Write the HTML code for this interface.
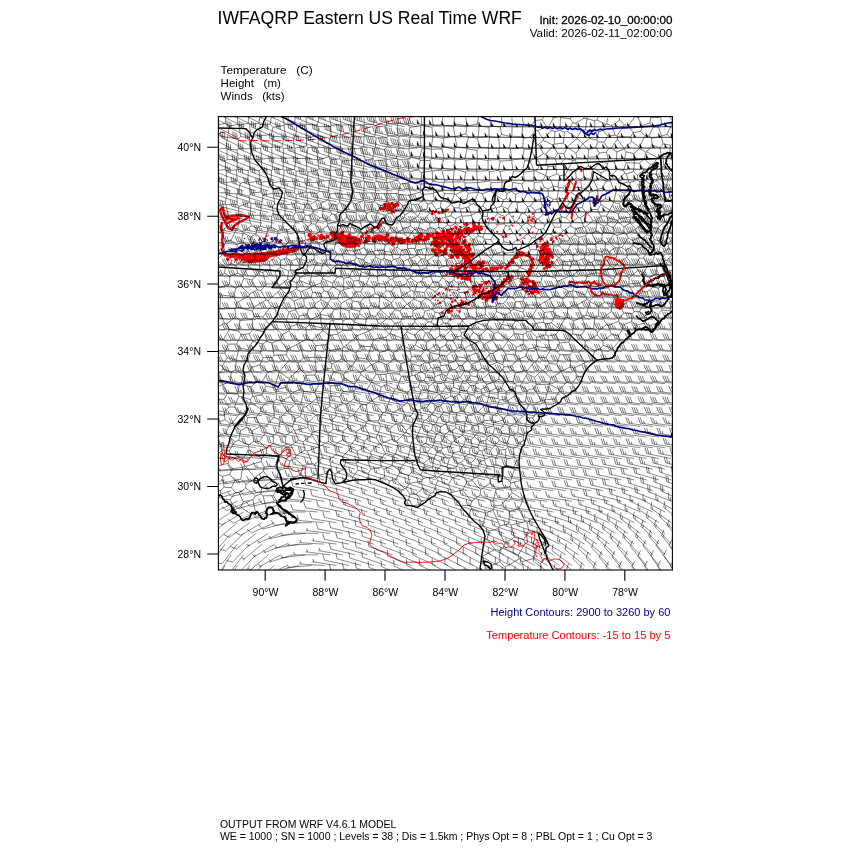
<!DOCTYPE html>
<html><head><meta charset="utf-8"><title>IWFAQRP Eastern US Real Time WRF</title>
<style>html,body{margin:0;padding:0;background:#fff}body{width:850px;height:850px;overflow:hidden;font-family:"Liberation Sans",sans-serif}svg{display:block;will-change:transform}</style></head>
<body>
<svg width="850" height="850" viewBox="0 0 850 850" font-family="'Liberation Sans', sans-serif">
<defs><clipPath id="fr"><rect x="218.4" y="116.6" width="454" height="453.4"/></clipPath><mask id="tm"><rect width="850" height="850" fill="#fff"/></mask></defs>
<rect width="850" height="850" fill="#fff"/>
<g clip-path="url(#fr)" fill="none" stroke-linecap="butt" stroke-linejoin="round">
<path d="M224,253 240,254 260,253 276,251 290,248 298,247 299,250 290,253 280,255 270,257 266,261 258,262 250,263 244,260 238,258 230,257 224,256ZM338,238 344,235 352,236 358,238 360,242 356,247 349,248 342,246 338,242ZM615,299 619,298 623,300 623,306 620,309 616,307.5 615,303Z" fill="#f00" stroke="#f00" stroke-width="0.8"/>
<path d="M220,209 223,208 224,214 226,217 234,216 242,215 249,217 244,220 238,223 234,226 232,230 228,228 224,220 221,214 220,209M222,222 221,228 223,234 222,240 223,246 222,250 225,253M226,219 232,219 238,218.5 230,222 226,224" stroke="#f00" stroke-width="2.4" fill="none"/>
<path d="M379,208.7a1.8,1.8 0 1,0 3.6,0a1.8,1.8 0 1,0 -3.6,0ZM380.1,208.1a1.1,1.1 0 1,0 2.3,0a1.1,1.1 0 1,0 -2.3,0ZM392.4,211.9a1.2,1.2 0 1,0 2.4,0a1.2,1.2 0 1,0 -2.4,0ZM390.1,205.1a0.8,0.8 0 1,0 1.6,0a0.8,0.8 0 1,0 -1.6,0ZM387.3,205.8a2,2 0 1,0 3.9,0a2,2 0 1,0 -3.9,0ZM386,205.3a0.7,0.7 0 1,0 1.4,0a0.7,0.7 0 1,0 -1.4,0ZM386.7,206.7a0.7,0.7 0 1,0 1.5,0a0.7,0.7 0 1,0 -1.5,0ZM389.1,208.1a1,1 0 1,0 2,0a1,1 0 1,0 -2,0ZM382.2,208a2,2 0 1,0 4,0a2,2 0 1,0 -4,0ZM387.5,203.2a0.8,0.8 0 1,0 1.5,0a0.8,0.8 0 1,0 -1.5,0ZM387.8,208.7a1.5,1.5 0 1,0 2.9,0a1.5,1.5 0 1,0 -2.9,0ZM389.4,206.9a0.8,0.8 0 1,0 1.5,0a0.8,0.8 0 1,0 -1.5,0ZM395.2,204.3a1.9,1.9 0 1,0 3.9,0a1.9,1.9 0 1,0 -3.9,0ZM386.4,208.1a1.2,1.2 0 1,0 2.4,0a1.2,1.2 0 1,0 -2.4,0ZM390.3,203.5a0.7,0.7 0 1,0 1.4,0a0.7,0.7 0 1,0 -1.4,0ZM389.4,204.7a0.8,0.8 0 1,0 1.6,0a0.8,0.8 0 1,0 -1.6,0ZM390.6,207.9a1.5,1.5 0 1,0 3.1,0a1.5,1.5 0 1,0 -3.1,0ZM393.3,212.2a1,1 0 1,0 1.9,0a1,1 0 1,0 -1.9,0ZM395.1,210.1a0.8,0.8 0 1,0 1.5,0a0.8,0.8 0 1,0 -1.5,0ZM390.4,203.4a1.7,1.7 0 1,0 3.4,0a1.7,1.7 0 1,0 -3.4,0ZM390.2,211.4a1.6,1.6 0 1,0 3.3,0a1.6,1.6 0 1,0 -3.3,0ZM385.9,205.4a2,2 0 1,0 3.9,0a2,2 0 1,0 -3.9,0ZM389.9,210.4a1.5,1.5 0 1,0 3,0a1.5,1.5 0 1,0 -3,0ZM386.3,210.3a0.7,0.7 0 1,0 1.4,0a0.7,0.7 0 1,0 -1.4,0ZM397.6,210.2a0.8,0.8 0 1,0 1.6,0a0.8,0.8 0 1,0 -1.6,0ZM383.2,204.4a1,1 0 1,0 1.9,0a1,1 0 1,0 -1.9,0ZM397.2,205.7a1.1,1.1 0 1,0 2.3,0a1.1,1.1 0 1,0 -2.3,0ZM392.5,204.9a0.7,0.7 0 1,0 1.5,0a0.7,0.7 0 1,0 -1.5,0ZM388.6,209.9a1.4,1.4 0 1,0 2.8,0a1.4,1.4 0 1,0 -2.8,0ZM392.7,205.9a1.9,1.9 0 1,0 3.7,0a1.9,1.9 0 1,0 -3.7,0ZM386.2,208a0.7,0.7 0 1,0 1.4,0a0.7,0.7 0 1,0 -1.4,0ZM394,206.2a1.3,1.3 0 1,0 2.7,0a1.3,1.3 0 1,0 -2.7,0ZM384.1,204.9a0.7,0.7 0 1,0 1.5,0a0.7,0.7 0 1,0 -1.5,0ZM388.7,205.3a0.8,0.8 0 1,0 1.5,0a0.8,0.8 0 1,0 -1.5,0ZM383.6,204.6a1.8,1.8 0 1,0 3.6,0a1.8,1.8 0 1,0 -3.6,0ZM389.6,207.8a0.8,0.8 0 1,0 1.6,0a0.8,0.8 0 1,0 -1.6,0ZM386.8,207.5a0.7,0.7 0 1,0 1.5,0a0.7,0.7 0 1,0 -1.5,0ZM382.6,211.3a0.7,0.7 0 1,0 1.4,0a0.7,0.7 0 1,0 -1.4,0ZM385.7,201.4a0.7,0.7 0 1,0 1.5,0a0.7,0.7 0 1,0 -1.5,0ZM451.9,246.4a2,2 0 1,0 4.1,0a2,2 0 1,0 -4.1,0ZM467,251.2a1.6,1.6 0 1,0 3.2,0a1.6,1.6 0 1,0 -3.2,0ZM462.1,241.7a1.5,1.5 0 1,0 3,0a1.5,1.5 0 1,0 -3,0ZM463.1,237.1a1.4,1.4 0 1,0 2.8,0a1.4,1.4 0 1,0 -2.8,0ZM434.3,254a1.4,1.4 0 1,0 2.7,0a1.4,1.4 0 1,0 -2.7,0ZM447.3,237.2a1.6,1.6 0 1,0 3.2,0a1.6,1.6 0 1,0 -3.2,0ZM434.3,241.3a1.9,1.9 0 1,0 3.7,0a1.9,1.9 0 1,0 -3.7,0ZM438.2,246.8a1.5,1.5 0 1,0 3.1,0a1.5,1.5 0 1,0 -3.1,0ZM460.8,242.7a0.8,0.8 0 1,0 1.6,0a0.8,0.8 0 1,0 -1.6,0ZM451.8,251.2a2,2 0 1,0 4.1,0a2,2 0 1,0 -4.1,0ZM439.9,237.8a2,2 0 1,0 4,0a2,2 0 1,0 -4,0ZM454.5,255.1a1.8,1.8 0 1,0 3.5,0a1.8,1.8 0 1,0 -3.5,0ZM434.5,253.9a1,1 0 1,0 1.9,0a1,1 0 1,0 -1.9,0ZM461.2,254a1.9,1.9 0 1,0 3.7,0a1.9,1.9 0 1,0 -3.7,0ZM462.2,243.8a0.8,0.8 0 1,0 1.7,0a0.8,0.8 0 1,0 -1.7,0ZM438.1,248.2a0.9,0.9 0 1,0 1.7,0a0.9,0.9 0 1,0 -1.7,0ZM435.4,246.3a1.9,1.9 0 1,0 3.7,0a1.9,1.9 0 1,0 -3.7,0ZM467.4,244.9a0.8,0.8 0 1,0 1.6,0a0.8,0.8 0 1,0 -1.6,0ZM437,242.7a1.7,1.7 0 1,0 3.5,0a1.7,1.7 0 1,0 -3.5,0ZM458.3,246.6a1.1,1.1 0 1,0 2.2,0a1.1,1.1 0 1,0 -2.2,0ZM450.9,250.9a0.8,0.8 0 1,0 1.6,0a0.8,0.8 0 1,0 -1.6,0ZM437.8,238.9a1.4,1.4 0 1,0 2.8,0a1.4,1.4 0 1,0 -2.8,0ZM455.7,255.7a0.8,0.8 0 1,0 1.7,0a0.8,0.8 0 1,0 -1.7,0ZM467.2,246.7a1.6,1.6 0 1,0 3.1,0a1.6,1.6 0 1,0 -3.1,0ZM455.4,252.5a1,1 0 1,0 2,0a1,1 0 1,0 -2,0ZM443.4,235.7a1.4,1.4 0 1,0 2.7,0a1.4,1.4 0 1,0 -2.7,0ZM449.9,237a1.7,1.7 0 1,0 3.5,0a1.7,1.7 0 1,0 -3.5,0ZM454.5,243.9a2.1,2.1 0 1,0 4.2,0a2.1,2.1 0 1,0 -4.2,0ZM448.5,241.3a1.1,1.1 0 1,0 2.2,0a1.1,1.1 0 1,0 -2.2,0ZM434.4,254.2a2,2 0 1,0 3.9,0a2,2 0 1,0 -3.9,0ZM446.8,239.9a2,2 0 1,0 4,0a2,2 0 1,0 -4,0ZM459.2,239.4a0.8,0.8 0 1,0 1.6,0a0.8,0.8 0 1,0 -1.6,0ZM430.8,250.1a1.7,1.7 0 1,0 3.4,0a1.7,1.7 0 1,0 -3.4,0ZM445.4,246.2a1.8,1.8 0 1,0 3.6,0a1.8,1.8 0 1,0 -3.6,0ZM455.9,253.2a1.7,1.7 0 1,0 3.5,0a1.7,1.7 0 1,0 -3.5,0ZM455.5,249.9a1.2,1.2 0 1,0 2.4,0a1.2,1.2 0 1,0 -2.4,0ZM459.3,249.3a1.2,1.2 0 1,0 2.4,0a1.2,1.2 0 1,0 -2.4,0ZM436.8,237.6a1.9,1.9 0 1,0 3.7,0a1.9,1.9 0 1,0 -3.7,0ZM437.3,243.1a1,1 0 1,0 2,0a1,1 0 1,0 -2,0ZM468.5,243.8a1.3,1.3 0 1,0 2.6,0a1.3,1.3 0 1,0 -2.6,0ZM455.7,256.6a1.2,1.2 0 1,0 2.4,0a1.2,1.2 0 1,0 -2.4,0ZM445.8,244.7a2.2,2.2 0 1,0 4.4,0a2.2,2.2 0 1,0 -4.4,0ZM433.4,245.1a1.8,1.8 0 1,0 3.5,0a1.8,1.8 0 1,0 -3.5,0ZM432.6,242a1.5,1.5 0 1,0 3,0a1.5,1.5 0 1,0 -3,0ZM467.9,250.5a1.1,1.1 0 1,0 2.1,0a1.1,1.1 0 1,0 -2.1,0ZM448,256.1a0.8,0.8 0 1,0 1.6,0a0.8,0.8 0 1,0 -1.6,0ZM464.6,240a1,1 0 1,0 1.9,0a1,1 0 1,0 -1.9,0ZM456.7,243.9a1.7,1.7 0 1,0 3.4,0a1.7,1.7 0 1,0 -3.4,0ZM460.4,246.8a0.9,0.9 0 1,0 1.8,0a0.9,0.9 0 1,0 -1.8,0ZM444.7,238.7a1,1 0 1,0 2,0a1,1 0 1,0 -2,0ZM444,243.1a1.6,1.6 0 1,0 3.2,0a1.6,1.6 0 1,0 -3.2,0ZM463.6,253.5a0.9,0.9 0 1,0 1.8,0a0.9,0.9 0 1,0 -1.8,0ZM456.2,256.5a1.1,1.1 0 1,0 2.2,0a1.1,1.1 0 1,0 -2.2,0ZM438.2,252.5a1.2,1.2 0 1,0 2.4,0a1.2,1.2 0 1,0 -2.4,0ZM455.3,251.1a1.4,1.4 0 1,0 2.8,0a1.4,1.4 0 1,0 -2.8,0ZM436.6,237.6a1.9,1.9 0 1,0 3.8,0a1.9,1.9 0 1,0 -3.8,0ZM443.4,253.2a2.1,2.1 0 1,0 4.2,0a2.1,2.1 0 1,0 -4.2,0ZM456.5,242.9a0.9,0.9 0 1,0 1.8,0a0.9,0.9 0 1,0 -1.8,0ZM448.4,239.1a0.8,0.8 0 1,0 1.6,0a0.8,0.8 0 1,0 -1.6,0ZM457.4,237.8a1.7,1.7 0 1,0 3.5,0a1.7,1.7 0 1,0 -3.5,0ZM460.7,252.5a1.5,1.5 0 1,0 3,0a1.5,1.5 0 1,0 -3,0ZM460,246.7a1.5,1.5 0 1,0 3,0a1.5,1.5 0 1,0 -3,0ZM463.3,253.1a1.7,1.7 0 1,0 3.3,0a1.7,1.7 0 1,0 -3.3,0ZM452.4,249.2a0.8,0.8 0 1,0 1.6,0a0.8,0.8 0 1,0 -1.6,0ZM469.2,248.7a1.2,1.2 0 1,0 2.4,0a1.2,1.2 0 1,0 -2.4,0ZM442.1,243.9a0.9,0.9 0 1,0 1.7,0a0.9,0.9 0 1,0 -1.7,0ZM453.5,247.8a2.2,2.2 0 1,0 4.3,0a2.2,2.2 0 1,0 -4.3,0ZM441.6,254.9a1.2,1.2 0 1,0 2.4,0a1.2,1.2 0 1,0 -2.4,0ZM455.5,241.3a1.1,1.1 0 1,0 2.2,0a1.1,1.1 0 1,0 -2.2,0ZM449.1,236.8a0.9,0.9 0 1,0 1.7,0a0.9,0.9 0 1,0 -1.7,0ZM459.8,255.3a0.8,0.8 0 1,0 1.6,0a0.8,0.8 0 1,0 -1.6,0ZM438.6,239.3a1.3,1.3 0 1,0 2.7,0a1.3,1.3 0 1,0 -2.7,0ZM453.1,239.5a2,2 0 1,0 4.1,0a2,2 0 1,0 -4.1,0ZM455.3,237.6a2,2 0 1,0 4,0a2,2 0 1,0 -4,0ZM462.9,249.5a1.1,1.1 0 1,0 2.3,0a1.1,1.1 0 1,0 -2.3,0ZM464.3,246.6a1.4,1.4 0 1,0 2.8,0a1.4,1.4 0 1,0 -2.8,0ZM440.7,241.4a2.1,2.1 0 1,0 4.3,0a2.1,2.1 0 1,0 -4.3,0ZM442.4,238.9a1.5,1.5 0 1,0 2.9,0a1.5,1.5 0 1,0 -2.9,0ZM432.4,241.3a1,1 0 1,0 2.1,0a1,1 0 1,0 -2.1,0ZM453,245.8a1.4,1.4 0 1,0 2.7,0a1.4,1.4 0 1,0 -2.7,0ZM449.1,239.1a1,1 0 1,0 2.1,0a1,1 0 1,0 -2.1,0ZM459.9,247.9a1,1 0 1,0 2,0a1,1 0 1,0 -2,0ZM458.7,250a2,2 0 1,0 4.1,0a2,2 0 1,0 -4.1,0ZM431,242.7a2.2,2.2 0 1,0 4.4,0a2.2,2.2 0 1,0 -4.4,0ZM449.2,243.3a2.1,2.1 0 1,0 4.2,0a2.1,2.1 0 1,0 -4.2,0ZM459.7,254.6a0.8,0.8 0 1,0 1.7,0a0.8,0.8 0 1,0 -1.7,0ZM432.7,251.3a1.3,1.3 0 1,0 2.7,0a1.3,1.3 0 1,0 -2.7,0ZM441,251.5a1.4,1.4 0 1,0 2.9,0a1.4,1.4 0 1,0 -2.9,0ZM437.5,243.3a1.6,1.6 0 1,0 3.1,0a1.6,1.6 0 1,0 -3.1,0ZM449.4,247.4a0.9,0.9 0 1,0 1.8,0a0.9,0.9 0 1,0 -1.8,0ZM458.2,247.4a1.7,1.7 0 1,0 3.3,0a1.7,1.7 0 1,0 -3.3,0ZM448.7,243.1a2.3,2.3 0 1,0 4.5,0a2.3,2.3 0 1,0 -4.5,0ZM454.8,244.8a2,2 0 1,0 4.1,0a2,2 0 1,0 -4.1,0ZM432.6,250.4a2.2,2.2 0 1,0 4.4,0a2.2,2.2 0 1,0 -4.4,0ZM449.6,256.9a2.1,2.1 0 1,0 4.2,0a2.1,2.1 0 1,0 -4.2,0ZM445.7,236a2.2,2.2 0 1,0 4.5,0a2.2,2.2 0 1,0 -4.5,0ZM440,247.7a0.8,0.8 0 1,0 1.6,0a0.8,0.8 0 1,0 -1.6,0ZM441.9,245.2a1.1,1.1 0 1,0 2.2,0a1.1,1.1 0 1,0 -2.2,0ZM441.5,237.4a0.9,0.9 0 1,0 1.8,0a0.9,0.9 0 1,0 -1.8,0ZM435,241.4a1.7,1.7 0 1,0 3.4,0a1.7,1.7 0 1,0 -3.4,0ZM449.6,250.4a2,2 0 1,0 4,0a2,2 0 1,0 -4,0ZM441.6,251.5a1.5,1.5 0 1,0 3,0a1.5,1.5 0 1,0 -3,0ZM453.2,252.3a2.2,2.2 0 1,0 4.5,0a2.2,2.2 0 1,0 -4.5,0ZM455.5,246.8a0.9,0.9 0 1,0 1.8,0a0.9,0.9 0 1,0 -1.8,0ZM465.9,252.7a0.8,0.8 0 1,0 1.6,0a0.8,0.8 0 1,0 -1.6,0ZM437.6,253.3a0.9,0.9 0 1,0 1.7,0a0.9,0.9 0 1,0 -1.7,0ZM453.4,243a0.8,0.8 0 1,0 1.6,0a0.8,0.8 0 1,0 -1.6,0ZM451.2,239.8a1.1,1.1 0 1,0 2.1,0a1.1,1.1 0 1,0 -2.1,0ZM463.7,245.5a1.3,1.3 0 1,0 2.5,0a1.3,1.3 0 1,0 -2.5,0ZM436.6,249.8a0.8,0.8 0 1,0 1.6,0a0.8,0.8 0 1,0 -1.6,0ZM454.7,243.4a0.8,0.8 0 1,0 1.6,0a0.8,0.8 0 1,0 -1.6,0ZM432.8,241.9a1.5,1.5 0 1,0 3,0a1.5,1.5 0 1,0 -3,0ZM459.2,248.9a1.5,1.5 0 1,0 2.9,0a1.5,1.5 0 1,0 -2.9,0ZM461.1,249.8a1.6,1.6 0 1,0 3.2,0a1.6,1.6 0 1,0 -3.2,0ZM445.7,239.1a0.8,0.8 0 1,0 1.7,0a0.8,0.8 0 1,0 -1.7,0ZM444.2,249.3a1.6,1.6 0 1,0 3.1,0a1.6,1.6 0 1,0 -3.1,0ZM445.3,253.4a1,1 0 1,0 2.1,0a1,1 0 1,0 -2.1,0ZM450.2,254.5a1,1 0 1,0 2,0a1,1 0 1,0 -2,0ZM439.6,252.8a1,1 0 1,0 2.1,0a1,1 0 1,0 -2.1,0ZM456.1,256.9a1.8,1.8 0 1,0 3.5,0a1.8,1.8 0 1,0 -3.5,0ZM440.3,243.8a1.7,1.7 0 1,0 3.3,0a1.7,1.7 0 1,0 -3.3,0ZM459.6,241a0.8,0.8 0 1,0 1.6,0a0.8,0.8 0 1,0 -1.6,0ZM430.1,244.9a1.3,1.3 0 1,0 2.6,0a1.3,1.3 0 1,0 -2.6,0ZM451.7,242.9a1.2,1.2 0 1,0 2.5,0a1.2,1.2 0 1,0 -2.5,0ZM451.8,242.3a0.8,0.8 0 1,0 1.6,0a0.8,0.8 0 1,0 -1.6,0ZM443.1,240.6a0.9,0.9 0 1,0 1.7,0a0.9,0.9 0 1,0 -1.7,0ZM451.2,235.1a1.7,1.7 0 1,0 3.4,0a1.7,1.7 0 1,0 -3.4,0ZM437.5,251a2.2,2.2 0 1,0 4.4,0a2.2,2.2 0 1,0 -4.4,0ZM441.2,236.7a1.2,1.2 0 1,0 2.5,0a1.2,1.2 0 1,0 -2.5,0ZM463.1,241.3a1.8,1.8 0 1,0 3.6,0a1.8,1.8 0 1,0 -3.6,0ZM437.2,237.5a1.6,1.6 0 1,0 3.1,0a1.6,1.6 0 1,0 -3.1,0ZM455.2,237.1a1.1,1.1 0 1,0 2.1,0a1.1,1.1 0 1,0 -2.1,0ZM465.4,245.5a0.8,0.8 0 1,0 1.7,0a0.8,0.8 0 1,0 -1.7,0ZM454.8,255.1a0.9,0.9 0 1,0 1.9,0a0.9,0.9 0 1,0 -1.9,0ZM455.5,245.4a0.9,0.9 0 1,0 1.9,0a0.9,0.9 0 1,0 -1.9,0ZM451.8,240.4a0.8,0.8 0 1,0 1.6,0a0.8,0.8 0 1,0 -1.6,0ZM449.9,270a1.8,1.8 0 1,0 3.5,0a1.8,1.8 0 1,0 -3.5,0ZM471.9,268.7a0.7,0.7 0 1,0 1.5,0a0.7,0.7 0 1,0 -1.5,0ZM467.4,272.3a1.4,1.4 0 1,0 2.7,0a1.4,1.4 0 1,0 -2.7,0ZM459.2,265.6a0.7,0.7 0 1,0 1.5,0a0.7,0.7 0 1,0 -1.5,0ZM464.1,271.6a1.4,1.4 0 1,0 2.9,0a1.4,1.4 0 1,0 -2.9,0ZM459.7,275a1.6,1.6 0 1,0 3.1,0a1.6,1.6 0 1,0 -3.1,0ZM456,268.6a1.7,1.7 0 1,0 3.4,0a1.7,1.7 0 1,0 -3.4,0ZM475.3,265.2a1.1,1.1 0 1,0 2.2,0a1.1,1.1 0 1,0 -2.2,0ZM479.5,266.2a0.8,0.8 0 1,0 1.5,0a0.8,0.8 0 1,0 -1.5,0ZM469.7,262.4a1.1,1.1 0 1,0 2.1,0a1.1,1.1 0 1,0 -2.1,0ZM455.5,267.5a2,2 0 1,0 3.9,0a2,2 0 1,0 -3.9,0ZM461.4,264.3a0.7,0.7 0 1,0 1.4,0a0.7,0.7 0 1,0 -1.4,0ZM454.1,269a1.5,1.5 0 1,0 3.1,0a1.5,1.5 0 1,0 -3.1,0ZM470,270.9a0.8,0.8 0 1,0 1.7,0a0.8,0.8 0 1,0 -1.7,0ZM475.4,267.8a1.1,1.1 0 1,0 2.1,0a1.1,1.1 0 1,0 -2.1,0ZM473.9,270.4a1.4,1.4 0 1,0 2.7,0a1.4,1.4 0 1,0 -2.7,0ZM477.3,271.9a1,1 0 1,0 2,0a1,1 0 1,0 -2,0ZM480.7,265.8a1.7,1.7 0 1,0 3.3,0a1.7,1.7 0 1,0 -3.3,0ZM469.8,275.3a1.1,1.1 0 1,0 2.1,0a1.1,1.1 0 1,0 -2.1,0ZM462.4,272.8a0.7,0.7 0 1,0 1.4,0a0.7,0.7 0 1,0 -1.4,0ZM461,274.3a1.4,1.4 0 1,0 2.7,0a1.4,1.4 0 1,0 -2.7,0ZM475.5,271.7a1,1 0 1,0 2,0a1,1 0 1,0 -2,0ZM465,267.2a0.9,0.9 0 1,0 1.8,0a0.9,0.9 0 1,0 -1.8,0ZM463.7,263.7a1.1,1.1 0 1,0 2.2,0a1.1,1.1 0 1,0 -2.2,0ZM463.3,268.2a2,2 0 1,0 4,0a2,2 0 1,0 -4,0ZM468.3,264.1a1.2,1.2 0 1,0 2.4,0a1.2,1.2 0 1,0 -2.4,0ZM463,273.6a1.1,1.1 0 1,0 2.2,0a1.1,1.1 0 1,0 -2.2,0ZM462.9,273.2a0.9,0.9 0 1,0 1.8,0a0.9,0.9 0 1,0 -1.8,0ZM461.6,264a0.8,0.8 0 1,0 1.5,0a0.8,0.8 0 1,0 -1.5,0ZM463.9,262.7a1.9,1.9 0 1,0 3.7,0a1.9,1.9 0 1,0 -3.7,0ZM471.8,269.8a0.7,0.7 0 1,0 1.4,0a0.7,0.7 0 1,0 -1.4,0ZM470.6,273.5a1.6,1.6 0 1,0 3.2,0a1.6,1.6 0 1,0 -3.2,0ZM461.9,266.6a0.8,0.8 0 1,0 1.5,0a0.8,0.8 0 1,0 -1.5,0ZM469.5,270.6a0.9,0.9 0 1,0 1.8,0a0.9,0.9 0 1,0 -1.8,0ZM452.9,271.2a1.2,1.2 0 1,0 2.5,0a1.2,1.2 0 1,0 -2.5,0ZM458,271.5a0.9,0.9 0 1,0 1.8,0a0.9,0.9 0 1,0 -1.8,0ZM477.7,268.6a1.3,1.3 0 1,0 2.7,0a1.3,1.3 0 1,0 -2.7,0ZM476.8,268.6a0.9,0.9 0 1,0 1.7,0a0.9,0.9 0 1,0 -1.7,0ZM462.8,265.7a0.9,0.9 0 1,0 1.8,0a0.9,0.9 0 1,0 -1.8,0ZM478.5,263.7a0.9,0.9 0 1,0 1.7,0a0.9,0.9 0 1,0 -1.7,0ZM459,268a1.4,1.4 0 1,0 2.7,0a1.4,1.4 0 1,0 -2.7,0ZM480,267.4a1.4,1.4 0 1,0 2.7,0a1.4,1.4 0 1,0 -2.7,0ZM469.2,264.6a1.9,1.9 0 1,0 3.7,0a1.9,1.9 0 1,0 -3.7,0ZM460.7,265.1a0.7,0.7 0 1,0 1.4,0a0.7,0.7 0 1,0 -1.4,0ZM466.2,275.9a1.3,1.3 0 1,0 2.7,0a1.3,1.3 0 1,0 -2.7,0ZM457.7,273.1a0.7,0.7 0 1,0 1.4,0a0.7,0.7 0 1,0 -1.4,0ZM471.6,267.5a1.8,1.8 0 1,0 3.5,0a1.8,1.8 0 1,0 -3.5,0ZM451.1,265.9a1.1,1.1 0 1,0 2.2,0a1.1,1.1 0 1,0 -2.2,0ZM460.5,266.2a1.6,1.6 0 1,0 3.2,0a1.6,1.6 0 1,0 -3.2,0ZM466.3,275.8a1.6,1.6 0 1,0 3.2,0a1.6,1.6 0 1,0 -3.2,0ZM472.2,274.9a0.7,0.7 0 1,0 1.4,0a0.7,0.7 0 1,0 -1.4,0ZM472.4,268.8a2,2 0 1,0 3.9,0a2,2 0 1,0 -3.9,0ZM464.9,262.1a1.2,1.2 0 1,0 2.3,0a1.2,1.2 0 1,0 -2.3,0ZM467,267a0.8,0.8 0 1,0 1.5,0a0.8,0.8 0 1,0 -1.5,0ZM459.6,268.7a0.9,0.9 0 1,0 1.8,0a0.9,0.9 0 1,0 -1.8,0ZM459.2,266.4a1.1,1.1 0 1,0 2.1,0a1.1,1.1 0 1,0 -2.1,0ZM464.8,275.7a0.8,0.8 0 1,0 1.7,0a0.8,0.8 0 1,0 -1.7,0ZM463.6,266.7a1.3,1.3 0 1,0 2.6,0a1.3,1.3 0 1,0 -2.6,0ZM455.1,264a0.9,0.9 0 1,0 1.8,0a0.9,0.9 0 1,0 -1.8,0ZM455.1,271.5a1.1,1.1 0 1,0 2.2,0a1.1,1.1 0 1,0 -2.2,0ZM478.1,263.9a1.1,1.1 0 1,0 2.1,0a1.1,1.1 0 1,0 -2.1,0ZM482.9,293.5a1.4,1.4 0 1,0 2.9,0a1.4,1.4 0 1,0 -2.9,0ZM490.3,292.8a1,1 0 1,0 2,0a1,1 0 1,0 -2,0ZM474,290.9a0.7,0.7 0 1,0 1.4,0a0.7,0.7 0 1,0 -1.4,0ZM480.6,281.5a0.8,0.8 0 1,0 1.6,0a0.8,0.8 0 1,0 -1.6,0ZM481.3,298.8a0.8,0.8 0 1,0 1.6,0a0.8,0.8 0 1,0 -1.6,0ZM492.3,284.6a1.6,1.6 0 1,0 3.2,0a1.6,1.6 0 1,0 -3.2,0ZM494,298.2a2,2 0 1,0 3.9,0a2,2 0 1,0 -3.9,0ZM493.6,291a0.8,0.8 0 1,0 1.7,0a0.8,0.8 0 1,0 -1.7,0ZM482.3,293.6a1.8,1.8 0 1,0 3.6,0a1.8,1.8 0 1,0 -3.6,0ZM489.6,283.4a0.9,0.9 0 1,0 1.8,0a0.9,0.9 0 1,0 -1.8,0ZM482.3,289.7a0.7,0.7 0 1,0 1.4,0a0.7,0.7 0 1,0 -1.4,0ZM492.7,286.8a1,1 0 1,0 2.1,0a1,1 0 1,0 -2.1,0ZM477.6,292a0.8,0.8 0 1,0 1.6,0a0.8,0.8 0 1,0 -1.6,0ZM477.5,298.4a0.7,0.7 0 1,0 1.5,0a0.7,0.7 0 1,0 -1.5,0ZM489.6,292.2a1.4,1.4 0 1,0 2.9,0a1.4,1.4 0 1,0 -2.9,0ZM496.6,287.6a0.7,0.7 0 1,0 1.4,0a0.7,0.7 0 1,0 -1.4,0ZM486.2,298a1.4,1.4 0 1,0 2.8,0a1.4,1.4 0 1,0 -2.8,0ZM487.6,295.9a0.8,0.8 0 1,0 1.6,0a0.8,0.8 0 1,0 -1.6,0ZM485.4,297.9a1.9,1.9 0 1,0 3.8,0a1.9,1.9 0 1,0 -3.8,0ZM480.2,285.2a1.3,1.3 0 1,0 2.5,0a1.3,1.3 0 1,0 -2.5,0ZM472.1,294.7a1.1,1.1 0 1,0 2.2,0a1.1,1.1 0 1,0 -2.2,0ZM482.6,297.1a1.6,1.6 0 1,0 3.2,0a1.6,1.6 0 1,0 -3.2,0ZM492.4,294.5a1.5,1.5 0 1,0 3,0a1.5,1.5 0 1,0 -3,0ZM485.1,297.7a1.1,1.1 0 1,0 2.2,0a1.1,1.1 0 1,0 -2.2,0ZM487.9,290.8a1,1 0 1,0 2,0a1,1 0 1,0 -2,0ZM484.1,282.9a1.9,1.9 0 1,0 3.8,0a1.9,1.9 0 1,0 -3.8,0ZM477.8,291a1.1,1.1 0 1,0 2.3,0a1.1,1.1 0 1,0 -2.3,0ZM478.2,284.8a1.3,1.3 0 1,0 2.6,0a1.3,1.3 0 1,0 -2.6,0ZM487.7,281.3a1.1,1.1 0 1,0 2.1,0a1.1,1.1 0 1,0 -2.1,0ZM485.6,299.9a1.5,1.5 0 1,0 3.1,0a1.5,1.5 0 1,0 -3.1,0ZM486.4,300.5a0.8,0.8 0 1,0 1.5,0a0.8,0.8 0 1,0 -1.5,0ZM473.7,286.3a0.7,0.7 0 1,0 1.4,0a0.7,0.7 0 1,0 -1.4,0ZM488,295.3a0.7,0.7 0 1,0 1.4,0a0.7,0.7 0 1,0 -1.4,0ZM473,291.2a1,1 0 1,0 1.9,0a1,1 0 1,0 -1.9,0ZM471.6,286.7a1.6,1.6 0 1,0 3.2,0a1.6,1.6 0 1,0 -3.2,0ZM485.6,295.6a0.8,0.8 0 1,0 1.7,0a0.8,0.8 0 1,0 -1.7,0ZM494.2,292.9a1.2,1.2 0 1,0 2.5,0a1.2,1.2 0 1,0 -2.5,0ZM476.1,290a1.2,1.2 0 1,0 2.4,0a1.2,1.2 0 1,0 -2.4,0ZM489.3,296.6a0.7,0.7 0 1,0 1.5,0a0.7,0.7 0 1,0 -1.5,0ZM486,288.1a0.9,0.9 0 1,0 1.9,0a0.9,0.9 0 1,0 -1.9,0ZM478.8,295.3a2,2 0 1,0 4,0a2,2 0 1,0 -4,0ZM497.1,293.5a1.5,1.5 0 1,0 3,0a1.5,1.5 0 1,0 -3,0ZM491.3,290.6a1,1 0 1,0 2,0a1,1 0 1,0 -2,0ZM485.1,288.7a0.8,0.8 0 1,0 1.6,0a0.8,0.8 0 1,0 -1.6,0ZM489.9,288.1a0.9,0.9 0 1,0 1.8,0a0.9,0.9 0 1,0 -1.8,0ZM481.8,299.3a0.7,0.7 0 1,0 1.4,0a0.7,0.7 0 1,0 -1.4,0ZM486,297.3a1.1,1.1 0 1,0 2.3,0a1.1,1.1 0 1,0 -2.3,0ZM484.7,300.2a1.9,1.9 0 1,0 3.8,0a1.9,1.9 0 1,0 -3.8,0ZM477.3,296.6a2,2 0 1,0 4.1,0a2,2 0 1,0 -4.1,0ZM482.6,289.5a0.9,0.9 0 1,0 1.9,0a0.9,0.9 0 1,0 -1.9,0ZM482.8,288.7a0.9,0.9 0 1,0 1.7,0a0.9,0.9 0 1,0 -1.7,0ZM473.4,292.9a1.7,1.7 0 1,0 3.4,0a1.7,1.7 0 1,0 -3.4,0ZM487.5,298.4a0.7,0.7 0 1,0 1.5,0a0.7,0.7 0 1,0 -1.5,0ZM478.8,289.5a0.8,0.8 0 1,0 1.5,0a0.8,0.8 0 1,0 -1.5,0ZM529.9,292.4a0.8,0.8 0 1,0 1.6,0a0.8,0.8 0 1,0 -1.6,0ZM530.2,291.4a0.7,0.7 0 1,0 1.4,0a0.7,0.7 0 1,0 -1.4,0ZM525.9,279a0.8,0.8 0 1,0 1.6,0a0.8,0.8 0 1,0 -1.6,0ZM532.5,285.5a0.8,0.8 0 1,0 1.6,0a0.8,0.8 0 1,0 -1.6,0ZM527,279.8a0.9,0.9 0 1,0 1.7,0a0.9,0.9 0 1,0 -1.7,0ZM534,285.8a0.9,0.9 0 1,0 1.8,0a0.9,0.9 0 1,0 -1.8,0ZM525.9,284.7a0.9,0.9 0 1,0 1.8,0a0.9,0.9 0 1,0 -1.8,0ZM528.4,286.9a0.7,0.7 0 1,0 1.5,0a0.7,0.7 0 1,0 -1.5,0ZM526.8,284a0.8,0.8 0 1,0 1.6,0a0.8,0.8 0 1,0 -1.6,0ZM520.8,288.9a0.7,0.7 0 1,0 1.4,0a0.7,0.7 0 1,0 -1.4,0ZM526.3,280a1.3,1.3 0 1,0 2.7,0a1.3,1.3 0 1,0 -2.7,0ZM526.3,281.7a0.8,0.8 0 1,0 1.5,0a0.8,0.8 0 1,0 -1.5,0ZM521.9,288.7a1.6,1.6 0 1,0 3.2,0a1.6,1.6 0 1,0 -3.2,0ZM529,290.5a0.8,0.8 0 1,0 1.7,0a0.8,0.8 0 1,0 -1.7,0ZM528.7,286.9a0.7,0.7 0 1,0 1.4,0a0.7,0.7 0 1,0 -1.4,0ZM521.6,278.6a1.5,1.5 0 1,0 3,0a1.5,1.5 0 1,0 -3,0ZM533.4,284.1a1.2,1.2 0 1,0 2.5,0a1.2,1.2 0 1,0 -2.5,0ZM531.8,282.7a1.3,1.3 0 1,0 2.5,0a1.3,1.3 0 1,0 -2.5,0ZM531.2,281.4a1.2,1.2 0 1,0 2.4,0a1.2,1.2 0 1,0 -2.4,0ZM534.1,288.8a0.9,0.9 0 1,0 1.8,0a0.9,0.9 0 1,0 -1.8,0ZM534.3,287.4a0.8,0.8 0 1,0 1.7,0a0.8,0.8 0 1,0 -1.7,0ZM522.8,285.1a0.7,0.7 0 1,0 1.5,0a0.7,0.7 0 1,0 -1.5,0ZM522,289.4a0.7,0.7 0 1,0 1.5,0a0.7,0.7 0 1,0 -1.5,0ZM525.8,280.7a0.7,0.7 0 1,0 1.4,0a0.7,0.7 0 1,0 -1.4,0ZM524.4,290.9a0.7,0.7 0 1,0 1.5,0a0.7,0.7 0 1,0 -1.5,0ZM534.8,286a0.9,0.9 0 1,0 1.7,0a0.9,0.9 0 1,0 -1.7,0ZM534.6,287.6a0.7,0.7 0 1,0 1.4,0a0.7,0.7 0 1,0 -1.4,0ZM519.1,285.3a1,1 0 1,0 1.9,0a1,1 0 1,0 -1.9,0ZM525.9,289.6a0.7,0.7 0 1,0 1.4,0a0.7,0.7 0 1,0 -1.4,0ZM522.9,282.9a1.2,1.2 0 1,0 2.5,0a1.2,1.2 0 1,0 -2.5,0ZM530.8,292a1.2,1.2 0 1,0 2.3,0a1.2,1.2 0 1,0 -2.3,0ZM534,283.2a1.1,1.1 0 1,0 2.2,0a1.1,1.1 0 1,0 -2.2,0ZM522.3,288.7a0.8,0.8 0 1,0 1.6,0a0.8,0.8 0 1,0 -1.6,0ZM531.5,285.9a1,1 0 1,0 2,0a1,1 0 1,0 -2,0ZM524.9,291a1.8,1.8 0 1,0 3.7,0a1.8,1.8 0 1,0 -3.7,0ZM530.8,288.6a0.8,0.8 0 1,0 1.5,0a0.8,0.8 0 1,0 -1.5,0ZM526.2,280.5a0.7,0.7 0 1,0 1.4,0a0.7,0.7 0 1,0 -1.4,0ZM521.7,283.2a0.8,0.8 0 1,0 1.5,0a0.8,0.8 0 1,0 -1.5,0ZM534.1,283.8a0.8,0.8 0 1,0 1.7,0a0.8,0.8 0 1,0 -1.7,0ZM532.1,281.2a1.3,1.3 0 1,0 2.6,0a1.3,1.3 0 1,0 -2.6,0ZM519.5,285.5a0.9,0.9 0 1,0 1.7,0a0.9,0.9 0 1,0 -1.7,0ZM523.4,283.9a0.8,0.8 0 1,0 1.5,0a0.8,0.8 0 1,0 -1.5,0ZM526.1,288.8a1,1 0 1,0 2,0a1,1 0 1,0 -2,0ZM450.7,305.5a0.7,0.7 0 1,0 1.4,0a0.7,0.7 0 1,0 -1.4,0ZM458,311.6a1.2,1.2 0 1,0 2.5,0a1.2,1.2 0 1,0 -2.5,0ZM438.6,303a1.4,1.4 0 1,0 2.8,0a1.4,1.4 0 1,0 -2.8,0ZM450.3,298.7a0.8,0.8 0 1,0 1.5,0a0.8,0.8 0 1,0 -1.5,0ZM441.1,312.8a1.2,1.2 0 1,0 2.4,0a1.2,1.2 0 1,0 -2.4,0ZM434,296.2a1.1,1.1 0 1,0 2.3,0a1.1,1.1 0 1,0 -2.3,0ZM449.4,295.4a0.8,0.8 0 1,0 1.7,0a0.8,0.8 0 1,0 -1.7,0ZM442.5,293.4a0.7,0.7 0 1,0 1.5,0a0.7,0.7 0 1,0 -1.5,0ZM464.4,303.5a1.5,1.5 0 1,0 3,0a1.5,1.5 0 1,0 -3,0ZM454,300.7a1.1,1.1 0 1,0 2.3,0a1.1,1.1 0 1,0 -2.3,0ZM451.1,301.7a1.2,1.2 0 1,0 2.3,0a1.2,1.2 0 1,0 -2.3,0ZM450.2,304.7a0.8,0.8 0 1,0 1.5,0a0.8,0.8 0 1,0 -1.5,0ZM456.1,310.3a0.7,0.7 0 1,0 1.4,0a0.7,0.7 0 1,0 -1.4,0ZM432.2,297.9a0.8,0.8 0 1,0 1.7,0a0.8,0.8 0 1,0 -1.7,0ZM453,292.6a0.8,0.8 0 1,0 1.7,0a0.8,0.8 0 1,0 -1.7,0ZM460.2,300.4a1.1,1.1 0 1,0 2.3,0a1.1,1.1 0 1,0 -2.3,0ZM452.3,308.7a0.7,0.7 0 1,0 1.4,0a0.7,0.7 0 1,0 -1.4,0ZM456.5,297.8a0.9,0.9 0 1,0 1.8,0a0.9,0.9 0 1,0 -1.8,0ZM548.7,262.8a0.7,0.7 0 1,0 1.4,0a0.7,0.7 0 1,0 -1.4,0ZM542,253.5a1.3,1.3 0 1,0 2.6,0a1.3,1.3 0 1,0 -2.6,0ZM544.4,264a1,1 0 1,0 2.1,0a1,1 0 1,0 -2.1,0ZM542.6,262.5a0.7,0.7 0 1,0 1.4,0a0.7,0.7 0 1,0 -1.4,0ZM544.5,260.2a0.7,0.7 0 1,0 1.5,0a0.7,0.7 0 1,0 -1.5,0ZM538.9,257.1a1.7,1.7 0 1,0 3.4,0a1.7,1.7 0 1,0 -3.4,0ZM543.4,258.4a1.2,1.2 0 1,0 2.3,0a1.2,1.2 0 1,0 -2.3,0ZM544.8,249.1a0.7,0.7 0 1,0 1.4,0a0.7,0.7 0 1,0 -1.4,0ZM546.6,260.9a0.7,0.7 0 1,0 1.4,0a0.7,0.7 0 1,0 -1.4,0ZM543,268.6a0.7,0.7 0 1,0 1.4,0a0.7,0.7 0 1,0 -1.4,0ZM550.7,257a1.7,1.7 0 1,0 3.4,0a1.7,1.7 0 1,0 -3.4,0ZM546.4,255.5a2.1,2.1 0 1,0 4.1,0a2.1,2.1 0 1,0 -4.1,0ZM552,258.2a0.8,0.8 0 1,0 1.6,0a0.8,0.8 0 1,0 -1.6,0ZM540.8,263a1.3,1.3 0 1,0 2.7,0a1.3,1.3 0 1,0 -2.7,0ZM546.6,246.1a1.3,1.3 0 1,0 2.6,0a1.3,1.3 0 1,0 -2.6,0ZM541.5,263.2a1.9,1.9 0 1,0 3.9,0a1.9,1.9 0 1,0 -3.9,0ZM544.1,260.5a0.9,0.9 0 1,0 1.7,0a0.9,0.9 0 1,0 -1.7,0ZM544.3,248.3a1.5,1.5 0 1,0 3.1,0a1.5,1.5 0 1,0 -3.1,0ZM546.4,260.8a0.7,0.7 0 1,0 1.5,0a0.7,0.7 0 1,0 -1.5,0ZM542,265.6a0.7,0.7 0 1,0 1.4,0a0.7,0.7 0 1,0 -1.4,0ZM539.8,255.8a0.9,0.9 0 1,0 1.7,0a0.9,0.9 0 1,0 -1.7,0ZM545.6,267.3a1.4,1.4 0 1,0 2.9,0a1.4,1.4 0 1,0 -2.9,0ZM546.5,264.1a1.4,1.4 0 1,0 2.8,0a1.4,1.4 0 1,0 -2.8,0ZM549.6,252.8a0.8,0.8 0 1,0 1.5,0a0.8,0.8 0 1,0 -1.5,0ZM540.5,246.4a1.2,1.2 0 1,0 2.4,0a1.2,1.2 0 1,0 -2.4,0ZM542.5,244.5a1.4,1.4 0 1,0 2.7,0a1.4,1.4 0 1,0 -2.7,0ZM540.7,261.4a0.8,0.8 0 1,0 1.6,0a0.8,0.8 0 1,0 -1.6,0ZM539.4,247.3a1.1,1.1 0 1,0 2.2,0a1.1,1.1 0 1,0 -2.2,0ZM547.2,266.3a2.2,2.2 0 1,0 4.4,0a2.2,2.2 0 1,0 -4.4,0ZM544.1,246.3a1.5,1.5 0 1,0 3,0a1.5,1.5 0 1,0 -3,0ZM549.5,255.2a1.8,1.8 0 1,0 3.7,0a1.8,1.8 0 1,0 -3.7,0ZM540.4,256.5a1.8,1.8 0 1,0 3.5,0a1.8,1.8 0 1,0 -3.5,0ZM543.4,247.7a1.7,1.7 0 1,0 3.4,0a1.7,1.7 0 1,0 -3.4,0ZM537.9,260a1.8,1.8 0 1,0 3.6,0a1.8,1.8 0 1,0 -3.6,0ZM546.1,264.6a1.3,1.3 0 1,0 2.6,0a1.3,1.3 0 1,0 -2.6,0ZM550.4,262.4a1.6,1.6 0 1,0 3.3,0a1.6,1.6 0 1,0 -3.3,0ZM540.4,256.5a1.7,1.7 0 1,0 3.3,0a1.7,1.7 0 1,0 -3.3,0ZM546,249.8a0.9,0.9 0 1,0 1.8,0a0.9,0.9 0 1,0 -1.8,0ZM546.3,257.8a0.9,0.9 0 1,0 1.8,0a0.9,0.9 0 1,0 -1.8,0ZM547.5,260.8a0.9,0.9 0 1,0 1.9,0a0.9,0.9 0 1,0 -1.9,0ZM545.5,253.5a2.2,2.2 0 1,0 4.3,0a2.2,2.2 0 1,0 -4.3,0ZM544.3,256.8a0.9,0.9 0 1,0 1.7,0a0.9,0.9 0 1,0 -1.7,0ZM544.1,249.3a0.7,0.7 0 1,0 1.4,0a0.7,0.7 0 1,0 -1.4,0ZM543.2,244.2a0.7,0.7 0 1,0 1.5,0a0.7,0.7 0 1,0 -1.5,0ZM541.4,249.3a0.8,0.8 0 1,0 1.5,0a0.8,0.8 0 1,0 -1.5,0ZM544.7,245.4a0.8,0.8 0 1,0 1.7,0a0.8,0.8 0 1,0 -1.7,0ZM542.2,259.4a1.3,1.3 0 1,0 2.6,0a1.3,1.3 0 1,0 -2.6,0ZM540,262.7a1.1,1.1 0 1,0 2.2,0a1.1,1.1 0 1,0 -2.2,0ZM549.1,252.3a1.4,1.4 0 1,0 2.9,0a1.4,1.4 0 1,0 -2.9,0ZM545.8,270.7a0.8,0.8 0 1,0 1.6,0a0.8,0.8 0 1,0 -1.6,0ZM547.2,249.4a1.8,1.8 0 1,0 3.6,0a1.8,1.8 0 1,0 -3.6,0ZM541.4,244.9a2,2 0 1,0 4,0a2,2 0 1,0 -4,0ZM540.7,248.7a0.7,0.7 0 1,0 1.4,0a0.7,0.7 0 1,0 -1.4,0ZM541.3,260.5a1,1 0 1,0 2,0a1,1 0 1,0 -2,0ZM548.8,253.4a1.4,1.4 0 1,0 2.8,0a1.4,1.4 0 1,0 -2.8,0ZM543.2,248.6a1,1 0 1,0 1.9,0a1,1 0 1,0 -1.9,0ZM545.1,267.8a0.9,0.9 0 1,0 1.8,0a0.9,0.9 0 1,0 -1.8,0ZM539.7,248.4a0.7,0.7 0 1,0 1.4,0a0.7,0.7 0 1,0 -1.4,0ZM546.9,253.1a0.9,0.9 0 1,0 1.8,0a0.9,0.9 0 1,0 -1.8,0ZM541.7,247a1.9,1.9 0 1,0 3.8,0a1.9,1.9 0 1,0 -3.8,0ZM545.8,255.2a1.3,1.3 0 1,0 2.6,0a1.3,1.3 0 1,0 -2.6,0ZM540.1,258.1a1,1 0 1,0 2,0a1,1 0 1,0 -2,0ZM546.9,255.9a1,1 0 1,0 2,0a1,1 0 1,0 -2,0ZM546.5,266.5a0.7,0.7 0 1,0 1.5,0a0.7,0.7 0 1,0 -1.5,0ZM547.4,259.4a1.3,1.3 0 1,0 2.7,0a1.3,1.3 0 1,0 -2.7,0ZM549.6,264.6a0.7,0.7 0 1,0 1.4,0a0.7,0.7 0 1,0 -1.4,0ZM546,254.5a0.9,0.9 0 1,0 1.8,0a0.9,0.9 0 1,0 -1.8,0ZM539,252.9a0.7,0.7 0 1,0 1.4,0a0.7,0.7 0 1,0 -1.4,0ZM546,246.8a1.1,1.1 0 1,0 2.2,0a1.1,1.1 0 1,0 -2.2,0ZM550.1,266.3a0.7,0.7 0 1,0 1.5,0a0.7,0.7 0 1,0 -1.5,0ZM550.5,263.1a0.8,0.8 0 1,0 1.7,0a0.8,0.8 0 1,0 -1.7,0ZM545.7,247.7a1,1 0 1,0 1.9,0a1,1 0 1,0 -1.9,0ZM548.5,258.6a1,1 0 1,0 2,0a1,1 0 1,0 -2,0ZM538.8,251.5a1.8,1.8 0 1,0 3.6,0a1.8,1.8 0 1,0 -3.6,0ZM539.4,254.2a1.3,1.3 0 1,0 2.5,0a1.3,1.3 0 1,0 -2.5,0ZM544.6,256.9a0.7,0.7 0 1,0 1.5,0a0.7,0.7 0 1,0 -1.5,0ZM544.2,249.6a1.1,1.1 0 1,0 2.2,0a1.1,1.1 0 1,0 -2.2,0ZM547.7,257a0.8,0.8 0 1,0 1.7,0a0.8,0.8 0 1,0 -1.7,0ZM546,253.2a1,1 0 1,0 1.9,0a1,1 0 1,0 -1.9,0ZM526.6,228.3a0.6,0.6 0 1,0 1.2,0a0.6,0.6 0 1,0 -1.2,0ZM527.4,221.1a0.8,0.8 0 1,0 1.5,0a0.8,0.8 0 1,0 -1.5,0ZM532.1,221.2a0.8,0.8 0 1,0 1.6,0a0.8,0.8 0 1,0 -1.6,0ZM528,219.9a0.7,0.7 0 1,0 1.3,0a0.7,0.7 0 1,0 -1.3,0ZM518.8,218.1a0.7,0.7 0 1,0 1.4,0a0.7,0.7 0 1,0 -1.4,0ZM508.5,229.4a0.7,0.7 0 1,0 1.4,0a0.7,0.7 0 1,0 -1.4,0ZM509,229.2a0.6,0.6 0 1,0 1.2,0a0.6,0.6 0 1,0 -1.2,0ZM521.1,222.2a0.8,0.8 0 1,0 1.6,0a0.8,0.8 0 1,0 -1.6,0ZM509.2,222.3a0.6,0.6 0 1,0 1.3,0a0.6,0.6 0 1,0 -1.3,0ZM527.6,230.1a0.7,0.7 0 1,0 1.3,0a0.7,0.7 0 1,0 -1.3,0ZM511.4,225.7a1,1 0 1,0 2,0a1,1 0 1,0 -2,0ZM558.3,235.1a0.8,0.8 0 1,0 1.7,0a0.8,0.8 0 1,0 -1.7,0ZM559.7,234.8a1,1 0 1,0 2,0a1,1 0 1,0 -2,0ZM564.5,233.6a1,1 0 1,0 2,0a1,1 0 1,0 -2,0ZM555.5,238.7a1,1 0 1,0 2.1,0a1,1 0 1,0 -2.1,0ZM554.7,232.2a0.9,0.9 0 1,0 1.8,0a0.9,0.9 0 1,0 -1.8,0ZM561.7,235.9a0.8,0.8 0 1,0 1.5,0a0.8,0.8 0 1,0 -1.5,0ZM554.9,237.8a1.1,1.1 0 1,0 2.2,0a1.1,1.1 0 1,0 -2.2,0ZM275.5,237.1a0.7,0.7 0 1,0 1.4,0a0.7,0.7 0 1,0 -1.4,0ZM262.9,239a1.1,1.1 0 1,0 2.2,0a1.1,1.1 0 1,0 -2.2,0ZM264,239.4a1.4,1.4 0 1,0 2.8,0a1.4,1.4 0 1,0 -2.8,0ZM267.8,235.1a0.6,0.6 0 1,0 1.2,0a0.6,0.6 0 1,0 -1.2,0ZM265.4,236.1a1,1 0 1,0 2,0a1,1 0 1,0 -2,0ZM252.5,242.8a0.8,0.8 0 1,0 1.5,0a0.8,0.8 0 1,0 -1.5,0ZM279.1,242.2a1.1,1.1 0 1,0 2.2,0a1.1,1.1 0 1,0 -2.2,0ZM275.2,240.8a1.2,1.2 0 1,0 2.5,0a1.2,1.2 0 1,0 -2.5,0ZM255.5,235.9a0.6,0.6 0 1,0 1.2,0a0.6,0.6 0 1,0 -1.2,0ZM278.5,242.2a1.4,1.4 0 1,0 2.8,0a1.4,1.4 0 1,0 -2.8,0ZM249.9,261.6a0.8,0.8 0 1,0 1.7,0a0.8,0.8 0 1,0 -1.7,0ZM249.9,257.9a1.2,1.2 0 1,0 2.4,0a1.2,1.2 0 1,0 -2.4,0ZM242.5,259.1a0.7,0.7 0 1,0 1.5,0a0.7,0.7 0 1,0 -1.5,0ZM261.8,257.7a1,1 0 1,0 2,0a1,1 0 1,0 -2,0ZM256.3,262a0.6,0.6 0 1,0 1.3,0a0.6,0.6 0 1,0 -1.3,0ZM241.2,260.3a0.7,0.7 0 1,0 1.4,0a0.7,0.7 0 1,0 -1.4,0ZM231,257.3a0.7,0.7 0 1,0 1.4,0a0.7,0.7 0 1,0 -1.4,0ZM233.7,261.7a0.8,0.8 0 1,0 1.6,0a0.8,0.8 0 1,0 -1.6,0ZM259.3,258.7a1,1 0 1,0 2,0a1,1 0 1,0 -2,0ZM247.2,261a1,1 0 1,0 2.1,0a1,1 0 1,0 -2.1,0ZM236.1,258.1a0.6,0.6 0 1,0 1.2,0a0.6,0.6 0 1,0 -1.2,0ZM252.6,256.7a1,1 0 1,0 2,0a1,1 0 1,0 -2,0ZM260.2,257.4a0.8,0.8 0 1,0 1.6,0a0.8,0.8 0 1,0 -1.6,0ZM256.1,260.3a1.2,1.2 0 1,0 2.3,0a1.2,1.2 0 1,0 -2.3,0ZM229,257.6a0.7,0.7 0 1,0 1.4,0a0.7,0.7 0 1,0 -1.4,0ZM248.1,260.7a0.8,0.8 0 1,0 1.7,0a0.8,0.8 0 1,0 -1.7,0ZM240.1,258.2a1.1,1.1 0 1,0 2.1,0a1.1,1.1 0 1,0 -2.1,0ZM243.4,256.9a1.2,1.2 0 1,0 2.4,0a1.2,1.2 0 1,0 -2.4,0ZM244.6,257a0.6,0.6 0 1,0 1.3,0a0.6,0.6 0 1,0 -1.3,0ZM264.8,259.4a0.7,0.7 0 1,0 1.3,0a0.7,0.7 0 1,0 -1.3,0ZM243.3,260.9a0.6,0.6 0 1,0 1.2,0a0.6,0.6 0 1,0 -1.2,0ZM234.4,259.2a0.7,0.7 0 1,0 1.3,0a0.7,0.7 0 1,0 -1.3,0ZM242.7,262.1a1.2,1.2 0 1,0 2.4,0a1.2,1.2 0 1,0 -2.4,0ZM245.4,259.9a1.3,1.3 0 1,0 2.6,0a1.3,1.3 0 1,0 -2.6,0ZM248,261.9a0.7,0.7 0 1,0 1.4,0a0.7,0.7 0 1,0 -1.4,0ZM226.9,258.9a0.7,0.7 0 1,0 1.4,0a0.7,0.7 0 1,0 -1.4,0ZM242.6,258.2a1.3,1.3 0 1,0 2.5,0a1.3,1.3 0 1,0 -2.5,0ZM261.9,261a0.6,0.6 0 1,0 1.2,0a0.6,0.6 0 1,0 -1.2,0ZM258.7,258.8a1.2,1.2 0 1,0 2.4,0a1.2,1.2 0 1,0 -2.4,0ZM249.5,259.3a0.9,0.9 0 1,0 1.7,0a0.9,0.9 0 1,0 -1.7,0ZM240.2,258.9a0.8,0.8 0 1,0 1.6,0a0.8,0.8 0 1,0 -1.6,0ZM253.6,261.9a0.7,0.7 0 1,0 1.4,0a0.7,0.7 0 1,0 -1.4,0ZM236.1,259a1,1 0 1,0 2,0a1,1 0 1,0 -2,0ZM231.4,260.5a0.6,0.6 0 1,0 1.2,0a0.6,0.6 0 1,0 -1.2,0ZM226.6,259.3a1.4,1.4 0 1,0 2.7,0a1.4,1.4 0 1,0 -2.7,0ZM238.8,258.5a0.7,0.7 0 1,0 1.3,0a0.7,0.7 0 1,0 -1.3,0ZM263.4,259.4a0.9,0.9 0 1,0 1.8,0a0.9,0.9 0 1,0 -1.8,0ZM261.2,260.6a1.3,1.3 0 1,0 2.7,0a1.3,1.3 0 1,0 -2.7,0ZM253,259.3a1.2,1.2 0 1,0 2.4,0a1.2,1.2 0 1,0 -2.4,0ZM249.6,258.8a0.6,0.6 0 1,0 1.2,0a0.6,0.6 0 1,0 -1.2,0ZM226.3,258.6a1.1,1.1 0 1,0 2.1,0a1.1,1.1 0 1,0 -2.1,0ZM246.6,258.9a0.6,0.6 0 1,0 1.2,0a0.6,0.6 0 1,0 -1.2,0ZM254,256.7a0.7,0.7 0 1,0 1.4,0a0.7,0.7 0 1,0 -1.4,0ZM244.4,259.4a1.1,1.1 0 1,0 2.1,0a1.1,1.1 0 1,0 -2.1,0ZM244.6,262.5a0.8,0.8 0 1,0 1.6,0a0.8,0.8 0 1,0 -1.6,0ZM235.3,259.5a1.2,1.2 0 1,0 2.4,0a1.2,1.2 0 1,0 -2.4,0ZM250.2,260.3a0.7,0.7 0 1,0 1.3,0a0.7,0.7 0 1,0 -1.3,0ZM240.6,260.7a0.9,0.9 0 1,0 1.9,0a0.9,0.9 0 1,0 -1.9,0ZM245.2,262.2a0.7,0.7 0 1,0 1.3,0a0.7,0.7 0 1,0 -1.3,0ZM253.2,257.8a0.6,0.6 0 1,0 1.3,0a0.6,0.6 0 1,0 -1.3,0ZM280.3,252.4a1,1 0 1,0 1.9,0a1,1 0 1,0 -1.9,0ZM279.2,250.8a1,1 0 1,0 2,0a1,1 0 1,0 -2,0ZM283.5,252.2a0.7,0.7 0 1,0 1.4,0a0.7,0.7 0 1,0 -1.4,0ZM292.7,250.9a0.7,0.7 0 1,0 1.4,0a0.7,0.7 0 1,0 -1.4,0ZM279,251.6a1,1 0 1,0 2.1,0a1,1 0 1,0 -2.1,0ZM284.7,249.5a1,1 0 1,0 2.1,0a1,1 0 1,0 -2.1,0ZM277.3,251.9a0.8,0.8 0 1,0 1.7,0a0.8,0.8 0 1,0 -1.7,0ZM282.3,249.1a1.1,1.1 0 1,0 2.1,0a1.1,1.1 0 1,0 -2.1,0ZM294.7,251.2a0.7,0.7 0 1,0 1.4,0a0.7,0.7 0 1,0 -1.4,0ZM287,251.9a1.1,1.1 0 1,0 2.3,0a1.1,1.1 0 1,0 -2.3,0ZM289.4,250.6a0.6,0.6 0 1,0 1.2,0a0.6,0.6 0 1,0 -1.2,0ZM274.4,251.5a0.6,0.6 0 1,0 1.2,0a0.6,0.6 0 1,0 -1.2,0ZM288.9,251.5a0.7,0.7 0 1,0 1.4,0a0.7,0.7 0 1,0 -1.4,0ZM291.3,251.4a0.6,0.6 0 1,0 1.2,0a0.6,0.6 0 1,0 -1.2,0ZM291.7,252.4a0.8,0.8 0 1,0 1.6,0a0.8,0.8 0 1,0 -1.6,0ZM289.4,251.6a0.6,0.6 0 1,0 1.2,0a0.6,0.6 0 1,0 -1.2,0ZM293.6,250.1a0.6,0.6 0 1,0 1.2,0a0.6,0.6 0 1,0 -1.2,0ZM277.2,252.9a0.7,0.7 0 1,0 1.3,0a0.7,0.7 0 1,0 -1.3,0ZM289.6,249.5a0.6,0.6 0 1,0 1.3,0a0.6,0.6 0 1,0 -1.3,0ZM280.8,251.3a0.6,0.6 0 1,0 1.2,0a0.6,0.6 0 1,0 -1.2,0ZM283.8,251.3a0.6,0.6 0 1,0 1.3,0a0.6,0.6 0 1,0 -1.3,0ZM307.2,239.6a1,1 0 1,0 2,0a1,1 0 1,0 -2,0ZM301.7,243.4a0.6,0.6 0 1,0 1.2,0a0.6,0.6 0 1,0 -1.2,0ZM304.8,243.8a0.7,0.7 0 1,0 1.3,0a0.7,0.7 0 1,0 -1.3,0ZM301,241a0.8,0.8 0 1,0 1.6,0a0.8,0.8 0 1,0 -1.6,0ZM301.6,241.2a0.7,0.7 0 1,0 1.4,0a0.7,0.7 0 1,0 -1.4,0ZM311.1,240.4a0.8,0.8 0 1,0 1.5,0a0.8,0.8 0 1,0 -1.5,0ZM298.8,242.2a0.7,0.7 0 1,0 1.4,0a0.7,0.7 0 1,0 -1.4,0ZM531.6,213.6a1.2,1.2 0 1,0 2.4,0a1.2,1.2 0 1,0 -2.4,0ZM531.5,218.8a1.3,1.3 0 1,0 2.6,0a1.3,1.3 0 1,0 -2.6,0ZM528.4,217.2a1,1 0 1,0 1.9,0a1,1 0 1,0 -1.9,0ZM529.9,219.9a0.6,0.6 0 1,0 1.2,0a0.6,0.6 0 1,0 -1.2,0ZM317.4,235.4a0.9,0.9 0 1,0 1.7,0a0.9,0.9 0 1,0 -1.7,0ZM309.6,239a1.9,1.9 0 1,0 3.7,0a1.9,1.9 0 1,0 -3.7,0ZM319.6,235.9a1.6,1.6 0 1,0 3.1,0a1.6,1.6 0 1,0 -3.1,0ZM311.5,238.2a2.1,2.1 0 1,0 4.2,0a2.1,2.1 0 1,0 -4.2,0ZM311.8,237.5a1.6,1.6 0 1,0 3.2,0a1.6,1.6 0 1,0 -3.2,0ZM314.1,239.3a0.8,0.8 0 1,0 1.6,0a0.8,0.8 0 1,0 -1.6,0ZM313.9,237.1a0.8,0.8 0 1,0 1.7,0a0.8,0.8 0 1,0 -1.7,0ZM326.9,236.3a1.2,1.2 0 1,0 2.4,0a1.2,1.2 0 1,0 -2.4,0ZM312.6,239.9a0.9,0.9 0 1,0 1.8,0a0.9,0.9 0 1,0 -1.8,0ZM321.9,237.3a1.9,1.9 0 1,0 3.8,0a1.9,1.9 0 1,0 -3.8,0ZM315.3,238.5a1.3,1.3 0 1,0 2.5,0a1.3,1.3 0 1,0 -2.5,0ZM318.4,238a2.2,2.2 0 1,0 4.4,0a2.2,2.2 0 1,0 -4.4,0ZM325.3,235.4a1.1,1.1 0 1,0 2.2,0a1.1,1.1 0 1,0 -2.2,0ZM321.5,236.4a0.9,0.9 0 1,0 1.9,0a0.9,0.9 0 1,0 -1.9,0ZM313.7,237.3a1.3,1.3 0 1,0 2.6,0a1.3,1.3 0 1,0 -2.6,0ZM312.1,236.6a1.3,1.3 0 1,0 2.7,0a1.3,1.3 0 1,0 -2.7,0ZM312.5,238.4a1.8,1.8 0 1,0 3.6,0a1.8,1.8 0 1,0 -3.6,0ZM311.2,237.6a1.6,1.6 0 1,0 3.3,0a1.6,1.6 0 1,0 -3.3,0ZM311,239.5a1.5,1.5 0 1,0 3.1,0a1.5,1.5 0 1,0 -3.1,0ZM311,238.3a1,1 0 1,0 2,0a1,1 0 1,0 -2,0ZM319,236.9a2.2,2.2 0 1,0 4.4,0a2.2,2.2 0 1,0 -4.4,0ZM315.2,237.2a0.9,0.9 0 1,0 1.8,0a0.9,0.9 0 1,0 -1.8,0ZM322.8,236.9a1,1 0 1,0 2,0a1,1 0 1,0 -2,0ZM322.6,237.9a0.8,0.8 0 1,0 1.6,0a0.8,0.8 0 1,0 -1.6,0ZM307.3,235a2.3,2.3 0 1,0 4.6,0a2.3,2.3 0 1,0 -4.6,0ZM334.8,236.3a1.8,1.8 0 1,0 3.6,0a1.8,1.8 0 1,0 -3.6,0ZM338.2,234.9a1.3,1.3 0 1,0 2.7,0a1.3,1.3 0 1,0 -2.7,0ZM331.8,235.3a2.2,2.2 0 1,0 4.3,0a2.2,2.2 0 1,0 -4.3,0ZM339.9,236.9a2,2 0 1,0 4,0a2,2 0 1,0 -4,0ZM331.9,235.7a1.6,1.6 0 1,0 3.3,0a1.6,1.6 0 1,0 -3.3,0ZM337.6,237.2a1,1 0 1,0 1.9,0a1,1 0 1,0 -1.9,0ZM335.6,235.2a2,2 0 1,0 4.1,0a2,2 0 1,0 -4.1,0ZM331.8,237.9a2.3,2.3 0 1,0 4.5,0a2.3,2.3 0 1,0 -4.5,0ZM331.4,233.6a2.2,2.2 0 1,0 4.4,0a2.2,2.2 0 1,0 -4.4,0ZM335.3,236.9a2.1,2.1 0 1,0 4.1,0a2.1,2.1 0 1,0 -4.1,0ZM337.2,235.2a1.1,1.1 0 1,0 2.2,0a1.1,1.1 0 1,0 -2.2,0ZM336.8,235.8a1.7,1.7 0 1,0 3.3,0a1.7,1.7 0 1,0 -3.3,0ZM340.2,232.6a2.1,2.1 0 1,0 4.2,0a2.1,2.1 0 1,0 -4.2,0ZM335.2,234.6a0.8,0.8 0 1,0 1.7,0a0.8,0.8 0 1,0 -1.7,0ZM329.9,239.6a1.6,1.6 0 1,0 3.3,0a1.6,1.6 0 1,0 -3.3,0ZM333.9,235.5a1.4,1.4 0 1,0 2.7,0a1.4,1.4 0 1,0 -2.7,0ZM336.2,236.7a1.2,1.2 0 1,0 2.3,0a1.2,1.2 0 1,0 -2.3,0ZM331.3,235.5a0.8,0.8 0 1,0 1.7,0a0.8,0.8 0 1,0 -1.7,0ZM329.9,233.8a1.6,1.6 0 1,0 3.1,0a1.6,1.6 0 1,0 -3.1,0ZM340.3,236a1.3,1.3 0 1,0 2.6,0a1.3,1.3 0 1,0 -2.6,0ZM334.2,238.3a1.1,1.1 0 1,0 2.1,0a1.1,1.1 0 1,0 -2.1,0ZM328.6,239.7a0.8,0.8 0 1,0 1.6,0a0.8,0.8 0 1,0 -1.6,0ZM331.6,237.3a1.2,1.2 0 1,0 2.4,0a1.2,1.2 0 1,0 -2.4,0ZM330.9,235.5a1.6,1.6 0 1,0 3.3,0a1.6,1.6 0 1,0 -3.3,0ZM326,236.9a1.9,1.9 0 1,0 3.9,0a1.9,1.9 0 1,0 -3.9,0ZM341,237.4a1.9,1.9 0 1,0 3.8,0a1.9,1.9 0 1,0 -3.8,0ZM341.9,235.9a1.1,1.1 0 1,0 2.3,0a1.1,1.1 0 1,0 -2.3,0ZM347.5,234.8a1.4,1.4 0 1,0 2.8,0a1.4,1.4 0 1,0 -2.8,0ZM348.6,240.4a1,1 0 1,0 2.1,0a1,1 0 1,0 -2.1,0ZM347.2,238.7a0.9,0.9 0 1,0 1.7,0a0.9,0.9 0 1,0 -1.7,0ZM343.6,236.2a0.8,0.8 0 1,0 1.6,0a0.8,0.8 0 1,0 -1.6,0ZM350.4,242.4a1.5,1.5 0 1,0 2.9,0a1.5,1.5 0 1,0 -2.9,0ZM348.9,234.8a1,1 0 1,0 2.1,0a1,1 0 1,0 -2.1,0ZM341,233.8a1.5,1.5 0 1,0 3,0a1.5,1.5 0 1,0 -3,0ZM349.6,239.9a1,1 0 1,0 2,0a1,1 0 1,0 -2,0ZM345.5,238.3a1.1,1.1 0 1,0 2.3,0a1.1,1.1 0 1,0 -2.3,0ZM352.2,239.8a1,1 0 1,0 1.9,0a1,1 0 1,0 -1.9,0ZM352.3,239.4a1.9,1.9 0 1,0 3.8,0a1.9,1.9 0 1,0 -3.8,0ZM352.4,237.8a1.7,1.7 0 1,0 3.4,0a1.7,1.7 0 1,0 -3.4,0ZM346.7,239.2a1.9,1.9 0 1,0 3.8,0a1.9,1.9 0 1,0 -3.8,0ZM344.6,236.3a1,1 0 1,0 2.1,0a1,1 0 1,0 -2.1,0ZM341.7,236.5a1.7,1.7 0 1,0 3.4,0a1.7,1.7 0 1,0 -3.4,0ZM345.8,237.8a1,1 0 1,0 2.1,0a1,1 0 1,0 -2.1,0ZM351.2,238.6a1.6,1.6 0 1,0 3.2,0a1.6,1.6 0 1,0 -3.2,0ZM346,238.4a1.6,1.6 0 1,0 3.1,0a1.6,1.6 0 1,0 -3.1,0ZM349.1,238.8a1.2,1.2 0 1,0 2.5,0a1.2,1.2 0 1,0 -2.5,0ZM356.4,243.2a1.3,1.3 0 1,0 2.6,0a1.3,1.3 0 1,0 -2.6,0ZM357.5,246a1.3,1.3 0 1,0 2.6,0a1.3,1.3 0 1,0 -2.6,0ZM357.2,239.4a1.6,1.6 0 1,0 3.2,0a1.6,1.6 0 1,0 -3.2,0ZM354.1,242.5a1.8,1.8 0 1,0 3.5,0a1.8,1.8 0 1,0 -3.5,0ZM359.7,243.4a0.8,0.8 0 1,0 1.7,0a0.8,0.8 0 1,0 -1.7,0ZM354.8,240a1,1 0 1,0 1.9,0a1,1 0 1,0 -1.9,0ZM352.7,238.1a2.2,2.2 0 1,0 4.4,0a2.2,2.2 0 1,0 -4.4,0ZM360,239.6a0.8,0.8 0 1,0 1.6,0a0.8,0.8 0 1,0 -1.6,0ZM357.1,239.7a0.9,0.9 0 1,0 1.8,0a0.9,0.9 0 1,0 -1.8,0ZM356.9,243.5a1,1 0 1,0 2.1,0a1,1 0 1,0 -2.1,0ZM356.2,241.7a2.2,2.2 0 1,0 4.4,0a2.2,2.2 0 1,0 -4.4,0ZM360.3,239.9a1.1,1.1 0 1,0 2.2,0a1.1,1.1 0 1,0 -2.2,0ZM364.7,233.1a1.3,1.3 0 1,0 2.6,0a1.3,1.3 0 1,0 -2.6,0ZM360.1,236.7a1.4,1.4 0 1,0 2.7,0a1.4,1.4 0 1,0 -2.7,0ZM370.4,229.2a0.9,0.9 0 1,0 1.9,0a0.9,0.9 0 1,0 -1.9,0ZM372,229.8a0.8,0.8 0 1,0 1.6,0a0.8,0.8 0 1,0 -1.6,0ZM367.1,231.3a0.8,0.8 0 1,0 1.6,0a0.8,0.8 0 1,0 -1.6,0ZM364.4,232.7a1.1,1.1 0 1,0 2.2,0a1.1,1.1 0 1,0 -2.2,0ZM371.8,228.5a1,1 0 1,0 1.9,0a1,1 0 1,0 -1.9,0ZM361.5,233.6a0.8,0.8 0 1,0 1.5,0a0.8,0.8 0 1,0 -1.5,0ZM365.9,231.3a0.9,0.9 0 1,0 1.9,0a0.9,0.9 0 1,0 -1.9,0ZM362,236.2a0.9,0.9 0 1,0 1.8,0a0.9,0.9 0 1,0 -1.8,0ZM365.8,232.4a1,1 0 1,0 1.9,0a1,1 0 1,0 -1.9,0ZM362.4,235.1a0.9,0.9 0 1,0 1.8,0a0.9,0.9 0 1,0 -1.8,0ZM371.1,230.2a1.3,1.3 0 1,0 2.5,0a1.3,1.3 0 1,0 -2.5,0ZM375.2,226.4a0.7,0.7 0 1,0 1.4,0a0.7,0.7 0 1,0 -1.4,0ZM379.1,225.3a1.5,1.5 0 1,0 3,0a1.5,1.5 0 1,0 -3,0ZM381.8,222.4a1,1 0 1,0 2,0a1,1 0 1,0 -2,0ZM375.8,226.6a0.8,0.8 0 1,0 1.6,0a0.8,0.8 0 1,0 -1.6,0ZM377.8,224.1a1,1 0 1,0 2.1,0a1,1 0 1,0 -2.1,0ZM379.7,223.6a0.9,0.9 0 1,0 1.9,0a0.9,0.9 0 1,0 -1.9,0ZM375.6,227.3a1.4,1.4 0 1,0 2.8,0a1.4,1.4 0 1,0 -2.8,0ZM373.1,227.2a1.1,1.1 0 1,0 2.1,0a1.1,1.1 0 1,0 -2.1,0ZM377.8,223.9a0.9,0.9 0 1,0 1.8,0a0.9,0.9 0 1,0 -1.8,0ZM376.9,227.4a1.5,1.5 0 1,0 2.9,0a1.5,1.5 0 1,0 -2.9,0ZM371.7,237.8a0.9,0.9 0 1,0 1.7,0a0.9,0.9 0 1,0 -1.7,0ZM374.6,238.9a1,1 0 1,0 1.9,0a1,1 0 1,0 -1.9,0ZM369.3,238.6a0.8,0.8 0 1,0 1.7,0a0.8,0.8 0 1,0 -1.7,0ZM366.4,239.2a1.9,1.9 0 1,0 3.8,0a1.9,1.9 0 1,0 -3.8,0ZM364.8,238.6a2.1,2.1 0 1,0 4.3,0a2.1,2.1 0 1,0 -4.3,0ZM363.5,241.7a2.1,2.1 0 1,0 4.2,0a2.1,2.1 0 1,0 -4.2,0ZM376,237.9a0.9,0.9 0 1,0 1.8,0a0.9,0.9 0 1,0 -1.8,0ZM376.4,236.2a1.8,1.8 0 1,0 3.7,0a1.8,1.8 0 1,0 -3.7,0ZM362.9,237.8a0.8,0.8 0 1,0 1.7,0a0.8,0.8 0 1,0 -1.7,0ZM372.3,241.1a1.9,1.9 0 1,0 3.9,0a1.9,1.9 0 1,0 -3.9,0ZM371.9,238.4a1.3,1.3 0 1,0 2.6,0a1.3,1.3 0 1,0 -2.6,0ZM366.1,238.9a2.1,2.1 0 1,0 4.2,0a2.1,2.1 0 1,0 -4.2,0ZM366.6,237.3a2.1,2.1 0 1,0 4.1,0a2.1,2.1 0 1,0 -4.1,0ZM367.9,237.6a1.1,1.1 0 1,0 2.2,0a1.1,1.1 0 1,0 -2.2,0ZM379.2,238.6a1.3,1.3 0 1,0 2.7,0a1.3,1.3 0 1,0 -2.7,0ZM373.1,238.3a1.2,1.2 0 1,0 2.3,0a1.2,1.2 0 1,0 -2.3,0ZM374.3,236.3a1.8,1.8 0 1,0 3.6,0a1.8,1.8 0 1,0 -3.6,0ZM374.5,236.6a1.1,1.1 0 1,0 2.2,0a1.1,1.1 0 1,0 -2.2,0ZM367.4,238.9a0.8,0.8 0 1,0 1.6,0a0.8,0.8 0 1,0 -1.6,0ZM379.6,239.8a0.9,0.9 0 1,0 1.7,0a0.9,0.9 0 1,0 -1.7,0ZM376.1,237.9a1.9,1.9 0 1,0 3.8,0a1.9,1.9 0 1,0 -3.8,0ZM377.1,238a1.1,1.1 0 1,0 2.3,0a1.1,1.1 0 1,0 -2.3,0ZM371.7,240.3a1.6,1.6 0 1,0 3.3,0a1.6,1.6 0 1,0 -3.3,0ZM375.5,235.9a1,1 0 1,0 2,0a1,1 0 1,0 -2,0ZM373.7,238.6a0.8,0.8 0 1,0 1.6,0a0.8,0.8 0 1,0 -1.6,0ZM371.4,238.9a1.3,1.3 0 1,0 2.6,0a1.3,1.3 0 1,0 -2.6,0ZM367.4,240.3a1.4,1.4 0 1,0 2.7,0a1.4,1.4 0 1,0 -2.7,0ZM374,238.1a1,1 0 1,0 2,0a1,1 0 1,0 -2,0ZM375.1,241.5a0.8,0.8 0 1,0 1.6,0a0.8,0.8 0 1,0 -1.6,0ZM383.8,237.7a1.7,1.7 0 1,0 3.3,0a1.7,1.7 0 1,0 -3.3,0ZM384,241.2a0.8,0.8 0 1,0 1.6,0a0.8,0.8 0 1,0 -1.6,0ZM377.4,239.6a1.6,1.6 0 1,0 3.2,0a1.6,1.6 0 1,0 -3.2,0ZM389.9,238.3a2.1,2.1 0 1,0 4.2,0a2.1,2.1 0 1,0 -4.2,0ZM385.1,239.9a2,2 0 1,0 4.1,0a2,2 0 1,0 -4.1,0ZM385.6,239.4a0.9,0.9 0 1,0 1.9,0a0.9,0.9 0 1,0 -1.9,0ZM379.8,239.2a2.1,2.1 0 1,0 4.1,0a2.1,2.1 0 1,0 -4.1,0ZM387.3,239.6a1.2,1.2 0 1,0 2.5,0a1.2,1.2 0 1,0 -2.5,0ZM385.8,235.2a1.9,1.9 0 1,0 3.9,0a1.9,1.9 0 1,0 -3.9,0ZM385.8,238.8a1.3,1.3 0 1,0 2.5,0a1.3,1.3 0 1,0 -2.5,0ZM384.4,239.8a1.2,1.2 0 1,0 2.3,0a1.2,1.2 0 1,0 -2.3,0ZM378.4,237.4a2.3,2.3 0 1,0 4.5,0a2.3,2.3 0 1,0 -4.5,0ZM385.1,239.2a1.1,1.1 0 1,0 2.3,0a1.1,1.1 0 1,0 -2.3,0ZM383.8,237.7a1.6,1.6 0 1,0 3.1,0a1.6,1.6 0 1,0 -3.1,0ZM387.8,240.8a0.9,0.9 0 1,0 1.8,0a0.9,0.9 0 1,0 -1.8,0ZM381.7,238.2a0.9,0.9 0 1,0 1.9,0a0.9,0.9 0 1,0 -1.9,0ZM384.3,239.8a0.9,0.9 0 1,0 1.8,0a0.9,0.9 0 1,0 -1.8,0ZM380.9,237.5a1.6,1.6 0 1,0 3.3,0a1.6,1.6 0 1,0 -3.3,0ZM387.6,242.6a1.3,1.3 0 1,0 2.6,0a1.3,1.3 0 1,0 -2.6,0ZM390,240.8a1.4,1.4 0 1,0 2.7,0a1.4,1.4 0 1,0 -2.7,0ZM382.5,237.6a0.8,0.8 0 1,0 1.7,0a0.8,0.8 0 1,0 -1.7,0ZM391.2,243.9a2,2 0 1,0 4,0a2,2 0 1,0 -4,0ZM397.6,241a1.9,1.9 0 1,0 3.8,0a1.9,1.9 0 1,0 -3.8,0ZM391.8,241.7a2,2 0 1,0 4,0a2,2 0 1,0 -4,0ZM396.3,241.5a0.8,0.8 0 1,0 1.6,0a0.8,0.8 0 1,0 -1.6,0ZM400.6,241.9a0.9,0.9 0 1,0 1.8,0a0.9,0.9 0 1,0 -1.8,0ZM398.4,239.1a1.4,1.4 0 1,0 2.7,0a1.4,1.4 0 1,0 -2.7,0ZM391.6,241.2a1.8,1.8 0 1,0 3.7,0a1.8,1.8 0 1,0 -3.7,0ZM402.1,241.3a2.2,2.2 0 1,0 4.4,0a2.2,2.2 0 1,0 -4.4,0ZM392.6,240.7a2,2 0 1,0 4.1,0a2,2 0 1,0 -4.1,0ZM393.3,239.5a1.6,1.6 0 1,0 3.1,0a1.6,1.6 0 1,0 -3.1,0ZM389.7,238.7a2,2 0 1,0 4,0a2,2 0 1,0 -4,0ZM396.5,240.3a2.2,2.2 0 1,0 4.4,0a2.2,2.2 0 1,0 -4.4,0ZM402.7,241.1a1,1 0 1,0 2,0a1,1 0 1,0 -2,0ZM399.4,240a1.8,1.8 0 1,0 3.6,0a1.8,1.8 0 1,0 -3.6,0ZM397.4,240.5a0.8,0.8 0 1,0 1.6,0a0.8,0.8 0 1,0 -1.6,0ZM394.7,239.3a2,2 0 1,0 4,0a2,2 0 1,0 -4,0ZM399.5,242.6a1.6,1.6 0 1,0 3.1,0a1.6,1.6 0 1,0 -3.1,0ZM402.1,242.6a0.9,0.9 0 1,0 1.8,0a0.9,0.9 0 1,0 -1.8,0ZM394.3,238.1a1.9,1.9 0 1,0 3.8,0a1.9,1.9 0 1,0 -3.8,0ZM394,242.7a0.8,0.8 0 1,0 1.6,0a0.8,0.8 0 1,0 -1.6,0ZM400.8,242.4a1,1 0 1,0 2.1,0a1,1 0 1,0 -2.1,0ZM412.3,241a0.8,0.8 0 1,0 1.6,0a0.8,0.8 0 1,0 -1.6,0ZM401.4,237.7a0.8,0.8 0 1,0 1.6,0a0.8,0.8 0 1,0 -1.6,0ZM407.7,241.7a1.1,1.1 0 1,0 2.1,0a1.1,1.1 0 1,0 -2.1,0ZM403.4,241.6a0.8,0.8 0 1,0 1.6,0a0.8,0.8 0 1,0 -1.6,0ZM405.6,239.9a2.3,2.3 0 1,0 4.5,0a2.3,2.3 0 1,0 -4.5,0ZM413,239.1a0.8,0.8 0 1,0 1.7,0a0.8,0.8 0 1,0 -1.7,0ZM414.1,237.7a0.9,0.9 0 1,0 1.7,0a0.9,0.9 0 1,0 -1.7,0ZM412.1,240a0.9,0.9 0 1,0 1.8,0a0.9,0.9 0 1,0 -1.8,0ZM414.5,239.5a0.8,0.8 0 1,0 1.7,0a0.8,0.8 0 1,0 -1.7,0ZM411.2,241.7a0.9,0.9 0 1,0 1.7,0a0.9,0.9 0 1,0 -1.7,0ZM403.6,241a0.9,0.9 0 1,0 1.8,0a0.9,0.9 0 1,0 -1.8,0ZM404.3,241.2a0.8,0.8 0 1,0 1.6,0a0.8,0.8 0 1,0 -1.6,0ZM410.4,241.4a1.8,1.8 0 1,0 3.6,0a1.8,1.8 0 1,0 -3.6,0ZM412.3,240a1.2,1.2 0 1,0 2.4,0a1.2,1.2 0 1,0 -2.4,0ZM411,242a0.8,0.8 0 1,0 1.6,0a0.8,0.8 0 1,0 -1.6,0ZM413.2,235.9a0.8,0.8 0 1,0 1.6,0a0.8,0.8 0 1,0 -1.6,0ZM416.1,239.5a1.4,1.4 0 1,0 2.9,0a1.4,1.4 0 1,0 -2.9,0ZM407.4,240.7a1.4,1.4 0 1,0 2.8,0a1.4,1.4 0 1,0 -2.8,0ZM407.4,241.7a1.4,1.4 0 1,0 2.9,0a1.4,1.4 0 1,0 -2.9,0ZM414,238.6a1.7,1.7 0 1,0 3.4,0a1.7,1.7 0 1,0 -3.4,0ZM403.2,241.1a1.7,1.7 0 1,0 3.4,0a1.7,1.7 0 1,0 -3.4,0ZM416.2,240.5a1.5,1.5 0 1,0 3,0a1.5,1.5 0 1,0 -3,0ZM414.1,238.2a1.2,1.2 0 1,0 2.4,0a1.2,1.2 0 1,0 -2.4,0ZM416.4,238.3a1.2,1.2 0 1,0 2.4,0a1.2,1.2 0 1,0 -2.4,0ZM415.5,238.1a2.3,2.3 0 1,0 4.5,0a2.3,2.3 0 1,0 -4.5,0ZM418.6,235.2a2.3,2.3 0 1,0 4.5,0a2.3,2.3 0 1,0 -4.5,0ZM414.9,239.6a2.2,2.2 0 1,0 4.4,0a2.2,2.2 0 1,0 -4.4,0ZM424.4,240a1.4,1.4 0 1,0 2.8,0a1.4,1.4 0 1,0 -2.8,0ZM419,237.3a1.6,1.6 0 1,0 3.1,0a1.6,1.6 0 1,0 -3.1,0ZM425.3,237.9a1.7,1.7 0 1,0 3.3,0a1.7,1.7 0 1,0 -3.3,0ZM424,236.9a0.9,0.9 0 1,0 1.7,0a0.9,0.9 0 1,0 -1.7,0ZM417,239a2.1,2.1 0 1,0 4.1,0a2.1,2.1 0 1,0 -4.1,0ZM415.3,241a0.8,0.8 0 1,0 1.6,0a0.8,0.8 0 1,0 -1.6,0ZM421.2,237.1a0.9,0.9 0 1,0 1.8,0a0.9,0.9 0 1,0 -1.8,0ZM416,239.5a1.6,1.6 0 1,0 3.2,0a1.6,1.6 0 1,0 -3.2,0ZM422,239.9a1.6,1.6 0 1,0 3.2,0a1.6,1.6 0 1,0 -3.2,0ZM417.9,242.8a0.9,0.9 0 1,0 1.8,0a0.9,0.9 0 1,0 -1.8,0ZM417.6,239.2a2,2 0 1,0 3.9,0a2,2 0 1,0 -3.9,0ZM423.4,236.2a0.8,0.8 0 1,0 1.7,0a0.8,0.8 0 1,0 -1.7,0ZM419.7,239.3a1.1,1.1 0 1,0 2.2,0a1.1,1.1 0 1,0 -2.2,0ZM414.2,241.5a1.3,1.3 0 1,0 2.6,0a1.3,1.3 0 1,0 -2.6,0ZM424.4,238.3a1,1 0 1,0 2,0a1,1 0 1,0 -2,0ZM433.1,238.7a1.1,1.1 0 1,0 2.1,0a1.1,1.1 0 1,0 -2.1,0ZM427.1,238.7a1.5,1.5 0 1,0 3,0a1.5,1.5 0 1,0 -3,0ZM435,237.8a2,2 0 1,0 3.9,0a2,2 0 1,0 -3.9,0ZM429.9,235a0.9,0.9 0 1,0 1.7,0a0.9,0.9 0 1,0 -1.7,0ZM430.5,236.1a1.2,1.2 0 1,0 2.4,0a1.2,1.2 0 1,0 -2.4,0ZM428.9,236.3a0.8,0.8 0 1,0 1.7,0a0.8,0.8 0 1,0 -1.7,0ZM432.5,237.6a1.5,1.5 0 1,0 3,0a1.5,1.5 0 1,0 -3,0ZM431,234.9a1.9,1.9 0 1,0 3.8,0a1.9,1.9 0 1,0 -3.8,0ZM425.9,235.2a2.2,2.2 0 1,0 4.5,0a2.2,2.2 0 1,0 -4.5,0ZM425.8,237.1a1.9,1.9 0 1,0 3.9,0a1.9,1.9 0 1,0 -3.9,0ZM432,234.8a1.2,1.2 0 1,0 2.3,0a1.2,1.2 0 1,0 -2.3,0ZM440.2,235.6a1,1 0 1,0 2,0a1,1 0 1,0 -2,0ZM435.6,234.2a1,1 0 1,0 2,0a1,1 0 1,0 -2,0ZM440.4,236.2a1.6,1.6 0 1,0 3.3,0a1.6,1.6 0 1,0 -3.3,0ZM435.5,233.1a1.8,1.8 0 1,0 3.6,0a1.8,1.8 0 1,0 -3.6,0ZM441.2,238.2a0.8,0.8 0 1,0 1.7,0a0.8,0.8 0 1,0 -1.7,0ZM439.8,235.7a1.3,1.3 0 1,0 2.5,0a1.3,1.3 0 1,0 -2.5,0ZM438.8,235.1a1.2,1.2 0 1,0 2.3,0a1.2,1.2 0 1,0 -2.3,0ZM441,235.5a1.6,1.6 0 1,0 3.2,0a1.6,1.6 0 1,0 -3.2,0ZM438.7,234.4a1,1 0 1,0 2,0a1,1 0 1,0 -2,0ZM437.2,234.8a0.9,0.9 0 1,0 1.7,0a0.9,0.9 0 1,0 -1.7,0ZM437.1,233.6a0.9,0.9 0 1,0 1.8,0a0.9,0.9 0 1,0 -1.8,0ZM441.3,238.3a0.8,0.8 0 1,0 1.6,0a0.8,0.8 0 1,0 -1.6,0ZM438.3,234.2a1.5,1.5 0 1,0 3,0a1.5,1.5 0 1,0 -3,0ZM431.9,236.2a1.1,1.1 0 1,0 2.2,0a1.1,1.1 0 1,0 -2.2,0ZM437.4,234.6a1.7,1.7 0 1,0 3.4,0a1.7,1.7 0 1,0 -3.4,0ZM437.4,233.1a1.2,1.2 0 1,0 2.4,0a1.2,1.2 0 1,0 -2.4,0ZM447.5,236.5a1,1 0 1,0 2.1,0a1,1 0 1,0 -2.1,0ZM445.3,239a1.5,1.5 0 1,0 3,0a1.5,1.5 0 1,0 -3,0ZM446.7,235.4a0.9,0.9 0 1,0 1.8,0a0.9,0.9 0 1,0 -1.8,0ZM447,236.1a1.3,1.3 0 1,0 2.6,0a1.3,1.3 0 1,0 -2.6,0ZM442.2,234.2a1.1,1.1 0 1,0 2.2,0a1.1,1.1 0 1,0 -2.2,0ZM446.3,235.9a1,1 0 1,0 2.1,0a1,1 0 1,0 -2.1,0ZM441.5,235.9a2.1,2.1 0 1,0 4.1,0a2.1,2.1 0 1,0 -4.1,0ZM449.2,237.1a0.8,0.8 0 1,0 1.7,0a0.8,0.8 0 1,0 -1.7,0ZM441.6,235.1a1.2,1.2 0 1,0 2.4,0a1.2,1.2 0 1,0 -2.4,0ZM450.6,235.8a1.9,1.9 0 1,0 3.9,0a1.9,1.9 0 1,0 -3.9,0ZM445.4,237.7a1.5,1.5 0 1,0 3,0a1.5,1.5 0 1,0 -3,0ZM445.8,237.5a1.6,1.6 0 1,0 3.1,0a1.6,1.6 0 1,0 -3.1,0ZM449.3,238.3a1.2,1.2 0 1,0 2.4,0a1.2,1.2 0 1,0 -2.4,0ZM448,235.2a1.3,1.3 0 1,0 2.6,0a1.3,1.3 0 1,0 -2.6,0ZM445.9,235.1a1,1 0 1,0 1.9,0a1,1 0 1,0 -1.9,0ZM442.5,235.8a2.1,2.1 0 1,0 4.3,0a2.1,2.1 0 1,0 -4.3,0ZM458.8,230.8a1.9,1.9 0 1,0 3.8,0a1.9,1.9 0 1,0 -3.8,0ZM458.1,229.5a0.9,0.9 0 1,0 1.7,0a0.9,0.9 0 1,0 -1.7,0ZM460.1,231.8a1.1,1.1 0 1,0 2.1,0a1.1,1.1 0 1,0 -2.1,0ZM453.2,234.3a0.8,0.8 0 1,0 1.6,0a0.8,0.8 0 1,0 -1.6,0ZM449.3,234.5a2.1,2.1 0 1,0 4.2,0a2.1,2.1 0 1,0 -4.2,0ZM459.9,235.2a2,2 0 1,0 4,0a2,2 0 1,0 -4,0ZM461.1,230.8a1.6,1.6 0 1,0 3.2,0a1.6,1.6 0 1,0 -3.2,0ZM463.8,233.4a0.8,0.8 0 1,0 1.6,0a0.8,0.8 0 1,0 -1.6,0ZM454.1,233a1.1,1.1 0 1,0 2.1,0a1.1,1.1 0 1,0 -2.1,0ZM455.8,235.6a0.8,0.8 0 1,0 1.6,0a0.8,0.8 0 1,0 -1.6,0ZM454.3,232.6a0.8,0.8 0 1,0 1.6,0a0.8,0.8 0 1,0 -1.6,0ZM457.1,232.8a1.7,1.7 0 1,0 3.4,0a1.7,1.7 0 1,0 -3.4,0ZM456.4,233.6a1.9,1.9 0 1,0 3.7,0a1.9,1.9 0 1,0 -3.7,0ZM457.1,231.7a2.1,2.1 0 1,0 4.3,0a2.1,2.1 0 1,0 -4.3,0ZM463.6,230a1.1,1.1 0 1,0 2.2,0a1.1,1.1 0 1,0 -2.2,0ZM456.8,232.2a1.4,1.4 0 1,0 2.9,0a1.4,1.4 0 1,0 -2.9,0ZM468.4,231.3a0.8,0.8 0 1,0 1.6,0a0.8,0.8 0 1,0 -1.6,0ZM466.4,233.3a0.9,0.9 0 1,0 1.8,0a0.9,0.9 0 1,0 -1.8,0ZM464.5,229.5a0.9,0.9 0 1,0 1.7,0a0.9,0.9 0 1,0 -1.7,0ZM471,230.7a1.7,1.7 0 1,0 3.3,0a1.7,1.7 0 1,0 -3.3,0ZM464.6,228.3a0.8,0.8 0 1,0 1.7,0a0.8,0.8 0 1,0 -1.7,0ZM465.5,233.3a1.2,1.2 0 1,0 2.5,0a1.2,1.2 0 1,0 -2.5,0ZM467.2,229.3a1.2,1.2 0 1,0 2.4,0a1.2,1.2 0 1,0 -2.4,0ZM467.7,234.1a1.1,1.1 0 1,0 2.3,0a1.1,1.1 0 1,0 -2.3,0ZM465.9,228.7a2.3,2.3 0 1,0 4.6,0a2.3,2.3 0 1,0 -4.6,0ZM465.2,230.6a1.8,1.8 0 1,0 3.6,0a1.8,1.8 0 1,0 -3.6,0ZM468.2,231.2a1.6,1.6 0 1,0 3.2,0a1.6,1.6 0 1,0 -3.2,0ZM464.6,229.2a2,2 0 1,0 4.1,0a2,2 0 1,0 -4.1,0ZM462.6,229.8a1.1,1.1 0 1,0 2.1,0a1.1,1.1 0 1,0 -2.1,0ZM466.3,233.1a1,1 0 1,0 2,0a1,1 0 1,0 -2,0ZM463.9,233.4a1.3,1.3 0 1,0 2.6,0a1.3,1.3 0 1,0 -2.6,0ZM469.4,231.3a1.9,1.9 0 1,0 3.8,0a1.9,1.9 0 1,0 -3.8,0ZM478.3,228.7a2.3,2.3 0 1,0 4.6,0a2.3,2.3 0 1,0 -4.6,0ZM478.7,229.8a1.1,1.1 0 1,0 2.1,0a1.1,1.1 0 1,0 -2.1,0ZM470.2,229.8a2.3,2.3 0 1,0 4.6,0a2.3,2.3 0 1,0 -4.6,0ZM474.7,227.7a2.1,2.1 0 1,0 4.1,0a2.1,2.1 0 1,0 -4.1,0ZM477.8,228.5a0.9,0.9 0 1,0 1.8,0a0.9,0.9 0 1,0 -1.8,0ZM476.5,229a1.1,1.1 0 1,0 2.2,0a1.1,1.1 0 1,0 -2.2,0ZM470.1,232.4a0.9,0.9 0 1,0 1.9,0a0.9,0.9 0 1,0 -1.9,0ZM477.7,229.5a1.2,1.2 0 1,0 2.3,0a1.2,1.2 0 1,0 -2.3,0ZM481.5,228.7a0.8,0.8 0 1,0 1.7,0a0.8,0.8 0 1,0 -1.7,0ZM477,226.6a1.3,1.3 0 1,0 2.6,0a1.3,1.3 0 1,0 -2.6,0ZM476.6,227.6a0.9,0.9 0 1,0 1.8,0a0.9,0.9 0 1,0 -1.8,0ZM479.6,228.8a0.8,0.8 0 1,0 1.6,0a0.8,0.8 0 1,0 -1.6,0ZM476.4,227.9a2,2 0 1,0 4,0a2,2 0 1,0 -4,0ZM469.5,230.2a1,1 0 1,0 1.9,0a1,1 0 1,0 -1.9,0ZM470.7,229.6a1,1 0 1,0 1.9,0a1,1 0 1,0 -1.9,0ZM473.9,229.6a0.8,0.8 0 1,0 1.7,0a0.8,0.8 0 1,0 -1.7,0ZM480,227.1a1.3,1.3 0 1,0 2.7,0a1.3,1.3 0 1,0 -2.7,0ZM450.2,232.4a0.8,0.8 0 1,0 1.6,0a0.8,0.8 0 1,0 -1.6,0ZM441.3,231.7a1.9,1.9 0 1,0 3.8,0a1.9,1.9 0 1,0 -3.8,0ZM446.7,234.1a0.9,0.9 0 1,0 1.7,0a0.9,0.9 0 1,0 -1.7,0ZM446.3,230.9a1.4,1.4 0 1,0 2.8,0a1.4,1.4 0 1,0 -2.8,0ZM450.8,228.9a1.5,1.5 0 1,0 3,0a1.5,1.5 0 1,0 -3,0ZM445.8,235.4a1.6,1.6 0 1,0 3.2,0a1.6,1.6 0 1,0 -3.2,0ZM446,230.9a1.9,1.9 0 1,0 3.7,0a1.9,1.9 0 1,0 -3.7,0ZM448.8,229.2a1,1 0 1,0 2.1,0a1,1 0 1,0 -2.1,0ZM447.8,233.2a1.9,1.9 0 1,0 3.7,0a1.9,1.9 0 1,0 -3.7,0ZM450.7,229.7a0.9,0.9 0 1,0 1.8,0a0.9,0.9 0 1,0 -1.8,0ZM458.8,230.2a1.4,1.4 0 1,0 2.8,0a1.4,1.4 0 1,0 -2.8,0ZM455.4,228.6a1.3,1.3 0 1,0 2.6,0a1.3,1.3 0 1,0 -2.6,0ZM461.5,230.7a1.1,1.1 0 1,0 2.2,0a1.1,1.1 0 1,0 -2.2,0ZM453.8,231.6a1.3,1.3 0 1,0 2.7,0a1.3,1.3 0 1,0 -2.7,0ZM451.9,228.9a1,1 0 1,0 2,0a1,1 0 1,0 -2,0ZM459.6,227.1a1,1 0 1,0 1.9,0a1,1 0 1,0 -1.9,0ZM454.1,227.1a1.5,1.5 0 1,0 3,0a1.5,1.5 0 1,0 -3,0ZM455.1,235.8a1.3,1.3 0 1,0 2.7,0a1.3,1.3 0 1,0 -2.7,0ZM458.3,231.9a1.8,1.8 0 1,0 3.7,0a1.8,1.8 0 1,0 -3.7,0ZM463.8,229.2a1,1 0 1,0 2,0a1,1 0 1,0 -2,0ZM465.7,228.2a0.8,0.8 0 1,0 1.7,0a0.8,0.8 0 1,0 -1.7,0ZM464.8,224.2a1.9,1.9 0 1,0 3.8,0a1.9,1.9 0 1,0 -3.8,0ZM462.3,231.3a1.7,1.7 0 1,0 3.4,0a1.7,1.7 0 1,0 -3.4,0ZM465.3,223.6a1.3,1.3 0 1,0 2.6,0a1.3,1.3 0 1,0 -2.6,0ZM463,224.1a0.9,0.9 0 1,0 1.9,0a0.9,0.9 0 1,0 -1.9,0ZM465.1,224.9a0.8,0.8 0 1,0 1.6,0a0.8,0.8 0 1,0 -1.6,0ZM468.7,228.7a0.8,0.8 0 1,0 1.6,0a0.8,0.8 0 1,0 -1.6,0ZM463.5,228.6a1.6,1.6 0 1,0 3.2,0a1.6,1.6 0 1,0 -3.2,0ZM477.9,224.1a1,1 0 1,0 2.1,0a1,1 0 1,0 -2.1,0ZM472.5,228.4a1.1,1.1 0 1,0 2.1,0a1.1,1.1 0 1,0 -2.1,0ZM475.1,227a0.9,0.9 0 1,0 1.8,0a0.9,0.9 0 1,0 -1.8,0ZM478.2,223a0.9,0.9 0 1,0 1.9,0a0.9,0.9 0 1,0 -1.9,0ZM473.8,224a1,1 0 1,0 2,0a1,1 0 1,0 -2,0ZM472.7,226.3a1.5,1.5 0 1,0 3,0a1.5,1.5 0 1,0 -3,0ZM472.2,226.1a2,2 0 1,0 4.1,0a2,2 0 1,0 -4.1,0ZM472.1,223.8a1.7,1.7 0 1,0 3.3,0a1.7,1.7 0 1,0 -3.3,0ZM431,212.1a0.7,0.7 0 1,0 1.5,0a0.7,0.7 0 1,0 -1.5,0ZM438.9,213a0.9,0.9 0 1,0 1.7,0a0.9,0.9 0 1,0 -1.7,0ZM431,214.2a1.2,1.2 0 1,0 2.5,0a1.2,1.2 0 1,0 -2.5,0ZM437.3,212.7a1.5,1.5 0 1,0 3,0a1.5,1.5 0 1,0 -3,0ZM435.3,211.3a1,1 0 1,0 1.9,0a1,1 0 1,0 -1.9,0ZM431.6,211.2a1.3,1.3 0 1,0 2.7,0a1.3,1.3 0 1,0 -2.7,0ZM431.6,211.7a0.8,0.8 0 1,0 1.7,0a0.8,0.8 0 1,0 -1.7,0ZM434.3,212.1a1.2,1.2 0 1,0 2.4,0a1.2,1.2 0 1,0 -2.4,0ZM431.3,213a0.9,0.9 0 1,0 1.7,0a0.9,0.9 0 1,0 -1.7,0ZM446.1,210.1a0.8,0.8 0 1,0 1.5,0a0.8,0.8 0 1,0 -1.5,0ZM444.3,211.4a0.9,0.9 0 1,0 1.8,0a0.9,0.9 0 1,0 -1.8,0ZM441.7,210.3a1.2,1.2 0 1,0 2.5,0a1.2,1.2 0 1,0 -2.5,0ZM441.6,211.8a0.8,0.8 0 1,0 1.7,0a0.8,0.8 0 1,0 -1.7,0ZM446.6,209.8a1.2,1.2 0 1,0 2.4,0a1.2,1.2 0 1,0 -2.4,0ZM447.3,209.6a0.8,0.8 0 1,0 1.5,0a0.8,0.8 0 1,0 -1.5,0ZM441.2,212.5a1.4,1.4 0 1,0 2.9,0a1.4,1.4 0 1,0 -2.9,0ZM444.8,210.4a1.2,1.2 0 1,0 2.3,0a1.2,1.2 0 1,0 -2.3,0ZM437.4,220a0.7,0.7 0 1,0 1.4,0a0.7,0.7 0 1,0 -1.4,0ZM439.3,222.2a0.8,0.8 0 1,0 1.7,0a0.8,0.8 0 1,0 -1.7,0ZM437.4,220a1.5,1.5 0 1,0 2.9,0a1.5,1.5 0 1,0 -2.9,0ZM446.3,222.5a0.8,0.8 0 1,0 1.5,0a0.8,0.8 0 1,0 -1.5,0ZM437.6,219.6a1.2,1.2 0 1,0 2.3,0a1.2,1.2 0 1,0 -2.3,0ZM446.9,237.3a1,1 0 1,0 2,0a1,1 0 1,0 -2,0ZM452.9,245.9a0.8,0.8 0 1,0 1.6,0a0.8,0.8 0 1,0 -1.6,0ZM450.1,239.2a1.3,1.3 0 1,0 2.6,0a1.3,1.3 0 1,0 -2.6,0ZM452.6,241.1a0.9,0.9 0 1,0 1.9,0a0.9,0.9 0 1,0 -1.9,0ZM449.2,246.1a1.6,1.6 0 1,0 3.3,0a1.6,1.6 0 1,0 -3.3,0ZM449.3,240.6a1.1,1.1 0 1,0 2.1,0a1.1,1.1 0 1,0 -2.1,0ZM452.7,241.7a0.8,0.8 0 1,0 1.6,0a0.8,0.8 0 1,0 -1.6,0ZM451.9,239.8a0.9,0.9 0 1,0 1.8,0a0.9,0.9 0 1,0 -1.8,0ZM450.3,246.2a0.9,0.9 0 1,0 1.8,0a0.9,0.9 0 1,0 -1.8,0ZM448,239.8a1,1 0 1,0 1.9,0a1,1 0 1,0 -1.9,0ZM449.1,242.1a1.5,1.5 0 1,0 3,0a1.5,1.5 0 1,0 -3,0ZM450.7,239.7a1.2,1.2 0 1,0 2.3,0a1.2,1.2 0 1,0 -2.3,0ZM453.7,243.5a0.8,0.8 0 1,0 1.6,0a0.8,0.8 0 1,0 -1.6,0ZM452.9,245.5a1,1 0 1,0 2.1,0a1,1 0 1,0 -2.1,0ZM450.9,243.3a1.8,1.8 0 1,0 3.7,0a1.8,1.8 0 1,0 -3.7,0ZM458.1,253a1,1 0 1,0 2.1,0a1,1 0 1,0 -2.1,0ZM452.1,245.4a1.5,1.5 0 1,0 3,0a1.5,1.5 0 1,0 -3,0ZM454.2,248.8a0.8,0.8 0 1,0 1.6,0a0.8,0.8 0 1,0 -1.6,0ZM458.2,251.3a0.9,0.9 0 1,0 1.8,0a0.9,0.9 0 1,0 -1.8,0ZM456.4,253.8a2,2 0 1,0 3.9,0a2,2 0 1,0 -3.9,0ZM451.3,246.7a1.2,1.2 0 1,0 2.4,0a1.2,1.2 0 1,0 -2.4,0ZM459.1,252.3a1.9,1.9 0 1,0 3.7,0a1.9,1.9 0 1,0 -3.7,0ZM453.1,246.3a2,2 0 1,0 4,0a2,2 0 1,0 -4,0ZM454.3,247.8a1.4,1.4 0 1,0 2.8,0a1.4,1.4 0 1,0 -2.8,0ZM457.7,250.6a0.9,0.9 0 1,0 1.8,0a0.9,0.9 0 1,0 -1.8,0ZM451.8,247.6a0.9,0.9 0 1,0 1.9,0a0.9,0.9 0 1,0 -1.9,0ZM455.2,247.7a1,1 0 1,0 1.9,0a1,1 0 1,0 -1.9,0ZM451.6,247.2a1.4,1.4 0 1,0 2.7,0a1.4,1.4 0 1,0 -2.7,0ZM457.3,250.8a2,2 0 1,0 4,0a2,2 0 1,0 -4,0ZM452.8,250.8a0.8,0.8 0 1,0 1.6,0a0.8,0.8 0 1,0 -1.6,0ZM457.3,256a0.8,0.8 0 1,0 1.6,0a0.8,0.8 0 1,0 -1.6,0ZM461.2,253a1.2,1.2 0 1,0 2.4,0a1.2,1.2 0 1,0 -2.4,0ZM461.6,253.8a1,1 0 1,0 1.9,0a1,1 0 1,0 -1.9,0ZM461.6,254.7a1.5,1.5 0 1,0 3,0a1.5,1.5 0 1,0 -3,0ZM461.4,255.8a0.8,0.8 0 1,0 1.6,0a0.8,0.8 0 1,0 -1.6,0ZM460.7,255.3a1.9,1.9 0 1,0 3.8,0a1.9,1.9 0 1,0 -3.8,0ZM462.4,256.2a1.4,1.4 0 1,0 2.8,0a1.4,1.4 0 1,0 -2.8,0ZM458.2,253.7a1.8,1.8 0 1,0 3.6,0a1.8,1.8 0 1,0 -3.6,0ZM464.5,258.4a0.8,0.8 0 1,0 1.7,0a0.8,0.8 0 1,0 -1.7,0ZM457.8,253.4a1.1,1.1 0 1,0 2.2,0a1.1,1.1 0 1,0 -2.2,0ZM464.7,256.2a2,2 0 1,0 3.9,0a2,2 0 1,0 -3.9,0ZM464.7,260.6a1.1,1.1 0 1,0 2.3,0a1.1,1.1 0 1,0 -2.3,0ZM463,257.1a1.5,1.5 0 1,0 2.9,0a1.5,1.5 0 1,0 -2.9,0ZM465.9,261a2,2 0 1,0 3.9,0a2,2 0 1,0 -3.9,0ZM465.2,259a0.9,0.9 0 1,0 1.8,0a0.9,0.9 0 1,0 -1.8,0ZM467.2,262.6a0.9,0.9 0 1,0 1.8,0a0.9,0.9 0 1,0 -1.8,0ZM464,259.8a1.9,1.9 0 1,0 3.9,0a1.9,1.9 0 1,0 -3.9,0ZM461.9,257.8a1.3,1.3 0 1,0 2.5,0a1.3,1.3 0 1,0 -2.5,0ZM466.9,257.2a1.1,1.1 0 1,0 2.3,0a1.1,1.1 0 1,0 -2.3,0ZM467.2,262.1a0.9,0.9 0 1,0 1.9,0a0.9,0.9 0 1,0 -1.9,0ZM466.2,257.6a0.8,0.8 0 1,0 1.6,0a0.8,0.8 0 1,0 -1.6,0ZM465.7,248.1a1.9,1.9 0 1,0 3.8,0a1.9,1.9 0 1,0 -3.8,0ZM467.1,251.4a1.6,1.6 0 1,0 3.1,0a1.6,1.6 0 1,0 -3.1,0ZM469.4,249.5a1.2,1.2 0 1,0 2.4,0a1.2,1.2 0 1,0 -2.4,0ZM467.2,247.4a1.3,1.3 0 1,0 2.6,0a1.3,1.3 0 1,0 -2.6,0ZM468.5,251a0.8,0.8 0 1,0 1.6,0a0.8,0.8 0 1,0 -1.6,0ZM468.2,254.9a1.8,1.8 0 1,0 3.6,0a1.8,1.8 0 1,0 -3.6,0ZM467,255.1a2,2 0 1,0 4,0a2,2 0 1,0 -4,0ZM465.4,251.8a0.8,0.8 0 1,0 1.7,0a0.8,0.8 0 1,0 -1.7,0ZM467.8,261.3a1.6,1.6 0 1,0 3.2,0a1.6,1.6 0 1,0 -3.2,0ZM470.8,254.6a1.9,1.9 0 1,0 3.7,0a1.9,1.9 0 1,0 -3.7,0ZM466.8,260.7a0.8,0.8 0 1,0 1.7,0a0.8,0.8 0 1,0 -1.7,0ZM467.7,260.9a1,1 0 1,0 1.9,0a1,1 0 1,0 -1.9,0ZM467,263a0.9,0.9 0 1,0 1.8,0a0.9,0.9 0 1,0 -1.8,0ZM468,259.5a1.4,1.4 0 1,0 2.9,0a1.4,1.4 0 1,0 -2.9,0ZM467.5,258.9a1.6,1.6 0 1,0 3.2,0a1.6,1.6 0 1,0 -3.2,0ZM470.4,256.7a1.8,1.8 0 1,0 3.6,0a1.8,1.8 0 1,0 -3.6,0ZM451.1,270.9a1.4,1.4 0 1,0 2.8,0a1.4,1.4 0 1,0 -2.8,0ZM453.9,272.7a0.8,0.8 0 1,0 1.5,0a0.8,0.8 0 1,0 -1.5,0ZM446,272.7a1.1,1.1 0 1,0 2.2,0a1.1,1.1 0 1,0 -2.2,0ZM448.6,271a2,2 0 1,0 4,0a2,2 0 1,0 -4,0ZM445.5,275.2a0.7,0.7 0 1,0 1.5,0a0.7,0.7 0 1,0 -1.5,0ZM448.9,273.9a1.1,1.1 0 1,0 2.1,0a1.1,1.1 0 1,0 -2.1,0ZM453.6,272.5a0.9,0.9 0 1,0 1.8,0a0.9,0.9 0 1,0 -1.8,0ZM457,275.2a1,1 0 1,0 2.1,0a1,1 0 1,0 -2.1,0ZM457.6,276.2a1.2,1.2 0 1,0 2.4,0a1.2,1.2 0 1,0 -2.4,0ZM454.6,274.2a1.5,1.5 0 1,0 3.1,0a1.5,1.5 0 1,0 -3.1,0ZM455.4,274.2a0.7,0.7 0 1,0 1.4,0a0.7,0.7 0 1,0 -1.4,0ZM451,273.5a1.4,1.4 0 1,0 2.7,0a1.4,1.4 0 1,0 -2.7,0ZM455.8,276.6a0.7,0.7 0 1,0 1.5,0a0.7,0.7 0 1,0 -1.5,0ZM456.7,277.8a1.2,1.2 0 1,0 2.4,0a1.2,1.2 0 1,0 -2.4,0ZM453,274.9a1.5,1.5 0 1,0 3,0a1.5,1.5 0 1,0 -3,0ZM462.4,277.8a1,1 0 1,0 2,0a1,1 0 1,0 -2,0ZM460.5,278a1.5,1.5 0 1,0 2.9,0a1.5,1.5 0 1,0 -2.9,0ZM457.6,275.6a1.1,1.1 0 1,0 2.3,0a1.1,1.1 0 1,0 -2.3,0ZM463.9,279.8a0.7,0.7 0 1,0 1.5,0a0.7,0.7 0 1,0 -1.5,0ZM460.6,276.8a1.4,1.4 0 1,0 2.8,0a1.4,1.4 0 1,0 -2.8,0ZM464.9,276.9a1.3,1.3 0 1,0 2.6,0a1.3,1.3 0 1,0 -2.6,0ZM462.1,277.7a1.7,1.7 0 1,0 3.5,0a1.7,1.7 0 1,0 -3.5,0ZM464.2,278.2a1.6,1.6 0 1,0 3.2,0a1.6,1.6 0 1,0 -3.2,0ZM463.2,277.8a0.8,0.8 0 1,0 1.6,0a0.8,0.8 0 1,0 -1.6,0ZM465.5,277a1.3,1.3 0 1,0 2.7,0a1.3,1.3 0 1,0 -2.7,0ZM467.7,277.7a0.8,0.8 0 1,0 1.6,0a0.8,0.8 0 1,0 -1.6,0ZM470.1,281.5a0.9,0.9 0 1,0 1.7,0a0.9,0.9 0 1,0 -1.7,0ZM467.2,278.7a2,2 0 1,0 4,0a2,2 0 1,0 -4,0ZM469.1,278.3a1,1 0 1,0 1.9,0a1,1 0 1,0 -1.9,0ZM469.6,279.9a0.7,0.7 0 1,0 1.5,0a0.7,0.7 0 1,0 -1.5,0ZM465.7,279.1a1.8,1.8 0 1,0 3.7,0a1.8,1.8 0 1,0 -3.7,0ZM470.5,267.3a1.2,1.2 0 1,0 2.3,0a1.2,1.2 0 1,0 -2.3,0ZM477.1,262.8a1.4,1.4 0 1,0 2.9,0a1.4,1.4 0 1,0 -2.9,0ZM475.6,263.1a0.8,0.8 0 1,0 1.7,0a0.8,0.8 0 1,0 -1.7,0ZM470.3,267.4a1.4,1.4 0 1,0 2.8,0a1.4,1.4 0 1,0 -2.8,0ZM478.9,263.7a1.1,1.1 0 1,0 2.2,0a1.1,1.1 0 1,0 -2.2,0ZM474.1,267.8a1.5,1.5 0 1,0 2.9,0a1.5,1.5 0 1,0 -2.9,0ZM477.6,261.9a1.6,1.6 0 1,0 3.2,0a1.6,1.6 0 1,0 -3.2,0ZM477.5,263.4a0.9,0.9 0 1,0 1.8,0a0.9,0.9 0 1,0 -1.8,0ZM473,265.4a1.4,1.4 0 1,0 2.7,0a1.4,1.4 0 1,0 -2.7,0ZM482.3,262.4a0.8,0.8 0 1,0 1.7,0a0.8,0.8 0 1,0 -1.7,0ZM482.2,262.2a1.5,1.5 0 1,0 3,0a1.5,1.5 0 1,0 -3,0ZM481.5,261.5a0.9,0.9 0 1,0 1.9,0a0.9,0.9 0 1,0 -1.9,0ZM479.7,263.3a1.6,1.6 0 1,0 3.2,0a1.6,1.6 0 1,0 -3.2,0ZM482.7,261.3a0.7,0.7 0 1,0 1.4,0a0.7,0.7 0 1,0 -1.4,0ZM492.2,269.3a1.4,1.4 0 1,0 2.8,0a1.4,1.4 0 1,0 -2.8,0ZM493.9,268.5a0.9,0.9 0 1,0 1.8,0a0.9,0.9 0 1,0 -1.8,0ZM482.7,269.1a1.2,1.2 0 1,0 2.4,0a1.2,1.2 0 1,0 -2.4,0ZM484.3,269.3a0.8,0.8 0 1,0 1.6,0a0.8,0.8 0 1,0 -1.6,0ZM491,269.6a1.5,1.5 0 1,0 2.9,0a1.5,1.5 0 1,0 -2.9,0ZM490.5,268.6a1.3,1.3 0 1,0 2.6,0a1.3,1.3 0 1,0 -2.6,0ZM485.8,270.2a1.7,1.7 0 1,0 3.4,0a1.7,1.7 0 1,0 -3.4,0ZM493.1,268.1a1.6,1.6 0 1,0 3.3,0a1.6,1.6 0 1,0 -3.3,0ZM490.7,268.4a0.9,0.9 0 1,0 1.7,0a0.9,0.9 0 1,0 -1.7,0ZM481.6,270.1a1.2,1.2 0 1,0 2.5,0a1.2,1.2 0 1,0 -2.5,0ZM485.2,268.2a1.3,1.3 0 1,0 2.6,0a1.3,1.3 0 1,0 -2.6,0ZM491.1,267.7a1.1,1.1 0 1,0 2.1,0a1.1,1.1 0 1,0 -2.1,0ZM485,268.9a1,1 0 1,0 2,0a1,1 0 1,0 -2,0ZM492.7,268.3a1.5,1.5 0 1,0 2.9,0a1.5,1.5 0 1,0 -2.9,0ZM485.6,269.9a1.3,1.3 0 1,0 2.5,0a1.3,1.3 0 1,0 -2.5,0ZM489.9,268.4a1,1 0 1,0 1.9,0a1,1 0 1,0 -1.9,0ZM495.6,269.7a0.8,0.8 0 1,0 1.6,0a0.8,0.8 0 1,0 -1.6,0ZM500,268.8a0.8,0.8 0 1,0 1.6,0a0.8,0.8 0 1,0 -1.6,0ZM499.3,268.1a0.9,0.9 0 1,0 1.8,0a0.9,0.9 0 1,0 -1.8,0ZM494.7,268.2a1.8,1.8 0 1,0 3.6,0a1.8,1.8 0 1,0 -3.6,0ZM500.9,267.1a1.4,1.4 0 1,0 2.8,0a1.4,1.4 0 1,0 -2.8,0ZM496.1,268.3a1.4,1.4 0 1,0 2.7,0a1.4,1.4 0 1,0 -2.7,0ZM499.3,267.6a1.5,1.5 0 1,0 2.9,0a1.5,1.5 0 1,0 -2.9,0ZM497.1,268.4a0.9,0.9 0 1,0 1.8,0a0.9,0.9 0 1,0 -1.8,0ZM500.8,267.2a1,1 0 1,0 1.9,0a1,1 0 1,0 -1.9,0ZM496,269.1a0.9,0.9 0 1,0 1.9,0a0.9,0.9 0 1,0 -1.9,0ZM496.9,268.1a1,1 0 1,0 2.1,0a1,1 0 1,0 -2.1,0ZM495.6,268.7a0.9,0.9 0 1,0 1.8,0a0.9,0.9 0 1,0 -1.8,0ZM508,262.7a1.2,1.2 0 1,0 2.4,0a1.2,1.2 0 1,0 -2.4,0ZM507.5,264.7a1.2,1.2 0 1,0 2.5,0a1.2,1.2 0 1,0 -2.5,0ZM506.5,266.5a1.3,1.3 0 1,0 2.6,0a1.3,1.3 0 1,0 -2.6,0ZM507.9,264.2a1.5,1.5 0 1,0 3,0a1.5,1.5 0 1,0 -3,0ZM504.2,268.4a1.4,1.4 0 1,0 2.7,0a1.4,1.4 0 1,0 -2.7,0ZM509,263.3a0.8,0.8 0 1,0 1.7,0a0.8,0.8 0 1,0 -1.7,0ZM507,265.3a0.8,0.8 0 1,0 1.7,0a0.8,0.8 0 1,0 -1.7,0ZM507.4,265.2a1.6,1.6 0 1,0 3.2,0a1.6,1.6 0 1,0 -3.2,0ZM506.1,265.8a1.5,1.5 0 1,0 3.1,0a1.5,1.5 0 1,0 -3.1,0ZM507.8,265a0.8,0.8 0 1,0 1.6,0a0.8,0.8 0 1,0 -1.6,0ZM512,261.1a0.9,0.9 0 1,0 1.7,0a0.9,0.9 0 1,0 -1.7,0ZM512.6,257.8a1.4,1.4 0 1,0 2.9,0a1.4,1.4 0 1,0 -2.9,0ZM510.1,261.1a1.5,1.5 0 1,0 3,0a1.5,1.5 0 1,0 -3,0ZM510.9,259.8a1.4,1.4 0 1,0 2.7,0a1.4,1.4 0 1,0 -2.7,0ZM510.8,262.2a1.8,1.8 0 1,0 3.6,0a1.8,1.8 0 1,0 -3.6,0ZM512.1,260.3a0.9,0.9 0 1,0 1.8,0a0.9,0.9 0 1,0 -1.8,0ZM510.6,261a1.3,1.3 0 1,0 2.6,0a1.3,1.3 0 1,0 -2.6,0ZM515.6,256.2a1.3,1.3 0 1,0 2.7,0a1.3,1.3 0 1,0 -2.7,0ZM513.7,257a1,1 0 1,0 2.1,0a1,1 0 1,0 -2.1,0ZM514.6,256.2a1.7,1.7 0 1,0 3.4,0a1.7,1.7 0 1,0 -3.4,0ZM514.5,257.4a1.7,1.7 0 1,0 3.4,0a1.7,1.7 0 1,0 -3.4,0ZM517.5,257a0.9,0.9 0 1,0 1.8,0a0.9,0.9 0 1,0 -1.8,0ZM517.2,252.4a1.8,1.8 0 1,0 3.6,0a1.8,1.8 0 1,0 -3.6,0ZM515.6,253.7a1.7,1.7 0 1,0 3.4,0a1.7,1.7 0 1,0 -3.4,0ZM515.1,255.6a1.3,1.3 0 1,0 2.6,0a1.3,1.3 0 1,0 -2.6,0ZM514.8,255.8a0.9,0.9 0 1,0 1.8,0a0.9,0.9 0 1,0 -1.8,0ZM516.2,256a1.6,1.6 0 1,0 3.3,0a1.6,1.6 0 1,0 -3.3,0ZM526.4,255.6a0.8,0.8 0 1,0 1.6,0a0.8,0.8 0 1,0 -1.6,0ZM522.4,254.1a1,1 0 1,0 1.9,0a1,1 0 1,0 -1.9,0ZM519.2,254.5a1,1 0 1,0 2,0a1,1 0 1,0 -2,0ZM518.1,254.3a1.5,1.5 0 1,0 3,0a1.5,1.5 0 1,0 -3,0ZM527.2,254.4a0.9,0.9 0 1,0 1.8,0a0.9,0.9 0 1,0 -1.8,0ZM522.3,253.2a1.2,1.2 0 1,0 2.5,0a1.2,1.2 0 1,0 -2.5,0ZM524.4,255.1a1.3,1.3 0 1,0 2.5,0a1.3,1.3 0 1,0 -2.5,0ZM520.9,252.4a1,1 0 1,0 1.9,0a1,1 0 1,0 -1.9,0ZM524.2,254.8a0.8,0.8 0 1,0 1.6,0a0.8,0.8 0 1,0 -1.6,0ZM520.6,255.1a1.3,1.3 0 1,0 2.5,0a1.3,1.3 0 1,0 -2.5,0ZM531,260a1.1,1.1 0 1,0 2.2,0a1.1,1.1 0 1,0 -2.2,0ZM531,260.7a0.9,0.9 0 1,0 1.8,0a0.9,0.9 0 1,0 -1.8,0ZM530.9,258.9a1.7,1.7 0 1,0 3.4,0a1.7,1.7 0 1,0 -3.4,0ZM528.7,256.3a1,1 0 1,0 2,0a1,1 0 1,0 -2,0ZM528.3,256.6a1.6,1.6 0 1,0 3.2,0a1.6,1.6 0 1,0 -3.2,0ZM527.8,254.6a1.1,1.1 0 1,0 2.3,0a1.1,1.1 0 1,0 -2.3,0ZM529.9,258.6a1.3,1.3 0 1,0 2.7,0a1.3,1.3 0 1,0 -2.7,0ZM528.3,256.9a1.2,1.2 0 1,0 2.4,0a1.2,1.2 0 1,0 -2.4,0ZM526.3,256.1a1,1 0 1,0 2.1,0a1,1 0 1,0 -2.1,0ZM530.3,260.9a1.4,1.4 0 1,0 2.8,0a1.4,1.4 0 1,0 -2.8,0ZM531,262.6a1.3,1.3 0 1,0 2.7,0a1.3,1.3 0 1,0 -2.7,0ZM531.4,262.5a1.3,1.3 0 1,0 2.6,0a1.3,1.3 0 1,0 -2.6,0ZM530.1,265a1.1,1.1 0 1,0 2.2,0a1.1,1.1 0 1,0 -2.2,0ZM531.9,265.1a1.5,1.5 0 1,0 3,0a1.5,1.5 0 1,0 -3,0ZM532.3,268.1a0.8,0.8 0 1,0 1.7,0a0.8,0.8 0 1,0 -1.7,0ZM531.9,262.9a1.2,1.2 0 1,0 2.4,0a1.2,1.2 0 1,0 -2.4,0ZM531.9,265.4a0.9,0.9 0 1,0 1.9,0a0.9,0.9 0 1,0 -1.9,0ZM530.9,261.5a1,1 0 1,0 2,0a1,1 0 1,0 -2,0ZM530.5,264.7a1.5,1.5 0 1,0 3,0a1.5,1.5 0 1,0 -3,0ZM529.3,267.2a1.7,1.7 0 1,0 3.4,0a1.7,1.7 0 1,0 -3.4,0ZM530.8,266.6a0.9,0.9 0 1,0 1.9,0a0.9,0.9 0 1,0 -1.9,0ZM526,272.3a1.2,1.2 0 1,0 2.3,0a1.2,1.2 0 1,0 -2.3,0ZM527,274.1a1.2,1.2 0 1,0 2.4,0a1.2,1.2 0 1,0 -2.4,0ZM530.4,271.3a0.9,0.9 0 1,0 1.8,0a0.9,0.9 0 1,0 -1.8,0ZM527.3,273.6a1.7,1.7 0 1,0 3.5,0a1.7,1.7 0 1,0 -3.5,0ZM528.1,270.2a1.9,1.9 0 1,0 3.7,0a1.9,1.9 0 1,0 -3.7,0ZM527.5,273.9a1.6,1.6 0 1,0 3.1,0a1.6,1.6 0 1,0 -3.1,0ZM527.6,275.4a1.2,1.2 0 1,0 2.4,0a1.2,1.2 0 1,0 -2.4,0ZM529.2,273.2a0.9,0.9 0 1,0 1.7,0a0.9,0.9 0 1,0 -1.7,0ZM530,271.8a0.8,0.8 0 1,0 1.7,0a0.8,0.8 0 1,0 -1.7,0ZM542.8,244.3a1.9,1.9 0 1,0 3.8,0a1.9,1.9 0 1,0 -3.8,0ZM544.2,243.5a1.1,1.1 0 1,0 2.2,0a1.1,1.1 0 1,0 -2.2,0ZM545.1,244.5a0.8,0.8 0 1,0 1.5,0a0.8,0.8 0 1,0 -1.5,0ZM542.8,248.6a1.3,1.3 0 1,0 2.6,0a1.3,1.3 0 1,0 -2.6,0ZM535.6,246.3a1.6,1.6 0 1,0 3.3,0a1.6,1.6 0 1,0 -3.3,0ZM539.7,239.6a0.9,0.9 0 1,0 1.8,0a0.9,0.9 0 1,0 -1.8,0ZM539.2,241.4a1,1 0 1,0 2.1,0a1,1 0 1,0 -2.1,0ZM543.9,246.4a1.7,1.7 0 1,0 3.4,0a1.7,1.7 0 1,0 -3.4,0ZM542.9,245a0.9,0.9 0 1,0 1.8,0a0.9,0.9 0 1,0 -1.8,0ZM544.9,242.8a1.2,1.2 0 1,0 2.4,0a1.2,1.2 0 1,0 -2.4,0ZM539.1,238.6a1.9,1.9 0 1,0 3.9,0a1.9,1.9 0 1,0 -3.9,0ZM546.1,257.9a1.4,1.4 0 1,0 2.9,0a1.4,1.4 0 1,0 -2.9,0ZM547.8,255.5a1.8,1.8 0 1,0 3.6,0a1.8,1.8 0 1,0 -3.6,0ZM544.8,249.3a0.9,0.9 0 1,0 1.9,0a0.9,0.9 0 1,0 -1.9,0ZM545.4,249.5a1.3,1.3 0 1,0 2.5,0a1.3,1.3 0 1,0 -2.5,0ZM542.8,253.3a1.4,1.4 0 1,0 2.9,0a1.4,1.4 0 1,0 -2.9,0ZM542.8,255.1a0.8,0.8 0 1,0 1.6,0a0.8,0.8 0 1,0 -1.6,0ZM540.5,250.3a1.4,1.4 0 1,0 2.8,0a1.4,1.4 0 1,0 -2.8,0ZM545.7,251.1a1,1 0 1,0 1.9,0a1,1 0 1,0 -1.9,0ZM542.4,251a1.4,1.4 0 1,0 2.8,0a1.4,1.4 0 1,0 -2.8,0ZM546.2,249.8a1.1,1.1 0 1,0 2.1,0a1.1,1.1 0 1,0 -2.1,0ZM547.4,255.5a1.5,1.5 0 1,0 3,0a1.5,1.5 0 1,0 -3,0ZM545.5,256.8a1.3,1.3 0 1,0 2.5,0a1.3,1.3 0 1,0 -2.5,0ZM544,260.5a1.5,1.5 0 1,0 3,0a1.5,1.5 0 1,0 -3,0ZM546.2,254.9a0.7,0.7 0 1,0 1.5,0a0.7,0.7 0 1,0 -1.5,0ZM543.6,260a1.4,1.4 0 1,0 2.7,0a1.4,1.4 0 1,0 -2.7,0ZM547,257.3a0.7,0.7 0 1,0 1.5,0a0.7,0.7 0 1,0 -1.5,0ZM545.1,257.2a0.9,0.9 0 1,0 1.7,0a0.9,0.9 0 1,0 -1.7,0ZM544.1,262.6a0.7,0.7 0 1,0 1.5,0a0.7,0.7 0 1,0 -1.5,0ZM543.4,258.3a0.8,0.8 0 1,0 1.5,0a0.8,0.8 0 1,0 -1.5,0ZM544.2,259.4a0.9,0.9 0 1,0 1.8,0a0.9,0.9 0 1,0 -1.8,0ZM544.8,257.6a1.6,1.6 0 1,0 3.2,0a1.6,1.6 0 1,0 -3.2,0ZM545.5,254.4a0.9,0.9 0 1,0 1.8,0a0.9,0.9 0 1,0 -1.8,0ZM546.2,265.9a1.3,1.3 0 1,0 2.6,0a1.3,1.3 0 1,0 -2.6,0ZM548.6,265.4a1,1 0 1,0 1.9,0a1,1 0 1,0 -1.9,0ZM540.6,260.9a1.6,1.6 0 1,0 3.3,0a1.6,1.6 0 1,0 -3.3,0ZM545.2,266a1.5,1.5 0 1,0 2.9,0a1.5,1.5 0 1,0 -2.9,0ZM543.2,260.6a1.1,1.1 0 1,0 2.2,0a1.1,1.1 0 1,0 -2.2,0ZM544.2,259.6a1.2,1.2 0 1,0 2.4,0a1.2,1.2 0 1,0 -2.4,0ZM540.7,259.2a0.9,0.9 0 1,0 1.9,0a0.9,0.9 0 1,0 -1.9,0ZM545.8,261a1.9,1.9 0 1,0 3.8,0a1.9,1.9 0 1,0 -3.8,0ZM545.9,263.6a1.1,1.1 0 1,0 2.2,0a1.1,1.1 0 1,0 -2.2,0ZM542.3,262.4a2,2 0 1,0 3.9,0a2,2 0 1,0 -3.9,0ZM543.3,262.2a1.9,1.9 0 1,0 3.9,0a1.9,1.9 0 1,0 -3.9,0ZM542.6,268.5a1.6,1.6 0 1,0 3.2,0a1.6,1.6 0 1,0 -3.2,0ZM552.5,241.9a1,1 0 1,0 2.1,0a1,1 0 1,0 -2.1,0ZM549.9,240.2a1.1,1.1 0 1,0 2.2,0a1.1,1.1 0 1,0 -2.2,0ZM551.5,239.1a0.7,0.7 0 1,0 1.5,0a0.7,0.7 0 1,0 -1.5,0ZM552.9,241.1a0.9,0.9 0 1,0 1.7,0a0.9,0.9 0 1,0 -1.7,0ZM550,238.7a1.4,1.4 0 1,0 2.8,0a1.4,1.4 0 1,0 -2.8,0ZM551.9,242a0.9,0.9 0 1,0 1.8,0a0.9,0.9 0 1,0 -1.8,0ZM521.2,277.9a0.8,0.8 0 1,0 1.7,0a0.8,0.8 0 1,0 -1.7,0ZM525.5,282.6a1.4,1.4 0 1,0 2.8,0a1.4,1.4 0 1,0 -2.8,0ZM524.3,283.2a0.8,0.8 0 1,0 1.6,0a0.8,0.8 0 1,0 -1.6,0ZM521.3,279a0.7,0.7 0 1,0 1.4,0a0.7,0.7 0 1,0 -1.4,0ZM519.8,278.7a1.4,1.4 0 1,0 2.8,0a1.4,1.4 0 1,0 -2.8,0ZM521.2,284.1a0.7,0.7 0 1,0 1.4,0a0.7,0.7 0 1,0 -1.4,0ZM523.4,280.7a1,1 0 1,0 1.9,0a1,1 0 1,0 -1.9,0ZM521.8,282.1a0.7,0.7 0 1,0 1.4,0a0.7,0.7 0 1,0 -1.4,0ZM526.3,283.1a1.3,1.3 0 1,0 2.6,0a1.3,1.3 0 1,0 -2.6,0ZM522.3,280.4a1,1 0 1,0 2,0a1,1 0 1,0 -2,0ZM522.9,279.6a0.9,0.9 0 1,0 1.7,0a0.9,0.9 0 1,0 -1.7,0ZM521.2,279.6a1.7,1.7 0 1,0 3.5,0a1.7,1.7 0 1,0 -3.5,0ZM531.1,287.4a1.6,1.6 0 1,0 3.2,0a1.6,1.6 0 1,0 -3.2,0ZM527.6,284.7a0.7,0.7 0 1,0 1.4,0a0.7,0.7 0 1,0 -1.4,0ZM530.6,281.6a0.9,0.9 0 1,0 1.9,0a0.9,0.9 0 1,0 -1.9,0ZM527.6,286.6a1.6,1.6 0 1,0 3.3,0a1.6,1.6 0 1,0 -3.3,0ZM526,282.1a1.7,1.7 0 1,0 3.5,0a1.7,1.7 0 1,0 -3.5,0ZM528.1,286.7a1.7,1.7 0 1,0 3.4,0a1.7,1.7 0 1,0 -3.4,0ZM528.2,281.3a1.5,1.5 0 1,0 3,0a1.5,1.5 0 1,0 -3,0ZM524.7,279.5a1.9,1.9 0 1,0 3.8,0a1.9,1.9 0 1,0 -3.8,0ZM532,282.8a0.7,0.7 0 1,0 1.4,0a0.7,0.7 0 1,0 -1.4,0ZM530.7,281.5a0.9,0.9 0 1,0 1.9,0a0.9,0.9 0 1,0 -1.9,0ZM524.9,280.9a2,2 0 1,0 3.9,0a2,2 0 1,0 -3.9,0ZM531.8,286.3a1.1,1.1 0 1,0 2.3,0a1.1,1.1 0 1,0 -2.3,0ZM532.8,284.7a1,1 0 1,0 2,0a1,1 0 1,0 -2,0ZM533.4,283.4a0.8,0.8 0 1,0 1.6,0a0.8,0.8 0 1,0 -1.6,0ZM533,288.6a0.7,0.7 0 1,0 1.4,0a0.7,0.7 0 1,0 -1.4,0ZM534.3,284.6a1.1,1.1 0 1,0 2.3,0a1.1,1.1 0 1,0 -2.3,0ZM534,291.6a1.6,1.6 0 1,0 3.1,0a1.6,1.6 0 1,0 -3.1,0ZM533.4,289.8a1.5,1.5 0 1,0 2.9,0a1.5,1.5 0 1,0 -2.9,0ZM533.6,287a1.6,1.6 0 1,0 3.2,0a1.6,1.6 0 1,0 -3.2,0ZM533.8,288.5a1,1 0 1,0 2.1,0a1,1 0 1,0 -2.1,0ZM533.9,291.2a1,1 0 1,0 1.9,0a1,1 0 1,0 -1.9,0ZM532.6,289.3a1.2,1.2 0 1,0 2.4,0a1.2,1.2 0 1,0 -2.4,0ZM536.7,289.6a1,1 0 1,0 1.9,0a1,1 0 1,0 -1.9,0ZM533.1,289.1a1.6,1.6 0 1,0 3.3,0a1.6,1.6 0 1,0 -3.3,0ZM534.6,288a1.7,1.7 0 1,0 3.5,0a1.7,1.7 0 1,0 -3.5,0ZM536.6,292a1.6,1.6 0 1,0 3.2,0a1.6,1.6 0 1,0 -3.2,0ZM531.2,288.9a1.1,1.1 0 1,0 2.1,0a1.1,1.1 0 1,0 -2.1,0ZM530.3,292.5a1.9,1.9 0 1,0 3.9,0a1.9,1.9 0 1,0 -3.9,0ZM532.6,292.1a0.7,0.7 0 1,0 1.5,0a0.7,0.7 0 1,0 -1.5,0ZM531.7,293a1,1 0 1,0 1.9,0a1,1 0 1,0 -1.9,0ZM528,294.2a1.1,1.1 0 1,0 2.2,0a1.1,1.1 0 1,0 -2.2,0ZM532.2,292.1a0.7,0.7 0 1,0 1.4,0a0.7,0.7 0 1,0 -1.4,0ZM531,293.4a0.9,0.9 0 1,0 1.8,0a0.9,0.9 0 1,0 -1.8,0ZM528.4,293.6a0.7,0.7 0 1,0 1.4,0a0.7,0.7 0 1,0 -1.4,0ZM534,290.9a0.7,0.7 0 1,0 1.4,0a0.7,0.7 0 1,0 -1.4,0ZM475.4,289.6a0.8,0.8 0 1,0 1.5,0a0.8,0.8 0 1,0 -1.5,0ZM476.4,291.1a0.8,0.8 0 1,0 1.6,0a0.8,0.8 0 1,0 -1.6,0ZM478.8,288.2a1.1,1.1 0 1,0 2.1,0a1.1,1.1 0 1,0 -2.1,0ZM471.9,288.9a2,2 0 1,0 4,0a2,2 0 1,0 -4,0ZM473.4,286.1a0.8,0.8 0 1,0 1.5,0a0.8,0.8 0 1,0 -1.5,0ZM477.8,290.2a0.9,0.9 0 1,0 1.7,0a0.9,0.9 0 1,0 -1.7,0ZM473.5,286.6a1.9,1.9 0 1,0 3.8,0a1.9,1.9 0 1,0 -3.8,0ZM472.5,290.5a1.1,1.1 0 1,0 2.2,0a1.1,1.1 0 1,0 -2.2,0ZM476.8,287.8a0.7,0.7 0 1,0 1.5,0a0.7,0.7 0 1,0 -1.5,0ZM474.4,288.6a0.7,0.7 0 1,0 1.4,0a0.7,0.7 0 1,0 -1.4,0ZM477.8,291.5a0.9,0.9 0 1,0 1.9,0a0.9,0.9 0 1,0 -1.9,0ZM476.2,290.5a0.8,0.8 0 1,0 1.5,0a0.8,0.8 0 1,0 -1.5,0ZM474.8,290.8a1.1,1.1 0 1,0 2.1,0a1.1,1.1 0 1,0 -2.1,0ZM478.1,291.9a1.1,1.1 0 1,0 2.3,0a1.1,1.1 0 1,0 -2.3,0ZM482.4,293.8a1.7,1.7 0 1,0 3.4,0a1.7,1.7 0 1,0 -3.4,0ZM479.2,290.8a0.8,0.8 0 1,0 1.6,0a0.8,0.8 0 1,0 -1.6,0ZM480.6,291.9a2,2 0 1,0 4,0a2,2 0 1,0 -4,0ZM483.9,298a0.8,0.8 0 1,0 1.6,0a0.8,0.8 0 1,0 -1.6,0ZM484.2,293.3a1.6,1.6 0 1,0 3.2,0a1.6,1.6 0 1,0 -3.2,0ZM487,295.6a0.7,0.7 0 1,0 1.5,0a0.7,0.7 0 1,0 -1.5,0ZM481,291.6a1.5,1.5 0 1,0 3,0a1.5,1.5 0 1,0 -3,0ZM484.6,296.5a1.6,1.6 0 1,0 3.2,0a1.6,1.6 0 1,0 -3.2,0ZM484,293.3a0.9,0.9 0 1,0 1.7,0a0.9,0.9 0 1,0 -1.7,0ZM482.4,297.6a0.9,0.9 0 1,0 1.7,0a0.9,0.9 0 1,0 -1.7,0ZM483.7,296.9a0.9,0.9 0 1,0 1.8,0a0.9,0.9 0 1,0 -1.8,0ZM489,297.1a1.9,1.9 0 1,0 3.7,0a1.9,1.9 0 1,0 -3.7,0ZM488.5,296.2a1.2,1.2 0 1,0 2.5,0a1.2,1.2 0 1,0 -2.5,0ZM485.9,296.5a1.3,1.3 0 1,0 2.6,0a1.3,1.3 0 1,0 -2.6,0ZM485.5,299a1.2,1.2 0 1,0 2.5,0a1.2,1.2 0 1,0 -2.5,0ZM486.3,293.2a1.7,1.7 0 1,0 3.3,0a1.7,1.7 0 1,0 -3.3,0ZM490.8,296.7a1,1 0 1,0 2.1,0a1,1 0 1,0 -2.1,0ZM492.1,297.8a1.9,1.9 0 1,0 3.8,0a1.9,1.9 0 1,0 -3.8,0ZM485.2,295.9a1.2,1.2 0 1,0 2.4,0a1.2,1.2 0 1,0 -2.4,0ZM490.3,297.8a1.4,1.4 0 1,0 2.8,0a1.4,1.4 0 1,0 -2.8,0ZM497.7,286.6a0.8,0.8 0 1,0 1.6,0a0.8,0.8 0 1,0 -1.6,0ZM492.2,294.4a1.3,1.3 0 1,0 2.5,0a1.3,1.3 0 1,0 -2.5,0ZM489.9,293.8a1.7,1.7 0 1,0 3.4,0a1.7,1.7 0 1,0 -3.4,0ZM494.9,290.8a1.6,1.6 0 1,0 3.3,0a1.6,1.6 0 1,0 -3.3,0ZM497.4,287.7a1.7,1.7 0 1,0 3.4,0a1.7,1.7 0 1,0 -3.4,0ZM495.5,290.9a1.6,1.6 0 1,0 3.2,0a1.6,1.6 0 1,0 -3.2,0ZM492.4,292.5a1.1,1.1 0 1,0 2.3,0a1.1,1.1 0 1,0 -2.3,0ZM496.7,290.3a1.7,1.7 0 1,0 3.4,0a1.7,1.7 0 1,0 -3.4,0ZM496.4,290a0.8,0.8 0 1,0 1.6,0a0.8,0.8 0 1,0 -1.6,0ZM496.4,287.5a1.6,1.6 0 1,0 3.2,0a1.6,1.6 0 1,0 -3.2,0ZM494.8,289.6a0.9,0.9 0 1,0 1.8,0a0.9,0.9 0 1,0 -1.8,0ZM500.5,287.7a0.7,0.7 0 1,0 1.4,0a0.7,0.7 0 1,0 -1.4,0ZM495.5,292.2a1.5,1.5 0 1,0 3.1,0a1.5,1.5 0 1,0 -3.1,0ZM493.5,290.9a1.8,1.8 0 1,0 3.6,0a1.8,1.8 0 1,0 -3.6,0ZM497.1,285.7a1.4,1.4 0 1,0 2.7,0a1.4,1.4 0 1,0 -2.7,0ZM502.7,282.6a0.8,0.8 0 1,0 1.7,0a0.8,0.8 0 1,0 -1.7,0ZM495.4,286.9a2.1,2.1 0 1,0 4.1,0a2.1,2.1 0 1,0 -4.1,0ZM503.5,279.9a0.8,0.8 0 1,0 1.6,0a0.8,0.8 0 1,0 -1.6,0ZM500.4,285.2a1.9,1.9 0 1,0 3.7,0a1.9,1.9 0 1,0 -3.7,0ZM498.3,288.7a0.7,0.7 0 1,0 1.5,0a0.7,0.7 0 1,0 -1.5,0ZM500.4,284.6a1.8,1.8 0 1,0 3.6,0a1.8,1.8 0 1,0 -3.6,0ZM500.6,282.6a0.7,0.7 0 1,0 1.5,0a0.7,0.7 0 1,0 -1.5,0ZM500.5,285.9a1.4,1.4 0 1,0 2.8,0a1.4,1.4 0 1,0 -2.8,0ZM503.6,285.4a0.7,0.7 0 1,0 1.4,0a0.7,0.7 0 1,0 -1.4,0ZM501.4,282.5a1.8,1.8 0 1,0 3.6,0a1.8,1.8 0 1,0 -3.6,0ZM504.7,280.6a1.4,1.4 0 1,0 2.7,0a1.4,1.4 0 1,0 -2.7,0ZM508.6,281.5a0.9,0.9 0 1,0 1.8,0a0.9,0.9 0 1,0 -1.8,0ZM505.6,277.3a2,2 0 1,0 4,0a2,2 0 1,0 -4,0ZM511.5,278.1a0.8,0.8 0 1,0 1.5,0a0.8,0.8 0 1,0 -1.5,0ZM503,279.5a1.2,1.2 0 1,0 2.3,0a1.2,1.2 0 1,0 -2.3,0ZM509.1,278.6a1.2,1.2 0 1,0 2.3,0a1.2,1.2 0 1,0 -2.3,0ZM508.5,279.8a1.7,1.7 0 1,0 3.4,0a1.7,1.7 0 1,0 -3.4,0ZM508.1,279.2a1.2,1.2 0 1,0 2.4,0a1.2,1.2 0 1,0 -2.4,0ZM505.4,282.9a0.7,0.7 0 1,0 1.5,0a0.7,0.7 0 1,0 -1.5,0ZM507.6,282a0.8,0.8 0 1,0 1.6,0a0.8,0.8 0 1,0 -1.6,0ZM510.3,277.4a1.7,1.7 0 1,0 3.3,0a1.7,1.7 0 1,0 -3.3,0ZM437,300.5a0.9,0.9 0 1,0 1.8,0a0.9,0.9 0 1,0 -1.8,0ZM433.5,291.9a0.7,0.7 0 1,0 1.4,0a0.7,0.7 0 1,0 -1.4,0ZM436.8,294.3a0.8,0.8 0 1,0 1.7,0a0.8,0.8 0 1,0 -1.7,0ZM437.5,293.5a1.2,1.2 0 1,0 2.4,0a1.2,1.2 0 1,0 -2.4,0ZM445,289.7a0.8,0.8 0 1,0 1.5,0a0.8,0.8 0 1,0 -1.5,0ZM448.5,290.6a1.1,1.1 0 1,0 2.2,0a1.1,1.1 0 1,0 -2.2,0ZM445.7,288.8a0.8,0.8 0 1,0 1.5,0a0.8,0.8 0 1,0 -1.5,0ZM458.2,289.5a0.9,0.9 0 1,0 1.8,0a0.9,0.9 0 1,0 -1.8,0ZM451.6,286.9a0.7,0.7 0 1,0 1.4,0a0.7,0.7 0 1,0 -1.4,0ZM450.7,286.1a0.9,0.9 0 1,0 1.7,0a0.9,0.9 0 1,0 -1.7,0ZM463.6,292.8a1.2,1.2 0 1,0 2.4,0a1.2,1.2 0 1,0 -2.4,0ZM466,292.1a1.4,1.4 0 1,0 2.9,0a1.4,1.4 0 1,0 -2.9,0ZM447.7,310.5a1.2,1.2 0 1,0 2.5,0a1.2,1.2 0 1,0 -2.5,0ZM450.8,307a1.1,1.1 0 1,0 2.1,0a1.1,1.1 0 1,0 -2.1,0ZM446.7,311.4a0.9,0.9 0 1,0 1.8,0a0.9,0.9 0 1,0 -1.8,0ZM447,311.9a1.6,1.6 0 1,0 3.1,0a1.6,1.6 0 1,0 -3.1,0ZM450,311a1.5,1.5 0 1,0 3,0a1.5,1.5 0 1,0 -3,0ZM453.6,306.5a1.4,1.4 0 1,0 2.8,0a1.4,1.4 0 1,0 -2.8,0ZM451,308.4a1.1,1.1 0 1,0 2.2,0a1.1,1.1 0 1,0 -2.2,0ZM453.6,306.7a1.5,1.5 0 1,0 3.1,0a1.5,1.5 0 1,0 -3.1,0ZM461.4,303.5a1.1,1.1 0 1,0 2.3,0a1.1,1.1 0 1,0 -2.3,0ZM460.4,302.8a0.9,0.9 0 1,0 1.9,0a0.9,0.9 0 1,0 -1.9,0ZM460.9,302.5a1.7,1.7 0 1,0 3.4,0a1.7,1.7 0 1,0 -3.4,0ZM459.3,306.1a0.7,0.7 0 1,0 1.4,0a0.7,0.7 0 1,0 -1.4,0ZM460.2,303.2a0.7,0.7 0 1,0 1.5,0a0.7,0.7 0 1,0 -1.5,0ZM458.1,305.6a1.7,1.7 0 1,0 3.3,0a1.7,1.7 0 1,0 -3.3,0ZM464.9,302.8a0.7,0.7 0 1,0 1.5,0a0.7,0.7 0 1,0 -1.5,0ZM466,302.5a0.7,0.7 0 1,0 1.4,0a0.7,0.7 0 1,0 -1.4,0ZM467.1,304.3a1.4,1.4 0 1,0 2.7,0a1.4,1.4 0 1,0 -2.7,0ZM464.9,301.9a0.9,0.9 0 1,0 1.7,0a0.9,0.9 0 1,0 -1.7,0ZM491.2,218.8a1.5,1.5 0 1,0 2.9,0a1.5,1.5 0 1,0 -2.9,0ZM486.6,218.8a1.1,1.1 0 1,0 2.2,0a1.1,1.1 0 1,0 -2.2,0ZM496.1,224.5a0.6,0.6 0 1,0 1.3,0a0.6,0.6 0 1,0 -1.3,0ZM499.4,217.1a0.7,0.7 0 1,0 1.3,0a0.7,0.7 0 1,0 -1.3,0ZM504.2,219.9a0.7,0.7 0 1,0 1.4,0a0.7,0.7 0 1,0 -1.4,0ZM502.1,218.2a1.4,1.4 0 1,0 2.8,0a1.4,1.4 0 1,0 -2.8,0ZM513.7,222a0.7,0.7 0 1,0 1.4,0a0.7,0.7 0 1,0 -1.4,0ZM512.3,216.4a0.8,0.8 0 1,0 1.7,0a0.8,0.8 0 1,0 -1.7,0ZM527.1,217.7a0.6,0.6 0 1,0 1.2,0a0.6,0.6 0 1,0 -1.2,0ZM530.3,220.7a1.1,1.1 0 1,0 2.2,0a1.1,1.1 0 1,0 -2.2,0ZM528.4,215.6a0.7,0.7 0 1,0 1.4,0a0.7,0.7 0 1,0 -1.4,0ZM504.6,235.4a1.2,1.2 0 1,0 2.3,0a1.2,1.2 0 1,0 -2.3,0ZM502,236.6a1.1,1.1 0 1,0 2.2,0a1.1,1.1 0 1,0 -2.2,0ZM505.1,237.4a0.8,0.8 0 1,0 1.6,0a0.8,0.8 0 1,0 -1.6,0ZM496.1,231.8a1.1,1.1 0 1,0 2.2,0a1.1,1.1 0 1,0 -2.2,0ZM519,235.2a1.1,1.1 0 1,0 2.3,0a1.1,1.1 0 1,0 -2.3,0ZM516.6,240.1a1,1 0 1,0 1.9,0a1,1 0 1,0 -1.9,0ZM523.4,238.2a0.8,0.8 0 1,0 1.6,0a0.8,0.8 0 1,0 -1.6,0ZM531.8,232.5a0.8,0.8 0 1,0 1.5,0a0.8,0.8 0 1,0 -1.5,0ZM434.5,300a0.7,0.7 0 1,0 1.5,0a0.7,0.7 0 1,0 -1.5,0ZM449.5,319.6a1,1 0 1,0 2.1,0a1,1 0 1,0 -2.1,0Z" fill="#f00" stroke="none"/>
<path d="M570,180L566,192" stroke="#f00" stroke-width="2.6" stroke-linecap="round"/>
<path d="M576,182L573.5,190" stroke="#f00" stroke-width="2.2" stroke-linecap="round"/>
<path d="M568,193L564,201" stroke="#f00" stroke-width="2.4" stroke-linecap="round"/>
<path d="M562.5,206L561,209" stroke="#f00" stroke-width="2.8" stroke-linecap="round"/>
<path d="M577.5,195L570,212" stroke="#f00" stroke-width="2.4" stroke-linecap="round"/>
<path d="M573,209L571.5,218" stroke="#f00" stroke-width="2.0" stroke-linecap="round"/>
<path d="M586,213L585,219" stroke="#f00" stroke-width="1.6" stroke-linecap="round"/>
<path d="M597,196L595,206" stroke="#f00" stroke-width="2.0" stroke-linecap="round"/>
<path d="M581,169L581.5,171" stroke="#f00" stroke-width="2.2" stroke-linecap="round"/>
<path d="M218.5,353.3L224.9,353.1M223.5,339.3L220.2,338.7M223.5,339.3L228.4,344.2M228.4,344.2L224.9,353.1M218.8,340.2L220.2,338.7M227.2,357.6L224.9,353.1M227.2,357.6L222.1,366.2M222.1,366.2L219.2,364.8M229,407L224.2,412M229,407L224,399.3M224.2,412L218.8,410.8M224,399.3L218.9,399.4M218.6,437.2L220.6,434.5M220.6,434.5L218.5,430.9M224.2,412L225,419.7M219.2,421.9L225,419.7M240.1,412.9L234.4,407.1M240.1,412.9L243.4,413.2M234.4,407.1L238.8,396.2M250.9,402.2L243.4,413.2M250.9,402.2L250.5,399.5M250.5,399.5L238.8,396.2M546.6,557L540.2,563.8M540.2,563.8L541.2,569.4M551.8,569.9L552.6,569.3M546.5,548.3L543.4,544.3M543.4,544.3L545.2,537.9M540.2,563.8L533.6,558.6M533.6,558.6L535.1,547.4M543.4,544.3L535.1,547.4M344.5,377.8L354.4,384.3M344.5,377.8L343.7,374.5M360.6,372.9L352.2,365.9M360.6,372.9L360.9,374.6M352.2,365.9L350.9,366.1M360.9,374.6L354.4,384.3M343.7,374.5L350.9,366.1M257.2,380.9L251.2,386.8M257.2,380.9L262.1,381.5M262.1,381.5L265.8,386.2M265.8,386.2L261.9,395M251.2,386.8L252.7,396.3M261.9,395L252.7,396.3M250.9,402.2L260.4,408.9M266.9,401.8L260.4,408.9M266.9,401.8L261.9,395M250.5,399.5L252.7,396.3M268.3,228.4L260.5,226.2M268.3,228.4L264.4,241.2M256.2,233.7L262.4,241.6M256.2,233.7L257,228.1M260.5,226.2L257,228.1M264.4,241.2L262.4,241.6M283.7,246L277.1,237.7M283.7,246L275.6,251.7M277.1,237.7L269.2,243.3M269.2,243.3L271.8,249.6M275.6,251.7L271.8,249.6M289.1,241L297,240.9M289.1,241L285.2,246.1M285.2,246.1L288.2,249.9M288.2,249.9L293.8,250.8M293.8,250.8L298.5,246.4M298.5,246.4L298.1,242.1M298.1,242.1L297,240.9M283.7,246L285.2,246.1M280.8,260L286.3,257.9M280.8,260L276.5,256.3M286.3,257.9L288.2,249.9M276.5,256.3L275.6,251.7M297.4,258.2L293.8,250.8M297.4,258.2L291.2,261M291.2,261L286.3,257.9M222.9,450.1L218.8,452.9M222.9,450.1L229.2,451M229.2,451L230.5,453.4M230.5,453.4L228.1,463.4M228.1,463.4L218.6,465.7M218.7,441.8L222.9,450.1M222.5,476.5L218.9,474.5M222.5,476.5L229.6,474.4M218.4,467.8L218.6,465.7M229.6,474.4L232.1,468.8M232.1,468.8L228.1,463.4M260.7,494L263.1,495.8M260.7,494L261.7,488.2M273.4,495.7L263.1,495.8M273.4,495.7L276.9,488.9M261.7,488.2L271.2,481.1M271.2,481.1L272.9,481.3M276.9,488.9L272.9,481.3M250.5,370.6L243.1,374M250.5,370.6L257.2,380.9M251.2,386.8L241.2,384.6M241.2,384.6L243.1,374M250.5,370.6L251.5,367.5M236.4,360.2L248,361.3M236.4,360.2L235,370.1M235,370.1L243.1,374M251.5,367.5L248,361.3M228.4,344.2L236.6,344M227.2,357.6L236.1,359.8M236.1,359.8L239.3,347.7M236.6,344L239.3,347.7M243.4,413.2L247.5,417.5M260.4,408.9L260.7,411.3M260.7,411.3L256.1,417.5M247.5,417.5L256.1,417.5M260.5,426.1L252.3,430.7M260.5,426.1L256.1,417.5M247.5,417.5L246.1,427.5M246.1,427.5L252.3,430.7M259.4,441.4L253.6,441.4M259.4,441.4L266.5,448.6M249,449.7L248.6,445.1M249,449.7L261.7,458.5M266.5,448.6L266.2,453.4M253.6,441.4L248.6,445.1M266.2,453.4L261.7,458.5M218.5,288.1L218.6,276.2M370.6,305.5L378.6,307.2M370.6,305.5L368.9,297.5M368.9,297.5L375.1,293.6M375.1,293.6L380.1,295.9M378.6,307.2L380.1,295.9M462.2,321L457.7,326.4M462.2,321L469.9,328.3M457.7,326.4L461.7,333.1M461.7,333.1L469.9,328.3M503.7,253.4L504,262.8M503.7,253.4L513.4,252.3M512.9,261.4L506.3,264.1M512.9,261.4L515.3,253.7M506.3,264.1L504,262.8M515.3,253.7L513.4,252.3M448.4,484.5L452.4,478.2M448.4,484.5L437.7,480.5M452.4,478.2L447.5,470.8M447.5,470.8L436.5,478.4M437.7,480.5L436.5,478.4M435.8,494.3L433.2,492.4M433.2,492.4L437.7,480.5M450.4,495.2L451.8,492.3M451.8,492.3L448.4,484.5M447.8,468.4L447.5,470.8M447.8,468.4L455.9,467.8M455.9,467.8L458.5,475.6M458.5,475.6L452.4,478.2M471.5,501.4L462.6,490.2M471.5,501.4L470.5,505.7M462.6,490.2L451.8,492.3M460.3,505.2L470.5,505.7M645.5,275.8L639.8,283.3M645.5,275.8L649.6,277.4M649.6,277.4L653.6,286.9M639.8,283.3L642.9,291.3M642.9,291.3L647,291.9M647,291.9L653.6,286.9M585.9,315.3L594.8,317.5M585.9,315.3L590.1,301.9M590.1,301.9L598.8,306M598.8,306L598.6,316M594.8,317.5L598.6,316M587.1,299.4L576.3,305.3M587.1,299.4L589.6,300.8M583,316.3L576.3,305.3M583,316.3L585.9,315.3M589.6,300.8L590.1,301.9M623.8,226.9L630.1,222.8M623.8,226.9L618.1,221.6M618.9,218.6L618,220.4M618.9,218.6L630,217.3M630.1,222.8L630.5,218M618.1,221.6L618,220.4M630,217.3L630.5,218M641.5,218.5L641.9,218.8M641.5,218.5L630.5,218M641.9,218.8L639,227M639,227L635.7,229M630.1,222.8L635.6,229M514.4,537.2L523.7,539.6M514.4,537.2L504.8,543.5M518.2,555.1L525,543.2M518.2,555.1L503.4,547.5M523.7,539.6L525,543.2M504.8,543.5L503.4,547.5M527.1,522.5L525.1,521.6M527.1,522.5L528.6,530.4M528.6,530.4L523.7,539.6M525.1,521.6L511.1,525M511.1,525L514.4,537.2M535.1,547.4L525,543.2M543.8,534.8L528.6,530.4M238.7,206.6L237.2,204.8M238.7,206.6L238.6,214.6M238.6,214.6L228.1,215.2M228.1,215.2L225.8,204.6M237.2,204.8L225.8,204.6M219.2,217L225.5,218M218.8,205.3L225.2,204.1M228.1,215.2L225.5,218M225.2,204.1L225.8,204.6M368.3,308.5L370.8,315.5M368.3,308.5L361.4,308.7M361.4,308.7L359.6,311M370.8,315.5L366.3,318.6M359.6,311L359.9,314M359.9,314L366.3,318.6M289.1,311.8L282.2,305.4M289.1,311.8L295.3,309.8M295.6,309.3L295.3,309.8M295.6,309.3L294.1,301.1M294.1,301.1L286.8,296.1M286.8,296.1L282.2,305.4M290.6,326.4L297.1,324.4M290.6,326.4L286.4,319.8M297.1,324.4L299.3,316M286.4,319.8L289.1,311.8M299.3,316L295.3,309.8M301.7,297.7L303.7,299.2M301.7,297.7L294.1,301.1M303.7,299.2L304.3,305.9M304.3,305.9L295.6,309.3M301.7,297.7L300.5,291.9M286.6,294.6L286.8,296.1M286.6,294.6L296.6,288.9M296.6,288.9L300.5,291.9M262.9,316.9L271.2,306M262.9,316.9L269.8,324.9M277.5,318.8L274.8,307.6M277.5,318.8L271.8,324.7M274.8,307.6L271.2,306M271.8,324.7L269.8,324.9M286.4,319.8L277.5,318.8M282.2,305.4L274.8,307.6M288.8,330.9L290.6,326.4M288.8,330.9L282.3,334.6M282.3,334.6L271.8,324.7M286.6,294.6L280.8,289.1M271.2,306L267.9,300.7M280.8,289.1L267.9,300.7M342.2,358.7L331.8,364.2M342.2,358.7L342.4,348.3M331.8,364.2L327.3,357.6M327.3,357.6L330.3,350.2M330.3,350.2L342.4,348.3M339.8,385.6L343.2,391.6M339.8,385.6L344.5,377.8M343.2,391.6L353.7,391.7M354.4,384.3L355.4,389M353.7,391.7L355.4,389M497.2,270.9L490.9,272.1M497.2,270.9L499.4,264.6M490.9,272.1L488.4,262.6M499.4,264.6L491.1,259.8M491.1,259.8L488.4,262.6M492,282L491.6,281.7M492,282L499.8,278.7M491.6,281.7L490.5,272.5M490.5,272.5L490.9,272.1M499.8,278.7L500.3,274.6M500.3,274.6L497.2,270.9M361.4,308.7L360.3,302.1M359.6,311L351.4,309.2M351.4,309.2L352.3,300.9M352.3,300.9L360.3,302.1M368.3,308.5L370.6,305.5M368.9,297.5L364.5,297M360.3,302.1L364.5,297M352.3,300.9L350.9,298.9M350.9,298.9L355.8,291.7M364.5,297L360.9,291.9M355.8,291.7L360.9,291.9M361.4,271.9L358.9,280.4M361.4,271.9L369.3,274.3M370.2,275.5L369.3,274.3M370.2,275.5L366.4,283.7M358.9,280.4L364.2,284.2M366.4,283.7L364.2,284.2M378.1,283.4L374.2,288.5M378.1,283.4L377.1,276.1M377.1,276.1L370.2,275.5M374.2,288.5L366.4,283.7M353.7,281.1L358.9,280.4M353.7,281.1L352.5,287.6M352.5,287.6L355.8,291.7M360.9,291.9L364.2,284.2M374.2,288.5L375.1,293.6M303.7,299.2L311.1,297M300.5,291.9L310.7,287.5M311.1,297L312.6,292.2M310.7,287.5L312.6,292.2M311.1,297L315.2,303.5M320.9,300L321,293.6M320.9,300L315.2,303.5M312.6,292.2L321,293.6M328,303.2L330.8,299.1M328,303.2L320.9,300M330.8,299.1L327.9,291.5M327.9,291.5L324.3,291.1M321,293.6L324.3,291.1M288.7,270.8L287.5,279.4M288.7,270.8L280.4,267.6M280.4,267.6L275.2,270.9M275.2,270.9L277.8,283.6M287.5,279.4L279.7,285.1M279.7,285.1L277.8,283.6M291.2,261L290.4,269.8M280.8,260L280.4,267.6M290.4,269.8L288.7,270.8M296.6,288.9L296.9,282.8M296.9,282.8L287.5,279.4M280.8,289.1L279.7,285.1M371.7,211.6L372.2,202.9M371.7,211.6L376.4,213.3M376.4,213.3L377.2,213M374.4,201.4L372.2,202.9M374.4,201.4L380.3,205.7M380.3,205.7L377.2,213M277.1,237.7L278.2,230.3M269.2,243.3L264.4,241.2M268.3,228.4L271.6,227.4M271.6,227.4L278.2,230.3M286.8,229.9L289.1,241M286.8,229.9L282.7,228.8M282.7,228.8L278.2,230.3M238.7,206.6L250,202.4M248.5,216.5L250,215.3M248.5,216.5L240.3,216.5M250,215.3L250.9,203.4M240.3,216.5L238.6,214.6M250.9,203.4L250,202.4M286.8,229.9L293.2,228.2M297,240.9L297.6,231.8M293.2,228.2L297.6,231.8M259.4,244.7L262.4,241.6M259.4,244.7L250.8,243.1M256.2,233.7L250.8,237M250.8,243.1L250.8,237M248.5,216.5L251.5,225.9M251.5,225.9L242.6,231.4M240.3,216.5L237.7,228.5M237.7,228.5L242.6,231.4M251.5,225.9L257,228.1M250.8,237L243.1,232.7M242.6,231.4L243.1,232.7M298.1,242.1L306,239.9M297.6,231.8L304,231.6M304,231.6L306,239.9M332.3,231.8L325.9,238.7M332.3,231.8L327.3,226.1M319.9,231.4L325.9,238.7M319.9,231.4L320.3,230.1M327.3,226.1L320.3,230.1M671.8,119.8L669.9,117.1M576.3,261.5L584.6,258.1M576.3,261.5L580,269.4M584.6,258.1L588.1,262.3M588.1,262.3L584.2,269.9M580,269.4L584.2,269.9M587.5,232.7L591.9,233.4M587.5,232.7L585.7,235.5M596.1,242.8L591.9,233.4M596.1,242.8L595.1,244.3M585.7,235.5L587.1,244.5M595.1,244.3L587.1,244.5M218.5,489.8L220.4,490.5M222.5,476.5L224.1,487.2M224.1,487.2L220.4,490.5M229.6,474.4L234.8,480.4M224.1,487.2L231.4,487.7M234.8,480.4L231.4,487.7M242.8,458.8L230.5,453.4M242.8,458.8L244.4,466M232.1,468.8L242.8,467.4M244.4,466L242.8,467.4M234.8,480.4L240.7,479.2M242.8,467.4L240.7,479.2M273.4,495.7L277.8,502.5M263.1,495.8L266.5,509.7M278.9,504.3L270.3,508.1M267.4,509.3L266.5,509.7M276.9,488.9L285.2,490.2M272.9,481.3L277.4,477.6M285.2,490.2L288.4,487.6M277.4,477.6L290.5,480.8M218.7,386.3L222.5,384.7M222.5,384.7L219,374.6M222.1,366.2L223.1,369M236.4,360.2L236.1,359.8M235,370.1L231.3,371.9M231.3,371.9L223.1,369M223.1,369L219,374.6M237.4,393.4L239.3,385.9M237.4,393.4L227.2,393.5M239.3,385.9L230.3,381.2M227.2,393.5L222.9,384.8M222.9,384.8L230.3,381.2M238.8,396.2L237.4,393.4M241.2,384.6L239.3,385.9M234.4,407.1L229,407M224,399.3L227.2,393.5M231.3,371.9L230.3,381.2M222.5,384.7L222.9,384.8M220.2,338.7L218.8,337.2M218.9,310.8L224.4,323.1M224.4,323.1L218.7,326.4M218.9,310.8L219,309.8M219,309.8L219.8,309.1M218.5,292L220.5,294.9M220.5,294.9L219.8,309.1M220.5,294.9L233.7,296.6M219.8,309.1L234.8,308.4M233.7,296.6L236.7,302.7M236.7,302.7L236.2,306.7M236.2,306.7L234.8,308.4M248,361.3L250,353.1M239.3,347.7L248,349.9M250,353.1L248,349.9M253,329.4L249.2,333.8M253,329.4L264.6,332M249.2,333.8L252.7,341.4M252.7,341.4L262.9,344M264.6,332L266.8,341.3M266.8,341.3L262.9,344M262.9,316.9L254.1,316.3M269.8,324.9L264.6,332M254.1,316.3L252.2,319.5M252.2,319.5L253,329.4M236.6,344L241.2,334.5M241.2,334.5L249.2,333.8M248,349.9L252.7,341.4M260.3,353L250,353.1M260.3,353L262.9,344M266.9,401.8L273.5,401.8M265.8,386.2L274.3,387.6M274.3,387.6L275.9,389.5M275.9,389.5L276.6,399.4M273.5,401.8L276.6,399.4M235.2,441.5L238.7,440.3M235.2,441.5L225.5,433.5M238.7,440.3L240.8,430.4M240.8,430.4L232.1,423.4M225.5,433.5L230.2,423.6M232.1,423.4L230.2,423.6M249,449.7L242.8,458.8M229.2,451L235.2,441.5M248.6,445.1L238.7,440.3M220.6,434.5L225.5,433.5M253.6,441.4L252.3,430.7M246.1,427.5L240.8,430.4M240.1,412.9L232.1,423.4M225,419.7L230.2,423.6M223.8,246.1L225.1,253.1M223.8,246.1L219.3,245.8M219.1,257.6L225.1,253.1M218.5,288.1L229.6,284.2M233.7,296.6L235.7,288.2M229.6,284.2L235.7,288.2M532,316.8L524.6,316M532,316.8L535.6,323.1M535.6,323.1L530.9,331.7M524.6,316L521.6,320.6M521.6,320.6L526.9,332M526.9,332L530.9,331.7M513.3,309.3L515.7,301.9M513.3,309.3L522.9,312.2M515.7,301.9L523.2,301M522.9,312.2L526.2,305M523.2,301L526.2,305M510.2,367L515.3,373M510.2,367L518.6,358.9M515.3,373L524.4,370.8M524.4,370.8L519.4,359M518.6,358.9L519.4,359M515.3,354.8L505.6,354.1M515.3,354.8L518.6,358.9M503.9,366.7L510.2,367M503.9,366.7L502.7,364.6M505.6,354.1L502.7,364.6M515.3,354.8L516.2,347.2M523.3,344.2L516.2,347.2M523.3,344.2L528.7,349M519.4,359L525.3,356.4M528.7,349L525.3,356.4M524.4,370.8L526.3,371.8M525.3,356.4L533.7,362.8M526.3,371.8L533.7,362.8M370.8,315.5L375.6,316.3M378.6,307.2L380.5,309.9M380.5,309.9L375.6,316.3M368.6,331.3L365.4,325.3M368.8,331.3L378.3,323.4M365.4,325.3L366.3,318.6M375.6,316.3L378.3,323.4M385.1,284.5L378.1,283.4M385.1,284.5L386,290.9M380.1,295.9L380.8,295.8M386,290.9L380.8,295.8M457.3,348.3L460.8,347.4M457.3,348.3L452.9,340.6M460.9,336L462.3,337.7M460.9,336L455.7,337M452.9,340.6L455.7,337M460.8,347.4L462.3,337.7M460.9,336L461.7,333.1M469.9,328.3L471.6,328.6M471.6,328.6L473.3,332.4M473.3,332.4L468.5,339.2M462.3,337.7L468.5,339.2M528.2,277.5L521.2,280M528.2,277.5L533,283.8M521.2,280L522.7,289.9M533,283.8L529,291.4M522.7,289.9L526,291.9M526,291.9L529,291.4M511,281L507.6,272.4M511,281L518.1,278.2M518.1,278.2L517.9,270.2M517.9,270.2L508.5,270.3M508.5,270.3L507.6,272.4M519.7,267.6L517.9,270.2M519.7,267.6L512.9,261.4M506.3,264.1L508.5,270.3M500.3,274.6L507.6,272.4M504,262.8L499.4,264.6M531.8,270.5L529.2,260.4M531.8,270.5L530.2,271.5M530.2,271.5L519.8,267.6M529.2,260.4L522.7,261.9M519.8,267.6L522.7,261.9M528.2,277.5L530.2,271.5M521.2,280L518.1,278.2M515.3,253.7L518.6,253.5M518.6,253.5L522.7,261.9M520.3,386L527.3,373.8M520.3,386L527.3,390.3M527.3,390.3L533.9,388.5M527.3,373.8L534.5,377.4M534.5,377.4L536.4,384.6M536.4,384.6L533.9,388.5M513.3,448.2L517,446.7M513.3,448.2L508.1,446.9M518.7,443.3L517,446.7M518.7,443.3L513,435.3M513,435.3L510,434.9M510,434.9L506.8,443.5M508.1,446.9L506.8,443.5M423,478.3L421,474.8M423,478.3L421.7,481.2M421,474.8L413.6,470.9M408.2,475.5L413.6,470.9M408.2,475.5L409.3,483.4M409.3,483.4L421.7,481.2M430.5,493.1L427.3,499.7M430.5,493.1L422.6,488.7M422.6,488.7L416.2,493.9M416.2,493.9L421.6,501.1M427.3,499.7L421.6,501.1M433.2,492.4L430.5,493.1M423,478.3L435,477M435,477L436.5,478.4M421.7,481.2L422.6,488.7M445.3,456.8L449.4,458.1M445.3,456.8L441.1,450.6M450.4,446.2L442.6,448.2M450.4,446.2L453.6,452.8M453.6,452.8L451.6,457.3M441.1,450.6L442.6,448.2M449.4,458.1L451.6,457.3M451.7,442.6L450.4,446.2M451.7,442.6L444.6,437.4M440.7,442.2L444.6,437.4M440.7,442.2L442.6,448.2M454.6,440.9L451.7,442.6M454.6,440.9L461.8,446.9M461.8,446.9L460.2,451.2M460.2,451.2L453.6,452.8M447.8,468.4L447,466.9M447,466.9L449.4,458.1M455.9,467.8L458.3,463M458.3,463L451.6,457.3M447,466.9L441.1,465.7M435,477L434.9,472.2M434.9,472.2L441.1,465.7M445.3,456.8L439.6,461.2M439.6,461.2L441.1,465.7M496.1,489.1L493.2,501.8M496.1,489.1L490.1,483M490.1,483L480.6,489.8M493.2,501.8L480.1,494.9M480.1,494.9L480.6,489.8M462.6,490.2L467,481.5M458.5,475.6L462.8,476.8M462.8,476.8L467,481.5M471.5,501.4L480.1,494.9M480.6,489.8L472.2,480.7M467,481.5L472.2,480.7M477.9,466.9L471.9,467.4M477.9,466.9L482.9,473.7M482.9,473.7L474,478.3M471.9,467.4L474,478.3M482.9,473.7L483.6,473.7M490.1,483L490.3,479.5M483.6,473.7L490.3,479.5M474,478.3L472.2,480.7M499.1,550.4L499.9,561.7M499.1,550.4L503.4,547.5M499.9,561.7L505.3,567.2M518.2,555.1L519.1,558.8M505.3,567.2L519.1,558.8M533.6,558.6L522.3,561.5M523.6,570L522.3,561.5M519.1,558.8L522.3,561.5M483.9,540.3L487,539.2M495,549.4L482.6,556.1M495,549.4L487,539.2M482.6,556.1L481.7,555.7M499.1,550.4L495,549.4M499.9,561.7L485.7,568.5M485.7,568.5L482.6,556.1M485.7,568.5L485.3,569.5M669.3,232.1L670.8,223.9M669.3,232.1L672.1,233.8M671.6,223.3L670.8,223.9M664.4,233.1L669.3,232.1M664.4,233.1L658.5,228.6M658.5,228.6L658.9,226.7M658.9,226.7L664.8,221.9M664.8,221.9L670.8,223.9M672.3,240.2L667.7,243.3M664.4,233.1L662.6,240.7M662.6,240.7L667.7,243.3M664.8,221.9L663.7,215.2M672.3,212.6L671.4,212.1M671.4,212.1L665.7,212.2M663.7,215.2L665.7,212.2M671.4,212.1L672.2,206.7M649.1,248L654.3,239.6M649.1,248L644.3,245.6M644.3,245.6L642.3,238.7M654.3,239.6L653.4,237.3M653.4,237.3L646.5,234.6M642.3,238.7L646.5,234.6M658.4,228.6L653.4,237.3M662.6,240.7L661.3,241.4M661.3,241.4L654.3,239.6M658.4,228.6L649.6,227.4M646.5,230.9L649.6,227.4M646.5,230.9L646.5,234.6M646.5,230.9L639,227M638.8,237.5L635.7,229M638.8,237.5L642.3,238.7M654.1,207.8L655.5,216.7M654.1,207.8L647.8,209.3M647.8,209.3L645.6,218.4M654.7,217.9L647.2,219.2M654.7,217.9L655.5,216.7M647.2,219.2L645.6,218.4M663.7,215.2L655.5,216.7M665.7,212.2L662.1,206.8M655.2,206.4L662.1,206.8M655.2,206.4L654.1,207.8M658.9,226.7L654.7,217.9M649.6,227.4L647.2,219.2M641.9,218.8L645.6,218.4M641.5,218.5L637.8,208.4M647.8,209.3L641.6,204.1M641.6,204.1L637.8,208.4M629.9,214.6L634.4,208.8M629.9,214.6L630,217.3M637.8,208.4L634.4,208.8M560.5,227.3L561.4,216.9M560.5,227.3L554.5,227M551.2,221.8L554.5,227M551.2,221.8L561.3,216.8M625,269.1L632.8,265.1M625,269.1L620.5,261.5M632.8,265.1L626.8,257.2M620.5,261.5L626.8,257.2M635.2,265.7L638,270.4M635.2,265.7L639.5,258.1M648.9,263.3L643.3,258.1M648.9,263.3L643.8,272.9M643.8,272.9L638,270.4M639.5,258.1L643.3,258.1M629,278L624,272.2M629,278L638,270.4M624,272.2L625,269.1M632.8,265.1L635.2,265.7M629,278L629,283.8M629,283.8L639.8,283.3M645.5,275.8L643.8,272.9M589.6,300.8L600.2,290.6M598.8,306L604.5,302.6M600.2,290.6L604.5,302.6M629.9,214.6L623.4,208.7M634.4,208.8L629.4,204.1M623.4,208.7L629.4,204.1M623.4,208.7L622.1,208.6M624.7,197.7L619,203.8M624.7,197.7L629.5,201.8M629.5,201.8L629.4,204.1M619,203.8L622.1,208.6M618.9,218.6L618.5,213.9M618.5,213.9L622.1,208.6M613,227.8L607.1,224.6M613,227.8L618.1,221.6M618,220.4L607.7,217.8M607.7,217.8L607.1,224.6M661.3,241.4L658.8,251.7M649.4,248.6L655.1,252.2M649.4,248.6L649.1,248M658.8,251.7L655.1,252.2M649.4,248.6L643.3,258.1M648.9,263.3L652.7,262.3M655.1,252.2L652.7,262.3M649.6,277.4L655.9,274.2M655.9,274.2L657,265M657,265L652.7,262.3M625.5,250.3L627.4,255.2M625.5,250.3L633.3,245.7M627.4,255.2L636.9,254.2M633.3,245.7L637.9,248.9M637.9,248.9L636.9,254.2M626.8,257.2L627.4,255.2M639.5,258.1L636.9,254.2M632.7,240.5L638.8,237.5M632.7,240.5L633.3,245.7M644.3,245.6L637.9,248.9M621.8,247.6L619.3,247.3M621.8,247.6L628.1,238M619.3,247.3L617,235.4M617,235.4L624.2,233.1M628.1,238L626.6,234.4M624.2,233.1L626.6,234.4M618.5,247.7L619.3,247.3M618.5,247.7L616.2,257.7M616.2,257.7L619.6,261.5M619.6,261.5L620.5,261.5M625.5,250.3L621.8,247.6M632.7,240.5L628.1,238M613.4,233.6L613,227.8M613.4,233.6L613.8,234.1M613.8,234.1L617,235.4M623.8,226.9L624.2,233.1M635.6,229L626.6,234.4M622.4,325.4L622.7,329.5M622.4,325.4L618.7,321.3M611.5,334.4L618.2,335.9M611.5,334.4L608.1,325.4M618.7,321.3L608.1,325.4M622.7,329.5L618.2,335.9M219.3,192.8L226.6,192.6M225.2,204.1L226.9,192.9M226.6,192.6L226.9,192.9M237.2,204.8L236.9,194M226.9,192.9L236.9,194M218.5,260.6L218.6,261.8M308.4,308.8L306.8,315M308.4,308.8L314.5,306.8M314.5,306.8L320.3,312.8M306.8,315L310,319.8M310,319.8L320.3,314.9M320.3,312.8L320.6,314.3M320.6,314.3L320.3,314.9M304.3,305.9L308.4,308.8M299.3,316L306.8,315M315.2,303.5L314.5,306.8M328,303.2L328,304.1M328,304.1L320.3,312.8M297.1,324.4L305.9,328M305.9,328L309.1,325M309.1,325L310,319.8M321.7,327.9L309.1,325M321.7,327.9L320.3,314.9M274,355.3L286.4,354.7M274,355.3L271.9,342.9M280.1,339.9L271.9,342.9M280.1,339.9L287.5,349.1M287.5,349.1L286.4,354.7M282.3,334.6L280.1,339.9M266.8,341.3L271.9,342.9M268,371.9L275.8,370.2M268,371.9L260.1,364.6M275.8,370.2L272.3,357.4M272.3,357.4L263.1,357.7M260.1,364.6L263.1,357.7M262.1,381.5L268,371.9M279.1,371.7L275.8,370.2M279.1,371.7L279.3,372M279.3,372L274.3,387.6M251.5,367.5L260.1,364.6M279.1,371.7L289.3,360.2M289.3,360.2L286.4,354.7M274,355.3L272.3,357.4M260.3,353L263.1,357.7M267.9,300.7L266.1,299.8M252.6,311.2L254.1,316.3M252.6,311.2L254.1,307M254.1,307L266.1,299.8M236.7,302.7L248.8,296.1M236.2,306.7L252.6,311.2M254.1,307L248.8,296.1M345.7,462.3L342.7,456.5M345.7,462.3L356.6,463.3M342.7,456.5L350.8,448.1M356.6,463.3L359,460.4M359,460.4L357,451.2M350.8,448.1L357,451.2M301.7,500.8L302.6,500.3M343.2,391.6L339.7,396.9M339.7,396.9L342.5,403.4M353.7,391.7L354.5,398.3M354.5,398.3L346,404.7M346,404.7L342.5,403.4M319.3,446.6L307.3,451.1M319.3,446.5L311.6,435M311.6,435L303.1,441.8M303.1,441.8L305,450.1M305,450.1L307.3,451.1M322.6,458L319.3,446.6M322.6,458L314.6,464.3M312,463.4L314.6,464.3M312,463.4L307.3,451.1M336.4,454.6L329.3,459.4M336.4,454.6L334.4,445M329.3,459.4L322.6,458M334.4,445L328.4,441.5M328.4,441.5L319.3,446.5M343.7,374.5L333.7,371.5M350.9,366.1L342.2,358.7M331.8,364.2L331.5,367.9M333.7,371.5L331.5,367.9M327.3,357.6L314.9,357.5M314.9,357.5L316.4,371.7M331.5,367.9L316.4,371.7M314.7,357.3L315.7,345.7M314.7,357.3L303.4,357.9M303.4,357.9L299.7,343M315.7,345.7L311.9,340.6M311.9,340.6L306.8,338.9M306.8,338.9L299.8,342.8M314.9,357.5L314.7,357.3M326.4,344.6L330.3,350.2M326.4,344.6L315.7,345.7M298.2,363.1L303.4,357.9M298.2,363.1L289.3,360.2M287.5,349.1L299.7,343M288.8,330.9L299.8,342.8M305.9,328L306.8,338.9M298.2,363.1L299.5,368.6M279.3,372L289.1,378.5M289.1,378.5L299.5,368.6M316.4,371.7L314.6,375.1M314.6,375.1L306.8,375.3M299.5,368.6L306.8,375.3M476.3,230.2L469.5,231.2M476.3,230.2L478.3,235.9M468.8,235.3L469.5,231.2M468.8,235.3L473.2,239.6M473.2,239.6L478.3,235.9M483.5,252.4L485.1,248.4M483.5,252.4L491.2,258.7M485.1,248.4L490.8,247.7M490.8,247.7L493.9,254.5M491.2,258.7L493.9,254.5M503.7,253.4L502.1,251.9M491.1,259.8L491.2,258.7M502.1,251.9L493.9,254.5M488.4,262.6L481.5,263.8M483.5,252.4L479.1,254.3M481.5,263.8L479.1,254.3M343.7,278.2L340.7,276.7M343.7,278.2L343.7,289.6M340.7,276.7L337.2,277.4M337.2,277.4L332.7,283.2M332.7,283.2L332.9,287M332.9,287L340.2,291.2M340.2,291.2L343.3,290.2M343.7,289.6L343.3,290.2M344.7,263.6L341.8,265.7M344.7,263.6L351.7,271.6M351.7,271.6L349.4,277.4M349.4,277.4L343.7,278.2M341.8,265.7L340.7,276.7M349.4,277.4L353.7,281.1M352.5,287.6L343.7,289.6M330.8,299.1L337.5,298.7M337.5,298.7L340.2,291.2M327.9,291.5L332.9,287M341.1,303.4L337.5,298.7M341.1,303.4L349.6,298.7M349.6,298.7L343.3,290.2M350.9,298.9L349.6,298.7M299.9,259L300.7,258.6M299.9,259L299.7,267.1M300.7,258.6L308.2,262.5M299.7,267.1L307.1,269.9M307.1,269.9L308.2,262.5M297.4,258.2L299.9,259M303,249.3L303.9,254.2M303,249.3L298.5,246.4M303.9,254.2L300.7,258.6M290.4,269.8L295.5,270.4M295.5,270.4L299.7,267.1M303.9,254.2L314,254.3M308.2,262.5L314.2,259.4M314.2,259.4L314,254.3M341.8,265.7L336.7,265M330.7,271.2L330.7,269.7M330.7,271.2L337.2,277.4M336.7,265L330.7,269.7M295.5,270.4L299.8,277.9M307.1,269.9L308.4,272M308.4,272L299.8,277.9M296.9,282.8L299.3,280.6M299.3,280.6L299.8,277.9M310.7,287.5L310.9,286.7M324.3,291.1L320.6,283.3M320.6,283.3L310.9,286.7M332.7,283.2L322.6,278.8M320.6,283.3L322.6,278.8M330.7,271.2L322.3,277.3M322.6,278.8L322.3,277.3M299.3,280.6L309.7,284.4M310.9,286.7L309.7,284.4M271.7,216.2L273.4,214M271.7,216.2L260.4,215.8M273.4,214L272.5,206.8M272.5,206.8L261.5,204.6M261.5,204.6L260.1,215.4M260.1,215.4L260.4,215.8M271.6,227.4L271.7,216.2M282.7,228.8L283.4,216.1M283.4,216.1L273.4,214M260.5,226.2L260.4,215.8M250,215.3L260.1,215.4M261.5,204.5L250.9,203.4M250,202.4L249,196.2M236.9,194L237.9,193.4M249,196.2L237.9,193.4M364.7,201.9L363.3,200.5M364.7,201.9L364.3,211.1M363.3,200.5L355.7,203.9M355.7,203.9L357.2,211M357.2,211L364.3,211.1M371.7,211.6L366.8,213.3M372.2,202.9L364.7,201.9M366.8,213.3L364.3,211.1M250.8,243.1L248.3,245M243.1,232.7L241.3,242.4M248.3,245L241.3,242.4M227.2,226.2L236.6,228.9M227.2,226.2L220,232.6M236.6,228.9L230.9,240.4M220,232.6L226.3,241M226.3,241L230.9,240.4M225.5,218L227.2,226.2M237.7,228.5L236.6,228.9M219,232.5L220,232.6M237.2,244.7L241.3,242.4M237.2,244.7L230.9,240.4M223.8,246.1L226.3,241M229.9,254.8L225.1,253.1M229.9,254.8L236.8,251.7M236.8,251.7L237.2,244.7M276.5,256.3L269.4,261.6M275.2,270.9L270,269.2M270,269.2L269.4,261.6M548.1,215.5L551.5,211.1M548.1,215.5L549.9,221.4M551.2,221.8L549.9,221.4M561.3,216.8L558.9,210.8M551.5,211.1L558.9,210.8M476.3,230.2L479.1,225.2M478.3,235.9L483,237.2M483,237.2L486.8,227.4M486.8,227.4L479.1,225.2M469.5,231.2L466.1,226.3M479.1,225.2L477.9,223M477.9,223L473.2,221M473.2,221L466.1,226.3M540.8,282.1L544,286.9M540.8,282.1L533,283.8M544,286.9L543.5,290.3M529,291.4L535.2,295.7M543.5,290.3L535.2,295.7M523.2,301L526,291.9M526.2,305L537.1,305.1M535.2,295.7L537.1,305.1M538.1,306.4L538,305.9M538.1,306.4L532,316.8M524.6,316L522.9,312.2M537.1,305.1L538,305.9M538.1,306.4L544.4,312.4M535.6,323.1L543.4,322.4M544.4,312.4L543.4,322.4M609.4,251.6L605,249.8M609.4,251.6L615.2,247.6M605,249.8L605.6,242.4M615.2,247.6L608.5,241.8M608.5,241.8L605.6,242.4M601.4,251.8L605,249.8M601.4,251.8L603.4,260M610.3,257.5L607.3,260.4M610.3,257.5L609.4,251.6M603.4,260L607.3,260.4M618.5,247.7L615.2,247.6M616.2,257.7L610.3,257.5M601.4,251.8L596.8,250.5M601.9,240.4L596.1,242.8M601.9,240.4L605.6,242.4M595.1,244.3L596.8,250.5M613.8,234.1L608.5,241.8M587.1,299.4L585,295.1M585,295.1L589.3,285.9M600.6,289L600.2,290.6M600.6,289L598.4,286.5M598.4,286.5L589.3,285.9M602.7,273.3L610.3,266.2M602.7,273.3L613.6,279.4M616.6,273.9L613.6,279.4M616.6,273.9L613.9,267.3M613.9,267.3L610.3,266.2M624,272.2L616.6,273.9M619.6,261.5L613.9,267.3M607.3,260.4L610.3,266.2M586.4,245.3L586.2,252.8M586.4,245.3L578.4,244.7M578.2,251.7L577.9,245.1M578.2,251.7L584.9,254.3M584.9,254.3L586.2,252.8M577.9,245.1L578.4,244.7M587.1,244.5L586.4,245.3M596.8,250.5L594.4,253.2M594.4,253.2L586.2,252.8M585.7,235.5L578.9,237.5M578.9,237.5L578.4,244.7M513.4,252.3L512.3,243.8M519.4,240.1L517.4,239.4M519.4,240.1L521.9,243.5M512.3,243.8L517.4,239.4M518.6,253.5L519.4,253M521.9,243.5L519.4,253M529.2,260.4L529.6,259.8M519.4,253L528.1,252.8M529.6,259.8L528.1,252.8M519.4,240.1L527.8,234M521.3,227.7L527.8,234M521.3,227.7L515.2,234.2M517.4,239.4L515.2,234.2M526.8,222.7L521.3,226.1M526.8,222.7L532.1,227M521.3,226.1L521.3,227.7M527.8,234L532.1,227M576.3,261.5L573.6,260.4M584.6,258.1L584.9,254.3M578.2,251.7L572.8,255.6M573.6,260.4L572.8,255.6M245.7,487.8L239.3,492.9M245.7,487.8L255.5,495.9M239.3,492.9L243.3,501.8M243.3,501.8L252.9,499.7M255.5,495.9L252.9,499.7M231.4,487.7L235.3,492.4M235.3,492.4L239.3,492.9M246.1,484L240.7,479.2M246.1,484L245.7,487.8M260.7,494L255.5,495.9M261.7,488.2L254.1,479M254.1,479L246.1,484M240.7,507L251.1,514.2M240.7,507L243.3,501.8M255.6,512.7L254.5,513.1M255.6,512.7L252.9,499.7M220.4,490.5L220.6,495.6M245.7,466.3L254.5,477.6M245.7,466.3L261.3,461.5M254.5,477.6L263.5,471.2M263.5,471.2L264.1,466.9M261.3,461.5L264.1,466.9M244.4,466L245.7,466.3M254.1,479L254.5,477.6M261.7,458.5L261.3,461.5M271.2,481.1L263.5,471.2M275.1,466.3L264.1,466.9M275.1,466.3L278.5,470.5M278.5,470.5L277.4,477.6M266.2,453.4L278.4,457.3M275.1,466.3L278.4,457.3M247.5,519.7L251.1,514.2M255.6,512.7L256.7,513.1M258.8,514.7L258.7,513.7M266.5,509.7L265.7,511.2M258.7,513.7L265.7,511.2M285.2,490.2L285.5,499.6M300.2,475.2L303.2,465.6M300.2,475.2L293.4,477.6M293.4,477.6L288.3,467.6M303.2,465.6L294.9,458.6M288.3,467.6L290,461M290,461L294.9,458.6M306.5,478.7L300.2,475.2M306.5,478.7L317.2,473.7M317.2,473.7L314.6,464.3M312,463.4L303.2,465.6M292.1,479.9L293.4,477.6M278.5,470.5L288.3,467.6M296.1,455.6L294.9,458.6M296.1,455.6L305,450.1M281,456.1L278.4,457.3M281,456.1L290,461M235.8,316.7L239.9,320.6M235.8,316.7L226.7,323.9M239.9,320.6L238.8,331.4M238.8,331.4L229.4,329.4M229.4,329.4L226.7,323.9M234.8,308.4L235.8,316.7M252.2,319.5L239.9,320.6M224.4,323.1L226.7,323.9M241.2,334.5L238.8,331.4M223.5,339.3L229.4,329.4M260.7,411.3L273.6,417.8M273.5,401.8L274.3,417.6M273.6,417.8L274.3,417.6M260.5,426.1L264.3,427.5M273.6,417.8L264.3,427.5M259.4,441.4L266.1,432.1M266.1,432.1L264.3,427.5M266.5,448.6L273.4,443.5M281,456.1L282,447.1M273.4,443.5L282,447.1M266.1,432.1L273.1,435.4M273.4,443.5L273.1,435.4M278.4,419L274.3,417.6M278.4,419L279.7,421.5M279.7,421.5L278.6,432.6M273.1,435.4L278.6,432.6M296.1,455.6L291,445.5M303.1,441.8L298.4,440.1M298.4,440.1L291,445.5M278.6,432.6L285.2,436.1M282,447.1L286,444.2M285.2,436.1L286,444.2M291,445.5L286,444.2M235.7,288.2L240.7,285.8M248.8,296.1L249.5,294.2M240.7,285.8L249.5,294.2M237.8,273.1L229.8,276.3M237.8,273.1L235.8,265.6M235.8,265.6L231.7,263.6M231.7,263.6L225.1,267.1M229.8,276.3L224.8,273.3M224.8,273.3L225.1,267.1M242.5,275.6L237.8,273.1M242.5,275.6L243.9,278.5M229.6,284.2L229.8,276.3M243.9,278.5L240.7,285.8M218.6,261.8L225.1,267.1M229.9,254.8L231.7,263.6M218.6,276.2L224.8,273.3M580.9,335.6L585.1,341.4M580.9,335.6L585.7,328.5M585.1,341.4L597.4,335.1M585.7,328.5L593.6,328.5M593.6,328.5L597.2,332.1M597.2,332.1L597.4,335.1M583,316.3L582,317.8M594.8,317.5L593.6,328.5M582,317.8L585.7,328.5M598.6,316L603.1,317.8M603.1,317.8L606.5,324.7M606.5,324.7L597.2,332.1M611.5,334.4L603,341.1M603,341.1L597.4,335.1M608.1,325.4L606.5,324.7M537,337.3L545.9,334.8M537,337.3L530.9,331.7M543.4,322.4L545.6,323.9M545.9,334.8L545.6,323.9M544.4,312.4L553.4,311.4M555.3,315L553.4,311.4M555.3,315L551.4,322.9M551.4,322.9L545.6,323.9M594.6,362.1L592.2,360.2M592.2,360.2L584.6,362.3M586.5,370L584.2,363.2M584.2,363.2L584.6,362.3M592.2,360.2L594.7,350.5M594.7,350.5L585.3,345.8M585.3,345.8L579,352M584.6,362.3L579,352M496.2,299L500.8,290.7M496.2,299L490,296.2M490,296.2L488.8,291.5M488.8,291.5L493.1,286.7M493.1,286.7L500.8,290.7M482.6,289.9L488.8,291.5M482.6,289.9L479.7,297.3M479.7,297.3L485.1,300M485.1,300L490,296.2M480.6,286.6L483.9,281.9M480.6,286.6L482.6,289.9M483.9,281.9L491.6,281.7M492,282L493.1,286.7M512.4,297L508.7,297M512.4,297L515.8,291.1M508.7,297L502.2,290.2M515.8,291.1L509.4,283.4M502.2,290.2L505.9,284.6M505.9,284.6L509.4,283.4M513.3,309.3L510.8,310.8M515.7,301.9L512.4,297M503.4,303.7L510.8,310.8M503.4,303.7L508.7,297M522.7,289.9L515.8,291.1M497.6,303.7L503.4,303.7M497.6,303.7L496.2,299M500.8,290.7L502.2,290.2M511,281L509.4,283.4M499.8,278.7L505.9,284.6M487.4,328.8L486.5,326.4M487.4,328.8L479.3,336.1M479.3,336.1L473.3,332.4M471.6,328.6L476.2,322.7M486.5,326.4L476.2,322.7M462.2,320.2L462.2,321M462.2,320.2L468.8,316.1M468.8,316.1L475.6,318.2M476.2,322.7L475.6,318.2M468.8,316.1L467.3,309.4M467.3,309.4L474.3,305.1M476.2,307.1L476.5,316.8M476.2,307.1L474.3,305.1M475.6,318.2L476.5,316.8M469,371.4L470.6,375.8M469,371.4L464.6,371M470.6,375.8L466.1,381.1M464.6,371L460,377.6M460,377.6L463,380.6M466.1,381.1L463,380.6M516.2,347.2L508.1,340.6M505.6,354.1L502.3,348.8M502.3,348.8L508.1,340.6M523.3,344.2L523.1,334.6M523.1,334.6L514.5,333.6M514.5,333.6L508.2,340M508.2,340L508.1,340.6M489.9,391.2L486.1,386.7M489.9,391.2L496.1,388.4M496.1,388.4L493.8,382.1M486.5,384.7L486.1,386.7M486.5,384.7L493,381.8M493.8,382.1L493,381.8M482.3,395L488.4,397.3M482.3,395L481,389.6M488.4,397.3L489.9,391.2M481,389.6L486.1,386.7M488.5,397.4L498.1,398.5M498.3,389.6L498.1,398.5M498.3,389.6L496.1,388.4M482.1,379L486.5,384.7M482.1,379L488.8,373.5M488.8,373.5L493,381.8M489.1,372.4L499.4,372.2M489.1,372.4L488.8,373.5M499.4,372.2L498.8,379.1M498.8,379.1L493.8,382.1M501.4,388.5L506.3,391.5M501.4,388.5L504.1,382.6M506.3,391.5L515.5,387.4M504.1,382.6L508.7,381M508.7,381L513.2,381.9M513.2,381.9L516.3,386M516.3,386L515.5,387.4M498.3,389.6L501.4,388.5M498.1,398.5L499.4,399.9M505.7,399.7L499.4,399.9M505.7,399.7L506.3,391.5M498.8,379.1L504.1,382.6M505.7,399.7L507.8,400.9M514.8,395.6L507.8,400.9M514.8,395.6L515.5,387.4M502.9,369L508.7,381M502.9,369L499.4,372.2M502.9,369L503.9,366.7M515.3,373L513.2,381.9M520.3,386L516.3,386M527.3,373.8L526.3,371.8M371.1,346.5L360.8,346.4M371.1,346.5L366.8,358.8M360.8,346.4L356,353M366.8,358.8L357.3,357.8M357.3,357.8L356,353M356,336.2L355.8,337.2M356,336.2L368.6,331.3M371.8,346L373.7,339.2M371.8,346L371.1,346.5M373.7,339.2L368.8,331.3M355.8,337.2L360.8,346.4M344.1,347L355.8,337.2M344.1,347L356,353M360.6,372.9L371.4,364.6M352.2,365.9L357.3,357.8M371.4,364.6L366.8,358.8M343.4,347L342.4,348.3M343.4,347L344.1,347M401.9,407.7L402.2,406.7M401.9,407.7L405.2,415.8M415.1,409.9L407.2,402.7M415.1,409.9L410.5,416.5M410.5,416.5L405.2,415.8M407.2,402.7L402.2,406.7M492.5,415.8L488.6,412M492.5,415.8L497.3,413.2M497.3,413.2L498.4,408.7M488.3,406.9L497.3,406.3M488.3,406.9L488.6,412M498.4,408.7L497.3,406.3M488.5,397.4L486.5,404.9M486.5,404.9L488.3,406.9M499.4,399.9L497.3,406.3M507.2,410.1L509.6,404.9M507.2,410.1L498.4,408.7M507.8,400.9L509.6,404.9M421.6,501.1L420,504.7M420,504.7L420.5,505.6M416.2,493.9L410,494.2M412.5,505.7L420,504.7M412.5,505.7L408.7,499.3M408.7,499.3L410,494.2M409.3,483.4L406.1,488.7M410,494.2L406.1,488.7M464.3,459.2L461,462.5M464.3,459.2L471,462.8M461,462.5L465.6,469.1M465.6,469.1L471.6,467.2M471,462.8L471.6,467.2M460.2,451.2L464.7,456.4M458.3,463L461,462.5M464.7,456.4L464.3,459.2M462.8,476.8L465.6,469.1M471.9,467.4L471.6,467.2M421,474.8L424.6,466M434.9,472.2L432.5,468.2M424.6,466L432.5,468.2M527.1,522.5L533.5,518.1M522.5,501.2L522,498.8M522.5,501.2L518.8,508.8M522,498.8L512.1,492.7M512.1,492.7L501,505.4M518.8,508.8L509.6,511.5M509.6,511.5L501,505.4M527.1,503.5L522.5,501.2M524.8,495.9L522,498.8M525.1,521.6L518.8,508.8M495.2,505.8L501,505.4M495.2,505.8L493.2,501.8M509.9,486.5L512.1,492.7M509.9,486.5L496.1,489.1M508.8,523.8L509.6,511.5M508.8,523.8L511.1,525M513.3,448.2L514,457.5M517,446.7L521.6,450.9M519.6,459.8L517.4,459.9M514,457.5L517.4,459.9M523.6,440.8L524.6,441.2M523.6,440.8L518.7,443.3M505.3,567.2L505.5,569.4M489.2,531.2L483,526M489.2,531.2L497.9,528.8M483,526L485.7,513.2M500,525.8L492.8,509.9M500,525.8L497.9,528.8M492.8,509.9L485.7,513.2M479.7,526.4L483,526M487,539.2L489.2,531.2M504.8,543.5L497.9,528.8M470.5,517.4L469.3,513.5M471.4,508.5L469.3,513.5M471.4,508.5L485.7,513.2M508.8,523.8L500,525.8M495.2,505.8L492.8,509.9M470.5,505.7L471.4,508.5M670,195.9L668.3,199.3M670,195.9L668.2,188.7M660.6,196.6L665.5,200.1M660.6,196.6L660.2,191M668.3,199.3L665.5,200.1M660.2,191L663.2,187.8M663.2,187.8L666.2,187.3M666.2,187.3L668.2,188.7M672,195.6L670,195.9M672,202.8L668.3,199.3M672.2,187.8L668.2,188.7M653.3,200L660.6,196.6M653.3,200L655.2,206.4M662.1,206.8L665.5,200.1M653.3,200L652,199M652,199L650.8,190.3M650.8,190.3L660.2,191M671.5,178.9L668.5,177.5M668.5,177.5L666.2,187.3M655.9,274.2L664.2,276.5M664.2,276.5L666.5,282.8M653.6,286.9L658.3,288.5M658.3,288.5L666.5,282.8M642.9,291.3L636.2,296.6M647,291.9L650.3,301.9M636.2,296.6L643.2,303.9M643.2,303.9L650.3,301.9M659.9,299.7L651.3,302.3M659.9,299.7L660.7,298.8M660.7,298.8L658.3,288.5M650.3,301.9L651.3,302.3M618.5,213.9L609.8,209.8M607.7,217.8L606.5,216.1M606.5,216.1L609.8,209.8M613.8,202.2L619,203.8M613.8,202.2L609.8,209.8M604.2,226.2L596.9,222.5M604.2,226.2L603.3,232.7M596.9,222.5L595.8,231.3M595.8,231.3L602.2,233.5M603.3,232.7L602.2,233.5M613.4,233.6L603.3,232.7M607.1,224.6L604.2,226.2M601.9,240.4L602.2,233.5M591.9,233.4L595.8,231.3M664.2,276.5L666.5,272M657,265L662.8,263.9M662.8,263.9L666.5,272M672.4,269.3L672.1,270.3M671.8,281.8L667.9,283.3M666.5,282.8L667.9,283.3M672.1,270.3L666.5,272M661.4,252.8L665.4,260.3M661.4,252.8L668.9,248.7M668.9,248.7L672.1,250.1M667,260.2L665.4,260.3M667,260.2L672,255.3M658.8,251.7L661.4,252.8M662.8,263.9L665.4,260.3M667.7,243.3L668.9,248.7M672.2,263.5L667,260.2M608.9,359.2L612.8,358.2M604.6,359.3L600.5,348.7M612.7,348.5L615.4,354.2M612.7,348.5L603.2,345.4M614.6,356.1L615.4,354.2M600.5,348.7L603.2,345.4M594.7,350.5L600.5,348.7M619.7,340.6L623.3,342.5M619.7,340.6L612.7,348.5M603,341.1L603.2,345.4M618.2,335.9L619.7,340.6M585.3,345.8L585.1,341.4M359.9,314L354,321.4M365.4,325.3L354.3,322.3M354.3,322.3L354,321.4M356,336.2L351.4,330.5M354.3,322.3L351.4,330.5M328,304.1L333.7,309.8M320.6,314.3L330.4,316.4M333.7,309.8L330.4,316.4M322.9,330.5L322.4,328.8M322.9,330.5L329.4,335.4M322.4,328.8L332.4,320.2M329.4,335.4L337.7,334.2M332.6,320.3L338.2,333.4M337.7,334.2L338.2,333.4M321.7,327.9L322.4,328.8M311.9,340.6L322.9,330.5M326.4,344.6L329.4,335.4M330.4,316.4L332.4,320.2M343.4,347L337.7,334.2M351.4,330.5L342.6,330.5M342.6,330.5L338.2,333.4M408.7,499.3L404.2,501.8M398.8,491.8L404.5,488.6M404.5,488.6L406.1,488.7M345.7,462.3L342.9,469.7M342.9,469.7L352.6,477.1M356.6,463.3L358,470.1M358,470.1L352.6,477.1M388.8,485.3L389.2,481M404.5,488.6L395.8,479.5M395.8,479.5L389.2,481M408.2,475.5L399.9,472.7M395.8,479.5L399.9,472.7M336.4,454.6L342.7,456.5M334.4,445L342.7,439.7M350.8,448.1L350.3,445.5M342.7,439.7L350.3,445.5M371,455.9L380.2,459.6M371,455.9L370.8,451.6M385.4,453.5L380.2,459.6M385.4,453.5L380.6,443.6M380.6,443.6L379.7,443.3M370.8,451.6L379.7,443.3M367.5,460.1L359,460.4M367.5,460.1L371,455.9M357,451.2L364,447.4M370.8,451.6L364,447.4M378,420.9L382.8,412.8M378,420.9L380.9,426.1M380.9,426.1L389.8,428.7M390.9,413.7L385.5,411.9M390.9,413.7L396.2,423.6M396.2,423.6L389.8,428.7M385.5,411.9L382.8,412.8M380.6,443.6L392.1,439.1M376.2,438L379.7,443.3M376.2,438L380.9,426.1M392.1,439.1L389.8,428.7M401.9,407.7L390.9,413.7M405.2,415.8L400.5,423.9M400.5,423.9L396.2,423.6M392.1,439.1L396.7,441.2M406,430.4L400.5,423.9M406,430.4L406.1,432M406.1,432L396.7,441.2M410.5,416.5L412.9,419M406,430.4L412,426M412.9,419L412,426M415.1,409.9L419.9,409.9M419.9,409.9L421.8,418.4M412.9,419L421.8,418.4M318.9,475.1L328.2,473.3M331.3,472.6L332.4,472.4M318.9,475.1L319.8,482.2M334.2,481.9L335.9,480.6M335.9,480.6L334.8,474M332.4,472.4L334.8,474M329.3,459.4L332.4,472.4M317.2,473.7L318.9,475.1M342.9,469.7L334.8,474M352.6,477.1L352.8,480.7M338.3,482.9L335.9,480.6M316.7,397.4L314.7,392.4M316.7,397.4L329.2,398M314.7,392.4L319.4,383.4M319.4,383.4L328.1,383.9M330.9,395.9L329.2,398M330.9,395.9L330,385.8M330,385.8L328.1,383.9M333.7,371.5L328.1,383.9M314.6,375.1L319.4,383.4M339.8,385.6L330,385.8M339.7,396.9L330.9,395.9M312,432.8L311.6,435M312,432.8L307.8,427.5M298.4,440.1L294.5,430.4M307.8,427.5L294.5,430.4M279.7,421.5L292.4,426.6M285.2,436.1L293.7,429.9M292.4,426.6L293.7,429.9M294.5,430.4L293.7,429.9M328.4,441.5L328.2,433.2M312,432.8L320.4,429.7M320.4,429.7L328.2,433.2M285.9,387.4L289.4,379.4M285.9,387.4L290.8,393.8M289.4,379.4L300.8,386.1M290.8,393.8L301.2,388.7M301.2,388.7L300.8,386.1M275.9,389.5L285.9,387.4M289.1,378.5L289.4,379.4M276.6,399.4L280.8,400.8M290.1,396.6L280.8,400.8M290.1,396.6L290.8,393.8M306.8,375.3L300.8,386.1M303.7,391.2L314.7,392.4M303.7,391.2L301.2,388.7M492,420.2L484,420.7M492,420.2L492.5,415.8M488.6,412L483.6,415.3M484,420.7L483.6,415.3M493.6,422.6L492,420.2M493.6,422.6L493.3,426M493.3,426L486.5,428.1M486.5,428.1L482,423.1M484,420.7L482,423.1M465.7,439L463.5,446M465.7,439L462.6,435.3M454.6,440.9L455.4,439.2M463.5,446L461.8,446.9M462.6,435.3L455.4,439.2M486.5,404.9L484.2,405.2M483.6,415.3L478.1,412.2M484.2,405.2L478.1,412.2M482,423.1L478.4,423.8M478.4,423.8L473.8,413.8M478.1,412.2L474.7,412.7M473.8,413.8L474.7,412.7M576.9,137.9L581,131M576.9,137.9L567.6,131.5M581,131L575.4,123.1M575.4,123.1L572.8,122.7M572.8,122.7L567.6,131.5M563.4,143.1L554.2,144.2M563.4,143.1L564.4,132.2M554.2,144.2L554.9,131.6M554.9,131.6L560.1,130.2M560.1,130.2L564.4,132.2M572.8,122.7L570.3,118.8M560.1,130.2L560.4,117.5M564.4,132.2L567.6,131.5M570.3,118.8L560.4,117.5M553.6,117.8L548.4,126.8M553.6,117.8L559.6,116.6M551.1,130.3L548.4,126.8M551.1,130.3L554.9,131.6M559.6,116.6L560.4,117.5M534.6,120.5L533.9,117.3M534.6,120.5L542.2,119.8M542.2,119.8L543.6,116.9M553.6,117.8L551.8,116.8M546.2,126.1L548.4,126.8M546.2,126.1L542.2,119.8M465.2,190.2L465,182.8M465.2,190.2L468.2,193.3M477.4,182.7L478.4,192.3M468.2,193.3L478.4,192.3M477.4,182.7L465,182.8M465.2,190.2L455.6,194.4M453.1,182.1L454.4,193.9M453.1,182.1L464.1,181.9M455.6,194.4L454.6,194.1M454.4,193.9L454.6,194.1M464.1,181.9L465,182.8M455,169.3L454.3,170.1M455,169.3L465.6,172.1M465.6,172.1L464.1,181.9M454.3,170.1L453,182.1M503.7,241.7L503.6,238.1M503.7,241.7L501.4,244.7M501.4,244.7L493.4,243.6M503.6,238.1L501.5,235.2M501.5,235.2L494.6,232.9M494.6,232.9L491.1,239.6M491.1,239.6L493.4,243.6M512.3,243.8L503.7,241.7M512.6,232.9L503.6,238.1M512.6,232.9L515.2,234.2M502.1,251.9L501.4,244.7M490.8,247.7L493.4,243.6M509.2,226.3L512.6,232.9M509.2,226.3L505.6,225.5M505.6,225.5L501.5,235.2M493.4,230.2L487.4,227.2M493.4,230.2L494.6,232.9M483,237.2L484.3,239.2M484.3,239.2L491.1,239.6M486.8,227.4L487.4,227.2M482.6,243.9L484.3,239.2M482.6,243.9L485.1,248.4M480.6,286.6L475.2,286.1M479.7,297.3L476.6,298.3M476.6,298.3L470.4,289.3M475.2,286.1L470.4,289.3M476.6,298.3L474,302.8M474,302.8L466.4,299.5M466.4,299.5L465.3,292.7M465.3,292.7L469.4,289.3M470.4,289.3L469.4,289.3M482.6,243.9L473.4,246M479.1,254.3L475.3,253M475.3,253L473.4,246M473.2,239.6L472.8,245.4M472.8,245.4L473.4,246M461.1,227.6L457.8,234.5M461.1,227.6L455.4,223.6M457.8,234.5L452.8,234.3M455.4,223.6L450,226.1M452.8,234.3L450,226.1M445.8,217.2L450.7,215.9M445.6,217.4L447.7,225M450.7,215.9L455.8,218.6M455.4,223.6L455.8,218.6M450,226.1L447.7,225M385.1,284.5L390.5,279M377.1,276.1L377.4,275.8M390.5,279L385.1,274.6M377.4,275.8L385.1,274.6M303,249.3L310,244.6M314.1,254.3L310,244.6M314.6,235.3L313.5,240.5M314.6,235.3L307.1,229.2M307.1,229.2L304,231.6M306,239.9L310.5,242.3M313.5,240.5L310.5,242.3M310,244.6L310.5,242.3M336.7,265L333.6,259.9M330.7,269.7L324.8,263.3M324.8,263.3L326.7,260M333.6,259.9L326.7,260M344.7,263.6L345,262.8M345,262.8L342.3,254.3M342.3,254.3L337.6,253.8M333.6,259.9L337.6,253.8M320,275.2L311.8,273.4M320,275.2L322.6,264M316.8,262.5L322.6,264M316.8,262.5L311.8,273.4M322.3,277.3L320,275.2M309.7,284.4L311.8,273.4M324.8,263.3L322.6,264M314.2,259.4L316.8,262.5M308.4,272L311.8,273.4M380.3,205.7L384.7,204.7M377.2,213L385.8,215.3M385.8,215.3L388.3,213.6M388.3,213.6L384.7,204.7M383.8,223.1L390.5,226.9M383.8,223.1L385.8,215.3M390.5,226.9L396.2,220.2M396.2,220.2L391.8,213.8M388.3,213.6L391.8,213.8M261.5,204.5L263.2,194.8M249,196.2L251.1,193.2M263.2,194.8L260.7,192M251.1,193.2L260.7,192M226.6,192.6L226.5,182.7M237.9,193.4L240.4,183.1M240.4,183.1L237.2,180.7M237.2,180.7L226.5,182.7M219.2,181.5L226.3,182.5M225.6,116.9L225.4,123.1M218.5,124.9L225.4,123.1M346.5,212L346.5,206.7M346.5,212L356,212.4M355.7,203.9L352,202M356,212.4L357.2,211M352,202L346.5,206.7M319.9,231.4L314.6,235.3M307.1,229.2L307.8,226.6M320.3,230.1L315.5,224.1M307.8,226.6L311.4,223.8M315.5,224.1L311.4,223.8M293.2,228.2L295.6,222.2M307.8,226.6L301.7,221.4M295.6,222.2L301.7,221.4M248.5,267L247.8,262.7M248.5,267L242.5,275.6M235.8,265.6L243.5,259.3M247.8,262.7L243.5,259.3M236.8,251.7L242.8,255.8M243.5,259.3L242.8,255.8M248.3,245L248.4,251M242.8,255.8L248.4,251M345,262.8L354.7,260M354.6,251.4L356.4,257.9M354.6,251.4L346.2,250M346.2,250L342.3,254.3M354.7,260L356.4,257.9M351.7,271.6L356.2,269.5M354.7,260L356.2,269.5M361.4,271.9L360.7,270.8M356.2,269.5L360.7,270.8M356.4,257.9L363.9,259.7M360.7,270.8L365.4,262.1M365.4,262.1L363.9,259.7M348.7,237.9L337.9,232.5M348.7,237.9L344.9,244.5M344.9,244.5L336.1,242.4M336.1,242.4L337.4,232.8M337.4,232.8L337.9,232.5M349.3,237.6L350.6,227.9M349.3,237.6L348.7,237.9M350.6,227.9L341,226.1M341,226.1L337.9,232.5M346.2,250L344.9,244.5M355.2,239.3L349.3,237.6M355.3,239.4L354.7,251.2M336,242.4L333.8,250.2M333.8,250.2L337.6,253.8M530.5,206.2L527.7,206.8M530.5,206.2L535.2,210.3M528.1,217.4L524.4,213.5M528.1,217.4L534,216.8M535.2,210.3L534,216.8M524.4,213.5L527.7,206.8M548.1,215.5L543.3,214.3M541,208.5L543.3,214.3M541,208.5L542.3,205.4M551.5,211.1L548.7,206.4M548.7,206.4L542.3,205.4M522.3,117.2L523.4,124.2M534.6,120.5L532.1,124.5M532.1,124.5L523.4,124.2M530.5,206.2L534.5,200.2M527,193.4L528.3,193.4M527,193.4L523,201.9M527.7,206.8L523,201.9M528.3,193.4L534.5,200.2M541,208.5L535.2,210.3M542.3,205.4L540.3,199.9M534.5,200.2L540.3,199.9M489.5,171.6L488.1,170.5M489.5,171.6L489.4,180.9M477.4,182.7L489.4,180.9M477.4,182.7L476.7,171.4M488.1,170.5L476.7,171.4M482.1,216.3L477.9,223M482.1,216.3L487.2,216.3M487.4,227.2L489.8,218.9M487.2,216.3L489.8,218.9M641.7,202.3L634.7,198.6M641.7,202.3L642.3,201.6M642.3,201.6L642.9,191.8M634.7,198.6L633.7,192M633.7,192L639.7,189.7M642.9,191.8L639.7,189.7M641.6,204.1L641.7,202.3M629.5,201.8L634.7,198.6M652,199L642.3,201.6M650.8,190.3L650.5,189.9M650.5,189.9L642.9,191.8M624.2,193.4L624.7,197.7M624.2,193.4L630.1,190.3M630.1,190.3L633.7,192M661.6,136L667,134.3M661.6,136L658.6,127.1M667,134.3L670.4,127.4M658.6,127.1L661.5,123.5M661.5,123.5L670.4,127.3M672.1,121.8L670.4,127.3M660.8,117.4L661.5,123.5M671.5,127.8L670.4,127.4M667,134.3L672.1,138.8M581,131L585.5,129.7M575.4,123.1L584.3,118.1M585.5,129.7L587,118.6M584.3,118.1L586.9,118.5M531.8,270.5L535.4,270.4M536.7,259L529.6,259.8M536.7,259L540,262.8M540,262.8L535.4,270.4M540.8,282.1L542.3,276.4M535.4,270.4L542.3,276.4M580,269.4L571.6,276.4M584.2,269.9L587.8,274.5M587.8,274.5L585.3,281.4M585.3,281.4L575.1,283M571.6,276.4L575.1,283M585,295.1L572.9,290.5M589.3,285.9L585.3,281.4M575.1,283L572.9,290.5M576.3,305.3L574.6,304.8M574.6,304.8L572.4,290.9M572.9,290.5L572.4,290.9M596.9,272.9L599.3,273.6M596.9,272.9L591.8,262.3M601.5,261.2L599.9,273.3M601.5,261.2L594.6,260M599.9,273.3L599.3,273.6M594.6,260L591.8,262.3M587.8,274.5L596.9,272.9M598.4,286.5L599.3,273.6M588.1,262.3L591.8,262.3M603.4,260L601.5,261.2M602.7,273.3L599.9,273.3M594.4,253.2L594.6,260M600.6,289L608.4,287.9M613.6,279.4L613.9,282M613.9,282L608.4,287.9M536.6,249.7L530.5,249.8M536.6,249.7L537.1,239.6M530.5,249.8L527.8,244.7M527.8,244.7L532.1,237.7M537.1,239.6L535,237.9M532.1,237.7L535,237.9M536.7,259L537.9,250.6M528.1,252.8L530.5,249.8M537.9,250.6L536.6,249.7M537.9,250.6L542.7,250.5M542.9,239.3L545.9,244.9M542.9,239.3L537.1,239.6M542.7,250.5L545.9,244.9M521.9,243.5L527.8,244.7M527.8,234L532.1,237.7M534.3,226.6L538.4,229.6M534.3,226.6L536.9,218.9M536.9,218.9L538.2,218.9M538.2,218.9L544.7,225M538.4,229.6L543.6,228.8M544.7,225L543.6,228.8M532.1,227L534.3,226.6M535,237.9L538.4,229.6M528.1,217.4L526.8,222.7M534,216.8L536.9,218.9M543.3,214.3L538.2,218.9M549.9,221.4L544.7,225M547.1,233.9L542.9,239.3M547.1,233.9L543.6,228.8M554.5,227L551.1,234.4M551.1,234.4L547.1,233.9M551.1,234.4L553.2,236.4M545.9,244.9L552.4,244.5M552.4,244.5L553.2,236.4M560.5,227.3L563.5,230.4M563.5,230.4L558.2,236.2M553.2,236.4L558.2,236.2M222.1,499L230.2,499.9M231.1,510.7L234.1,511M230.2,499.9L235.1,509.4M235.1,509.4L234.1,511M235.3,492.4L230.2,499.9M234.2,513.2L234.1,511M240.7,507L235.1,509.4M287.2,520.6L286.7,521.5M287.2,520.6L284.6,513.7M284.6,513.7L284,513.3M284,513.3L280.3,515.5M294.6,522.6L287.2,520.6M288.9,512.6L284.6,513.7M281.9,507.6L284,513.3M265.7,511.2L266.3,512M295.6,418.3L300.1,416.6M295.6,418.3L287,411.4M300.1,416.6L303.2,406.8M287,411.4L295.7,404M295.7,404L300.9,404.5M300.9,404.5L303.2,406.8M307.8,427.5L307.9,423.1M307.9,423.1L300.1,416.6M292.4,426.6L295.6,418.3M278.4,419L287,411.4M315.3,415.4L306,406.9M315.3,415.4L307.9,423.1M306,406.9L303.2,406.8M280.8,400.8L287,411.4M290.1,396.6L295.7,404M303.7,391.2L300.9,404.5M316.3,398.7L306,406.9M316.3,398.7L316.7,397.4M260.8,290.5L257.2,289.9M260.8,290.5L266.3,284.1M257.2,289.9L251.9,279.9M266.3,284.1L262.6,272.5M251.9,279.9L259.9,271.7M262.6,272.5L260,271.6M266.1,299.8L260.8,290.5M249.5,294.2L257.2,289.9M277.8,283.6L266.3,284.1M243.9,278.5L251.9,279.9M270,269.2L262.6,272.5M248.5,267L259.9,271.7M584.2,363.2L573.6,368.1M579,352L572.5,352M572.5,352L569.9,354.5M569.9,354.5L570.6,366.8M573.6,368.1L570.6,366.8M583.5,376.5L577.3,376.3M573.6,368.1L577.3,376.3M502.4,324.5L505.3,315.2M502.4,324.5L512,326.3M515,321.6L512,326.3M515,321.6L510.2,312.3M510.2,312.3L505.3,315.2M514.5,333.6L512,326.3M501.9,324.7L502.4,324.5M501.9,324.7L497.8,332.3M497.8,332.3L508.2,340M523.1,334.6L526.9,332M521.6,320.6L515,321.6M510.8,310.8L510.2,312.3M485.4,314.5L489.8,318.5M485.4,314.5L485.3,307.3M493,317.5L496.5,311.6M493,317.5L489.8,318.5M486.1,306.4L485.3,307.3M486.1,306.4L495.9,306.3M495.9,306.3L496.5,311.6M486.5,326.4L489.8,318.5M476.5,316.8L485.4,314.5M476.2,307.1L485.3,307.3M501.9,324.7L493,317.5M505.3,315.2L496.5,311.6M487.4,328.8L494.3,333.3M494.3,333.3L497.8,332.3M485.1,300L486.1,306.4M474.3,305.1L474,302.8M497.6,303.7L495.9,306.3M431.3,322.1L434.1,324.9M431.3,322.1L435.2,312.2M435.2,312.2L439.7,313.2M439.7,313.2L443.6,323.1M434.1,324.9L439,326.2M439,326.2L443.6,323.1M457.7,326.4L451.3,327M455.7,337L450.9,330.1M451.3,327L450.9,330.1M464.6,371L462.1,365.5M462.1,365.5L459.3,365.6M459.4,377.5L460,377.6M459.4,377.5L455.4,369.6M455.4,369.6L459.3,365.6M477.5,377L470.6,375.8M477.5,377L478.7,378.9M478.7,378.9L475,385.7M466.1,381.1L470.3,385.4M470.3,385.4L475,385.7M478.7,378.9L482.1,379M481,389.6L476.1,387.4M476.1,387.4L475,385.7M502.3,348.8L498.9,348.8M494.3,333.3L492.1,340M492.1,340L498.9,348.8M479.3,336.1L480.2,341M480.2,341L484,344.4M492.1,340L484,344.4M460.8,347.4L464.4,348.7M468.5,339.2L470.8,344.5M464.4,348.7L470.8,344.5M480.2,341L471.3,344.7M470.8,344.5L471.3,344.7M537,337.3L536.2,346.5M528.7,349L535.4,347.4M536.2,346.5L535.4,347.4M569.9,354.5L559.8,354.8M559.8,354.8L556.7,364.2M570.6,366.8L561,371.3M556.7,364.2L561,371.3M577.3,376.3L571.9,383.6M571.9,383.6L566.9,382.4M566.9,382.4L561,371.6M561,371.3L561,371.6M393.9,267.3L393.7,277.9M393.9,267.3L402.8,267.8M402.8,267.8L401.5,275.4M401.5,275.4L393.7,277.9M386,290.9L391.6,291.4M390.5,279L392.6,279M391.6,291.4L395.7,285M395.7,285L392.6,279M402.2,406.7L391.3,398.2M385.5,411.9L390,399M390,399L391.3,398.2M372.1,400.6L378.9,396.4M372,400.8L382.8,412.8M390,399L378.9,396.4M371.4,364.6L372.1,364.8M371.8,346L379.8,352.4M372.1,364.8L378.5,361.2M379.8,352.4L378.5,361.2M455.4,369.6L450.2,369M450.2,369L448.2,364.9M455.6,360.7L448.8,363.2M455.6,360.7L459.3,365.6M448.2,364.9L448.8,363.2M574.7,390.8L575,388.7M575,388.7L577.1,388.4M575,388.7L571.9,383.6M554.8,399.1L545.3,399.8M554.8,399.1L559.4,390.9M545.3,399.8L549.4,384.3M559.4,390.9L559.1,389.4M559.1,389.4L549.5,384.2M566.3,396.3L559.4,390.9M558.2,403L554.8,399.1M536.4,384.6L549.4,384.3M533.9,388.5L541.4,400.1M541.4,400.1L544.6,400.4M544.6,400.4L545.3,399.8M566.9,382.4L559.1,389.4M550.8,378.3L561,371.6M550.8,378.3L549.5,384.2M544.6,400.4L547.6,409.4M509.4,434.2L509.7,426.4M509.4,434.2L502.2,433.3M500.2,429.5L502.2,433.3M500.2,429.5L504.5,423.6M504.5,423.6L509.7,426.4M493.6,422.6L503.1,420.1M493.3,426L494.7,428.3M494.7,428.3L500.2,429.5M504.5,423.6L503.1,420.1M497.3,413.2L503.4,418.9M503.4,418.9L503.1,420.1M507.2,410.1L508.1,414.5M503.4,418.9L508.1,414.5M523.6,440.8L523.3,435M513,435.3L517.8,432.5M523.3,435L517.8,432.5M510,434.9L509.4,434.2M509.7,426.4L516,422.8M516,422.8L518.5,425.2M517.8,432.5L518.5,425.2M483.6,473.7L487.1,466.8M495,476.1L494,466.3M495,476.1L490.3,479.5M494,466.3L487.1,466.8M506.8,443.5L499.1,440.7M502.2,433.3L498.7,438.1M499.1,440.7L498.7,438.1M494.7,428.3L492.7,434.7M498.7,438.1L492.7,434.7M486.5,428.1L485.2,433.9M485.2,433.9L487.1,437.2M492.7,434.7L487.1,437.2M463.5,446L470,448.3M464.7,456.4L469.5,453.5M470,448.3L469.5,453.5M412.5,505.7L412.3,506.7M412,426L420.7,427.4M420.7,427.4L421.6,426.8M421.8,418.4L423.8,420.2M421.6,426.8L423.8,420.2M413.6,470.9L412.2,462.6M412.2,462.6L417.8,460.3M424.6,466L423.6,463.2M417.8,460.3L423.6,463.2M519.7,470.2L514.3,470M520.4,480.5L510.7,483.1M514.3,470L510.2,481.9M510.7,483.1L510.2,481.9M517.4,459.9L513.2,467.6M513.2,467.6L514.3,470M509.9,486.5L510.7,483.1M495,476.1L503.1,475.7M503.1,475.7L510.2,481.9M469.3,513.5L467.5,514.4M528.3,193.4L534,188.8M540.7,199.3L540.3,199.9M540.7,199.3L539.2,191.3M539.2,191.3L534,188.8M527,193.4L523.6,190.7M524.2,181.3L533.3,181.3M524.2,181.3L521.8,184M533.3,181.3L534.3,182.5M521.8,184L523.6,190.7M534.3,182.5L534,188.8M547.9,166.8L545.8,164.3M547.9,166.8L545.5,175.6M535.9,170.9L545.5,175.6M535.9,170.9L540.4,164.6M540.4,164.6L545.8,164.3M543.6,153.7L536.4,158.1M543.6,153.7L545.6,154.3M536.4,158.1L540.4,164.6M545.8,164.3L547.1,156.6M545.6,154.3L547.1,156.6M563.4,143.1L567.5,146.7M576.9,137.9L577,138.5M567.5,146.7L577,138.5M561.4,216.9L566,217.5M558.9,210.8L559.9,208.2M559.9,208.2L567.4,205.9M566,217.5L570.9,211.5M567.4,205.9L570.9,211.5M539.2,191.3L544.5,187.6M534.3,182.5L541.7,181.7M544.5,187.6L541.7,181.7M533.3,181.3L534.1,171.2M534.1,171.2L535.9,170.9M545.6,175.7L541.7,181.7M555.7,166L547.9,166.8M555.7,166L556.8,173.9M545.6,175.7L549.2,177.1M556.8,173.9L549.2,177.1M575,234.9L569.3,238.4M575,234.9L575.3,229.3M563.9,230.4L569.3,238.4M563.9,230.4L570.8,225.9M575.3,229.3L570.8,225.9M563.5,230.4L563.9,230.4M566,217.5L570.8,222.3M570.8,225.9L570.8,222.3M660.7,298.8L668.7,298.8M667.9,283.3L672.1,291.4M668.7,298.8L672.1,291.4M652.8,332L649.4,327.7M649.4,327.7L647.6,330.2M622.4,325.4L631.7,321.3M631.7,321.3L636.5,325.4M622.7,329.5L633.1,334.1M636.5,325.4L634.3,333.5M644.6,316.1L652.2,311.1M644.6,316.1L645.5,322.6M645.5,322.6L649.4,326M649.4,326L659.4,321.8M652.2,311.1L658.2,314.2M658.2,314.2L659.4,321.8M639.7,311.6L643.2,303.9M639.7,311.6L644.6,316.1M651.3,302.3L652.2,311.1M649.4,327.7L649.4,326M636.5,325.4L645.5,322.6M660.6,322.4L659.4,321.8M659.9,299.7L662.1,310M662.1,310L658.2,314.2M604.5,302.6L612,304.1M608.4,287.9L614.4,298M614.4,298L612.4,303.8M612,304.1L612.4,303.8M603.1,317.8L611.1,311.7M612,304.1L611.1,311.7M618.7,321.3L618.7,319.2M611.1,311.7L618.7,319.2M629,283.8L628.6,284.5M636.2,296.6L635.4,296.6M635.4,296.6L628.6,284.5M613.9,282L623.4,286.5M614.4,298L621.5,294.1M621.5,294.1L623.4,286.5M628.6,284.5L623.4,286.5M340.9,308.4L348.9,310.8M340.7,308.6L340.3,318.6M348.9,310.8L349.7,318.3M349.7,318.3L343,320.5M343,320.5L340.3,318.6M341.1,303.4L340.9,308.4M333.7,309.8L340.7,308.6M351.4,309.2L348.9,310.8M332.6,320.3L340.3,318.6M354,321.4L349.7,318.3M342.6,330.5L343,320.5M399.1,469.7L392,465.7M399.1,469.7L407.3,460.1M392,465.7L393.4,455.2M407.3,459.9L395.6,454M395.6,454L393.4,455.2M412.2,462.6L407.3,460.1M399.9,472.7L399.1,469.7M385.4,453.5L393.4,455.2M398,444.7L396.7,441.2M398,444.7L395.6,454M384.6,477.2L384.1,469.2M384.6,477.2L377.1,480.7M370.8,479.1L369,477.7M381.4,467.1L384.1,469.2M381.4,467.1L370.8,469.2M369,477.7L368.2,473.5M370.8,469.2L368.2,473.5M389.2,481L384.6,477.2M392,465.7L384.1,469.2M366.4,479.5L369,477.7M380.2,459.6L381.4,467.1M367.5,460.1L370.8,469.2M358,470.1L368.2,473.5M420.7,452L417.8,460.3M420.7,452L419.9,450.8M407.3,459.9L410.3,448.3M419.9,450.8L410.3,448.3M398,444.7L409.8,447.3M410.3,448.3L409.8,447.3M406.1,432L413.3,438.1M409.8,447.3L413.3,438.1M342.5,403.4L334.7,408.8M329.2,398L330.1,406.4M330.1,406.4L334.7,408.8M316.3,398.7L321.5,411.1M330.1,406.4L321.5,411.1M315.3,415.4L319.9,415M321.5,411.1L319.9,415M320.4,429.7L322,417.6M319.9,415L322,417.6M462.6,435.3L463,431.9M463,431.9L455.9,428M455.4,439.2L451.6,431.2M455.9,428L451.6,431.2M463,431.9L464,431M465.1,421.6L464,431M465.1,421.6L457.2,421.4M457.2,421.4L455.7,422.9M455.9,428L455.7,422.9M443.6,411.9L440,417.1M443.6,411.9L449.5,412.9M449.5,412.9L448.9,421.3M440,417.1L445.9,423.3M445.9,423.3L448.9,421.3M482.3,395L476.7,398.6M484.2,405.2L476.5,401.1M476.7,398.6L476.5,401.1M476.1,387.4L473.8,395.1M476.7,398.6L473.8,395.1M474.7,412.7L473.1,404.2M476.5,401.1L473.1,404.2M467.7,415.5L473.8,413.8M467.7,415.5L463.2,411.2M463.2,411.2L468.3,403.1M473.1,404.2L468.3,403.1M570.3,118.8L571.1,116.9M584.3,118.1L582.9,116.6M455.6,194.4L460.9,200M468.2,193.3L466.7,199.1M460.9,200L466.7,199.1M444.2,182.6L444.9,182M444.2,182.6L432.8,181.6M444.9,182L442.1,170.8M432.8,181.6L432.2,171.1M432.2,171.1L441.1,170M442.1,170.8L441.1,170M442.3,190.8L444.5,193.5M442.3,190.8L444.2,182.6M444.5,193.5L454.4,193.9M453,182.1L444.9,182M454.3,170.1L442.1,170.8M431.9,170.9L432.2,171.1M431.9,170.9L430.1,160.6M443.5,159.8L441.1,170M443.5,159.8L431.8,158.4M431.8,158.4L430.1,160.6M421.5,172.5L431.9,170.9M421.5,172.5L418.1,170M418.1,170L420,160.4M430.1,160.6L420,160.4M420.4,138L409.9,136.6M420.4,138L420.9,147.2M420.9,147.2L409.2,148.5M409.2,148.5L409.9,136.6M420.4,138L420.7,137.7M420.7,137.7L420.8,125.9M420.8,125.9L409.9,127.3M409.9,127.3L408.6,135.1M409.9,136.6L408.6,135.1M443.3,199.9L441,201.2M443.3,199.9L450.5,203.4M441,201.2L440.5,207.8M450.5,203.4L450.8,204.6M450.8,204.6L444.2,209.7M444.2,209.7L440.5,207.8M444.5,193.5L443.3,199.9M454.6,194.1L450.5,203.4M434.3,198.9L441,201.2M434.3,198.9L431.7,202.9M431.7,202.9L436.1,209.4M436.1,209.4L440.5,207.8M454.5,207.7L450.8,204.6M454.5,207.7L459,208M459,208L460.9,200M454.5,207.7L450.7,215.9M445.8,217.2L444.2,209.7M436.8,218L438.3,218.7M436.8,218L434.2,213.5M438.3,218.7L445.6,217.4M434.2,213.5L436.1,209.4M421.3,184.1L431.4,183.4M421.3,184.1L420.9,184.4M420.9,184.4L420,192.1M431.4,183.4L433.8,192.8M422.1,194.5L433.3,193.6M422.1,194.5L420,192.1M433.8,192.8L433.3,193.6M421.5,172.5L421.3,184.1M432.8,181.6L431.4,183.4M409.9,181.2L420.9,184.4M409.9,181.2L409.8,171.6M418.1,170L409.8,171.6M442.3,190.8L433.8,192.8M422.5,200.3L428.2,203.9M422.5,200.3L422.1,194.5M434.3,198.9L433.3,193.6M428.2,203.9L431.7,202.9M451.7,316L448.9,310.2M451.7,316L458.4,316M448.9,310.2L457.8,304M458.4,316L461.3,307.4M461.3,307.4L460.2,305.3M460.2,305.3L457.8,304M439.7,313.2L446.6,309.1M446.6,309.1L448.9,310.2M443.6,323.1L447.7,323M447.7,323L451.7,316M462.2,320.2L458.4,316M447.7,323L451.3,327M446.6,309.1L444,300.7M444,300.7L444.5,298.9M455.5,299.6L457.8,304M455.5,299.6L446.1,297.6M446.1,297.6L444.5,298.9M467.3,309.4L461.3,307.4M466.4,299.5L460.2,305.3M459.2,292.5L465.3,292.7M459.2,292.5L455.5,299.6M468.8,235.3L461.6,238.4M472.8,245.4L467.2,245.9M467.2,245.9L461.6,238.4M461.1,227.6L464.5,226M457.8,234.5L460.7,238.2M464.5,226L466.1,226.3M461.6,238.4L460.7,238.2M438.3,218.7L438.8,227.4M447.7,225L442.9,228.5M438.8,227.4L442.9,228.5M459.2,292.5L457.6,290.5M446.1,297.6L447.7,289.4M457.6,290.5L448.1,289M447.7,289.4L448.1,289M369.3,274.3L371,264.6M377.4,275.8L377.4,266.8M377.4,266.8L371,264.6M365.4,262.1L370.6,264M371,264.6L370.6,264M412.7,273.2L410,268.7M412.7,273.2L419.4,272.1M410,268.7L413.2,263.6M419.4,272.1L420.6,270M420.6,270L417.6,264M417.6,264L413.2,263.6M426.4,267.7L420.6,270M426.4,267.7L431.4,274.4M431.4,274.4L430.6,276.1M430.6,276.1L422.8,278.4M422.8,278.4L419.4,272.1M321,251.1L318.6,242.9M321,251.1L325.3,252M326.5,251.1L325.3,252M326.5,251.1L327,240.7M318.6,242.9L325.9,239.5M327,240.7L325.9,239.5M314.1,254.3L321,251.1M313.5,240.5L318.6,242.9M326.7,260L325.3,252M333.8,250.2L326.5,251.1M336,242.4L327,240.7M325.9,238.7L325.9,239.5M332.3,231.8L337.4,232.8M376.4,213.3L375.7,222.3M383.8,223.1L378.9,225M375.7,222.3L378.9,225M366.1,217.6L366.8,213.3M366.1,217.6L370,222.5M375.7,222.3L370,222.5M385.8,268.3L380.1,265.3M385.8,268.3L391.3,264.4M391.3,264.4L391.4,261.8M391.4,261.8L384.1,258.3M380.1,265.3L381,259.9M384.1,258.3L381,259.9M385.1,274.6L385.8,268.3M377.4,266.8L380.1,265.3M393.9,267.3L391.3,264.4M392.6,279L393.7,277.9M375.6,257.1L370.6,264M375.6,257.1L381,259.9M383.3,234.8L386,234.6M383.3,234.8L378.2,229.4M390.5,226.9L390.5,227.2M378.9,225L378.2,229.4M386,234.6L390.5,227.2M386,234.6L390.4,238.6M390.4,238.6L395.5,237.3M390.5,227.2L396.9,232.5M395.5,237.3L396.9,232.5M396.2,220.2L399.7,220.7M391.8,213.8L393.7,211.4M404.8,215.1L401.5,209.5M404.8,215.1L404.4,217.3M404.4,217.3L399.7,220.7M393.7,211.4L401.5,209.5M274.7,204.2L284.2,204M274.7,204.2L273.2,193.6M284.2,204L284.6,193.1M273.2,193.6L284.6,193.1M272.5,206.8L274.7,204.2M273,193.4L263.2,194.8M283.6,181.5L285.5,192.2M283.6,181.5L295.3,181.3M295.3,181.3L294.5,192.9M285.5,192.2L294.5,192.9M283.2,181.2L283.6,181.5M283.2,181.2L272.8,182.6M273,193.4L272.8,182.6M284.6,193.1L285.5,192.2M240.4,183.1L247.8,181.7M251.1,193.2L248.9,182.5M247.8,181.7L248.9,182.5M218.7,149.1L226.1,148M219.3,135.8L227.5,137.4M226.1,148L227.5,137.4M237.3,160L227.1,159.3M237.3,160L237,169.3M237,169.3L236.4,169.9M236.4,169.9L226.3,170.4M225.4,160.9L225.3,169.6M225.4,160.9L227.1,159.3M225.3,169.6L226.3,170.4M238.2,158.8L237,150M238.2,158.8L237.3,160M227,148.9L237,150M227,148.9L227.1,159.3M248.3,170.5L249.9,169M248.3,170.5L237,169.3M249.9,169L249.8,159.1M238.2,158.8L249.8,159.1M237.2,180.7L236.4,169.9M247.8,181.7L248.3,170.5M226.3,182.5L226.3,170.4M219.1,170.2L225.3,169.6M218.5,158.6L225.4,160.9M226.1,148L227,148.9M229.5,126L227.5,137.4M229.5,126L237.7,124.5M237.7,124.5L238.7,125.1M238.7,125.1L240.9,136.5M227.5,137.4L238.3,138.7M240.9,136.5L238.3,138.7M225.4,123.1L229.5,126M237.5,117.2L237.7,124.5M238.3,148.6L237,150M238.3,148.6L238.3,138.7M352,202L350.5,195.1M346.5,206.7L339.7,202.2M339.7,202.2L340,193.9M340,193.9L350.5,195.1M319.1,191.4L318.3,182.4M319.1,191.4L328.3,192.2M328.3,192.2L329.4,180.5M329.4,180.5L319.2,181.2M319.2,181.2L318.3,182.4M329.8,193.7L339.7,193.6M329.8,193.7L328.3,192.2M330.4,179.6L329.4,180.5M330.4,179.6L341,182.7M339.7,193.6L341,182.7M330,170.6L330.4,179.6M330,170.6L318.8,168.7M318.8,168.7L317.1,170.6M317.1,170.6L319.2,181.2M346.5,212L346.1,212.5M346.1,212.5L337.7,212.5M339.7,202.2L336.8,204.8M336.8,204.8L337.7,212.5M352.8,221.9L351.4,227.3M352.8,221.9L356.4,219.7M351.4,227.3L360.1,230.5M356.4,219.7L360,220.8M360,220.8L362,227.6M362,227.6L360.1,230.5M346.4,217.3L340.3,223.4M346.4,217.3L352.8,221.9M350.6,227.9L351.4,227.3M341,226.1L340.3,223.4M346.1,212.5L346.4,217.3M356,212.4L356.4,219.7M355.2,239.3L360.4,232M360.4,232L360.1,230.5M366.1,217.6L360,220.8M370,222.5L367.8,226.7M367.8,226.7L362,227.6M311.4,223.8L309.6,215.6M301.7,221.4L305.2,215.1M305.2,215.1L309.6,215.6M320,217.9L315.5,224.1M320,217.9L312.9,212.9M309.6,215.6L312.9,212.9M306.9,192.3L316.8,193.5M306.9,192.3L307.7,203.9M317.7,200.3L309.5,204.6M317.7,200.3L316.8,193.5M307.7,203.9L309.5,204.6M283.4,216.1L285,214.9M284.2,204L285.1,204.8M285,214.9L285.1,204.8M295.6,222.2L293.2,216M285,214.9L293.2,216M259.2,261.6L264.3,258M259.2,261.6L254.8,259.4M254.8,259.4L254.5,253.1M264.3,254.5L264.3,258M264.3,254.5L259.1,250M259.1,250L254.5,253.1M269.4,261.6L264.3,258M260,271.6L259.2,261.6M247.8,262.7L254.8,259.4M248.4,251L254.5,253.1M271.8,249.6L264.3,254.5M259.4,244.7L259.1,250M363.9,259.7L368.1,252M375.6,257.1L374,251.6M368.1,252L374,251.6M354.7,251.2L364.2,247.6M368.1,252L364.2,247.6M355.3,239.4L364.5,242.9M364.2,247.6L364.5,242.9M521.3,226.1L516.6,221.8M524.4,213.5L521.4,213.7M521.4,213.7L516.6,221.8M509.2,226.3L515.1,221.8M515.1,221.8L516.6,221.8M422.1,148.4L419.2,159.3M422.1,148.4L431.2,149.2M431.8,158.4L431.3,149.3M420,160.4L419.2,159.3M551.1,130.3L543.4,139.2M546.2,126.1L537.8,130.7M537.8,130.7L543.4,139.2M532.1,124.5L535.1,130M537.8,130.7L535.1,130M553.2,145.1L553.1,145.7M553.2,145.1L543.3,140.3M543.6,153.7L538.3,144.5M553.1,145.7L545.6,154.3M538.3,144.5L543.3,140.3M553.2,145.1L554.2,144.2M543.3,140.3L543.4,139.2M494.2,217.9L497.4,213.4M494.2,217.9L498.9,224.2M497.4,213.4L504.8,216.5M504.8,216.5L504.1,223.9M504.1,223.9L498.9,224.2M493.4,230.2L498.9,224.2M489.8,218.9L494.2,217.9M505.6,225.5L504.1,223.9M515.1,221.8L509.2,213.3M509.2,213.3L504.8,216.5M650.5,189.9L650.7,184.6M663.2,187.8L656.5,180.7M650.7,184.6L656.5,180.7M668.5,177.5L667.9,175.9M667.9,175.9L657.6,176.8M656.5,180.7L657.6,176.8M671.9,169.8L669.5,171.3M669.5,171.3L663.9,166.7M671.9,160.6L669,155.9M663.9,166.7L662.9,157M662.9,157L669,155.9M667.9,175.9L669.5,171.3M663,143.9L661.3,136.3M663,143.9L660,147.8M660,147.8L652.1,145M661.3,136.3L651.5,138.2M651.5,138.2L652.1,145M670.4,145.3L671.5,144.4M670.4,145.3L663,143.9M661.6,136L661.3,136.3M670.4,145.3L669.5,155.4M661.3,156.3L660,147.8M661.3,156.3L662.9,157M669.5,155.4L669,155.9M661.3,156.3L657.4,157.5M657.4,157.5L646.7,151.8M646.7,151.8L652.1,145M658.6,127.1L653.1,127.3M653.1,127.3L649,136.1M649,136.1L651.5,138.2M639.5,148.6L639,147M639.5,148.6L645.9,152M639,147L645.3,135.7M649,136.1L645.3,135.7M645.9,152L646.7,151.8M669.5,155.4L671.5,154.9M586.9,118.5L587.2,117.5M631.5,141.4L624.2,148.4M631.5,141.4L630.7,136.9M630.7,136.9L617.3,136.6M624.2,148.4L617.4,139.4M617.4,139.4L617.3,136.6M639,147L631.5,141.4M645.3,135.7L640.6,131.5M640.6,131.5L633,132.5M633,132.5L630.7,136.9M624.3,124.7L616.9,136M624.3,124.7L619.7,120.1M619.7,120.1L612,125.6M612,125.6L615.1,135.1M615.1,135.1L616.9,136M628.6,125.5L633,132.5M628.6,125.5L624.3,124.7M617.3,136.6L616.9,136M538,305.9L549.7,299.2M553.4,311.4L554.6,307.9M554.6,307.9L549.7,299.2M543.5,290.3L549.9,298.6M549.9,298.6L549.7,299.2M552.2,265L548.5,265.1M552.2,265L558.9,257.7M548.5,265.1L545.4,262.2M545.4,262.2L547.1,254.8M547.1,254.8L553,253.2M558.9,257.7L553,253.2M540,262.8L545.4,262.2M542.3,276.4L545.7,274.8M545.7,274.8L548.5,265.1M542.7,250.5L547.1,254.8M553.9,246.2L552.4,244.5M553.9,246.2L553,253.2M545.7,274.8L555.2,277.8M552.2,265L557.3,270.6M555.2,277.8L557.3,270.6M559.2,245.7L561.7,241.1M559.2,245.7L564.6,251.6M561.7,241.1L568.7,240.8M567.6,250.9L564.6,251.6M567.6,250.9L570.3,244.6M570.3,244.6L568.7,240.8M553.9,246.2L559.2,245.7M558.2,236.2L561.7,241.1M559.4,257.7L564.6,251.6M559.4,257.7L558.9,257.7M569.3,238.4L568.7,240.8M577.9,245.1L570.3,244.6M572.8,255.6L567.6,250.9M575,234.9L578.9,237.5M559.1,328.9L559.3,330M559.1,328.9L565,318.1M559.3,330L571.8,334.4M573.4,320.8L572.6,333.9M573.4,320.8L567.1,317.3M572.6,333.9L571.8,334.4M565,318.1L567.1,317.3M555.3,315L565,318.1M551.4,322.9L559.1,328.9M582,317.8L573.4,320.8M580.9,335.6L572.6,333.9M574.6,304.8L567.8,308M567.8,308L567.1,317.3M572.5,352L568.8,341.9M568.8,341.9L571.8,334.4M567.8,308L563.3,304.7M554.6,307.9L563.3,304.7M548.1,336L555.9,334.6M548.1,336L549.4,348.1M555.9,334.6L559.6,343M559.6,343L555.4,349.8M555.4,349.8L550.7,349.4M549.4,348.1L550.7,349.4M545.9,334.8L548.1,336M559.3,330L555.9,334.6M536.2,346.5L549.4,348.1M568.8,341.9L559.6,343M559.8,354.8L555.4,349.8M444,382.7L447.1,377.7M444,382.7L445.9,387.7M445.9,387.7L450.7,389.3M453.3,380L453.6,387.5M453.3,380L447.1,377.7M453.6,387.5L450.7,389.3M450.7,396.3L444.5,399.5M450.7,396.3L450.7,389.3M440.2,394.6L444.5,399.5M440.2,394.6L445.9,387.7M459.4,377.5L453.3,380M463,380.6L459.4,389.5M459.4,389.5L453.6,387.5M450.2,369L446.6,376.2M446.6,376.2L447.1,377.7M546.1,357.5L538.8,357.5M546.1,357.5L549.2,363.4M549.2,363.4L543.3,370.4M535.4,362.6L541.9,370.4M535.4,362.6L538.8,357.5M541.9,370.4L543.3,370.4M535.4,347.4L538.8,357.5M550.7,349.4L546.1,357.5M556.7,364.2L549.2,363.4M550.8,378.3L543.3,370.4M534.5,377.4L541.9,370.4M533.7,362.8L535.4,362.6M378.3,323.4L380.7,323.9M380.7,323.9L388.7,317.1M388.7,317.1L380.6,309.9M436.4,294.3L444.5,298.9M436.4,294.3L430.2,300.3M444,300.7L433.4,305.9M430.2,300.3L433.4,305.9M435.2,312.2L432.9,309.2M432.9,309.2L433.4,305.9M401.1,363.7L394.2,358.7M401.1,363.7L399.6,374.3M386.9,364.7L394.2,358.7M386.9,364.7L387.3,373.3M387.3,373.3L399.6,374.3M409.2,377.2L411.5,387.8M409.2,377.2L401.2,376.6M407.2,393L411.5,387.8M407.2,393L397,388.5M401.2,376.6L397,388.5M407.2,402.7L409,398.5M391.3,398.2L394.7,389.3M409,398.5L407.2,393M397,388.5L394.7,389.3M379.8,352.4L388.5,349.9M378.5,361.2L386.9,364.7M394.2,358.7L393.5,352.8M388.5,349.9L393.5,352.8M373.7,339.2L386,337.3M388.5,349.9L386,337.3M380.7,323.9L389,333.8M386,337.3L389,333.8M394.5,323.3L389.2,317.1M394.5,323.3L390,333.5M388.7,317.1L389.2,317.1M389,333.8L390,333.5M393.5,352.8L402.7,345.5M390,333.5L401.4,337.9M402.7,345.5L401.4,337.9M401.1,363.7L409.8,361.2M409.7,349.1L402.7,345.5M409.7,349.1L411.6,356.4M409.8,361.2L411.6,356.4M456.8,356.6L454.4,351.8M456.8,356.6L455.6,360.7M454.4,351.8L451.2,352.1M448.8,363.2L446.6,356.1M451.2,352.1L446.6,356.1M431.3,322.1L428.1,321.7M434.1,324.9L429.1,333M428.1,321.7L421.7,328.7M421.7,328.7L425.5,332.9M425.5,332.9L429.1,333M424.8,350.4L415.3,345.1M424.8,350.4L426.8,349.7M426.8,349.7L426.2,342.4M426.2,342.4L422.7,339.6M422.7,339.6L417.2,340.5M417.2,340.5L415.3,345.1M409.7,349.1L415.3,345.1M420.7,356L411.6,356.4M420.7,356L424.8,350.4M434.4,338.6L426.2,342.4M434.4,338.6L429.1,333M425.5,332.9L422.7,339.6M421.6,328.7L414.4,335.3M414.4,335.3L417.2,340.5M414.4,335.3L407,332.1M407,332.1L401.4,337.9M439,326.2L440.2,335.4M434.4,338.6L435.2,338.8M435.2,338.8L440.2,335.4M450.9,330.1L444.3,336.8M444.3,336.8L440.2,335.4M452.9,340.6L447.2,340.9M444.3,336.8L447.2,340.9M457.3,348.3L454.4,351.8M451.2,352.1L445.8,345.1M447.2,340.9L445.8,345.1M516,422.8L516.1,421.8M518.5,425.2L525.4,426.1M527.4,417.6L525.4,426.1M527.4,417.6L524.7,415M524.7,415L516.1,421.8M508.1,414.5L512.6,416.1M512.6,416.1L516.1,421.8M525.4,401.7L528.6,404.6M525.4,401.7L521.8,402M528.6,404.6L524.6,414.7M521.8,402L516.8,406.2M524.6,414.7L517.5,411M516.8,406.2L517.5,411M527.3,390.3L525.4,401.7M541.4,400.1L533.6,405.2M533.6,405.2L528.6,404.6M514.8,395.6L521.8,402M509.6,404.9L516.8,406.2M524.7,415L524.6,414.7M512.6,416.1L517.5,411M495.9,464.1L495.6,457.9M495.9,464.1L503.7,467.6M495.6,457.9L505.6,458M503.7,467.6L506.5,465.4M506.5,465.4L506.7,459.2M506.7,459.2L505.6,458M503.1,475.7L503.7,467.6M494,466.3L495.9,464.1M513.2,467.6L506.5,465.4M514,457.5L506.7,459.2M508.1,446.9L505.8,449.4M505.8,449.4L505.6,458M474.6,435.6L479.1,432.1M474.6,435.6L470.6,430.7M479.1,432.1L477.9,424.4M470.6,430.7L473.3,425.6M477.9,424.4L473.3,425.6M478.4,423.8L477.9,424.4M485.2,433.9L479.1,432.1M466.1,420.8L473.3,425.6M466.1,420.8L465.1,421.6M464,431L470.6,430.7M466.1,420.8L467.7,415.5M471,439.6L472.2,446.6M471,439.6L474.4,436.9M474.4,436.9L480.1,441.6M480.1,441.6L477.6,447.4M472.2,446.6L477.6,447.4M465.7,439L471,439.6M470,448.3L472.2,446.6M474.6,435.6L474.4,436.9M487.1,437.2L486.7,439.1M480.1,441.6L485.9,440M485.9,440L486.7,439.1M479.4,450.4L474.9,456.1M479.4,450.4L481.7,451M481.7,451L485,459.2M475.5,458.5L480.2,461.2M475.5,458.5L474.9,456.1M480.2,461.2L484.2,460.5M484.2,460.5L485,459.2M469.5,453.5L474.9,456.1M477.6,447.4L479.4,450.4M486.4,448.7L485.9,440M486.4,448.7L481.7,451M477.9,466.9L480.2,461.2M471,462.8L475.5,458.5M487.1,466.8L484.2,460.5M426.2,419.8L432.9,424.9M426.2,419.8L431.7,414.1M432,414.1L438.2,417.5M438.2,417.5L435.7,424.1M435.7,424.1L432.9,424.9M427.6,431.9L431.5,430.2M427.6,431.9L421.6,426.8M431.5,430.2L432.9,424.9M423.8,420.2L426.2,419.8M419.9,409.9L421.1,408.3M421.1,408.3L426.6,407.8M426.6,407.8L431.7,414.1M440.7,406.3L437,406.5M440.7,406.3L443.6,411.9M437,406.5L432,414.1M440,417.1L438.2,417.5M430.1,458L426.9,452.8M430.1,458L433.6,458.9M433.7,458.9L437.8,451.3M426.9,452.8L431.1,447.3M437.8,451.3L432.2,447.1M432.2,447.1L431.1,447.3M420.7,452L426.9,452.8M423.6,463.2L430.1,458M432.5,468.2L433.6,458.9M439.6,461.2L433.7,458.9M441.1,450.6L437.8,451.3M435.1,441.1L440.7,442.2M435.1,441.1L432.2,447.1M553.1,145.7L557.6,153.3M547.1,156.6L554.7,158.2M554.7,158.2L557.6,153.3M555.7,166L557.2,164.1M554.7,158.2L557.2,164.1M567.5,146.7L567.6,147.5M567.6,147.5L563.8,153.5M563.8,153.5L557.6,153.3M553.2,186L557.9,186.9M553.2,186L548.2,188.9M548.2,188.9L548.2,196.3M559,187.8L556.8,199.1M559,187.8L557.9,186.9M548.2,196.3L553.2,199.3M553.2,199.3L556.7,199.2M556.8,173.9L559.8,175.8M559.8,175.8L557.9,186.9M549.2,177.1L553.2,186M544.5,187.6L548.2,188.9M540.7,199.3L548.2,196.3M567.2,198.3L568.6,193.5M567.2,198.3L556.8,199.1M562.8,187.8L568.6,193.5M562.8,187.8L559,187.8M565.4,174.7L569.7,181.2M565.4,174.7L559.8,175.8M569.7,181.2L562.8,187.8M548.7,206.4L553.2,199.3M559.9,208.2L556.7,199.2M567.4,205.9L569.3,202.4M569.3,202.4L567.2,198.3M671.1,301.4L672.1,301.4M671.1,301.4L670.2,311M670.2,311L671.5,312.6M668.7,298.8L671.1,301.4M662.1,310L670.2,311M623.5,313.1L621.2,306.6M623.5,313.1L632.2,313.6M621.2,306.6L628.8,301.1M632.2,313.6L634.1,311.7M634.1,311.7L630,301.2M630,301.2L628.8,301.1M612.4,303.8L621.2,306.6M618.7,319.2L623.5,313.1M631.7,321.3L632.2,313.6M621.5,294.1L628.8,301.1M639.7,311.6L634.1,311.7M635.4,296.6L630,301.2M306.4,158.5L307.9,147.6M306.4,158.5L317.6,159.8M317.6,159.8L317.1,148.1M307.9,147.6L317.1,148.1M307.2,182.5L306.6,183.2M307.2,182.5L307.9,172M306.6,183.2L295.8,180.8M307.9,172L306.7,171.1M306.7,171.1L296.1,171.1M295.8,180.8L296.1,171.1M306.4,191.9L306.6,183.2M306.4,191.9L306.9,192.3M316.8,193.5L319.1,191.4M318.3,182.4L307.2,182.5M317.1,170.6L307.9,172M296.2,194.5L294.5,192.9M296.2,194.5L306.4,191.9M295.3,181.3L295.8,180.8M318.8,168.7L317.9,160.1M306.4,158.5L306.7,171.1M317.9,160.1L317.6,159.8M294.5,169.4L296.1,158.5M294.5,169.4L296.1,171.1M306.4,158.5L296.1,158.5M283.2,181.2L284.2,170.3M284.2,170.3L294.5,169.4M250,158.9L250.9,149.3M238.3,148.6L250.2,148.7M250.2,148.7L250.9,149.3M240.9,136.5L248.9,137.6M250.2,148.7L248.9,137.6M238.7,125.1L248.3,123.4M248.9,137.6L250.4,136.4M250.4,136.4L249.7,124.3M248.3,123.4L249.7,124.3M248.3,123.4L248.5,116.8M347.8,418.7L347.5,427.5M347.8,418.7L336.4,415.9M333.2,429.2L331.7,420.2M333.2,429.2L343.1,431.1M343.1,431.1L347.5,427.5M336.4,415.9L331.7,420.2M346,404.7L349.9,416.3M349.9,416.3L347.8,418.7M334.7,408.8L336.4,415.9M328.2,433.2L333.2,429.2M322,417.6L331.7,420.2M342.7,439.7L343.1,431.1M353.1,415.5L366.7,421.9M353.1,415.5L361.7,404.4M361.7,404.4L366.2,404.6M366.2,404.6L368.5,420.7M368.5,420.7L366.7,421.9M354.5,398.3L361.7,404.4M349.9,416.3L353.1,415.5M355.4,389L367.2,389.2M367.2,389.2L372.1,400.6M372,400.8L366.2,404.6M378,420.9L368.5,420.7M356.8,437.4L355.7,431.6M356.8,437.4L364.1,441.1M355.7,431.6L364.8,426.5M364.8,426.5L370.3,436.9M370.3,436.9L364.1,441.1M350.3,445.5L356.8,437.4M347.5,427.5L355.7,431.6M364,447.4L364.1,441.1M366.7,421.9L364.8,426.5M376.2,438L370.3,436.9M421.5,445.1L415.7,437.9M421.5,445.1L426,443.3M426,443.3L427.1,437.5M417,436.9L415.7,437.9M417,436.9L426.8,437M427.1,437.5L426.8,437M419.9,450.8L421.5,445.1M413.3,438.1L415.7,437.9M431.1,447.3L426,443.3M435.1,441.1L434.3,439.2M434.3,439.2L427.1,437.5M420.7,427.4L417,436.9M427.6,431.9L426.8,437M434.3,439.2L436.6,433.7M436.6,433.7L431.5,430.2M449.6,431L445.8,423.7M449.6,431L444.2,435.2M444.2,435.2L440.1,432.6M440.1,432.6L440.5,427.1M440.5,427.1L445.8,423.7M455.7,422.9L448.9,421.3M451.6,431.2L449.6,431M445.9,423.3L445.8,423.7M444.6,437.4L444.2,435.2M436.6,433.7L440.1,432.6M435.7,424.1L440.5,427.1M457.2,421.4L456.4,413.2M463.2,411.2L461.3,410.8M461.3,410.8L456.4,413.2M449.5,412.9L451.5,411.9M456.4,413.2L451.5,411.9M440.7,406.3L444.5,400.4M444.5,400.4L451.5,406.2M451.5,411.9L451.5,406.2M459.4,389.5L459.8,390.2M470.3,385.4L467,390.6M459.8,390.2L467,390.6M473.8,395.1L468.6,394.9M467,390.6L468.6,394.9M468.3,403.1L465.6,399.4M468.6,394.9L465.6,399.4M410.1,117.4L408,124.2M408,124.2L398.2,123M398,117L398.2,123M421.8,125L420.8,125.9M421.8,125L421.1,116.7M409.9,127.3L408,124.2M443.9,126L444.4,137.8M443.9,126L441.8,124.4M441.8,124.4L433.2,126.2M432.1,127.3L432.5,136.4M432.1,127.3L433.2,126.2M444.4,137.8L443.7,138.3M443.7,138.3L432.8,136.7M432.5,136.4L432.8,136.7M453.1,125.4L443.9,126M453.1,125.4L455.2,136.5M455,136.7L444.4,137.8M454.3,123.8L454.4,117.1M454.3,123.8L453.1,125.4M442.8,117.4L441.8,124.4M432,116.7L433.2,126.2M420.7,137.7L432.5,136.4M421.8,125L432.1,127.3M420.9,147.2L422.1,148.4M431.2,149.2L432.8,136.7M473.2,221L471.3,215.6M464.5,226L462.1,216.2M471.3,215.6L462.1,216.2M455.8,218.6L461.6,215.8M459,208L460.4,209.1M460.4,209.1L461.6,215.8M461.6,215.8L462.1,216.2M489.4,180.9L491.1,182.7M478.4,192.3L482.2,193.9M482.2,193.9L490.1,190.8M490.1,190.8L491.1,182.7M397.7,135.6L387.9,136.1M397.7,135.6L397.6,123.5M387.9,136.1L385.6,126M397.6,123.5L386.7,124.2M386.7,124.2L385.6,126M399,136.5L408.6,135.1M399,136.5L397.7,135.6M398.2,123L397.6,123.5M385.2,117.3L386.7,124.2M397.6,159.7L396.2,158.4M397.6,159.7L408,159.8M396.2,158.4L398.6,148.5M408.8,148.9L398.7,148.4M408.8,148.9L410.3,157M408,159.8L410.3,157M398.7,171.2L397.6,159.7M398.7,171.2L408.8,170.9M408.8,170.9L408,159.8M409.2,148.5L408.8,148.9M399,136.5L398.7,148.4M419.2,159.3L410.3,157M386.9,137.5L387.9,136.1M386.9,137.5L387.7,146M387.7,146L398.6,148.5M409.8,171.6L408.8,170.9M428.2,203.9L426.6,209.3M434.2,213.5L429.6,213.3M429.6,213.3L426.6,209.3M436.8,218L429.6,223.5M429.6,223.5L424.4,219.4M429.6,213.3L424.4,219.4M422.5,200.3L418.5,204.3M418.5,204.3L421.2,210.2M426.6,209.3L421.2,210.2M418.5,204.3L411.5,204.3M411.6,210.8L411.5,204.3M411.6,210.8L418,216.4M421.2,210.2L418,216.4M438.6,271.1L442.5,276.6M438.6,271.1L439.2,268.2M442.5,276.6L449.2,273.4M446.4,265.3L439.2,268.2M446.4,265.3L449.6,267.5M449.6,267.5L449.2,273.4M480.8,264.6L471.4,264.4M480.8,264.6L481.4,273.3M473.8,275.7L471.7,274.8M473.8,275.7L480.7,274.4M471.7,274.8L469.4,267.8M471.4,264.4L469.4,267.8M480.7,274.4L481.4,273.3M481.5,263.8L480.8,264.6M475.3,253L469.7,258.1M469.7,258.1L471.4,264.4M490.5,272.5L481.4,273.3M483.9,281.9L480.7,274.4M475.2,286.1L473.8,275.7M429.6,223.5L430.1,227.3M438.8,227.4L435.7,229.2M430.1,227.3L435.7,229.2M452.8,234.3L447.4,238.1M442.9,228.5L444.7,236.6M447.4,238.1L444.7,236.6M435.7,229.2L436.1,237.7M444.7,236.6L436.1,237.7M432.9,281.8L428.6,287.8M432.9,281.8L438.6,282.5M439.9,286.8L438.6,282.5M439.9,286.8L435.8,291.8M435.8,291.8L428.6,287.8M438.6,271.1L431.4,274.4M442.5,276.6L442.5,277.6M430.6,276.1L432.9,281.8M442.5,277.6L438.6,282.5M442.5,277.6L449.3,283.2M449.3,283.2L448.1,289M447.7,289.4L439.9,286.8M436.4,294.3L435.8,291.8M422.8,278.4L421.9,281.1M428.6,287.8L427.4,288.1M421.9,281.1L427.4,288.1M430.2,300.3L425.6,298.5M425.6,298.5L424.2,292.7M424.2,292.7L427.4,288.1M403.5,267.1L403.3,261.3M403.5,267.1L402.8,267.8M403.3,261.3L399.7,258M391.4,261.8L393.3,259.6M393.3,259.6L399.7,258M411.6,210.8L404.8,215.1M404.4,217.3L410,220.9M410,220.9L418,216.5M424.4,219.4L420.8,219.5M420.8,219.5L418,216.5M402.3,230.3L407.7,237.8M402.3,230.3L402.8,228.8M402.8,228.8L410.4,226.1M407.7,237.8L414.6,229.2M414.6,229.2L410.4,226.1M396.9,232.5L402.3,230.3M399.7,220.7L402.8,228.8M410,220.9L410.4,226.1M409.9,181.2L408.1,183M420,192.1L410.7,194.7M410.7,194.7L408.1,183M398.7,171.2L397.7,172.1M397.7,172.1L397,180.3M397,180.3L400.4,184.1M408.1,183L400.4,184.1M248.9,182.5L260.2,181M249.9,169L259,170.9M259,170.9L260.2,181M272.8,182.6L270.9,181M260.7,192L261.6,182.1M270.9,181L261.6,182.1M261.6,182.1L260.2,181M330.2,170.3L340.9,169.7M330.2,170.3L331.4,159.5M340.9,169.7L342.1,161.3M342.1,161.3L339.5,159M331.4,159.5L339.5,159M330.2,170.3L330,170.6M317.9,160.1L328.7,156.7M331.4,159.5L328.7,156.7M335.6,214.5L332.1,214M335.6,214.5L337.6,221.5M332.1,214L326,219.3M337.6,221.5L327.8,224M327.8,224L326,219.3M340.3,223.4L337.6,221.5M337.7,212.5L335.6,214.5M327.3,226.1L327.8,224M322.5,217.4L326,219.3M322.5,217.4L320,217.9M328.2,199.5L331.8,204.8M328.2,199.5L321.1,203.4M331.8,204.8L329.1,209M329.1,209L323.1,209M321.1,203.4L321.4,207.1M321.4,207.1L323.1,209M329.8,193.7L328.2,199.5M340,193.9L339.7,193.6M336.8,204.8L331.8,204.8M317.7,200.3L321.1,203.4M332.1,214L329.1,209M322.5,217.4L323.1,209M313.2,211L309.5,204.6M313.2,211L321.4,207.1M313.2,211L312.9,212.9M305.1,205L303.1,212.7M305.1,205L295.8,202.4M303.1,212.7L295.7,212.4M295.7,212.4L294.5,203.9M295.8,202.4L294.5,203.9M305.2,215.1L303.1,212.7M307.7,203.9L305.1,205M296.2,194.5L295.8,202.4M293.2,216L295.7,212.4M285.1,204.8L294.5,203.9M365.7,235.4L370.7,232.1M365.7,235.4L366.1,241.4M366.1,241.4L374.7,241.4M374.7,241.4L373.1,232.7M373.1,232.7L370.7,232.1M360.4,232L365.7,235.4M367.8,226.7L370.7,232.1M364.5,242.9L366.1,241.4M374.9,250.6L374.9,241.6M374.9,250.6L374,251.6M374.9,241.6L374.7,241.4M383.3,234.8L380.1,240.5M380.1,240.5L374.9,241.6M378.2,229.4L373.1,232.7M386.9,137.5L376.1,138M385.6,126L376.7,127.1M376.7,127.1L374.7,136.6M376.1,138L374.7,136.6M340.9,169.7L342.9,171.9M342.9,171.9L341.1,182.6M521.4,213.7L517.8,211M517.8,211L509.2,213.2M523,201.9L517.1,202.6M517.8,211L517.1,202.6M376.7,127.1L373.3,124.2M375.6,117.2L373.3,124.2M453.9,159.1L454.8,149.4M453.9,159.1L444.3,159.1M454.8,149.4L443.9,146.5M444.3,159.1L441.9,148.9M441.9,148.9L443.9,146.5M455,169.3L454.6,159.9M443.5,159.8L444.3,159.1M454.6,159.9L453.9,159.1M455,136.7L456.9,147M456.9,147L454.8,149.4M443.7,138.3L443.9,146.5M431.3,149.3L441.9,148.9M456.9,147L465.9,147.6M454.6,159.9L464.8,159.3M465.9,147.6L467,148.8M464.8,159.3L467,148.8M535.1,130L530.3,137.2M538.3,144.5L537.7,144.6M537.7,144.6L530.3,137.2M499.7,171.3L512.8,169.9M499.7,171.3L502.1,182M502.2,182.1L511.3,181.1M511.3,181.1L513.5,170.9M513.5,170.9L512.8,169.9M489.5,171.6L498.7,170.3M498.7,170.3L499.7,171.3M491.1,182.7L502.1,182M495.7,194.7L490.1,190.8M495.7,194.7L501.7,189.3M501.7,189.3L502.2,182.1M506.3,198.6L507.1,193.4M506.3,198.6L512,202.2M507.1,193.4L511.9,191.4M512,202.2L515.3,201.5M515.3,201.5L515.7,194.4M515.7,194.4L511.9,191.4M512.6,182.4L511.9,191.4M512.6,182.4L511.3,181.1M501.7,189.3L507.1,193.4M517.1,202.6L515.3,201.5M507.9,208.9L509.2,213.2M507.9,208.9L512,202.2M523.6,190.7L515.7,194.4M521.8,184L512.6,182.4M524.2,181.3L523.5,172.1M523.5,172.1L533.9,171.1M513.5,170.9L522.7,171.4M523.5,172.1L522.7,171.4M657.4,157.5L653.6,163.9M644.3,159.1L650.5,164.5M644.3,159.1L645.9,152M650.5,164.5L653.6,163.9M663.9,166.7L657.2,169.4M653.6,163.9L657.2,169.4M657.6,176.8L656.1,174.3M657.2,169.4L656.1,174.3M646,180.9L648.1,173.2M646,180.9L639.7,181.6M637.5,175L644.1,170.4M637.5,175L637.7,180M648.1,173.2L646.3,170.9M637.7,180L639.7,181.6M644.1,170.4L646.3,170.9M650.7,184.6L646,180.9M656.1,174.3L648.1,173.2M639.7,189.7L639.7,181.6M639.5,163.1L644.1,170.4M639.5,163.1L634.4,163M634.4,163L633.6,171.5M633.6,171.5L637.5,175M629.9,182.6L637.7,180M629.9,182.6L628.8,181.9M633.6,171.5L626.2,173.9M628.8,181.9L626.2,173.9M650.5,164.5L646.3,170.9M629.9,182.6L630.1,190.3M639.5,163.1L644.3,159.1M638,117.7L642.4,125.7M638,117.7L640,117M642.4,125.7L649.7,122.9M649.7,122.9L650.9,117.7M650.2,116.7L650.9,117.7M635.1,116.6L628.6,125.5M635.1,116.6L638,117.7M640.6,131.5L642.4,125.7M653.1,127.3L649.7,122.9M660.8,117.4L650.9,117.7M606.6,123.9L607.9,117.6M606.6,123.9L605.6,124.3M605.6,124.3L596.9,120M598.1,117.1L596.9,120M612,125.6L606.6,123.9M615.1,135.1L608.1,136.2M608.1,136.2L603,130.3M603,130.3L605.6,124.3M587,118.6L594.8,120.9M594.8,120.9L596.9,120M619.7,120.1L619.4,117.7M616.9,151.9L616.3,160M616.9,151.9L611.1,148.2M606.4,152.2L608.9,161.6M606.4,152.2L608.5,148.6M608.9,161.6L614.1,161.6M611.1,148.2L608.5,148.6M614.1,161.6L616.3,160M624.2,148.4L624.2,149M617.4,139.4L611.1,148.2M624.2,149L616.9,151.9M600,162.2L607.4,163M600,162.2L597.1,156.7M607.4,163L608.9,161.6M597.1,156.7L599.3,153.1M599.3,153.1L606.4,152.2M603.9,142.2L597.9,141.8M603.9,142.2L608.5,148.6M597.9,141.8L595.8,147M595.8,147L599.3,153.1M607.4,163L606.7,169.8M617.3,169.3L614.1,161.6M617.3,169.3L612,174.9M606.7,169.8L612,174.9M608.1,136.2L603.9,142.2M634.3,162.9L626.1,162.7M634.3,162.9L634,153.6M634,153.6L626.1,151.9M626.1,151.9L624.1,160.6M626.1,162.7L624.1,160.6M626.2,173.9L624.8,173.1M624.8,173.1L623.4,170.6M623.4,170.6L626.1,162.7M639.5,148.6L634,153.6M624.2,149L626.1,151.9M616.3,160L624.1,160.6M617.3,169.3L623.4,170.6M589.9,138.4L596.8,140.2M589.9,138.4L588.7,131.5M596.8,140.2L598.7,131.7M588.7,131.5L594.7,128.9M594.7,128.9L598.7,131.7M585.5,129.7L588.7,131.5M577,138.5L582.8,143.6M582.8,143.6L589.9,138.4M603,130.3L598.7,131.7M597.9,141.8L596.8,140.2M594.8,120.9L594.7,128.9M567.6,147.5L575.9,153.3M575.9,153.3L582.8,143.7M595.8,147L588.4,149.7M582.8,143.7L588.4,149.7M597.1,156.7L588.1,157.3M588.4,149.7L588.1,157.3M569.2,291.5L556.8,284.5M569.2,291.5L562.7,298.5M562.7,298.5L554.7,295.4M554.7,295.4L556.6,284.8M556.6,284.8L556.8,284.5M571.6,276.4L570.6,275.9M572.4,290.9L569.2,291.5M557.2,281.5L570.6,275.9M557.2,281.5L556.8,284.5M563.3,304.7L562.7,298.5M549.9,298.6L554.7,295.4M544,286.9L556.6,284.8M555.2,277.8L557.2,281.5M568.8,272.4L562.7,268.7M568.8,272.4L572,261.6M562.7,268.7L562.7,261.6M572,261.6L562.7,261.6M557.3,270.6L562.7,268.7M570.6,275.9L568.8,272.4M573.6,260.4L572,261.6M559.4,257.7L562.7,261.6M498.9,348.8L493,353.5M484,344.4L484.1,347.3M484.1,347.3L489.8,353.5M493,353.5L489.8,353.5M502.7,364.6L497,362.4M493,353.5L497,362.4M464.4,348.7L467.3,356.8M471.3,344.7L475.7,353.2M475.7,353.2L467.3,356.8M484.1,347.3L477,353.5M475.7,353.2L477,353.5M456.8,356.6L466.7,358.2M462.1,365.5L467,360.4M467,360.4L466.7,358.2M466.7,358.2L467.3,356.8M389.2,317.1L394.8,309.7M380.6,309.9L391.3,303.6M394.8,309.7L391.3,303.6M380.8,295.8L391.4,302.9M391.6,291.4L395.3,298.2M395.3,298.2L391.4,302.9M391.4,302.9L391.3,303.6M386.1,374.6L386.7,384.6M386.1,374.6L376.2,374.2M376.2,374.2L371.4,381.8M381.2,387L386.7,384.6M381.2,387L371.4,382.1M387.3,373.3L386.1,374.6M401.2,376.6L399.6,374.3M394.7,389.3L386.7,384.6M372.1,364.8L376.2,374.2M360.9,374.6L371.4,381.8M378.9,396.4L381.2,387M367.2,389.2L371.4,382.1M448.2,364.9L441,365.6M446.6,356.1L439.8,355.1M439.8,355.1L438.6,358.3M441,365.6L438.6,358.3M428,350.2L436.1,344.6M428,350.2L430,352.7M430,352.7L439.6,354.7M439.6,354.7L440,348M436.1,344.6L440,348M426.8,349.7L428,350.2M435.2,338.8L436.1,344.6M439.8,355.1L439.6,354.7M445.8,345.1L440,348M523.3,435L526.6,431.7M528.5,432.6L526.6,431.7M525.4,426.1L526.3,427.1M526.6,431.7L526.3,427.1M490.6,450.5L495.3,444.9M490.6,450.5L492.3,456.3M495.6,457.9L492.3,456.3M495.6,457.9L499.9,450M499.9,450L495.3,444.9M486.4,448.7L490.6,450.5M486.7,439.1L495.3,444.9M485,459.2L492.3,456.3M505.8,449.4L499.9,450M499.1,440.7L495.3,444.9M573,160.6L567.7,169.8M573,160.6L565.2,158.1M565.2,158.1L560.6,163.8M560.6,163.8L567.7,169.8M557.2,164.1L560.6,163.8M563.8,153.5L565.2,158.1M565.4,174.7L567.7,169.8M588.6,166.1L583.4,169.4M588.6,166.1L587.1,158.6M587.1,158.6L576.9,157.4M579,168.8L583.4,169.4M579,168.8L575,159.9M575,159.9L576.9,157.4M575.9,153.3L576.9,157.4M588.1,157.3L587.1,158.6M573,160.6L575,159.9M567.7,169.8L575.6,171.9M575.6,171.9L579,168.8M605.9,181.5L600.8,177.5M605.9,181.5L602.2,188.4M602.2,188.4L597.7,189M597.7,189L594,181.2M600.8,177.5L594,181.2M600,162.2L594.4,168.4M606.7,169.8L601,172.9M601,172.9L594.4,168.4M588.6,166.1L592.7,168.6M594.4,168.4L592.7,168.6M609.8,209.8L600.8,204.7M613.7,202.2L605.3,198.7M605.3,198.7L600.6,201.3M600.8,204.7L600.6,201.3M602.2,188.4L606.8,192.1M606.8,192.1L605.3,198.7M597.3,189.6L597.7,189M597.3,189.6L598.8,200M600.6,201.3L598.8,200M570.9,211.5L574.8,211.6M570.8,222.3L578.3,217.5M578.3,217.5L574.8,211.6M569.3,202.4L574.6,202.4M574.6,202.4L576.9,208M574.8,211.6L576.9,208M612.4,178L610.4,180.6M612.4,178L618.1,179.2M610.4,180.6L613.8,190.4M618.1,179.2L621,183.7M621,183.7L619,190.8M619,190.8L616.1,191.5M616.1,191.5L613.8,190.4M605.9,181.5L610.4,180.6M612,174.9L612.4,178M600.8,177.5L601,172.9M624.8,173.1L618.1,179.2M606.8,192.1L613.8,190.4M628.8,181.9L621,183.7M624.2,193.4L619,190.8M613.7,202.2L616.1,191.5M295.7,136.1L306.6,138M295.7,136.1L296.8,125.8M296.8,125.8L305.8,124.8M306.6,138L305.8,124.8M283.4,158.2L283.3,148.5M283.4,158.2L295.6,157.9M283.3,148.5L294.3,147.7M295.6,157.9L294.8,148.2M294.8,148.2L294.3,147.7M296.1,158.5L295.6,157.9M307.9,147.6L306.4,145.8M306.4,145.8L294.8,148.2M295.7,136.1L293.3,138M306.4,145.8L306.6,138.1M293.3,138L294.3,147.7M453.8,397.3L456,402.8M453.8,397.3L459.2,394.1M459.2,394.1L463.7,399.3M463.7,399.3L458.7,403.6M458.7,403.6L456,402.8M444.5,400.4L444.5,399.5M450.7,396.3L453.8,397.3M451.5,406.2L456,402.8M459.8,390.2L459.2,394.1M465.6,399.4L463.7,399.3M461.3,410.8L458.7,403.6M471.5,215.3L468.7,206.8M471.5,215.3L478.8,211.1M478.8,211.1L479.6,207.6M479.6,207.6L473.6,203.8M473.6,203.8L470.4,204.3M470.4,204.3L468.7,206.8M471.3,215.6L471.5,215.3M460.4,209.1L468.7,206.8M482.1,216.3L478.8,211.1M487.2,216.3L488.1,210.5M488.1,210.5L482.8,206M482.8,206L479.6,207.6M478.4,192.3L473.6,203.8M482.2,193.9L485.1,201.6M482.8,206L485.1,201.6M466.7,199.1L470.4,204.3M496.4,208.1L495.8,207.7M496.4,208.1L501.5,206M495.8,207.7L493,202.1M501.5,206L503.4,199.8M503.4,199.8L495.9,195.5M495.9,195.5L493,202.1M497.4,213.4L496.4,208.1M488.1,210.5L495.8,207.7M507.9,208.9L501.5,206M485.1,201.6L493,202.1M506.3,198.6L503.4,199.8M495.7,194.7L495.9,195.5M467.2,245.9L461.8,252M469.7,258.1L464.9,256.3M464.9,256.3L461.8,252M460.7,238.2L456.4,245.3M456.4,245.3L461,251.8M461.8,252L461,251.8M446.4,265.3L447,259.4M449.6,267.5L454.7,266.7M447,259.4L453.3,257.1M453.3,257.1L457,263.6M454.7,266.7L457,263.6M464.9,256.3L459.7,263.5M461,251.8L453.9,255.7M453.3,257.1L453.9,255.7M457,263.6L459.7,263.5M469.4,267.8L464.8,267.9M459.7,263.5L464.8,267.9M458.5,284L453.8,280.2M458.5,284L464.8,281.7M459.6,274L458,274M459.6,274L465.3,279.1M458,274L454.4,277M453.8,280.2L454.4,277M464.8,281.7L465.3,279.1M457.6,290.5L458.5,284M449.3,283.2L453.8,280.2M469.4,289.3L464.8,281.7M454.7,266.7L458,274M464.8,267.9L459.6,274M471.7,274.8L465.3,279.1M449.2,273.4L454.4,277M450,250L444.9,250.2M450,250L452.9,245.3M452.9,245.3L447.5,239.1M447.5,239.1L443.1,246.5M443.1,246.5L444.9,250.2M442.5,255.5L447,259.4M442.5,255.5L444.9,250.2M453.9,255.7L450,250M456.4,245.3L452.9,245.3M447.4,238.1L447.5,239.1M436.1,237.7L435.4,238.4M435.4,238.4L435.3,245.2M435.3,245.2L443.1,246.5M421.9,281.1L417.4,282.9M424.2,292.7L414.9,291M417.4,282.9L414.9,291M412.7,273.2L410.4,278.1M417.4,282.9L410.4,278.1M401.5,275.4L407.5,279.7M395.7,285L399.7,286.6M399.7,286.6L406.3,283.6M406.3,283.6L407.5,279.7M403.5,267.1L410,268.7M410.4,278.1L407.5,279.7M395.1,248L391.4,252.3M395.1,248L388.9,243.5M391.4,252.3L384.5,251.3M388.9,243.5L385.2,245.3M385.2,245.3L383.9,250.3M384.5,251.3L383.9,250.3M384.1,258.3L384.5,251.3M393.3,259.6L391.4,252.3M380.1,240.5L385.2,245.3M390.4,238.6L388.9,243.5M374.9,250.6L383.9,250.3M417.6,264L421.2,258.8M413.2,263.6L410.8,258.4M421.2,258.8L417.2,255M417.2,255L410.8,258.4M403.3,261.3L410.2,258.2M410.8,258.4L410.2,258.2M398.6,241L407.3,238.7M398.6,241L397.5,247.5M407.3,238.7L407.6,248.6M397.5,247.5L401.5,250.5M401.5,250.5L406.8,249.4M406.8,249.4L407.6,248.6M395.5,237.3L398.6,241M407.7,238.1L407.3,238.7M407.7,238.1L407.7,237.8M395.1,248L397.5,247.5M399.7,258L401.5,250.5M410.2,258.2L406.8,249.4M438.5,256.3L437.5,265.7M438.5,256.3L435.7,254.8M435.7,254.8L427.4,260.8M437.5,265.7L428.2,263.4M428.2,263.4L427.4,260.8M439.2,268.2L437.5,265.7M442.5,255.5L438.5,256.3M435.3,245.2L432.8,248.2M432.8,248.2L435.7,254.8M425.1,258.9L426.8,248.2M425.1,258.9L427.4,260.8M426.8,248.2L432.8,248.2M426.4,267.7L428.2,263.4M421.2,258.8L425.1,258.9M384.7,204.7L387,201M393.7,211.4L393.7,204.6M393.7,204.6L387,201M374.4,201.4L376.4,193.5M376.4,193.5L386.7,193.8M387,201L386.7,193.8M397,180.3L387.2,182.9M387.2,182.9L387,193.5M400.4,184.1L398.2,193.5M398.2,193.5L387,193.5M363.3,200.5L363.2,193.4M350.5,195.1L353.5,192.1M363.2,193.4L353.5,192.1M364.8,136L374.7,136.6M364.8,136L363.6,125.2M373.3,124.2L364.2,124.6M363.6,125.2L364.2,124.6M364.2,124.6L364,117.5M465.8,160.1L477.3,159.1M465.8,160.1L467.6,170.7M477.3,159.1L476.5,171.1M467.6,170.7L476.5,171.1M464.8,159.3L465.8,160.1M467,148.8L477,150.4M477,150.4L477.3,159M465.6,172.1L467.6,170.7M488.1,170.5L488.1,160.4M476.7,171.4L476.5,171.1M488.1,160.4L477.3,159M454.3,123.8L467.2,125.9M465.7,117.5L467.3,125.8M455.2,136.5L465.9,133.9M467.2,125.9L465.9,133.9M465.9,147.6L468.6,137.1M468.6,137.1L465.9,133.9M477,150.4L479.7,147.5M468.6,137.1L477.4,138.1M479.7,147.5L477.4,138.1M522.7,171.4L524.6,160.5M533.9,171.1L530.4,161.1M524.6,160.5L530.4,161.1M536.4,158.1L534.7,157.9M537.7,144.6L531.6,149.5M531.6,149.5L534.7,157.9M534.7,157.9L530.4,161.1M437,406.5L431.1,401.8M440.2,394.6L438.4,394.1M438.4,394.1L431.1,401.8M444,382.7L437.6,383.4M437.6,383.4L437.2,392.7M438.4,394.1L437.2,392.7M426.6,407.8L430.9,401.8M489.8,353.5L486.2,358.8M477,353.5L479.8,359.5M479.8,359.5L486.2,358.8M497,362.4L489.5,365.4M486.2,358.8L489.5,365.4M489.1,372.4L487.9,369.3M487.9,369.3L489.5,365.4M409.2,377.2L411.8,375.5M411.5,387.8L418.2,387M418.2,387L420.3,381.6M420.3,381.6L414.2,375.8M411.8,375.5L414.2,375.8M409.8,361.2L411.7,363.7M411.8,375.5L411.7,363.7M446.6,376.2L442.1,374M441,365.6L439.7,367.2M442.1,374L439.7,367.2M535.1,423L532.8,418M543.7,416.2L543.6,415.1M543.6,415.1L536.4,413.4M536.4,413.4L532.8,418M526.3,427.1L532.8,425.7M527.4,417.6L532.8,418M545.7,412.7L543.6,415.1M533.6,405.2L536.4,413.4M583.4,169.4L583.7,177.5M592.7,168.6L590.9,179.2M583.7,177.5L590.9,179.2M594,181.2L591.6,180.3M590.9,179.2L591.6,180.3M578.5,197.3L578.8,198M578.5,197.3L582,188.1M578.8,198L584.3,200.4M589.3,192.5L585.4,188.5M589.3,192.5L588.5,199.4M588.5,199.4L584.3,200.4M582,188.1L585.4,188.5M571.5,192.7L568.6,193.5M571.5,192.7L578.5,197.3M574.6,202.4L578.8,198M582.3,207.7L576.9,208M582.3,207.7L584.3,200.4M597.3,189.6L589.3,192.5M591.6,180.3L585.4,188.5M589.5,200.1L598.8,200M589.5,200.1L588.5,199.4M589.5,200.1L591.3,209.5M600.8,204.7L597.7,209.5M591.3,209.5L597.7,209.5M606.5,216.1L600.6,216.1M597.7,209.5L600.6,216.1M596.9,222.5L596.3,221.2M596.3,221.2L600.6,216.1M250,158.9L261.4,159.9M250.9,149.3L260.3,148M260.3,148L262.2,159.1M261.4,159.9L262.2,159.1M259,170.9L261.8,168.6M261.4,159.9L261.8,168.6M270.9,181L271.6,170.1M261.8,168.6L271.6,170.1M249.7,124.3L259.1,123.6M259.1,123.6L259.5,117.6M272.1,147.2L281.8,146.9M272.1,147.2L272.7,136.2M281.8,146.9L284,137.1M272.7,136.2L284,137.1M293.3,138L285.3,136M283.3,148.5L281.8,146.9M285.3,136L284,137.1M397.7,172.1L386.8,170M387.2,182.9L386.9,182.6M386.8,170L385.6,171.3M386.9,182.6L385.6,171.3M430.1,227.3L426.8,230.7M435.4,238.4L427.5,236.4M427.5,236.4L426.8,230.7M420.8,219.5L418.5,228.3M426.8,230.7L418.5,228.3M414.6,229.2L417.1,229.3M418.5,228.3L417.1,229.3M398.8,201.7L399.1,194.4M398.8,201.7L402.5,205.8M399.1,194.4L409.9,195.6M402.5,205.8L410.7,203.5M410.7,203.5L409.9,195.6M393.7,204.6L398.8,201.7M398.2,193.5L399.1,194.4M386.7,193.8L387,193.5M401.5,209.5L402.5,205.8M410.7,194.7L409.9,195.6M411.5,204.3L410.7,203.5M317.1,148.1L318.3,147.2M328.7,156.7L329.1,148.6M318.3,147.2L328.8,148.3M329.1,148.6L328.8,148.3M306.6,138.1L318,135.6M318.3,147.2L318.1,135.8M328.8,148.3L329.6,138.2M318.1,135.8L329.6,138.2M342.1,161.3L351.5,160M351.5,160L352.7,170.9M342.9,171.9L352.4,171.2M352.7,170.9L352.4,171.2M341.1,182.6L351.4,182.8M352.4,171.2L351.4,182.8M353.5,192.1L352.4,183.6M351.4,182.8L352.4,183.6M478.6,116.8L477.1,124.1M479.2,126.3L477.1,124.1M479.2,126.3L488.9,127.2M490.1,117.3L490.6,125.7M488.9,127.2L490.6,125.7M467.3,125.8L477.1,124.1M477.4,138.1L478,137.4M478,137.4L479.2,126.3M489.1,136L478,137.4M489.1,136L488.9,127.2M501.8,125L500.2,127M501.8,125L501.6,116.9M500.2,127L490.6,125.7M489.1,136L489.6,136.6M479.7,147.5L488.2,148M489.6,136.6L488.2,148M428.7,390.5L427.3,398.6M428.7,390.5L428.2,389.8M428.2,389.8L421,390.1M421,390.1L418.9,398.7M427.3,398.6L419.6,399.2M418.9,398.7L419.6,399.2M437.2,392.7L428.7,390.5M430.9,401.8L427.3,398.6M437.6,383.4L435.2,381.8M435.2,381.8L428.9,386.3M428.9,386.3L428.2,389.8M428.9,386.3L424.2,380.2M418.2,387L421,390.1M420.3,381.6L424.2,380.2M409,398.5L418.9,398.7M421.1,408.3L419.6,399.2M479.4,360.4L481.8,368.1M479.4,360.4L471.8,364.3M472.4,367.5L477.8,370.7M472.4,367.5L471.8,364.3M477.8,370.7L481.8,368.1M479.8,359.5L479.4,360.4M487.9,369.3L481.8,368.1M467,360.4L471.8,364.3M477.5,377L477.8,370.7M469,371.4L472.4,367.5M425.6,298.5L421.2,302.5M414.9,291L414,291.5M421.2,302.5L413.7,299.1M413.7,299.1L414,291.5M406.3,283.6L410.8,290.5M414,291.5L410.8,290.5M399.7,286.6L401.8,296M410.8,290.5L401.8,296M395.3,298.2L401.3,297.1M401.8,296L401.3,297.1M428.1,321.7L423.4,316.9M432.9,309.2L424.9,311.2M423.4,316.9L424.9,311.2M421.2,302.5L420.8,307.1M424.9,311.2L420.8,307.1M394.8,309.7L400,311M401.3,297.1L407,304.2M400,311L407,304.2M413.7,299.1L407.5,304.3M420.8,307.1L413.1,310.5M413.1,310.5L407.5,304.3M407,304.2L407.5,304.3M414.2,375.8L420.7,371.6M411.7,363.7L419.9,366.1M419.9,366.1L420.7,371.6M420.7,356L425,362.6M419.9,366.1L425,362.6M430,352.7L428.9,363.1M425,362.6L428.9,363.1M438.6,358.3L429,363.2M434.2,378L425.9,377.2M434.2,378L434.9,376.6M434.9,376.6L432.6,368.3M425.9,377.2L425,373.8M425,373.8L430.8,367.3M432.6,368.3L430.8,367.3M435.2,381.8L434.2,378M424.2,380.2L425.9,377.2M442.1,374L434.9,376.6M439.7,367.2L432.6,368.3M420.7,371.6L425,373.8M429,363.2L430.8,367.3M576.3,178L580.7,179.3M576.3,178L570.8,181.3M580.7,179.3L581.6,187.7M570.8,181.3L574.5,187.4M574.5,187.4L581.6,187.7M575.6,171.9L576.3,178M583.7,177.5L580.7,179.3M569.7,181.2L570.8,181.3M582,188.1L581.6,187.7M571.5,192.7L574.5,187.4M586.6,213.1L580.4,218M586.6,213.1L587.6,213.1M587.6,213.1L593.1,220.7M580.4,218L583.7,226.6M593.1,220.7L585,227.3M585,227.3L583.7,226.6M578.3,217.5L580.4,218M582.3,207.7L586.6,213.1M591.3,209.5L587.6,213.1M596.3,221.2L593.1,220.7M575.3,229.3L583.7,226.6M587.5,232.7L585,227.3M272,157.8L283.2,158.4M271.9,157.9L272.5,169.3M283.2,158.4L283.2,169.4M283.2,169.4L272.5,169.3M271.8,147.5L272,157.8M271.8,147.5L262,146.5M262,146.5L260.3,148M262.2,159.1L271.9,157.9M271.8,147.5L272.1,147.2M283.4,158.2L283.2,158.4M271.6,170.1L272.5,169.3M284.2,170.3L283.2,169.4M296.8,125.8L294.6,124.1M305.8,124.8L306.4,124.3M306.4,124.3L305.9,117.1M295.2,116.8L294.6,124.1M284,125.3L285.3,136M284,125.3L284.3,124.8M294.6,124.1L284.3,124.8M260,124.5L270.2,124.2M260,124.5L260.1,135.6M260.2,135.8L271.5,134.5M271.5,134.5L272.9,127.4M270.2,124.2L272.9,127.4M250.4,136.4L260.1,135.6M259.1,123.6L260,124.5M262,146.5L260.2,135.8M272.7,136.2L271.5,134.5M284,125.3L272.9,127.4M270.2,124.2L271.3,117.7M284.3,124.8L282.7,116.9M423.5,240.1L419.2,239.3M423.5,240.1L426.3,247.9M426.3,247.9L417.3,250.5M416.8,240.6L415.2,248.4M416.8,240.6L419.2,239.3M417.3,250.5L415.2,248.4M427.5,236.4L423.5,240.1M417.1,229.3L419.2,239.3M426.8,248.2L426.3,247.9M417.2,255L417.3,250.5M407.7,238.1L416.8,240.6M407.6,248.6L415.2,248.4M339.5,159L341.4,148.9M329.1,148.6L340.7,148.3M341.4,148.9L340.7,148.3M351.5,160L352,159.2M352,159.2L352,149.2M352,149.2L351.7,149M341.4,148.9L351.7,149M329.6,138.2L331.3,136.7M340.7,148.3L339.8,137.2M331.3,136.7L339.8,137.2M318,135.6L318.2,126.7M331.3,136.7L330.2,126.4M318.2,126.7L330.2,126.4M306.4,124.3L317.2,125.1M318.2,126.7L317.2,125.1M317.2,125.1L319.1,117.1M364.8,136L364.1,136.9M376.1,138L375.2,148.1M364.1,136.9L363.5,146.2M363.5,146.2L374.4,148.7M375.2,148.1L374.4,148.7M387.7,146L384.5,149.6M375.2,148.1L384.5,149.6M396.2,158.4L386.4,159.6M384.5,149.6L386.4,159.6M386.8,170L386.2,159.8M376.4,193.5L375.7,192.9M363.2,193.4L363.7,192.9M375.7,192.9L363.7,192.9M386.9,182.6L376,181.4M385.6,171.3L376.5,172.4M376.5,172.4L376,181.4M375.7,192.9L374.6,182.8M376,181.4L374.6,182.8M363.7,192.9L364.4,181.5M374.6,182.8L364.4,181.5M352.4,183.6L363.8,180.8M363.8,180.8L364.4,181.5M524.6,160.5L522.5,158.4M531.6,149.5L524.2,149M522.5,158.4L524.2,149M530.3,137.2L523.3,138.3M523.3,138.3L522.8,147.1M524.2,149L522.8,147.1M521.8,136.7L511.8,136.2M521.8,136.7L522.9,124.7M511.8,136.2L512.2,125M522.9,124.7L512.4,124.8M523.4,124.2L522.9,124.7M523.3,138.3L521.8,136.7M511.8,117.4L512.4,124.8M501.8,125L512.2,125M400.6,321.8L402.5,317.1M400.6,321.8L407.1,329.5M402.5,317.1L412.7,316.2M407.1,329.5L414.7,322.2M414.7,322.2L415,319.2M415,319.2L412.7,316.2M394.5,323.3L400.6,321.8M400,311L402.5,317.1M407,332.1L407.1,329.5M413.1,310.5L412.7,316.2M421.6,328.7L414.7,322.2M423.4,316.9L415,319.2M340.1,137L341.5,125M340.1,137L350.7,137.3M351.4,136.5L350.7,137.3M351.4,136.5L351.4,125.2M341.5,125L350.9,124.8M351.4,125.2L350.9,124.8M351.7,149L350.7,137.3M339.8,137.2L340.1,137M352,149.2L361.7,147.8M364.1,136.9L351.4,136.5M363.5,146.2L361.7,147.8M363.6,125.2L351.4,125.2M351.3,117.5L350.9,124.8M340.9,124.5L331,125.4M340.9,124.5L339.9,117.1M331,125.4L329.5,117M330.2,126.4L331,125.4M341.5,125L340.9,124.5M375.4,171.4L363.3,172.3M375.4,171.4L374.9,160.9M363,171.9L363.3,172.3M363,171.9L364.5,161.1M364.5,161.1L365.3,160.3M365.3,160.3L372.6,159.2M374.9,160.9L372.6,159.2M376.5,172.4L375.4,171.4M363.8,180.8L363.3,172.3M386.2,159.8L374.9,160.9M352.7,170.9L363,171.9M352,159.2L364.5,161.1M361.7,147.8L365.3,160.3M374.4,148.7L372.6,159.2M512.8,169.9L511.7,160.4M522.5,158.4L511.9,160.1M511.7,160.4L511.9,160.1M498.7,170.3L500.2,161.1M511.7,160.4L500.2,161.1M522.8,147.1L510.3,148.8M511.9,160.1L510.3,148.8M499.5,148.1L509.5,148.1M499.5,148.1L498.8,137.6M509.5,148.1L511.1,136.7M511.1,136.7L501.6,134.5M501.6,134.5L498.8,137.6M511.8,136.2L511.1,136.7M510.3,148.8L509.5,148.1M500.2,127L501.6,134.5M489.6,136.6L498.8,137.6M488.7,148.4L499,148.5M488.7,148.4L488.5,160M499,148.5L498.9,159.7M488.5,160L498.9,159.7M488.2,148L488.7,148.4M499.5,148.1L499,148.5M488.1,160.4L488.5,160M500.2,161.1L498.9,159.7" stroke="#000" stroke-width="0.5" fill="none"/>
<path d="M218.6,128 246,128.6 249,132 252.4,137.6M266.6,116.4 264,121 262.4,127 257,129.6 254,133 253,137.6 251,141 250.6,146 252,153 255,160 260,166 265,172 268,178 270,185 273.6,189 279,188 282.4,192 281,198 278,203 277,209 279,215 284,220 290,226 295,231 298,236 299.4,243 300.4,249 302.4,253.6 304,255.6M303,254.5 305,255 306.5,257 306.5,261 305,264 303.5,267 301,268.5 299,269.5 296,270 295,272.5 297,273 295,275 294,277.5 292,280 290,282 291,285 290,288 289,291 287,294 285,296.5 283,299M284,298 281,304 279,309 277,315 274,319 272.4,321.6 269,325 265,329 263,334 260,338 258,342 255,346 251,350 248,354 247,360 244,365 243,370 245,376 244,382 243,386 244,392 243,398 246,404 247,410 244,416 240,420 236,425 234,428M248,408 247,412 244,417 240,422 235,427 232,433 230,438 229,443 227,448 226,454M226,454 279,456 277,462 277,468 280,474 281.6,479 282.4,484M303,254.5 305.5,253.5 308,249.5 311,247.5 314,248.5 317,250.5 320,252.5 323,253.5 325.5,252 326,249.5 324.5,247 324,244 326,242 330,241.5 334,240 335.5,238 334.5,234.5 337,232 337.5,229M337.5,225 339,222 339.5,218 340,214.5 342,212.5 344.5,210 347,207 349,204 351,200 352,196 352.5,192 352,188 351,184 350.5,180M350.8,180 354.4,116.4M337.5,225 340,226 342.5,224.5 345,225.5 348,226 350,223 351.5,224.5 354,225.5 356.5,226.5 359,228 361.5,229.5 363,228 365,226.5 368,225 370.5,224 372.5,225.5 374.5,228 376,227.5 377.5,225.5 379,223 380.5,220.5 382,218.5 384,218 385,220 386,223 389,224.5 392,225 394,223 395,220 397,217.5 400,215.5 402,213 404,210 406,207 407.5,204.5 408.5,201.5 411,200.5 414,200 417,199 420,198M415,200.5 418,199 421,197.5 423.5,196 423,193 422,190.5 423.5,188.5 425,187 427.5,187.5 430,188.5 433,188 435,190 437.5,192.5 439,195.5 441,197.5 444,198.5 447,199 449.5,201 451.5,203 455,202.5 458,201.5 461,202 463.5,203.5 466,202.5 469,201 471.5,199.5 474,199.5 475.5,201.5 476.5,204 479,206 481,208.5 482.5,211 485,210.5 488,210 490.5,209 491,206 492.5,204.5 494.5,202 495,199 495,195.5 496,192 498,189.5 500,190M424.2,165 424.2,187.2M424.4,116.4 424.4,166M482.5,211 483,214 482,217.5 483,221 485,224 486.5,227 488.5,229.5 491,232 494,235 497,238 499.5,240.5M492,201 493,197 495,193 496,190 500,191 503,191.5 504,188 504.5,184 506,182 509,181 510,178 512.5,176.5 515,177.5 518,176 521,173.5 524,170.5 527,168 528.5,164 529.5,160 530.5,156 531.5,151 532.5,146 533,142 534,138.5 533,136 534,134.5 535.2,135M535,116 535.5,135 536.5,165.2M536.5,165.2 555,164.2 600,161.6 640,159.5 657,158.5 660.5,158.2M564,164.5 564,181M564,181 567,178.5 570,175.5 573,172 576,170 578.5,167.5 581,166.5 583.5,168 586,169 589.5,168.5 592,167 594.5,165 597,163.5 599.5,164 601.5,166.5 603,169 606,167 608,169 609.5,172 609.5,175 611,176 614,175.5 616,177 617.5,180 619,182.5 622,183.5 625,185 627,186.5 629.5,186 631,188 630.5,191 629,194 627,196 625,198 624,201 623.5,204.5 625,206 627,204 629,202.5 631,204 633,206 635,207.5 637,209 640,210M608,180 593.5,171.5 593,175 592.5,179 590.5,183 589,186 586,188.5 583,191 580.5,193.5 579,193 576.5,195.5 575,199.5 574,203.5 571.5,207 568.5,208.5 565.5,207 562.5,202.5 560.5,206 558,210 555,214M579,193 581.2,195.5 583.5,199M555,214 550,224 546,232 542,236 536,240M498.8,241.5 501.2,245.6 504.1,248.5 508.2,250.3 512.4,249.7 515.9,247.4 517,250.3 520,249.1 524.1,247.4 528.2,245.6 531.8,243.2 536,240M499,241 492,246 484,251 476,257 468,263 460,268 454,271.6M218.4,267 280,271 280,276 276,282 272,287.6 289.5,288M296.5,272.9 335,273 335.5,268.3 380,269.8 437,270.8 530,271.6 600,269.8 664,265.6M272.4,321.6 330,323.8 380,326 437,326.4 469,326M330,323.8 326.5,355 322.3,395 320.2,420 318,478.5M401,326.4 406,358 411,388 415,408 418,414 416,419 413,425 412.4,432 413,440 414,448 415,456 416.5,460 417.5,464 419.5,468 421,470.4M415.5,460.5 380,460.6 341,459.8 340.3,463 342.6,466.8 345.6,470.3 346.8,475 346.2,478.5 343.8,481 342,482.6M419.7,469.7 435,471 500,475 498,477 498.4,482 502,481 502.4,474 502,468 506,466.4 512,467.6 519.5,468M469,326 476,322.4 484,320.4 496,319.6 512,320 526,320.4 528,323 532,326 534,330 564,330.4 568,333 580.6,345 597,360.3M469,326 464,335 469,340 476,344 480,351 484,358 488,364 493,368 498,373 503,378 508,386 510,389.5 513,390.3 515.3,392.6 516.5,396.8 518.2,400.3 519.4,403.8 521.8,406.2 524,408.5 525.9,411.5 527,415.6 526.5,419 528.8,421.5 531.8,423.2 534,422.6M508,272 509,278 504,282 500,286 496,288 492,290 488,293 482,294 478,297 474,300 468,303 462,305 456,306 450,308 446,311 444,316 438,318 437,326M610,358.5 604,359 599.4,359.7 597,360.3 593.5,362.6 590,365.6 587,369 584.7,372.6 583,376 581.8,379.7 580.6,382.6 578.8,385.6 577,388 575.3,390.3 571.8,391.5 570,393.8 567.6,395.6 564,397.4 561.8,398.5 560.6,401.5 558.8,403.2 555.9,405 552.4,406.8 550,408.5 546.5,409 543,409 540.6,409.5 545.3,413 544,415.6 540.6,416.8 538.2,415.6 539.4,418.5 537.6,421.5 535.3,422.6 533.5,425 531.2,427.4 531.8,429.7 529.4,431.5 527.6,432.6 526.5,435.6 525.9,438.5 524.7,441.5 524,445M524,445 522,447 519.6,455 519,462 519.6,470 520.4,476 521,480M520.7,480 521.8,486.4 523.9,494.8 526.5,503.3 529.7,510.7 533.4,518.1 537.1,524.5 540.8,530.8 544,536.1 547.2,541.4 548.8,545.7 546.1,547.8 545.6,553.1 547.2,558.4 549.9,563.7 552.5,569 553.6,571M538.2,533.5 539.8,539.3 541.9,544.6 544,549.9 545.1,554.2M538.2,533.5 541,535 545,540.4 545.6,545.7M335,483.8 338.5,483.2 342,482.6 346.8,481.5 352.6,480.3 358.5,479.7 364.4,479.7 370.3,479.1 375,479.7 379.7,481.5 384.4,483.2 389.1,485.6 393.8,488 397.4,490.3 400.9,493.8 403.8,496.8 405.6,499.7 404.4,503.2 406.2,505.6 410.3,505.6 415,506.8 417.4,507.4 422,504.4 425.6,502 428,499.7 431.5,497.4 435,495.6M435,496 436,493 440,491.6 446,492 451,495 455,499 459,503 462,508 466,512 470,517 475,522 479,525 483,530 485,536 484,542 483,548 482,554 481,562 480,568 481.6,570.4M483,561 488,562 491,564 492,568 490,569 488,566 485,565 483,561M290,479 298,478.4 304,477.6 310,479 318,481.6 326,483.6 326.6,477 328,471 330,469 331.6,472 332.4,478 335,483.6M279.1,455 278.5,459.7 276.8,464.4 277.4,469.1 279.7,473.8 280.9,478.5 282.1,483.2 283.2,486.2 286.8,483.2 290.3,480.3 295,479.1 299.7,477.9 304.4,477.4 309.1,478.5 315,480.3M259.1,484.4 257.9,481.5 260.3,478.5 263.8,476.8 267.4,476.8 270.3,478.5 272.6,481.5 275.6,482.6 277.4,484.4 275.6,486.2 272.6,486.2 270.3,487.9 266.8,488.5 262.6,487.9 260.3,486.8 259.1,484.4M253.8,481.5 254.4,479.1 256.2,477.9 257.9,479.1 257.9,481.5 256.2,483.2 254.4,482.6 253.8,481.5M295.6,483.8 299.1,483.9M300.9,483.4 304.6,483.4M307.9,483.2 311.7,482.8M303.2,490.3 304.4,493.8 303.8,497.9 302.1,500.9 300.3,502.6M337.5,229 337.5,225" stroke="#000" stroke-width="1.4" fill="none"/>
<path d="M218.8,496.2 219.9,495.2 221.8,496 222.3,497.4 222.8,499.1 224.1,499.6 225.1,502.2 226.6,501.4 228.3,503.4 229.3,504 230.8,504.9 231.8,506.8 232.4,508.7 232,509.9 231.1,511.2 232.4,512.8 234,513.3 235.2,513.4 237.1,514.7 238.1,515 239.7,516.1 240.8,518.2 242.2,520.2 243.8,520.4 245.7,518.9 247.4,518.6 248.6,519 249.7,517.7 250.5,515.7 250.9,514.9 251.8,512.7 253.8,512.7 255.2,514.2 257,511.6 258.1,512.9 259.3,515.5 260.3,515.6 261,517.1 261.7,518.7 264.2,519.1 265.2,517.8 266.4,518 267.3,514.4 266.7,513.5 265.8,513.3 266.6,511.3 267,509.2 268.9,507.1 270.7,507.7 272.5,507.5 273.1,509.7 274,511 273.1,513.3 272.4,513.8 273.3,513.7 275.1,512.6 276.6,512.9 278.1,513.3 279.5,514.4 280.5,515.6 281.9,516.3 283.2,516.5 284.7,517.1 285.9,518.8 285.9,519.9 287.2,522.2 288.6,521.9 287.6,523.1 287.1,525.1 285.6,525.9 287.4,524.3 289.2,523.1 290,522 292.2,522.8 295.1,521.5 296,521 296.8,519 295.5,517.8 294.3,517.2 292.2,516.8 290.8,514.2 289.9,514 288,512.1 287,511.3 285.4,510.1 283.9,510.1 282.4,509.3 280.8,506.7 280.1,505.7 278.8,505 277.8,503.9 276.6,502.6 279.4,502.2 280.6,500.6 282.3,500.5 283.7,500.4 285.9,500.1 287.4,498.3 288.4,498.3 289.6,496.5 290.8,495.3 291.9,494.5 292.5,492.7 292.9,491.3 293.4,489.5 291.7,488.3 290.1,487.3 288.8,488.3 287.6,488.8 285.5,490.3 284.6,491.5 283.9,492.1 281.7,493.4 279.4,491.9 277.5,492.3 276.3,490.7 277.2,488.4 278.6,487.7 279.7,487.7 280.8,487.2 282.9,488.6 283.2,486.2M664.4,264.8 664.7,267.1 666.2,267.9 667.3,269.2 667.5,271.1 668.7,272.9 669.3,274.8 670.2,275.3 670.5,276.6 670.8,279.4 671.1,280.2 671.8,282.7 671.9,283.4 672.3,285.7 671.7,285.9 671.8,287.5 672.1,289.3 672,291.6 671.7,293.1 671.5,294.7 671.5,296.2 670.4,296.5 669,297.5M642.4,273.3 642.6,276.1 643.8,277.1 643.3,279.5 643.4,281.6 644,282.5 644.4,284.3 646.3,283.9 647.8,283.5 648.7,282.3 650.1,281.2 651.1,279.9 652.5,280.2 653.8,278.8 655.7,278.2 656.8,277.9 657.7,277.1 659.4,276.6 660.6,275.9 661.7,275.6 663.2,274.6 665,274M645.8,286.7 647.2,286 648.6,284.2 650,285 651.9,285 654.1,284.3 656.2,284.4 658.2,283.3 659.9,284.3 662.2,284.4 662.8,285.4 663.3,287.4 663.1,289.4 662.7,291.1 663.5,292.3 664,295.4 665.8,293.8 666.9,294.1 667.6,292 668.1,291.3 669.4,290.3 669.7,288.4 670.3,285.8 668.4,284.6 666.2,285.5 664.9,286.2 663.5,287M636.1,302.1 637.8,303.5 639.2,303.4 640.4,304.5 641.7,304.1 642.8,305.7 644.1,304 646,304 646.8,303.5 648.2,302.2 649.4,301.1 650.4,301.9 651.8,302 651.1,302.9 649.9,305.5 652.1,306.2 653.8,306.2 655.6,304.9 657.4,305.3 658.6,304.4 660.5,306.4 661.8,306.2 664,304.8 665.3,303.4 666.1,301.5 666.9,301 667.8,299.6 669,298M638,303.6 639.1,303.6 640.4,304.1 642.3,304.9 643.4,305.8 645,305.8 645.7,306.9 647.6,307.3 650.2,307.2 651.1,309.3 651.7,310.5 650.6,312.1 649.7,313.6 649.3,313.6 647.6,314.3 646.7,314.4 645.8,312.4 647.8,312.2 649,311M636.1,315.6 637.1,316.8 638.8,318.5 639.7,318.6 640.7,319.4 642.7,321.1 643.9,320.8 645.3,320.5 646.7,319.5 648.2,318.8 650.1,317.4 651.4,316.7 653.3,317.1 654.6,317.6 656.3,319.6 658.3,321.1 657.4,322.8 657,324 655.6,324.9 655.2,327.8 654.2,328.9 653.2,329.4 652.1,331.8 651.3,331.3 650,330.1 648.2,328.6 647.1,327.7 645.4,326.8 643.9,327.7 642.7,328.3 641.2,329.3 639.7,329 637.9,329.8 635.9,329.4 634,328M672.6,311.8 671.7,311.2 670.2,313.2 669,313.8 668.1,313.8 666.4,315.8 665,316.2 664.1,318.3 663,318.3 662.1,319.3 661.1,320.3 659.9,322.5 658.7,323.9 657.7,325.2 656.7,325.9 656.2,327.6 655.3,328.3 654.1,329.6 653.7,330.4 652.5,332M652.4,332.3 650.5,331.8 649.1,329.7 647.5,329.8 645.3,329.8 643.8,328.9 641.8,329.8 639.9,329.2 638.1,329.5 636,330.2 634.7,331.8 633.9,333 632.7,333.5 630.8,335.1 630.3,336.2 628.7,336.5 627.5,338.4 625.7,339.3 624.2,341.2 623.1,342.7 621.8,342.9 620.6,344.2 619.8,345.3 619.1,346.5 617.9,347.6 617.1,349.7 616.3,351.5 615.2,352.3 614.7,355.3 613.8,356.1 612.2,357.8 610,358.5M627.2,329.7 627.7,331.6 628.7,333 630,335.5 629.8,333.2 629,330.9 627.5,330M633,216.1 633.8,218 635.1,218.6 636.2,220.3 637.3,221 637.6,222.3 639,223.2 639.7,224 641.2,226 642.3,227.1 643,228.8 644.7,229.6 645.6,229.5 646.9,231.3 649,231.1 651,232 651.2,233.1 652.2,235.3 651,236 651,237.8 649.8,239.1 651.3,241.2 652.2,242.6 652.5,243.4 652.8,244.4 653.9,245.4 653.8,248.2 654.1,249.8 653,249.7 651.7,252.3 650.4,253.1 649,254.5 650.5,254.8 651.8,254.4 654,254.5 656.3,252.9 657.8,254 659.1,253.1 660.8,252.8 661.4,254.5 662.1,255.1 662.6,256.7 662.7,258.7 663.9,261.1 664.2,261.8 664.3,263.6 665.6,265.1 665.9,266.6 666.6,267.9 667.3,270.2 667.7,272.1 667.9,273 668.4,273.9 668.8,275.5 669.8,278.1 670.4,279 670.6,281 670.7,282.8 671.3,282.8 671.6,285.7 672.1,286.4 671.6,287.9 672.2,289.6 672.5,291M637.6,234.6 638.8,234.9 640,236.8 641.4,237.7 642.3,238.5 643.6,239.7 645.3,240.3 646.1,242.2 647.2,242.6 647.7,243.9 649.4,245.6 650.3,246.7 651.2,247 652,248M633,242.9 635.1,243.5 637.3,243.7 638.5,244.1 640,244.2 641.6,244.3 642.7,246.7 644.2,247.5 644.7,248.1 646.1,248.7 646.7,250 648.1,250.4 648.7,252.5 650,253.5M672.2,214.7 671.6,216.4 670.1,217.4 669.3,218.5 669,220.2 668.3,221.7 666.9,223.2 666.9,224.8 666,225.1 664.7,226.8 664.4,228.3 663,230.1 662.8,232.1 662.2,234.5 661.5,234.7 661.3,236.6 660.6,239.3 660.3,240.6 660.3,241.3 661.5,242.9 661.9,244.3 664.2,246.3 665.4,244.2 666.2,243.2 666.2,240.8 666.9,238.8 667.6,237.4 667.5,235.3 667.9,233.5 668.1,232.6 668.8,230.2 669.7,229 670.2,227.6 670.8,225.4 671.3,224.3 671.2,222.2 672,220M641.6,275.7 643.3,275.8 643.8,277.5 643.8,279.8 642.9,281 644.2,282 645.1,284.5 646.2,284 648.4,282.3 649.4,282 651.1,280.4 652.9,280.6 654.6,278.6 656,277.9 658.3,278.2 659.2,277.1 661.1,275 662.4,274.2 664,274M659.7,263.2 660.7,263.9 661.2,265.8 662.8,266.3 663.4,268.5 664.2,269 664.4,271 665.4,271.2 666,273.6 666.8,275.2 667.2,276.4 667.8,278 668.3,279.9 669.4,281.7 669.1,283.2 669.8,284.6 670.6,285 671,287M644.8,283.3 646.3,285.2 647.9,285.4 649.3,285.5 651,285.8 652.3,286.5 653.6,286.3 655.3,285.4 657.6,284.6 659,284.7 660.3,285.8 661.9,285.3 664.4,284.8 665.1,287 666.1,289.6 665.5,290.5 665.3,292.8 665.1,293.5 666.1,294.4 667.5,296.2 668.8,296.5 669.7,297.2 671.2,295.8 672,294M660.7,158.5 661.1,155.6 662.4,155.3 664,153.9 665.6,154 667.1,152.6 668.8,153 669.9,152.7 672.5,154M660.3,158.7 660.7,159.5 661,161.5 661.1,163 661.1,165.5 661.2,165.9 661.5,167.6 661.2,170 661.4,170.7 661.4,173.1 662,173.8 662,175.5 662.1,177.4 662.3,178 662.6,179.8 662.4,180.9 663.1,182.3 663.4,184.9 663.4,186.5 663.3,187.3 663.7,189.4 663.5,190.5 663.7,192.4 664,194.1 664.5,194.8 664.5,196.3 665.3,198.2 665.2,198.9 665.3,201.1 667.1,201 668.3,200.9 669.9,201.2 671.1,200.3 672.5,200.5M672.7,153.7 670.8,153.7 668.8,154.6 667.9,156.8 666.9,158.3 666.3,159 666.3,161.1 665.6,163.5 666.6,163.8 667.3,165.2 667.7,166.2 669,167.2 670,169.1 671.1,169.8 672.5,171.5M656.2,164.1 654.4,164.4 653.1,166.7 652.3,166.5 651.1,167.7 649.2,168.4 647.3,170.6 646.4,171.8 645.2,172.7 643.3,172.6 641.6,174.1 641.3,174.7 640.1,176.6 641.2,177.3 642,178.2 642.3,180.2 642.4,181.1 641.4,183 641.8,185 642.4,185.8 642.3,189 642.2,189.7 642.3,191.9 642.5,193.9 643.1,196.7 643.5,197.4 644.2,200.2 644.5,201.7 644.8,204 645.8,206 646.5,206.5 647.1,209 647.6,209.3 649.1,211.6 649.7,212.2 650.7,214.6 651,215.5 651.5,216.2 652.3,218 651.4,219.9 651.1,221.2 650.9,224.7 651.7,225.8 650.7,227.9 650.5,228.1 650.3,229.4 650.5,231.9 651,234M655.9,163.5 657,165.6 657.8,166.4 656,168.2 654.6,168.8 652.9,169.9 652.1,169.4 650.9,172.2 649.7,172.6 649.7,174.3 649.2,176.5 650.2,177.7 650.9,178.9 652,180.5 651.6,181.5 651.4,183.2 649.9,186.4 650.2,187.7 650.8,188.7 649.6,190.2 649,191.8 649.4,193.9 650.3,195.5 652.3,195.6 654,196.2 655.8,195.1 657.7,196.3 657,198.7 655.9,198.5 653.8,197.3 652.4,198.5 651.6,199.2 651.9,200.5 652.2,202.2 653.2,202.8 654.8,204.5 656.2,204.8 657.2,205.4 660.2,205.5 660.7,207.3 659.7,207.8 659.1,209.1 658.1,210.3 659.4,212.5 659.8,213.2 659.5,215 659.2,216.6 657.8,218.8 659.8,217.8 660.9,217.7 661.7,216.5 663.4,216.2 664.2,214.4 666.3,214.6 667.8,214.7 669.5,213.6 671.3,212.9 672.5,213M623.9,199.3 624,200.9 623.5,201.8 623.3,204.4 624.2,206.3 626.1,206.4 627.6,204.4 628.1,202.6 629.8,204.1 631.2,204.2 632.4,205.7 632.7,206.8 633.8,207.6 635.4,207.7 637.1,208.9 638.2,209 640.1,209.5 641.8,210.6 643,212.2 644.7,211.6 645.8,212.9 647.4,213.2 648.5,214M630.2,205.9 630.6,206.8 631.8,207.6 633.3,208.7 634.1,209.8 635.1,211.3 636.2,212.2 637.2,213.3 637.6,214.4 638.7,215.1 639.6,215.9 640.8,216.6 642.1,217.3 643.1,219.5 643.6,219.6 644.7,220.9 645.7,222 646.6,223.7 648,223.9 649.4,224.6 650,226M633,213.3 634.1,215.7 635,217.3 636.1,217.1 637,219 638.2,219.9 639.2,221 640.3,222.8 640.8,224 642,225.2 643.2,226.7 644,227.9 645,229.7 645.7,230.4 646.6,231.4 648,233M639.6,176.4 641.3,174.4 644.3,175.7 643.1,177.6 644.2,179.8 642.8,181.2 643.9,182.7 643.1,185.1 644.3,187.5 643.2,188.7 644.2,191.6 644,193.4 643.8,194.7 645,196.7 644.8,198.4 644.1,199.6 645.3,200.8 646.5,202.4 646.2,204.8 646.9,206.5 647.7,207.7 648.7,209.1 649.5,210M650.4,173 651.6,174.8 650.7,175.8 652.3,179 653.1,180.5 652.5,182.9 650.6,183.8 651.2,187.5 650.2,188.8 651.1,190.8 650.2,192.9 651.3,194.3 653.2,194.3 655.8,194.9 657.3,195.6 658.2,196.9 656.9,198 656.3,198.3 654.7,198.1 652.9,198 652.2,199.2 653,202.4 654.3,202.8 655.4,204.3 657.6,204.4 660.6,204.6 661.5,206.7 660.1,208.5 658.9,209.7 659.6,211.7 660.6,212.2 659.9,213.7 660.3,215.7 659,218M656.4,204.7 657.1,206 657.7,207.2 657.2,210 656.2,211.7 657.8,212.1 658.3,214.8 658,216.2 657.2,217 658.7,217.4 660.1,219.4 660.7,217.4 662.1,215.7 663.1,215.3 664,214M652.3,166 654.3,166.8 655.5,165.9 656.6,165.5 658.4,163.1 656.6,162.7 654.5,164.5M623.2,200.3 625.1,197.9 627,196.6 627.6,195.4 629.1,194.4 629.7,192 629.5,191M622.6,203.4 623.4,204.7 624.3,205.7 626.9,205.4 629.2,203.6 630.8,204.7 632.6,206.9 633.4,207.2 635.1,208.1 635.9,209.2 637.6,209.3 639.1,211.1 641.2,211.6 642.4,211.4 643.9,213.8 645.3,213.4 647.1,215.6 647.7,216.3 649.6,218.3 650.8,219.3 650.7,221.8 651.5,222.3 650.8,225.4 650.4,226.6 650.9,229.1 651.5,231M631,209.6 632.5,210.6 633.2,212.1 634.3,212.7 635.5,214.2 636.2,214 637.7,214.7 638.8,216 639.9,218.2 640.7,218.6 642.3,220.7 643.5,220.9 644.5,221.9 645.5,223.7 646.6,224 647.4,225.9 648.8,227.2 649.5,229M633.7,216.4 634.8,217 636.1,219.2 637.5,219.3 638.5,221.8 638.9,222.4 640.3,224.1 641.3,225.3 641.6,225.3 643.1,227.6 644.2,229.7 644.7,230.6 645.9,231.5 646.5,232.5M282.5,485.8 284.5,487.1 285.5,487.8 287.5,488.3 288.8,488.4 290.6,488.1 291.4,488.5 293.1,488.9 292.6,491.1 292.4,493.1 291.4,494.9 290.5,496 289.6,497.5 288.8,498.1 286.7,498.5 285.2,500.1 284.1,500.5 281.9,500.3 280.6,501.2 279.2,501.2 278.1,502.6 276.8,503.2M276.5,491.4 278.3,490 281,491.4 282.3,490.1 283.9,491 285.6,490.2 287.1,490.1 288.6,490.1 290.6,489.9 292.2,491.4 290,493.3 288.7,493.7 287.1,493.3 286.2,494 284.9,496 282.3,497.5 281.6,497 280.5,499.2 278.5,500.3M280.8,493.7 282.4,494 283.5,494.7 285.7,493.3 286.6,492.6 289,494.3 287.9,496.7 286.7,497.5 285,497.9M276.6,503.2 278,504.5 278.7,505.7 280.1,507.1 281.9,508.4 282.7,508.9 284.2,509.8 285.7,511.6 287.5,512.3 288.8,513.9 290.6,514.7 291.8,515.2 293.3,515.9 295,517.4 296.3,518.7 297.1,520.1 296,521.8 293.3,522.7 290.5,521.7 289.1,523.9 286.8,523.8 285.6,525.8M267,509.7 268.3,508 271,507.1 273.1,509.2 273.4,510.8 273.5,511.8 272.6,513.5 270.3,514.4M230.9,506 231.5,507.1 233,508.9 232.1,510.2 231.5,510.8 232.5,512.1 233.5,513.4 236.1,512.2 235.2,511.9 234.2,510.5 232.6,508.5" stroke="#000" stroke-width="1.75" fill="none"/>
<path d="M481,116.6 486,119 490,120.5 495,121 500,122 505,123 510,123.5 515,124.5 520,124.5 525,125 530,125.5 535,126 538,127.3 540,126.6 542.5,128.2 545,127.2 547.5,128.6 550,127.3 552.5,128.6 555,127.4 557.5,128.8 560,127.5 562.5,128.8 565,127.6 567.5,129.2 570,128.2 572.5,129.5 575,128.4 578,129.5 580,128.6 582,130 584,132.5 586,134 588,131.5 590,130 592,131.5 594,130 597,130.5 600,129.2 603,129.8 606,129 612,128.6 618,128 624,127.8 630,127.6 636,127.2 642,127 648,126.4 654,126 660,125 664,124 668,123 672.5,122.3M583,130 585.5,133.5 588.5,135.5 591,133 593.5,134.5 596,132M281,116.5 285.5,118.6 289.9,121 295,124.1 300,127.1 305,130.1 310,133 314,135.4 318,137.7 322,139.9 326,142.4 330.1,144.6 333.9,147.1 338,149 341.9,150.9 346,152.9 350.1,154.8 354,156.6 358,158.9 362.1,161 366,163.1 370,165.1 374.9,167 380,168.9 385,170.9 390.1,173 394.9,175 400,176.9 405,179.1 410,181.6 415,182.9 419,181.9 422,180.6 425,181.4 428,183.5 430.9,184.6 434.9,184.5 439,185.5 442.9,186.6 447.1,187.5 449.5,188.3 451.7,189 455.7,188.4 458.7,187 463,189.4 466.8,187.7 471.1,188 475,189.4 479.3,190 483.2,190.2 486.8,189 490.9,189.4 494.8,188.9 497.6,189 500,189 502.2,188.9 505.1,188.9 507.4,189.6 510,189.8 514.2,188.7 517.8,190.6 520.5,191.7 523.1,191.7 525.8,192 528,193.3 530.3,192.7 532.7,192.7 535.7,192.8 538.2,192.8 542.1,193.6 543.5,195.9 544.4,200.5 545,204.2 545.7,208.2 546.6,212.6 548.2,214.2 549.9,212.2 551.7,214 554.8,210.5 557.7,209.8 559.8,211.7 563.9,211.4 567.7,212.4 571.5,212.5 574.2,208.4 576.9,204.4 580.9,202.5 585.3,200.1 588.8,197.7 592.3,197 594.6,198.7 593.2,202.9 594.9,204.6 598.3,202.2 600,199.1 602.1,195.5 605.2,194.3 609.2,192.4 612.9,189.9 616.8,190.2 620.7,190 624.8,190.4 627.4,190.1 629.7,190.1 632.3,190.6 634.7,191.4 637.6,190.5 639.9,190.6 642.4,190.4 645.2,191.5 647.5,190.9 649.8,190.5 652.4,190.9 655.2,190.9 657.2,192 660,191.2 662.5,191.1 665,192.3 667.7,192.1 669.9,191.8 672.5,192M544,198 546,203 544.5,207 547,211 545.5,215 548.5,213M593,198 595.5,202 594,206 597,203M218.7,253.4 221.5,253.2 224.2,252.7 226.6,251.4 230.4,251.2 232.8,249.6 235,249.1 237.5,249 239.6,247.7 242.3,248.6 245.2,247.1 247.7,246.7 250.1,246.4 252.1,247.3 254.8,245.9 257.9,246.9 259.8,246.9 262.5,246.4 264.8,246.7 267.7,246.8 270.3,245.9 272.4,245.6 274.7,245.3 277.3,246.7 279.6,247.3 282.9,246.4 286.3,246.5 288.9,246.2 292.2,245.3 295.4,245.5 298.2,247.1 300.6,247.1 303.9,246.9 306.6,245.9 309.7,247.2 312.3,247.2 315.3,247.7 317.9,248.3 322,249.9 325.7,250.9 330.2,252.1 330.6,255.7 330.2,258.7 333.1,261.2 335.4,261.7 338,261.2 340.9,261.7 343.7,262.4 347.2,264 349.7,262.8 353.4,264.1 355.9,264.1 360.1,266.5 362.5,266.1 364.6,267.2 367.1,266.5 370.3,265.9 372.7,267.3 375.1,267.2 377.2,266.8 379.7,267.6 382.3,266.8 385.4,267.3 387.9,266.6 390,266.9 392.5,266.5 394.9,266.7 397.4,268.4 400.4,268.2 402.5,268.1 404.7,268.4 407.7,269.7 409.9,270 413.2,271.1 416.1,272.4 419.9,273.3 422.5,272.8 425.5,272.9 427.8,273.1 431.1,272 433.6,271.5 436.8,271.7 440,271.9 443.1,271.7 445.9,271.2 449.2,271.9 451.9,272.3 456.3,273.8 460.4,275.2 464,274.3 466.7,274.3 470.3,273.2 473.2,273.4 476.2,272.3 479.2,273.1 482.1,273.1 484.6,274.3 487.1,274.9 490.1,275.8 492,278.3 493.3,280.1 495.3,282.6 494.7,286.4 493.7,288.6 493.4,291 493,293.1 493,296 492.8,298.7 492.2,301.6 492.6,302.4 493.7,299.9 494.4,297.9 495.5,294.3 496.6,292 498.8,292.9 501.3,295.7 503.2,293.1 505,291.7 508.1,288.4 511.9,288.6 516.4,288.3 518.8,287.5 521.6,287.1 523.7,288.1 526.8,287.8 529.4,289.3 531.9,288.9 534.4,288.7 537.7,288.8 540.4,289.7 542.7,288.9 545.7,289.7 547.9,289.7 551.1,289.3 553.2,288.6 555.7,288.2 558.6,287 561.6,287.2 563.6,286.1 566.8,286.2 570.2,284.6 572.8,285.7 576.4,287.3 579.1,287 582.1,286.6 584.9,286.5 587.5,287.5 590,288.2 592.3,288.8 595,288.8 597.7,288.9 599.6,288.1 602.5,288.2 605.3,286.6 607.1,286.6 609.9,285.9 612.7,286.2 615,286.9 617.4,286.7 620.3,287 622.3,289.3 624.7,290.5 627.7,291.1 629.8,292.9 632.8,293.2 635,295.1 637.5,296 639.7,297.6 642.7,297.8 644.8,300 647.7,300 649.6,300.4 652.9,300.3 655.2,298.3 657.8,298.3 660.1,299.2 662.7,297.6 664.8,298.5 667.2,297.7 669.9,296.7 672.5,297M218.5,380.7 223.9,381.1 226.9,381.8 230.2,382.8 234,383.7 238,384.4 242.9,384.2 246.4,383 249.8,382.2 253.3,382.5 256.6,381.9 259.9,382.3 263.8,382.3 268,382.5 270.9,383.8 274,385.1 278.1,387.1 280.9,382.7 284.2,382.8 286.9,382.9 290,382.6 293.5,382.4 296.6,383.1 299.9,383.2 303.2,383.6 306.7,384.2 310.1,384.4 313.2,383.9 316.7,383.9 319.8,383.9 323.3,383.5 326.6,383 329.8,382.9 333.3,383.1 336.6,383.6 340.1,383.4 344,384.6 348.1,386.3 351.9,386.7 355.9,386.7 360.1,388.1 363.9,389.5 367.9,390.7 372,391.9 376,393.4 379.9,394.7 383.9,396.3 388,397.7 391,398.6 394.2,399.2 396.8,400 400,401.1 403.4,400.6 406.8,400 410.1,399.8 413.5,400.2 416.8,401.2 420.2,401.7 423.2,401.7 426.6,400.9 430,401 433.3,400.6 436.5,400.7 440,400.1 443.3,401 446.7,401.2 450,401.5 453.2,401.7 456.6,401.9 460.1,402.5 464,401.7 468,401.6 471.9,402.6 476.1,403 480.1,403.8 483.9,405 488.1,406.1 491.8,407.1 496.1,407.9 500.1,408.7 503.9,409.1 508,410.3 512,410.8 516.1,411 519.4,411.5 522.8,411.3 526.1,411.4 529.3,412.2 532.8,412 535.9,412.5 539.5,412.7 542.8,413 546.1,413.1 549.3,413.3 552.7,413.7 556.1,413.8 559.2,414.4 562.6,414.3 565.9,414.8 569.3,414.9 572.8,415.5 575.9,416.3 579.3,416.7 582.8,417.8 586.1,418.2 589.4,419.3 592.8,420 596.1,421.2 599.3,422 602.8,423.1 606.1,423.8 609.2,424.5 612.7,424.9 616,426.3 619.5,427.1 622.5,427.7 626.1,428.5 629.3,428.7 632.8,430 636.1,430.3 639.4,431.3 642.7,431.8 645.9,432.3 649.3,433.1 652.7,433.9 656.1,434.9 659.2,435.3 662.6,435.9 666.1,436.1 671.3,436.9 672,433" stroke="#00008b" stroke-width="1.7" fill="none"/>
<path d="M263,245.2a0.6,0.6 0 1,0 1.2,0a0.6,0.6 0 1,0 -1.2,0ZM263.5,241.2a0.9,0.9 0 1,0 1.8,0a0.9,0.9 0 1,0 -1.8,0ZM260.2,243.5a1.1,1.1 0 1,0 2.2,0a1.1,1.1 0 1,0 -2.2,0ZM274.7,238a0.8,0.8 0 1,0 1.7,0a0.8,0.8 0 1,0 -1.7,0ZM258.3,239.9a0.8,0.8 0 1,0 1.7,0a0.8,0.8 0 1,0 -1.7,0ZM249.8,239.5a0.5,0.5 0 1,0 1,0a0.5,0.5 0 1,0 -1,0ZM273.6,238.1a0.8,0.8 0 1,0 1.6,0a0.8,0.8 0 1,0 -1.6,0ZM275.7,239.4a0.9,0.9 0 1,0 1.8,0a0.9,0.9 0 1,0 -1.8,0ZM266.9,239.9a0.5,0.5 0 1,0 1,0a0.5,0.5 0 1,0 -1,0ZM255.2,244.8a0.6,0.6 0 1,0 1.2,0a0.6,0.6 0 1,0 -1.2,0ZM248.3,244.6a0.7,0.7 0 1,0 1.4,0a0.7,0.7 0 1,0 -1.4,0ZM249.4,239.8a0.5,0.5 0 1,0 1,0a0.5,0.5 0 1,0 -1,0ZM253.5,242a0.6,0.6 0 1,0 1.1,0a0.6,0.6 0 1,0 -1.1,0ZM280.3,240.5a1.1,1.1 0 1,0 2.2,0a1.1,1.1 0 1,0 -2.2,0ZM258.9,242.3a0.7,0.7 0 1,0 1.4,0a0.7,0.7 0 1,0 -1.4,0ZM272.1,241.4a0.6,0.6 0 1,0 1.2,0a0.6,0.6 0 1,0 -1.2,0ZM254.1,239.7a0.5,0.5 0 1,0 1,0a0.5,0.5 0 1,0 -1,0ZM270.6,238.8a1.1,1.1 0 1,0 2.1,0a1.1,1.1 0 1,0 -2.1,0ZM274.2,239a0.6,0.6 0 1,0 1.3,0a0.6,0.6 0 1,0 -1.3,0ZM243.8,238.6a0.7,0.7 0 1,0 1.5,0a0.7,0.7 0 1,0 -1.5,0ZM279.7,239.5a0.6,0.6 0 1,0 1.2,0a0.6,0.6 0 1,0 -1.2,0ZM259.2,238.6a0.6,0.6 0 1,0 1.1,0a0.6,0.6 0 1,0 -1.1,0ZM281.1,240.4a0.7,0.7 0 1,0 1.4,0a0.7,0.7 0 1,0 -1.4,0ZM278.3,241.3a0.7,0.7 0 1,0 1.4,0a0.7,0.7 0 1,0 -1.4,0ZM252.7,246.4a1,1 0 1,0 1.9,0a1,1 0 1,0 -1.9,0ZM256.2,246.5a0.6,0.6 0 1,0 1.2,0a0.6,0.6 0 1,0 -1.2,0ZM256,249.5a0.9,0.9 0 1,0 1.8,0a0.9,0.9 0 1,0 -1.8,0ZM250.5,248.9a0.7,0.7 0 1,0 1.4,0a0.7,0.7 0 1,0 -1.4,0ZM251.5,249.1a1.1,1.1 0 1,0 2.3,0a1.1,1.1 0 1,0 -2.3,0ZM274.1,247.5a1.1,1.1 0 1,0 2.2,0a1.1,1.1 0 1,0 -2.2,0ZM252.1,248.5a1.2,1.2 0 1,0 2.4,0a1.2,1.2 0 1,0 -2.4,0ZM256.9,248.4a0.8,0.8 0 1,0 1.5,0a0.8,0.8 0 1,0 -1.5,0ZM254.2,246a0.7,0.7 0 1,0 1.4,0a0.7,0.7 0 1,0 -1.4,0ZM262.3,248.8a1,1 0 1,0 2,0a1,1 0 1,0 -2,0ZM268.1,245.4a0.6,0.6 0 1,0 1.3,0a0.6,0.6 0 1,0 -1.3,0ZM269.1,248.9a0.6,0.6 0 1,0 1.3,0a0.6,0.6 0 1,0 -1.3,0ZM260.5,248.7a1.2,1.2 0 1,0 2.4,0a1.2,1.2 0 1,0 -2.4,0ZM252.1,248a0.7,0.7 0 1,0 1.4,0a0.7,0.7 0 1,0 -1.4,0ZM259.4,245.3a0.7,0.7 0 1,0 1.4,0a0.7,0.7 0 1,0 -1.4,0ZM243.4,248.2a0.8,0.8 0 1,0 1.5,0a0.8,0.8 0 1,0 -1.5,0ZM263.7,246.4a0.6,0.6 0 1,0 1.2,0a0.6,0.6 0 1,0 -1.2,0ZM270.7,246.8a1.4,1.4 0 1,0 2.8,0a1.4,1.4 0 1,0 -2.8,0ZM265,246.3a1.1,1.1 0 1,0 2.2,0a1.1,1.1 0 1,0 -2.2,0ZM244.6,246.8a0.7,0.7 0 1,0 1.4,0a0.7,0.7 0 1,0 -1.4,0ZM256.8,247.8a0.9,0.9 0 1,0 1.8,0a0.9,0.9 0 1,0 -1.8,0ZM253.8,246.8a1.1,1.1 0 1,0 2.2,0a1.1,1.1 0 1,0 -2.2,0ZM261.7,248.7a1,1 0 1,0 2,0a1,1 0 1,0 -2,0ZM241.1,246.6a1.4,1.4 0 1,0 2.8,0a1.4,1.4 0 1,0 -2.8,0ZM246.4,245.7a0.7,0.7 0 1,0 1.3,0a0.7,0.7 0 1,0 -1.3,0ZM266.3,245a1.2,1.2 0 1,0 2.3,0a1.2,1.2 0 1,0 -2.3,0ZM250.5,248.2a0.9,0.9 0 1,0 1.7,0a0.9,0.9 0 1,0 -1.7,0ZM259.4,245.7a1.2,1.2 0 1,0 2.3,0a1.2,1.2 0 1,0 -2.3,0ZM256.8,246.8a1,1 0 1,0 1.9,0a1,1 0 1,0 -1.9,0ZM259.3,246.5a0.7,0.7 0 1,0 1.3,0a0.7,0.7 0 1,0 -1.3,0ZM254.2,249.7a0.8,0.8 0 1,0 1.5,0a0.8,0.8 0 1,0 -1.5,0ZM261.2,247a0.6,0.6 0 1,0 1.2,0a0.6,0.6 0 1,0 -1.2,0ZM259.3,247.6a1.5,1.5 0 1,0 2.9,0a1.5,1.5 0 1,0 -2.9,0ZM259.9,246.2a0.8,0.8 0 1,0 1.7,0a0.8,0.8 0 1,0 -1.7,0ZM251.3,248.8a0.7,0.7 0 1,0 1.4,0a0.7,0.7 0 1,0 -1.4,0ZM244.9,244.6a0.7,0.7 0 1,0 1.4,0a0.7,0.7 0 1,0 -1.4,0ZM261,248.9a0.6,0.6 0 1,0 1.2,0a0.6,0.6 0 1,0 -1.2,0ZM252.1,247.6a0.6,0.6 0 1,0 1.3,0a0.6,0.6 0 1,0 -1.3,0ZM258.7,244.8a1.2,1.2 0 1,0 2.4,0a1.2,1.2 0 1,0 -2.4,0ZM245.4,245.3a0.7,0.7 0 1,0 1.4,0a0.7,0.7 0 1,0 -1.4,0ZM245.8,247.4a0.9,0.9 0 1,0 1.7,0a0.9,0.9 0 1,0 -1.7,0ZM254.4,246.2a0.8,0.8 0 1,0 1.5,0a0.8,0.8 0 1,0 -1.5,0ZM268.4,246.2a1.3,1.3 0 1,0 2.7,0a1.3,1.3 0 1,0 -2.7,0ZM259,245.3a0.8,0.8 0 1,0 1.6,0a0.8,0.8 0 1,0 -1.6,0ZM254.5,244.1a0.6,0.6 0 1,0 1.2,0a0.6,0.6 0 1,0 -1.2,0ZM255.2,246.9a0.6,0.6 0 1,0 1.2,0a0.6,0.6 0 1,0 -1.2,0ZM257,246.3a0.6,0.6 0 1,0 1.2,0a0.6,0.6 0 1,0 -1.2,0ZM257.1,247.4a1.2,1.2 0 1,0 2.5,0a1.2,1.2 0 1,0 -2.5,0ZM273.7,246.1a1.2,1.2 0 1,0 2.3,0a1.2,1.2 0 1,0 -2.3,0ZM260.9,246.7a0.7,0.7 0 1,0 1.4,0a0.7,0.7 0 1,0 -1.4,0ZM256.8,248.4a0.7,0.7 0 1,0 1.3,0a0.7,0.7 0 1,0 -1.3,0ZM245.5,248.3a0.7,0.7 0 1,0 1.5,0a0.7,0.7 0 1,0 -1.5,0ZM247.7,248.9a0.6,0.6 0 1,0 1.2,0a0.6,0.6 0 1,0 -1.2,0ZM239.7,246.7a1,1 0 1,0 1.9,0a1,1 0 1,0 -1.9,0ZM262.9,246.2a0.6,0.6 0 1,0 1.2,0a0.6,0.6 0 1,0 -1.2,0ZM240.6,246.7a1.1,1.1 0 1,0 2.1,0a1.1,1.1 0 1,0 -2.1,0ZM260.8,248.6a0.6,0.6 0 1,0 1.3,0a0.6,0.6 0 1,0 -1.3,0ZM245.7,246a0.6,0.6 0 1,0 1.3,0a0.6,0.6 0 1,0 -1.3,0ZM246.7,246.1a0.6,0.6 0 1,0 1.3,0a0.6,0.6 0 1,0 -1.3,0ZM272.4,247.4a0.7,0.7 0 1,0 1.5,0a0.7,0.7 0 1,0 -1.5,0ZM262.6,248.9a0.7,0.7 0 1,0 1.4,0a0.7,0.7 0 1,0 -1.4,0ZM256.7,245.8a1.5,1.5 0 1,0 3,0a1.5,1.5 0 1,0 -3,0ZM264.1,244.4a0.8,0.8 0 1,0 1.6,0a0.8,0.8 0 1,0 -1.6,0ZM271.9,246.4a0.6,0.6 0 1,0 1.3,0a0.6,0.6 0 1,0 -1.3,0ZM262.8,245.7a0.6,0.6 0 1,0 1.3,0a0.6,0.6 0 1,0 -1.3,0ZM255.5,248.4a1,1 0 1,0 2.1,0a1,1 0 1,0 -2.1,0ZM250.1,249.2a1.1,1.1 0 1,0 2.2,0a1.1,1.1 0 1,0 -2.2,0ZM261.2,247.5a1.2,1.2 0 1,0 2.5,0a1.2,1.2 0 1,0 -2.5,0ZM252.6,249a0.9,0.9 0 1,0 1.8,0a0.9,0.9 0 1,0 -1.8,0ZM255.5,246.8a0.7,0.7 0 1,0 1.4,0a0.7,0.7 0 1,0 -1.4,0ZM241.2,248a0.6,0.6 0 1,0 1.3,0a0.6,0.6 0 1,0 -1.3,0ZM242.6,248.8a0.6,0.6 0 1,0 1.2,0a0.6,0.6 0 1,0 -1.2,0ZM261,246.4a1.4,1.4 0 1,0 2.8,0a1.4,1.4 0 1,0 -2.8,0ZM256.5,245.1a1,1 0 1,0 2,0a1,1 0 1,0 -2,0ZM249.4,246.8a0.8,0.8 0 1,0 1.6,0a0.8,0.8 0 1,0 -1.6,0ZM248.4,244.4a0.6,0.6 0 1,0 1.3,0a0.6,0.6 0 1,0 -1.3,0ZM251.5,246a1.4,1.4 0 1,0 2.8,0a1.4,1.4 0 1,0 -2.8,0ZM264,248.6a1.1,1.1 0 1,0 2.1,0a1.1,1.1 0 1,0 -2.1,0ZM241.2,245.4a1,1 0 1,0 2,0a1,1 0 1,0 -2,0ZM244.5,247.5a0.6,0.6 0 1,0 1.3,0a0.6,0.6 0 1,0 -1.3,0ZM256.4,244.2a1.1,1.1 0 1,0 2.2,0a1.1,1.1 0 1,0 -2.2,0ZM249.2,248.4a0.7,0.7 0 1,0 1.5,0a0.7,0.7 0 1,0 -1.5,0ZM259.1,246.5a0.8,0.8 0 1,0 1.7,0a0.8,0.8 0 1,0 -1.7,0ZM248.5,248.6a0.7,0.7 0 1,0 1.5,0a0.7,0.7 0 1,0 -1.5,0ZM265,248.2a0.6,0.6 0 1,0 1.2,0a0.6,0.6 0 1,0 -1.2,0ZM255.1,245.6a0.6,0.6 0 1,0 1.3,0a0.6,0.6 0 1,0 -1.3,0ZM249.5,246.3a0.7,0.7 0 1,0 1.5,0a0.7,0.7 0 1,0 -1.5,0ZM262.2,249.6a0.9,0.9 0 1,0 1.8,0a0.9,0.9 0 1,0 -1.8,0ZM259.1,248.6a1.1,1.1 0 1,0 2.3,0a1.1,1.1 0 1,0 -2.3,0ZM242.7,248.9a0.9,0.9 0 1,0 1.8,0a0.9,0.9 0 1,0 -1.8,0ZM251.1,245.3a1.3,1.3 0 1,0 2.5,0a1.3,1.3 0 1,0 -2.5,0ZM255.7,246.8a1.1,1.1 0 1,0 2.3,0a1.1,1.1 0 1,0 -2.3,0ZM247.4,244.8a0.8,0.8 0 1,0 1.7,0a0.8,0.8 0 1,0 -1.7,0ZM247.1,247.4a0.9,0.9 0 1,0 1.7,0a0.9,0.9 0 1,0 -1.7,0ZM272.4,247.6a1,1 0 1,0 2,0a1,1 0 1,0 -2,0ZM238.3,248a1.4,1.4 0 1,0 2.9,0a1.4,1.4 0 1,0 -2.9,0ZM261.8,246.2a1.2,1.2 0 1,0 2.3,0a1.2,1.2 0 1,0 -2.3,0ZM253,246.5a0.7,0.7 0 1,0 1.4,0a0.7,0.7 0 1,0 -1.4,0ZM256.7,247.9a0.9,0.9 0 1,0 1.7,0a0.9,0.9 0 1,0 -1.7,0ZM267.1,246.2a1.3,1.3 0 1,0 2.6,0a1.3,1.3 0 1,0 -2.6,0ZM253.1,245.9a1.3,1.3 0 1,0 2.5,0a1.3,1.3 0 1,0 -2.5,0ZM249.6,247.1a0.6,0.6 0 1,0 1.2,0a0.6,0.6 0 1,0 -1.2,0ZM264.8,247.7a0.6,0.6 0 1,0 1.2,0a0.6,0.6 0 1,0 -1.2,0ZM241.5,246.5a1,1 0 1,0 2,0a1,1 0 1,0 -2,0ZM250.5,249.4a1.1,1.1 0 1,0 2.2,0a1.1,1.1 0 1,0 -2.2,0ZM248.3,247.8a1.3,1.3 0 1,0 2.7,0a1.3,1.3 0 1,0 -2.7,0ZM253.7,244.9a0.7,0.7 0 1,0 1.4,0a0.7,0.7 0 1,0 -1.4,0ZM256.5,247.2a0.6,0.6 0 1,0 1.3,0a0.6,0.6 0 1,0 -1.3,0ZM257.9,245.8a0.8,0.8 0 1,0 1.6,0a0.8,0.8 0 1,0 -1.6,0ZM259.7,248.5a0.6,0.6 0 1,0 1.3,0a0.6,0.6 0 1,0 -1.3,0ZM249.3,247.8a0.6,0.6 0 1,0 1.2,0a0.6,0.6 0 1,0 -1.2,0ZM262.8,247.9a0.8,0.8 0 1,0 1.6,0a0.8,0.8 0 1,0 -1.6,0ZM259,247.2a0.8,0.8 0 1,0 1.6,0a0.8,0.8 0 1,0 -1.6,0ZM270,247.7a0.7,0.7 0 1,0 1.5,0a0.7,0.7 0 1,0 -1.5,0ZM257.4,248a0.8,0.8 0 1,0 1.6,0a0.8,0.8 0 1,0 -1.6,0ZM252.2,248a0.6,0.6 0 1,0 1.2,0a0.6,0.6 0 1,0 -1.2,0ZM254.2,245.2a1.2,1.2 0 1,0 2.3,0a1.2,1.2 0 1,0 -2.3,0ZM253,248.6a0.7,0.7 0 1,0 1.3,0a0.7,0.7 0 1,0 -1.3,0ZM252.4,247.8a1,1 0 1,0 2,0a1,1 0 1,0 -2,0ZM259.9,247a0.6,0.6 0 1,0 1.2,0a0.6,0.6 0 1,0 -1.2,0ZM258.3,247.5a0.6,0.6 0 1,0 1.2,0a0.6,0.6 0 1,0 -1.2,0ZM267.9,247.4a0.9,0.9 0 1,0 1.9,0a0.9,0.9 0 1,0 -1.9,0ZM262.1,246.7a0.7,0.7 0 1,0 1.4,0a0.7,0.7 0 1,0 -1.4,0ZM260.4,246.1a0.7,0.7 0 1,0 1.5,0a0.7,0.7 0 1,0 -1.5,0ZM263.9,246.4a1.1,1.1 0 1,0 2.2,0a1.1,1.1 0 1,0 -2.2,0ZM246.8,248.8a0.6,0.6 0 1,0 1.3,0a0.6,0.6 0 1,0 -1.3,0ZM259.3,244.5a0.7,0.7 0 1,0 1.3,0a0.7,0.7 0 1,0 -1.3,0ZM243.9,248.7a0.6,0.6 0 1,0 1.2,0a0.6,0.6 0 1,0 -1.2,0ZM255.5,246.5a0.8,0.8 0 1,0 1.6,0a0.8,0.8 0 1,0 -1.6,0ZM264.4,247.9a1.2,1.2 0 1,0 2.5,0a1.2,1.2 0 1,0 -2.5,0ZM266.5,245.2a1.3,1.3 0 1,0 2.6,0a1.3,1.3 0 1,0 -2.6,0ZM254.9,245a0.7,0.7 0 1,0 1.4,0a0.7,0.7 0 1,0 -1.4,0ZM268.5,248a1.4,1.4 0 1,0 2.8,0a1.4,1.4 0 1,0 -2.8,0ZM271,248.8a0.6,0.6 0 1,0 1.2,0a0.6,0.6 0 1,0 -1.2,0ZM256.6,247.7a0.6,0.6 0 1,0 1.2,0a0.6,0.6 0 1,0 -1.2,0ZM244.8,244.6a0.6,0.6 0 1,0 1.2,0a0.6,0.6 0 1,0 -1.2,0ZM259.7,249.8a0.8,0.8 0 1,0 1.5,0a0.8,0.8 0 1,0 -1.5,0ZM260.6,244.3a0.6,0.6 0 1,0 1.3,0a0.6,0.6 0 1,0 -1.3,0ZM258.3,247.8a1.2,1.2 0 1,0 2.4,0a1.2,1.2 0 1,0 -2.4,0ZM257.9,247.3a1.4,1.4 0 1,0 2.9,0a1.4,1.4 0 1,0 -2.9,0ZM270,248.3a0.6,0.6 0 1,0 1.3,0a0.6,0.6 0 1,0 -1.3,0ZM265.2,245.5a0.9,0.9 0 1,0 1.9,0a0.9,0.9 0 1,0 -1.9,0ZM249.3,247.4a1.2,1.2 0 1,0 2.5,0a1.2,1.2 0 1,0 -2.5,0ZM261,249.7a0.8,0.8 0 1,0 1.6,0a0.8,0.8 0 1,0 -1.6,0ZM255.5,246.1a0.7,0.7 0 1,0 1.4,0a0.7,0.7 0 1,0 -1.4,0ZM250.7,247.1a0.9,0.9 0 1,0 1.7,0a0.9,0.9 0 1,0 -1.7,0ZM254.6,244.7a1,1 0 1,0 2,0a1,1 0 1,0 -2,0ZM248.5,246a0.7,0.7 0 1,0 1.4,0a0.7,0.7 0 1,0 -1.4,0ZM269.1,246.9a0.8,0.8 0 1,0 1.5,0a0.8,0.8 0 1,0 -1.5,0ZM265,247.8a0.6,0.6 0 1,0 1.2,0a0.6,0.6 0 1,0 -1.2,0ZM241.1,246.5a1.4,1.4 0 1,0 2.8,0a1.4,1.4 0 1,0 -2.8,0ZM242.4,249.5a1,1 0 1,0 2,0a1,1 0 1,0 -2,0ZM238.5,250.6a0.8,0.8 0 1,0 1.6,0a0.8,0.8 0 1,0 -1.6,0ZM234.8,251.6a0.7,0.7 0 1,0 1.5,0a0.7,0.7 0 1,0 -1.5,0ZM236.1,251.4a0.6,0.6 0 1,0 1.1,0a0.6,0.6 0 1,0 -1.1,0ZM236.6,250.6a0.6,0.6 0 1,0 1.1,0a0.6,0.6 0 1,0 -1.1,0ZM234.9,250.3a0.5,0.5 0 1,0 1,0a0.5,0.5 0 1,0 -1,0ZM242.6,249.1a0.5,0.5 0 1,0 1,0a0.5,0.5 0 1,0 -1,0ZM234.2,251.4a0.7,0.7 0 1,0 1.3,0a0.7,0.7 0 1,0 -1.3,0ZM230.2,249.7a0.9,0.9 0 1,0 1.9,0a0.9,0.9 0 1,0 -1.9,0ZM235.2,251.5a1,1 0 1,0 1.9,0a1,1 0 1,0 -1.9,0ZM239.7,248.9a0.5,0.5 0 1,0 1.1,0a0.5,0.5 0 1,0 -1.1,0ZM237.9,249.8a0.5,0.5 0 1,0 1,0a0.5,0.5 0 1,0 -1,0ZM228.4,249.7a0.5,0.5 0 1,0 1,0a0.5,0.5 0 1,0 -1,0ZM242,250.3a0.9,0.9 0 1,0 1.7,0a0.9,0.9 0 1,0 -1.7,0ZM242.2,250.2a0.5,0.5 0 1,0 1,0a0.5,0.5 0 1,0 -1,0ZM231.3,250.5a0.5,0.5 0 1,0 1,0a0.5,0.5 0 1,0 -1,0ZM234.3,249.8a0.6,0.6 0 1,0 1.1,0a0.6,0.6 0 1,0 -1.1,0ZM232.4,250.5a0.5,0.5 0 1,0 1,0a0.5,0.5 0 1,0 -1,0ZM239.5,249.1a0.5,0.5 0 1,0 1,0a0.5,0.5 0 1,0 -1,0ZM231.7,249.7a0.5,0.5 0 1,0 1,0a0.5,0.5 0 1,0 -1,0ZM231.1,249.2a0.7,0.7 0 1,0 1.3,0a0.7,0.7 0 1,0 -1.3,0ZM239.5,250.8a0.8,0.8 0 1,0 1.6,0a0.8,0.8 0 1,0 -1.6,0ZM246.8,249.9a0.6,0.6 0 1,0 1.2,0a0.6,0.6 0 1,0 -1.2,0ZM232.2,251.2a0.9,0.9 0 1,0 1.8,0a0.9,0.9 0 1,0 -1.8,0ZM241,251a0.7,0.7 0 1,0 1.3,0a0.7,0.7 0 1,0 -1.3,0ZM235.9,249.8a0.7,0.7 0 1,0 1.4,0a0.7,0.7 0 1,0 -1.4,0ZM229.2,249.5a0.5,0.5 0 1,0 1.1,0a0.5,0.5 0 1,0 -1.1,0ZM230.8,251.2a1,1 0 1,0 2,0a1,1 0 1,0 -2,0ZM302,247.6a1,1 0 1,0 2,0a1,1 0 1,0 -2,0ZM293,247.4a1.1,1.1 0 1,0 2.3,0a1.1,1.1 0 1,0 -2.3,0ZM307.2,246.3a0.6,0.6 0 1,0 1.2,0a0.6,0.6 0 1,0 -1.2,0ZM296.2,247.2a0.5,0.5 0 1,0 1.1,0a0.5,0.5 0 1,0 -1.1,0ZM302.3,246.5a0.5,0.5 0 1,0 1.1,0a0.5,0.5 0 1,0 -1.1,0ZM298.8,247a0.7,0.7 0 1,0 1.4,0a0.7,0.7 0 1,0 -1.4,0ZM306.6,246.6a1.1,1.1 0 1,0 2.3,0a1.1,1.1 0 1,0 -2.3,0ZM305.9,247a0.7,0.7 0 1,0 1.3,0a0.7,0.7 0 1,0 -1.3,0ZM295.8,248a0.5,0.5 0 1,0 1,0a0.5,0.5 0 1,0 -1,0ZM299.6,246.9a0.9,0.9 0 1,0 1.8,0a0.9,0.9 0 1,0 -1.8,0ZM300.5,247.3a1,1 0 1,0 1.9,0a1,1 0 1,0 -1.9,0ZM299.5,246.3a1.1,1.1 0 1,0 2.3,0a1.1,1.1 0 1,0 -2.3,0ZM286,246.4a0.5,0.5 0 1,0 1,0a0.5,0.5 0 1,0 -1,0ZM296.3,247.2a0.5,0.5 0 1,0 1,0a0.5,0.5 0 1,0 -1,0ZM304.7,247.4a1.1,1.1 0 1,0 2.2,0a1.1,1.1 0 1,0 -2.2,0ZM303.8,246.9a1.1,1.1 0 1,0 2.2,0a1.1,1.1 0 1,0 -2.2,0ZM297.2,247.7a1.1,1.1 0 1,0 2.3,0a1.1,1.1 0 1,0 -2.3,0ZM296.5,246.8a0.6,0.6 0 1,0 1.2,0a0.6,0.6 0 1,0 -1.2,0ZM285.1,246.1a0.7,0.7 0 1,0 1.4,0a0.7,0.7 0 1,0 -1.4,0ZM283.1,247.1a1,1 0 1,0 2,0a1,1 0 1,0 -2,0ZM301.4,246a0.5,0.5 0 1,0 1.1,0a0.5,0.5 0 1,0 -1.1,0ZM298,247a1.2,1.2 0 1,0 2.3,0a1.2,1.2 0 1,0 -2.3,0ZM298.5,246.7a1,1 0 1,0 2.1,0a1,1 0 1,0 -2.1,0ZM291.3,245.3a0.9,0.9 0 1,0 1.8,0a0.9,0.9 0 1,0 -1.8,0ZM309.9,247.4a0.6,0.6 0 1,0 1.3,0a0.6,0.6 0 1,0 -1.3,0ZM291.1,247.8a0.6,0.6 0 1,0 1.2,0a0.6,0.6 0 1,0 -1.2,0ZM292.6,247.6a0.8,0.8 0 1,0 1.5,0a0.8,0.8 0 1,0 -1.5,0ZM296.6,247.2a0.7,0.7 0 1,0 1.4,0a0.7,0.7 0 1,0 -1.4,0ZM296,245.6a0.8,0.8 0 1,0 1.6,0a0.8,0.8 0 1,0 -1.6,0ZM284.2,247a0.7,0.7 0 1,0 1.4,0a0.7,0.7 0 1,0 -1.4,0ZM284.5,246.4a0.8,0.8 0 1,0 1.5,0a0.8,0.8 0 1,0 -1.5,0ZM308.5,247.1a1,1 0 1,0 2,0a1,1 0 1,0 -2,0ZM297.7,246.2a1,1 0 1,0 2,0a1,1 0 1,0 -2,0ZM291.7,247.2a0.7,0.7 0 1,0 1.4,0a0.7,0.7 0 1,0 -1.4,0ZM306.5,245.8a1,1 0 1,0 2.1,0a1,1 0 1,0 -2.1,0ZM294.7,245.6a0.6,0.6 0 1,0 1.1,0a0.6,0.6 0 1,0 -1.1,0ZM285.3,246.6a0.6,0.6 0 1,0 1.2,0a0.6,0.6 0 1,0 -1.2,0ZM291.6,246.3a0.5,0.5 0 1,0 1.1,0a0.5,0.5 0 1,0 -1.1,0ZM300.6,247a0.6,0.6 0 1,0 1.1,0a0.6,0.6 0 1,0 -1.1,0ZM296.7,246.9a0.7,0.7 0 1,0 1.4,0a0.7,0.7 0 1,0 -1.4,0ZM310.2,245.9a0.9,0.9 0 1,0 1.8,0a0.9,0.9 0 1,0 -1.8,0ZM308.2,246a0.8,0.8 0 1,0 1.7,0a0.8,0.8 0 1,0 -1.7,0ZM287.1,247.5a1.1,1.1 0 1,0 2.1,0a1.1,1.1 0 1,0 -2.1,0ZM295.2,247.3a1,1 0 1,0 1.9,0a1,1 0 1,0 -1.9,0ZM293.4,246.3a0.5,0.5 0 1,0 1,0a0.5,0.5 0 1,0 -1,0ZM296.1,246.7a1,1 0 1,0 2,0a1,1 0 1,0 -2,0ZM301.3,247.4a0.6,0.6 0 1,0 1.2,0a0.6,0.6 0 1,0 -1.2,0ZM284.5,246.5a0.8,0.8 0 1,0 1.6,0a0.8,0.8 0 1,0 -1.6,0ZM290.6,245.6a0.5,0.5 0 1,0 1,0a0.5,0.5 0 1,0 -1,0ZM308.3,247.2a0.9,0.9 0 1,0 1.8,0a0.9,0.9 0 1,0 -1.8,0ZM548.9,205.9a0.5,0.5 0 1,0 1,0a0.5,0.5 0 1,0 -1,0ZM543.2,206.9a0.9,0.9 0 1,0 1.8,0a0.9,0.9 0 1,0 -1.8,0ZM549,200.6a0.6,0.6 0 1,0 1.2,0a0.6,0.6 0 1,0 -1.2,0ZM548.6,212.4a0.5,0.5 0 1,0 1,0a0.5,0.5 0 1,0 -1,0ZM546.5,204.8a0.9,0.9 0 1,0 1.9,0a0.9,0.9 0 1,0 -1.9,0ZM542.7,204.7a0.5,0.5 0 1,0 1,0a0.5,0.5 0 1,0 -1,0ZM547.6,213.5a0.9,0.9 0 1,0 1.7,0a0.9,0.9 0 1,0 -1.7,0ZM544,204.7a1,1 0 1,0 2,0a1,1 0 1,0 -2,0ZM545.1,199a0.5,0.5 0 1,0 1,0a0.5,0.5 0 1,0 -1,0ZM550.4,212.2a0.7,0.7 0 1,0 1.4,0a0.7,0.7 0 1,0 -1.4,0ZM547.3,201.5a0.5,0.5 0 1,0 1,0a0.5,0.5 0 1,0 -1,0ZM544.5,208.4a0.5,0.5 0 1,0 1,0a0.5,0.5 0 1,0 -1,0ZM549,202.6a0.8,0.8 0 1,0 1.7,0a0.8,0.8 0 1,0 -1.7,0ZM548.8,204.7a0.9,0.9 0 1,0 1.8,0a0.9,0.9 0 1,0 -1.8,0ZM545.4,208.8a0.5,0.5 0 1,0 1,0a0.5,0.5 0 1,0 -1,0Z" fill="#00008b" stroke="none"/>
<path d="M218.6,134 222,132 225,133 230,136 236,139.6 244,141 252,140.4 270,141 290,140.6 306,140 318,139 330,137 346,133.6 362,129.5 370,127 380,124 390,121 400,118.4 410,117 416,116.4" stroke="#f00" stroke-width="1.0" stroke-dasharray="7.5 4" fill="none"/>
<path d="M652,280 658,277 664,274.5 669,272.8 672.5,272" stroke="#f00" stroke-width="1.6" stroke-dasharray="2.5 2" fill="none"/>
<path d="M225,456 230,457 236,458 242,460 247,462 250,458 254,453 260,451 266,448 270,445 272,450 276,453 280,455 284,451 287,449 290,450 291,455 287,458 285,463 284,467 289,466 292,470 296,471.6 302,470 306,467 305,472 306,477 310,479 316,480.4 322,483 326,487 330,491 335,492.6 335,492.6 338,494.4 339,498.5 342,502 346.8,503.2 350.3,505 355,507.4 358.5,510.3 360.3,512.6 359,517.4 360.3,522 362,525.6 366.8,527.4 370.3,530.3 372,535 370.3,539.7 369.7,544.4 372.6,547.4 378.5,550.3 384.4,552.6 390,556 398,560 404,562.4 412,562 420,562.4 430,562 440,561 448,558 454,554 460,549 464,545 470,543 478,542.4 485,542 490,542.5 493.2,540.9 496.4,541.4 498.5,543.6 501.7,543 503.8,545.7 505.9,547.8 509,546.7 511.2,547.8 512.8,545.7 514.9,543.6 513.8,540.9 516.5,541.4 518.6,543.6 518,546.2 521.8,546.2 525,544.6 527.6,542 527,538.8 526.5,535.6 528.7,533 530.8,531.9 531.8,535 532.9,531.9 534,530.8 534.5,535 535,539.3 533.4,542.5 532.9,546.7 534.5,548.9 536.6,547.8 535.6,543.6 537.7,542.5 536.6,539.3 538.7,543.6 536,549.9 535.6,554.2 536.6,556.8M541.9,552 540.8,556.3 542.4,559.4 541.9,562.1 544,558.4 547.2,559.4 550.4,560.5 554.6,558.9 558.9,559.4 562,561.6 564.2,564.7 562,567.9 558.9,569 555.7,568.5M225,456 222.4,455 221.2,448 222,442 223.6,443 224,450 225,457 223.6,464 221.6,465 220.4,460 221,453 222.4,458 224.4,462 227,460.4 229,458 232,460.4 235,458.4 238,461.6 241,459.6 244,463 246.4,461.6 248,459M280,455 282,453 284.4,448 288,447 290.4,449 289,453 286,454.4 288.4,456 290.6,455" stroke="#f00" stroke-width="0.9" fill="none"/>
<path d="M605.8,256.2 605.1,257.9 604.2,259.8 604,261.9 604.3,263.5 603.1,265.5 601.8,267.4 601.4,269.2 600.9,270.6 601.1,272.9 601.3,274.5 601.3,275.6 601.6,277.7 602.3,279.2 602.7,280.6 603.5,282.5 605,284 605.8,285 607.5,285.4 609.4,285.5 611.1,286 612.6,285.5 614.2,284.9 615.8,284.2 617.7,282.6 618.9,281.3 619.9,279.2 620.4,277 620.8,275 621.4,273.2 622.3,270.9 623.3,268.8 624.2,267.8 624.6,265.9 622.8,264 621.5,263.5 620.1,261.9 618.7,261.1 616.8,260.5 615.3,259.2 613.9,258.6 611.9,257.5 610.3,258.1 609.2,257.4 607.3,256.5 606,256.5M601.8,284.8 599.8,284.5 598.1,284.7 596.7,283.9 595.3,283.2 594.1,281.6 592.5,282.7 591,283.2 590.8,284.7 590.2,286.2 589.9,287.7 591.1,290.2 591.8,292.1 593.3,293.6 595,295 596.8,295.6 598.4,295.5 599.8,296.1 601,294.9 602.2,292.7 603.5,293.7 605,294.5 606.4,294.1 608.5,294.8 610,294.3 612,295.1 614.1,295.8 615.3,295.6 617.1,295 617.5,297.1 618,298.5 616.9,301.4 616,303.3 616.7,304.5 617.1,307 618.3,307.7 620,309 621.7,307.4 623.1,305.9 623.2,305 622.8,303.3 622.8,301.3 623.2,299.9 624.8,300.5 626.7,300.4 628.2,298.8 629.9,298.7 631.8,298.1 633.8,295.7 635.6,294.2 637.2,293.2 638.6,291.6 639.9,290.5 641.3,289.2 643,287.6 644.5,286.1 645.8,284.9 647.6,283.3 649.1,282.2 650.3,280.6 652,280M568.1,283.1 570,281.9 572.1,282 574,282.6 575.8,283 577.9,282.5 580.1,282.4 582,283.1 583.9,283.1 586,283 588.1,281.5 589.9,282.3 592,283.4 593.9,283 596,284" stroke="#f00" stroke-width="1.9" fill="none"/>
<path d="M224.9,116.1L202.8,104.4M237.3,116.1L215.1,104.5M249.7,116.1L227.4,104.7M262.1,116.1L239.7,104.9M274.5,116.1L252,105.2M286.9,116.1L264.3,105.5M299.3,116.1L276.5,105.8M311.7,116.1L288.8,106.1M324.1,116.1L301,106.5M336.5,116.1L313.2,106.9M348.9,116.1L325.4,107.5M361.3,116.1L337.6,108.1M373.7,116.1L349.8,108.8M386.1,116.1L362,109.5M398.5,116.1L374.2,110.2M410.9,116.1L386.4,110.9M423.3,116.1L398.7,111.6M435.7,116.1L411,112.4M448.1,116.1L423.3,113.1M460.5,116.1L435.6,113.9M472.9,116.1L447.9,114.5M485.3,116.1L460.3,114.8M497.7,116.1L472.7,115.1M510.1,116.1L485.1,115.4M522.5,116.1L497.5,115.7M534.9,116.1L509.9,116M547.3,116.1L522.3,116.1M559.7,116.1L534.7,116.1M572.1,116.1L547.1,116.1M584.5,116.1L559.5,116.1M596.9,116.1L571.9,116.1M609.3,116.1L584.3,116.1M621.7,116.1L596.7,116.1M634.1,116.1L609.1,116.1M646.5,116.1L621.5,116M658.9,116.1L633.9,116M671.3,116.1L646.3,116M683.7,116.1L658.7,116M696.1,116.1L671.1,116M218.7,126.8L196.6,115.2M231.1,126.8L208.9,115.3M243.5,126.8L221.2,115.5M255.9,126.8L233.5,115.7M268.3,126.8L245.8,116M280.7,126.8L258,116.3M293.1,126.8L270.3,116.6M305.5,126.8L282.5,117M317.9,126.8L294.8,117.3M330.3,126.8L307,117.6M342.7,126.8L319.2,118.2M355.1,126.8L331.4,118.8M367.5,126.8L343.6,119.4M379.9,126.8L355.8,120.1M392.3,126.8L368,120.7M404.7,126.8L380.3,121.4M417.1,126.8L392.5,122.2M429.5,126.8L404.8,122.9M441.9,126.8L417.1,123.6M454.3,126.8L429.4,124.3M466.7,126.8L441.8,125.1M479.1,126.8L454.1,125.5M491.5,126.8L466.5,125.7M503.9,126.8L478.9,126M516.3,126.8L491.3,126.3M528.7,126.8L503.7,126.6M541.1,126.8L516.1,126.8M553.5,126.8L528.5,126.8M565.9,126.8L540.9,126.8M578.3,126.8L553.3,126.8M590.7,126.8L565.7,126.8M603.1,126.8L578.1,126.8M615.5,126.8L590.5,126.8M627.9,126.8L602.9,126.7M640.3,126.8L615.3,126.7M652.7,126.8L627.7,126.7M665.1,126.8L640.1,126.6M677.5,126.8L652.5,126.6M689.9,126.8L664.9,126.6M224.9,137.5L202.6,126.2M237.3,137.5L215,126.3M249.7,137.5L227.2,126.5M262.1,137.5L239.5,126.8M274.5,137.5L251.8,127.1M286.9,137.5L264,127.4M299.3,137.5L276.3,127.8M311.7,137.5L288.5,128.1M324.1,137.5L300.8,128.4M336.5,137.5L313,128.9M348.9,137.5L325.2,129.5M361.3,137.5L337.4,130.1M373.7,137.5L349.6,130.7M386.1,137.5L361.9,131.3M398.5,137.5L374.1,132M410.9,137.5L386.4,132.7M423.3,137.5L398.6,133.4M435.7,137.5L410.9,134.1M448.1,137.5L423.2,134.8M460.5,137.5L435.6,135.5M472.9,137.5L447.9,136.1M485.3,137.5L460.3,136.4M497.7,137.5L472.7,136.6M510.1,137.5L485.1,136.9M522.5,137.5L497.5,137.1M534.9,137.5L509.9,137.4M547.3,137.5L522.3,137.5M559.7,137.5L534.7,137.5M572.1,137.5L547.1,137.5M584.5,137.5L559.5,137.5M596.9,137.5L571.9,137.5M609.3,137.5L584.3,137.5M621.7,137.5L596.7,137.5M634.1,137.5L609.1,137.4M646.5,137.5L621.5,137.3M658.9,137.5L633.9,137.3M671.3,137.5L646.3,137.2M683.7,137.5L658.7,137.2M696.1,137.5L671.1,137.2M218.7,148.2L196.4,137M231.1,148.2L208.7,137.1M243.5,148.2L221,137.3M255.9,148.2L233.2,137.6M268.3,148.2L245.5,137.9M280.7,148.2L257.8,138.3M293.1,148.2L270,138.6M305.5,148.2L282.3,138.9M317.9,148.2L294.5,139.3M330.3,148.2L306.8,139.6M342.7,148.2L319,140.2M355.1,148.2L331.2,140.8M367.5,148.2L343.4,141.4M379.9,148.2L355.7,142M392.3,148.2L367.9,142.6M404.7,148.2L380.2,143.2M417.1,148.2L392.5,143.9M429.5,148.2L404.8,144.6M441.9,148.2L417.1,145.3M454.3,148.2L429.4,146M466.7,148.2L441.7,146.7M479.1,148.2L454.1,147M491.5,148.2L466.5,147.3M503.9,148.2L478.9,147.5M516.3,148.2L491.3,147.8M528.7,148.2L503.7,148M541.1,148.2L516.1,148.2M553.5,148.2L528.5,148.2M565.9,148.2L540.9,148.2M578.3,148.2L553.3,148.2M590.7,148.2L565.7,148.2M603.1,148.2L578.1,148.2M615.5,148.2L590.5,148.2M627.9,148.2L602.9,148.1M640.3,148.2L615.3,148M652.7,148.2L627.7,148M665.1,148.2L640.1,147.9M677.5,148.2L652.5,147.8M689.9,148.2L664.9,147.8M224.9,158.9L202.3,148.3M237.3,158.9L214.6,148.5M249.7,158.9L226.9,148.7M262.1,158.9L239.1,149M274.5,158.9L251.4,149.4M286.9,158.9L263.6,149.7M299.3,158.9L275.9,150.1M311.7,158.9L288.2,150.4M324.1,158.9L300.5,150.8M336.5,158.9L312.7,151.2M348.9,158.9L324.9,151.8M361.3,158.9L337.2,152.3M373.7,158.9L349.4,152.8M386.1,158.9L361.7,153.4M398.5,158.9L374,153.9M410.9,158.9L386.3,154.6M423.3,158.9L398.6,155.2M435.7,158.9L410.9,155.9M448.1,158.9L423.2,156.5M460.5,158.9L435.6,157.2M472.9,158.9L447.9,157.7M485.3,158.9L460.3,157.9M497.7,158.9L472.7,158.2M510.1,158.9L485.1,158.4M522.5,158.9L497.5,158.6M534.9,158.9L509.9,158.8M547.3,158.9L522.3,158.9M559.7,158.9L534.7,158.9M572.1,158.9L547.1,158.8M584.5,158.9L559.5,158.8M596.9,158.9L571.9,158.8M609.3,158.9L584.3,158.7M621.7,158.9L596.7,158.7M634.1,158.9L609.1,158.6M646.5,158.9L621.5,158.5M658.9,158.9L633.9,158.4M671.3,158.9L646.3,158.3M683.7,158.9L658.7,158.2M696.1,158.9L671.1,158.2M218.7,169.6L195.8,159.5M231.1,169.6L208.1,159.7M243.5,169.6L220.4,160M255.9,169.6L232.7,160.2M268.3,169.6L245,160.5M280.7,169.6L257.3,160.9M293.1,169.6L269.5,161.3M305.5,169.6L281.8,161.7M317.9,169.6L294.1,162M330.3,169.6L306.4,162.4M342.7,169.6L318.6,162.8M355.1,169.6L330.9,163.3M367.5,169.6L343.2,163.8M379.9,169.6L355.5,164.3M392.3,169.6L367.8,164.8M404.7,169.6L380.1,165.3M417.1,169.6L392.4,165.9M429.5,169.6L404.7,166.5M441.9,169.6L417,167.1M454.3,169.6L429.4,167.7M466.7,169.6L441.7,168.3M479.1,169.6L454.1,168.6M491.5,169.6L466.5,168.8M503.9,169.6L478.9,169M516.3,169.6L491.3,169.2M528.7,169.6L503.7,169.4M541.1,169.6L516.1,169.6M553.5,169.6L528.5,169.5M565.9,169.6L540.9,169.5M578.3,169.6L553.3,169.4M590.7,169.6L565.7,169.4M603.1,169.6L578.1,169.3M615.5,169.6L590.5,169.2M627.9,169.6L602.9,169.1M640.3,169.6L615.3,168.9M652.7,169.6L627.7,168.8M665.1,169.6L640.1,168.7M677.5,169.6L652.5,168.6M689.9,169.6L664.9,168.5M224.9,180.3L201.7,171M237.3,180.3L214,171.2M249.7,180.3L226.3,171.5M262.1,180.3L238.6,171.7M274.5,180.3L250.9,172M286.9,180.3L263.2,172.5M299.3,180.3L275.4,172.9M311.7,180.3L287.7,173.3M324.1,180.3L300,173.6M336.5,180.3L312.3,174M348.9,180.3L324.6,174.4M361.3,180.3L336.9,174.8M373.7,180.3L349.2,175.2M386.1,180.3L361.5,175.7M398.5,180.3L373.9,176.1M410.9,180.3L386.2,176.6M423.3,180.3L398.5,177.2M435.7,180.3L410.8,177.7M448.1,180.3L423.2,178.3M460.5,180.3L435.5,178.8M472.9,180.3L447.9,179.3M485.3,180.3L460.3,179.5M497.7,180.3L472.7,179.7M510.1,180.3L485.1,179.9M522.5,180.3L497.5,180M534.9,180.3L509.9,180.2M547.3,180.3L522.3,180.2M559.7,180.3L534.7,180.2M572.1,180.3L547.1,180.1M584.5,180.3L559.5,180M596.9,180.3L571.9,179.9M609.3,180.3L584.3,179.8M621.7,180.3L596.7,179.6M634.1,180.3L609.1,179.5M646.5,180.3L621.5,179.3M658.9,180.3L633.9,179.1M671.3,180.3L646.3,179M683.7,180.3L658.7,178.8M696.1,180.3L671.1,178.8M218.7,191L195.3,182.2M231.1,191L207.6,182.5M243.5,191L219.9,182.7M255.9,191L232.2,182.9M268.3,191L244.6,183.1M280.7,191L256.8,183.6M293.1,191L269.1,184.1M305.5,191L281.4,184.5M317.9,191L293.7,184.8M330.3,191L306,185.2M342.7,191L318.3,185.6M355.1,191L330.6,185.9M367.5,191L343,186.3M379.9,191L355.3,186.6M392.3,191L367.6,187M404.7,191L380,187.4M417.1,191L392.3,187.9M429.5,191L404.6,188.4M441.9,191L417,188.9M454.3,191L429.4,189.4M466.7,191L441.7,189.9M479.1,191L454.1,190.2M491.5,191L466.5,190.3M503.9,191L478.9,190.5M516.3,191L491.3,190.7M528.7,191L503.7,190.8M541.1,191L516.1,191M553.5,191L528.5,190.9M565.9,191L540.9,190.7M578.3,191L553.3,190.6M590.7,191L565.7,190.5M603.1,191L578.1,190.4M615.5,191L590.5,190.2M627.9,191L602.9,190M640.3,191L615.3,189.8M652.7,191L627.7,189.6M665.1,191L640.1,189.4M677.5,191L652.6,189.2M689.9,191L665,189.1M224.9,201.7L201.2,193.8M237.3,201.7L213.5,194.1M249.7,201.7L225.8,194.3M262.1,201.7L238.2,194.5M274.5,201.7L250.5,194.7M286.9,201.7L262.7,195.3M299.3,201.7L275,195.8M311.7,201.7L287.3,196.1M324.1,201.7L299.7,196.5M336.5,201.7L312,196.8M348.9,201.7L324.3,197.1M361.3,201.7L336.7,197.4M373.7,201.7L349,197.7M386.1,201.7L361.4,198M398.5,201.7L373.7,198.3M410.9,201.7L386.1,198.7M423.3,201.7L398.4,199.1M435.7,201.7L410.8,199.6M448.1,201.7L423.2,200M460.5,201.7L435.5,200.5M472.9,201.7L447.9,200.9M485.3,201.7L460.3,201M497.7,201.7L472.7,201.2M510.1,201.7L485.1,201.3M522.5,201.7L497.5,201.5M534.9,201.7L509.9,201.6M547.3,201.7L522.3,201.6M559.7,201.7L534.7,201.4M572.1,201.7L547.1,201.3M584.5,201.7L559.5,201.1M596.9,201.7L571.9,201M609.3,201.7L584.3,200.8M621.7,201.7L596.7,200.6M634.1,201.7L609.1,200.4M646.5,201.7L621.5,200.2M658.9,201.7L634,200M671.3,201.7L646.4,199.8M683.7,201.7L658.8,199.5M696.1,201.7L671.2,199.5M218.7,212.4L194.6,205.6M231.1,212.4L207,205.9M243.5,212.4L219.3,206.1M255.9,212.4L231.7,206.2M268.3,212.4L244.1,206.3M280.7,212.4L256.4,206.7M293.1,212.4L268.7,207.2M305.5,212.4L281,207.5M317.9,212.4L293.3,207.8M330.3,212.4L305.7,208.1M342.7,212.4L318,208.3M355.1,212.4L330.4,208.6M367.5,212.4L342.8,208.9M379.9,212.4L355.1,209.1M392.3,212.4L367.5,209.3M404.7,212.4L379.9,209.6M417.1,212.4L392.2,210M429.5,212.4L404.6,210.4M441.9,212.4L417,210.8M454.3,212.4L429.3,211.1M466.7,212.4L441.7,211.5M479.1,212.4L454.1,211.7M491.5,212.4L466.5,211.8M503.9,212.4L478.9,212M516.3,212.4L491.3,212.1M528.7,212.4L503.7,212.2M541.1,212.4L516.1,212.3M553.5,212.4L528.5,212.1M565.9,212.4L540.9,212M578.3,212.4L553.3,211.8M590.7,212.4L565.7,211.7M603.1,212.4L578.1,211.5M615.5,212.4L590.5,211.3M627.9,212.4L602.9,211.1M640.3,212.4L615.3,210.9M652.7,212.4L627.8,210.7M665.1,212.4L640.2,210.5M677.5,212.4L652.6,210.3M689.9,212.4L665,210.2M224.9,223.1L200.5,217.7M237.3,223.1L212.9,217.9M249.7,223.1L225.2,218M262.1,223.1L237.6,218.1M274.5,223.1L250,218.3M286.9,223.1L262.3,218.6M299.3,223.1L274.6,219M311.7,223.1L287,219.2M324.1,223.1L299.4,219.4M336.5,223.1L311.7,219.6M348.9,223.1L324.1,219.8M361.3,223.1L336.5,220.1M373.7,223.1L348.9,220.3M386.1,223.1L361.2,220.4M398.5,223.1L373.6,220.6M410.9,223.1L386,220.9M423.3,223.1L398.4,221.2M435.7,223.1L410.7,221.5M448.1,223.1L423.1,221.9M460.5,223.1L435.5,222.2M472.9,223.1L447.9,222.4M485.3,223.1L460.3,222.5M497.7,223.1L472.7,222.6M510.1,223.1L485.1,222.7M522.5,223.1L497.5,222.8M534.9,223.1L509.9,222.9M547.3,223.1L522.3,222.8M559.7,223.1L534.7,222.7M572.1,223.1L547.1,222.5M584.5,223.1L559.5,222.3M596.9,223.1L571.9,222.2M609.3,223.1L584.3,222M621.7,223.1L596.7,221.9M634.1,223.1L609.1,221.7M646.5,223.1L621.6,221.5M658.9,223.1L634,221.3M671.3,223.1L646.4,221.1M683.7,223.1L658.8,220.9M696.1,223.1L671.2,220.9M218.7,233.8L194,229.6M231.1,233.8L206.4,229.7M243.5,233.8L218.8,229.8M255.9,233.8L231.2,229.9M268.3,233.8L243.6,229.9M280.7,233.8L256,230.2M293.1,233.8L268.3,230.5M305.5,233.8L280.7,230.7M317.9,233.8L293.1,230.8M330.3,233.8L305.5,230.9M342.7,233.8L317.8,231.1M355.1,233.8L330.2,231.3M367.5,233.8L342.6,231.5M379.9,233.8L355,231.6M392.3,233.8L367.4,231.7M404.7,233.8L379.8,231.9M417.1,233.8L392.2,232.1M429.5,233.8L404.5,232.4M441.9,233.8L416.9,232.6M454.3,233.8L429.3,232.9M466.7,233.8L441.7,233.2M479.1,233.8L454.1,233.3M491.5,233.8L466.5,233.3M503.9,233.8L478.9,233.4M516.3,233.8L491.3,233.4M528.7,233.8L503.7,233.5M541.1,233.8L516.1,233.5M553.5,233.8L528.5,233.3M565.9,233.8L540.9,233.2M578.3,233.8L553.3,233M590.7,233.8L565.7,232.9M603.1,233.8L578.1,232.7M615.5,233.8L590.5,232.6M627.9,233.8L602.9,232.4M640.3,233.8L615.3,232.2M652.7,233.8L627.8,232.1M665.1,233.8L640.2,231.9M677.5,233.8L652.6,231.7M689.9,233.8L665,231.6M224.9,244.5L200.1,241.7M237.3,244.5L212.5,241.7M249.7,244.5L224.9,241.7M262.1,244.5L237.3,241.7M274.5,244.5L249.6,241.8M286.9,244.5L262,242M299.3,244.5L274.4,242.3M311.7,244.5L286.8,242.3M324.1,244.5L299.2,242.4M336.5,244.5L311.6,242.5M348.9,244.5L324,242.6M361.3,244.5L336.4,242.8M373.7,244.5L348.8,242.9M386.1,244.5L361.2,242.9M398.5,244.5L373.5,242.9M410.9,244.5L385.9,243.1M423.3,244.5L398.3,243.3M435.7,244.5L410.7,243.5M448.1,244.5L423.1,243.7M460.5,244.5L435.5,243.9M472.9,244.5L447.9,244M485.3,244.5L460.3,244M497.7,244.5L472.7,244.1M510.1,244.5L485.1,244.1M522.5,244.5L497.5,244.1M534.9,244.5L509.9,244.1M547.3,244.5L522.3,244M559.7,244.5L534.7,243.9M572.1,244.5L547.1,243.7M584.5,244.5L559.5,243.6M596.9,244.5L571.9,243.4M609.3,244.5L584.3,243.2M621.7,244.5L596.7,243.1M634.1,244.5L609.1,242.9M646.5,244.5L621.6,242.8M658.9,244.5L634,242.6M671.3,244.5L646.4,242.5M683.7,244.5L658.8,242.3M696.1,244.5L671.2,242.3M218.7,255.2L193.8,253.2M231.1,255.2L206.2,253.2M243.5,255.2L218.6,253.2M255.9,255.2L231,253.2M268.3,255.2L243.4,253.2M280.7,255.2L255.8,253.3M293.1,255.2L268.2,253.5M305.5,255.2L280.6,253.5M317.9,255.2L293,253.5M330.3,255.2L305.4,253.5M342.7,255.2L317.7,253.7M355.1,255.2L330.1,253.8M367.5,255.2L342.5,253.9M379.9,255.2L354.9,253.9M392.3,255.2L367.3,253.9M404.7,255.2L379.7,254M417.1,255.2L392.1,254.1M429.5,255.2L404.5,254.3M441.9,255.2L416.9,254.4M454.3,255.2L429.3,254.5M466.7,255.2L441.7,254.7M479.1,255.2L454.1,254.7M491.5,255.2L466.5,254.7M503.9,255.2L478.9,254.7M516.3,255.2L491.3,254.7M528.7,255.2L503.7,254.7M541.1,255.2L516.1,254.7M553.5,255.2L528.5,254.5M565.9,255.2L540.9,254.4M578.3,255.2L553.3,254.2M590.7,255.2L565.7,254.1M603.1,255.2L578.1,253.9M615.5,255.2L590.5,253.8M627.9,255.2L602.9,253.6M640.3,255.2L615.4,253.5M652.7,255.2L627.8,253.4M665.1,255.2L640.2,253.2M677.5,255.2L652.6,253.1M689.9,255.2L665,253M224.9,265.9L200,264.1M237.3,265.9L212.4,264.1M249.7,265.9L224.8,264.1M262.1,265.9L237.2,264.1M274.5,265.9L249.6,264.2M286.9,265.9L262,264.3M299.3,265.9L274.3,264.4M311.7,265.9L286.7,264.4M324.1,265.9L299.1,264.4M336.5,265.9L311.5,264.5M348.9,265.9L323.9,264.6M361.3,265.9L336.3,264.7M373.7,265.9L348.7,264.7M386.1,265.9L361.1,264.7M398.5,265.9L373.5,264.7M410.9,265.9L385.9,264.8M423.3,265.9L398.3,264.9M435.7,265.9L410.7,265M448.1,265.9L423.1,265.1M460.5,265.9L435.5,265.2M472.9,265.9L447.9,265.3M485.3,265.9L460.3,265.3M497.7,265.9L472.7,265.3M510.1,265.9L485.1,265.2M522.5,265.9L497.5,265.2M534.9,265.9L509.9,265.2M547.3,265.9L522.3,265.1M559.7,265.9L534.7,265M572.1,265.9L547.1,264.8M584.5,265.9L559.5,264.7M596.9,265.9L571.9,264.6M609.3,265.9L584.3,264.5M621.7,265.9L596.7,264.3M634.1,265.9L609.2,264.2M646.5,265.9L621.6,264.1M658.9,265.9L634,264M671.3,265.9L646.4,263.9M683.7,265.9L658.8,263.7M696.1,265.9L671.2,263.7M218.7,276.6L193.7,275.1M231.1,276.6L206.1,275.1M243.5,276.6L218.5,275.1M255.9,276.6L230.9,275.1M268.3,276.6L243.3,275.1M280.7,276.6L255.7,275.2M293.1,276.6L268.1,275.3M305.5,276.6L280.5,275.3M317.9,276.6L292.9,275.3M330.3,276.6L305.3,275.3M342.7,276.6L317.7,275.4M355.1,276.6L330.1,275.5M367.5,276.6L342.5,275.5M379.9,276.6L354.9,275.5M392.3,276.6L367.3,275.5M404.7,276.6L379.7,275.6M417.1,276.6L392.1,275.6M429.5,276.6L404.5,275.7M441.9,276.6L416.9,275.8M454.3,276.6L429.3,275.8M466.7,276.6L441.7,275.9M479.1,276.6L454.1,275.9M491.5,276.6L466.5,275.9M503.9,276.6L478.9,275.8M516.3,276.6L491.3,275.8M528.7,276.6L503.7,275.7M541.1,276.6L516.1,275.7M553.5,276.6L528.5,275.6M565.9,276.6L540.9,275.5M578.3,276.6L553.3,275.3M590.7,276.6L565.7,275.2M603.1,276.6L578.1,275.1M615.5,276.6L590.6,275M627.9,276.6L603,274.9M640.3,276.6L615.4,274.8M652.7,276.6L627.8,274.7M665.1,276.6L640.2,274.6M677.5,276.6L652.6,274.5M689.9,276.6L665,274.4M224.9,287.3L199.9,286.1M237.3,287.3L212.3,286.1M249.7,287.3L224.7,286.1M262.1,287.3L237.1,286.1M274.5,287.3L249.5,286.1M286.9,287.3L261.9,286.2M299.3,287.3L274.3,286.2M311.7,287.3L286.7,286.2M324.1,287.3L299.1,286.2M336.5,287.3L311.5,286.2M348.9,287.3L323.9,286.3M361.3,287.3L336.3,286.3M373.7,287.3L348.7,286.3M386.1,287.3L361.1,286.3M398.5,287.3L373.5,286.3M410.9,287.3L385.9,286.4M423.3,287.3L398.3,286.4M435.7,287.3L410.7,286.4M448.1,287.3L423.1,286.5M460.5,287.3L435.5,286.5M472.9,287.3L447.9,286.5M485.3,287.3L460.3,286.5M497.7,287.3L472.7,286.4M510.1,287.3L485.1,286.4M522.5,287.3L497.5,286.3M534.9,287.3L509.9,286.2M547.3,287.3L522.3,286.2M559.7,287.3L534.7,286.1M572.1,287.3L547.1,286M584.5,287.3L559.5,285.9M596.9,287.3L571.9,285.8M609.3,287.3L584.4,285.7M621.7,287.3L596.8,285.6M634.1,287.3L609.2,285.5M646.5,287.3L621.6,285.4M658.9,287.3L634,285.3M671.3,287.3L646.4,285.2M683.7,287.3L658.8,285.1M696.1,287.3L671.2,285.1M218.7,298L193.7,297.1M231.1,298L206.1,297.1M243.5,298L218.5,297.1M255.9,298L230.9,297.1M268.3,298L243.3,297.1M280.7,298L255.7,297.1M293.1,298L268.1,297.1M305.5,298L280.5,297.1M317.9,298L292.9,297.1M330.3,298L305.3,297.1M342.7,298L317.7,297.1M355.1,298L330.1,297.1M367.5,298L342.5,297.1M379.9,298L354.9,297.1M392.3,298L367.3,297.1M404.7,298L379.7,297.1M417.1,298L392.1,297.1M429.5,298L404.5,297.1M441.9,298L416.9,297.1M454.3,298L429.3,297.1M466.7,298L441.7,297.1M479.1,298L454.1,297.1M491.5,298L466.5,297M503.9,298L478.9,296.9M516.3,298L491.3,296.9M528.7,298L503.7,296.8M541.1,298L516.1,296.7M553.5,298L528.5,296.6M565.9,298L540.9,296.6M578.3,298L553.3,296.5M590.7,298L565.8,296.4M603.1,298L578.2,296.3M615.5,298L590.6,296.2M627.9,298L603,296.2M640.3,298L615.4,296.1M652.7,298L627.8,296M665.1,298L640.2,295.9M677.5,298L652.6,295.9M689.9,298L665,295.8M224.9,308.7L199.9,307.8M237.3,308.7L212.3,307.8M249.7,308.7L224.7,307.8M262.1,308.7L237.1,307.8M274.5,308.7L249.5,307.8M286.9,308.7L261.9,307.8M299.3,308.7L274.3,307.8M311.7,308.7L286.7,307.8M324.1,308.7L299.1,307.8M336.5,308.7L311.5,307.8M348.9,308.7L323.9,307.8M361.3,308.7L336.3,307.8M373.7,308.7L348.7,307.7M386.1,308.7L361.1,307.7M398.5,308.7L373.5,307.7M410.9,308.7L385.9,307.7M423.3,308.7L398.3,307.7M435.7,308.7L410.7,307.7M448.1,308.7L423.1,307.7M460.5,308.7L435.5,307.7M472.9,308.7L447.9,307.7M485.3,308.7L460.3,307.6M497.7,308.7L472.7,307.5M510.1,308.7L485.1,307.5M522.5,308.7L497.5,307.4M534.9,308.7L509.9,307.3M547.3,308.7L522.3,307.3M559.7,308.7L534.7,307.2M572.1,308.7L547.1,307.2M584.5,308.7L559.6,307.1M596.9,308.7L572,307M609.3,308.7L584.4,307M621.7,308.7L596.8,306.9M634.1,308.7L609.2,306.8M646.5,308.7L621.6,306.8M658.9,308.7L634,306.7M671.3,308.7L646.4,306.7M683.7,308.7L658.8,306.6M696.1,308.7L671.2,306.6M218.7,319.4L193.7,318.4M231.1,319.4L206.1,318.4M243.5,319.4L218.5,318.4M255.9,319.4L230.9,318.4M268.3,319.4L243.3,318.4M280.7,319.4L255.7,318.4M293.1,319.4L268.1,318.4M305.5,319.4L280.5,318.4M317.9,319.4L292.9,318.4M330.3,319.4L305.3,318.4M342.7,319.4L317.7,318.4M355.1,319.4L330.1,318.4M367.5,319.4L342.5,318.3M379.9,319.4L354.9,318.3M392.3,319.4L367.3,318.2M404.7,319.4L379.7,318.2M417.1,319.4L392.1,318.2M429.5,319.4L404.5,318.2M441.9,319.4L416.9,318.2M454.3,319.4L429.3,318.2M466.7,319.4L441.7,318.2M479.1,319.4L454.1,318.2M491.5,319.4L466.5,318.1M503.9,319.4L478.9,318.1M516.3,319.4L491.3,318M528.7,319.4L503.7,318M541.1,319.4L516.1,317.9M553.5,319.4L528.5,317.9M565.9,319.4L540.9,317.8M578.3,319.4L553.4,317.8M590.7,319.4L565.8,317.7M603.1,319.4L578.2,317.7M615.5,319.4L590.6,317.6M627.9,319.4L603,317.6M640.3,319.4L615.4,317.5M652.7,319.4L627.8,317.5M665.1,319.4L640.2,317.5M677.5,319.4L652.6,317.4M689.9,319.4L665,317.4M224.9,330.1L199.9,329M237.3,330.1L212.3,329M249.7,330.1L224.7,329M262.1,330.1L237.1,329M274.5,330.1L249.5,329M286.9,330.1L261.9,329M299.3,330.1L274.3,329M311.7,330.1L286.7,329M324.1,330.1L299.1,329M336.5,330.1L311.5,329M348.9,330.1L323.9,329M361.3,330.1L336.3,329M373.7,330.1L348.7,328.9M386.1,330.1L361.1,328.8M398.5,330.1L373.5,328.7M410.9,330.1L385.9,328.7M423.3,330.1L398.3,328.7M435.7,330.1L410.7,328.7M448.1,330.1L423.1,328.7M460.5,330.1L435.5,328.7M472.9,330.1L447.9,328.7M485.3,330.1L460.3,328.7M497.7,330.1L472.7,328.6M510.1,330.1L485.1,328.6M522.5,330.1L497.5,328.6M534.9,330.1L509.9,328.5M547.3,330.1L522.4,328.5M559.7,330.1L534.8,328.5M572.1,330.1L547.2,328.4M584.5,330.1L559.6,328.4M596.9,330.1L572,328.4M609.3,330.1L584.4,328.4M621.7,330.1L596.8,328.3M634.1,330.1L609.2,328.3M646.5,330.1L621.6,328.3M658.9,330.1L634,328.2M671.3,330.1L646.4,328.2M683.7,330.1L658.8,328.2M696.1,330.1L671.2,328.2M218.7,340.8L193.7,339.6M231.1,340.8L206.1,339.6M243.5,340.8L218.5,339.6M255.9,340.8L230.9,339.6M268.3,340.8L243.3,339.6M280.7,340.8L255.7,339.6M293.1,340.8L268.1,339.6M305.5,340.8L280.5,339.6M317.9,340.8L292.9,339.6M330.3,340.8L305.3,339.6M342.7,340.8L317.7,339.6M355.1,340.8L330.1,339.6M367.5,340.8L342.5,339.5M379.9,340.8L354.9,339.4M392.3,340.8L367.3,339.3M404.7,340.8L379.8,339.2M417.1,340.8L392.2,339.2M429.5,340.8L404.6,339.2M441.9,340.8L417,339.2M454.3,340.8L429.4,339.2M466.7,340.8L441.8,339.2M479.1,340.8L454.2,339.2M491.5,340.8L466.6,339.2M503.9,340.8L479,339.2M516.3,340.8L491.4,339.2M528.7,340.8L503.8,339.1M541.1,340.8L516.2,339.1M553.5,340.8L528.6,339.1M565.9,340.8L541,339.1M578.3,340.8L553.4,339.1M590.7,340.8L565.8,339.1M603.1,340.8L578.2,339.1M615.5,340.8L590.6,339.1M627.9,340.8L603,339M640.3,340.8L615.4,339M652.7,340.8L627.8,339M665.1,340.8L640.2,339M677.5,340.8L652.6,339M689.9,340.8L665,339M224.9,351.5L199.9,350.2M237.3,351.5L212.3,350.2M249.7,351.5L224.7,350.2M262.1,351.5L237.1,350.2M274.5,351.5L249.5,350.1M286.9,351.5L261.9,350.1M299.3,351.5L274.3,350.1M311.7,351.5L286.7,350.1M324.1,351.5L299.1,350.1M336.5,351.5L311.5,350.1M348.9,351.5L323.9,350.1M361.3,351.5L336.3,350.1M373.7,351.5L348.7,350M386.1,351.5L361.2,349.8M398.5,351.5L373.6,349.7M410.9,351.5L386,349.7M423.3,351.5L398.4,349.7M435.7,351.5L410.8,349.7M448.1,351.5L423.2,349.7M460.5,351.5L435.6,349.7M472.9,351.5L448,349.7M485.3,351.5L460.4,349.7M497.7,351.5L472.8,349.7M510.1,351.5L485.2,349.7M522.5,351.5L497.6,349.7M534.9,351.5L510,349.7M547.3,351.5L522.4,349.7M559.7,351.5L534.8,349.7M572.1,351.5L547.2,349.7M584.5,351.5L559.6,349.7M596.9,351.5L572,349.7M609.3,351.5L584.4,349.7M621.7,351.5L596.8,349.7M634.1,351.5L609.2,349.7M646.5,351.5L621.6,349.7M658.9,351.5L634,349.7M671.3,351.5L646.4,349.7M683.7,351.5L658.8,349.7M696.1,351.5L671.2,349.7M218.7,362.2L193.7,360.7M231.1,362.2L206.1,360.7M243.5,362.2L218.5,360.7M255.9,362.2L230.9,360.6M268.3,362.2L243.4,360.6M280.7,362.2L255.8,360.5M293.1,362.2L268.2,360.4M305.5,362.2L280.6,360.3M317.9,362.2L293,360.3M330.3,362.2L305.4,360.3M342.7,362.2L317.8,360.2M355.1,362.2L330.2,360.2M367.5,362.2L342.6,360.1M379.9,362.2L355,360M392.3,362.2L367.4,359.9M404.7,362.2L379.8,359.8M417.1,362.2L392.2,359.8M429.5,362.2L404.6,359.9M441.9,362.2L417,359.9M454.3,362.2L429.4,359.9M466.7,362.2L441.8,359.9M479.1,362.2L454.2,360M491.5,362.2L466.6,360M503.9,362.2L479,360M516.3,362.2L491.4,360.1M528.7,362.2L503.8,360.1M541.1,362.2L516.2,360.1M553.5,362.2L528.6,360.2M565.9,362.2L541,360.2M578.3,362.2L553.4,360.2M590.7,362.2L565.8,360.2M603.1,362.2L578.2,360.2M615.5,362.2L590.6,360.2M627.9,362.2L603,360.2M640.3,362.2L615.4,360.2M652.7,362.2L627.8,360.2M665.1,362.2L640.2,360.2M677.5,362.2L652.6,360.2M689.9,362.2L665,360.2M224.9,372.9L200,371.2M237.3,372.9L212.4,371.2M249.7,372.9L224.8,371.1M262.1,372.9L237.2,371M274.5,372.9L249.6,370.9M286.9,372.9L262,370.8M299.3,372.9L274.4,370.6M311.7,372.9L286.8,370.5M324.1,372.9L299.2,370.4M336.5,372.9L311.6,370.4M348.9,372.9L324,370.3M361.3,372.9L336.4,370.2M373.7,372.9L348.9,370.1M386.1,372.9L361.3,370.1M398.5,372.9L373.7,370M410.9,372.9L386.1,370M423.3,372.9L398.5,370M435.7,372.9L410.9,370.1M448.1,372.9L423.3,370.1M460.5,372.9L435.7,370.1M472.9,372.9L448,370.2M485.3,372.9L460.4,370.2M497.7,372.9L472.8,370.3M510.1,372.9L485.2,370.4M522.5,372.9L497.6,370.5M534.9,372.9L510,370.5M547.3,372.9L522.4,370.6M559.7,372.9L534.8,370.6M572.1,372.9L547.2,370.6M584.5,372.9L559.6,370.7M596.9,372.9L572,370.7M609.3,372.9L584.4,370.8M621.7,372.9L596.8,370.8M634.1,372.9L609.2,370.8M646.5,372.9L621.6,370.8M658.9,372.9L634,370.8M671.3,372.9L646.4,370.8M683.7,372.9L658.8,370.8M696.1,372.9L671.2,370.8M218.7,383.6L193.8,381.7M231.1,383.6L206.2,381.7M243.5,383.6L218.6,381.7M255.9,383.6L231,381.6M268.3,383.6L243.4,381.4M280.7,383.6L255.8,381.2M293.1,383.6L268.2,381M305.5,383.6L280.7,380.8M317.9,383.6L293.1,380.7M330.3,383.6L305.5,380.5M342.7,383.6L317.9,380.4M355.1,383.6L330.3,380.3M367.5,383.6L342.7,380.2M379.9,383.6L355.1,380.2M392.3,383.6L367.5,380.1M404.7,383.6L379.9,380.1M417.1,383.6L392.3,380.2M429.5,383.6L404.7,380.2M441.9,383.6L417.1,380.3M454.3,383.6L429.5,380.3M466.7,383.6L441.9,380.4M479.1,383.6L454.3,380.5M491.5,383.6L466.7,380.6M503.9,383.6L479.1,380.7M516.3,383.6L491.5,380.8M528.7,383.6L503.8,380.9M541.1,383.6L516.2,381M553.5,383.6L528.6,381M565.9,383.6L541,381.1M578.3,383.6L553.4,381.1M590.7,383.6L565.8,381.2M603.1,383.6L578.2,381.2M615.5,383.6L590.6,381.3M627.9,383.6L603,381.3M640.3,383.6L615.4,381.3M652.7,383.6L627.8,381.3M665.1,383.6L640.2,381.3M677.5,383.6L652.6,381.3M689.9,383.6L665,381.3M224.9,394.3L200,392.2M237.3,394.3L212.4,392.2M249.7,394.3L224.8,392.1M262.1,394.3L237.2,391.9M274.5,394.3L249.6,391.7M286.9,394.3L262.1,391.4M299.3,394.3L274.5,391.1M311.7,394.3L286.9,390.9M324.1,394.3L299.4,390.8M336.5,394.3L311.8,390.6M348.9,394.3L324.2,390.5M361.3,394.3L336.6,390.3M373.7,394.3L349,390.3M386.1,394.3L361.4,390.3M398.5,394.3L373.8,390.3M410.9,394.3L386.2,390.3M423.3,394.3L398.6,390.4M435.7,394.3L411,390.4M448.1,394.3L423.4,390.5M460.5,394.3L435.8,390.6M472.9,394.3L448.2,390.7M485.3,394.3L460.5,390.8M497.7,394.3L472.9,390.9M510.1,394.3L485.3,391.1M522.5,394.3L497.7,391.2M534.9,394.3L510.1,391.3M547.3,394.3L522.5,391.4M559.7,394.3L534.9,391.5M572.1,394.3L547.2,391.6M584.5,394.3L559.6,391.6M596.9,394.3L572,391.7M609.3,394.3L584.4,391.8M621.7,394.3L596.8,391.8M634.1,394.3L609.2,391.8M646.5,394.3L621.6,391.8M658.9,394.3L634,391.8M671.3,394.3L646.4,391.8M683.7,394.3L658.8,391.8M696.1,394.3L671.2,391.8M218.7,405L193.8,402.8M231.1,405L206.2,402.8M243.5,405L218.6,402.7M255.9,405L231,402.5M268.3,405L243.5,402.2M280.7,405L255.9,401.9M293.1,405L268.3,401.5M305.5,405L280.8,401.2M317.9,405L293.2,401M330.3,405L305.7,400.8M342.7,405L318.1,400.7M355.1,405L330.5,400.5M367.5,405L342.9,400.4M379.9,405L355.3,400.4M392.3,405L367.7,400.4M404.7,405L380.1,400.4M417.1,405L392.5,400.5M429.5,405L404.9,400.6M441.9,405L417.3,400.7M454.3,405L429.7,400.8M466.7,405L442,400.9M479.1,405L454.4,401M491.5,405L466.8,401.2M503.9,405L479.2,401.3M516.3,405L491.5,401.5M528.7,405L503.9,401.7M541.1,405L516.3,401.8M553.5,405L528.7,401.9M565.9,405L541.1,402M578.3,405L553.5,402.1M590.7,405L565.9,402.2M603.1,405L578.3,402.3M615.5,405L590.6,402.3M627.9,405L603,402.3M640.3,405L615.4,402.3M652.7,405L627.8,402.3M665.1,405L640.2,402.3M677.5,405L652.7,402.3M689.9,405L665.1,402.3M224.9,415.7L200,413.4M237.3,415.7L212.4,413.3M249.7,415.7L224.8,413M262.1,415.7L237.3,412.7M274.5,415.7L249.7,412.4M286.9,415.7L262.2,412M299.3,415.7L274.6,411.6M311.7,415.7L287.1,411.3M324.1,415.7L299.5,411.1M336.5,415.7L312,410.9M348.9,415.7L324.4,410.7M361.3,415.7L336.8,410.6M373.7,415.7L349.2,410.6M386.1,415.7L361.6,410.6M398.5,415.7L374,410.6M410.9,415.7L386.4,410.6M423.3,415.7L398.8,410.7M435.7,415.7L411.2,410.8M448.1,415.7L423.6,410.9M460.5,415.7L435.9,411M472.9,415.7L448.3,411.2M485.3,415.7L460.7,411.4M497.7,415.7L473,411.6M510.1,415.7L485.4,411.8M522.5,415.7L497.8,412M534.9,415.7L510.2,412.2M547.3,415.7L522.5,412.3M559.7,415.7L534.9,412.4M572.1,415.7L547.3,412.5M584.5,415.7L559.7,412.6M596.9,415.7L572.1,412.7M609.3,415.7L584.5,412.8M621.7,415.7L596.9,412.8M634.1,415.7L609.3,412.8M646.5,415.7L621.7,412.7M658.9,415.7L634.1,412.7M671.3,415.7L646.5,412.7M683.7,415.7L658.9,412.7M696.1,415.7L671.3,412.7M218.7,426.4L193.8,424M231.1,426.4L206.2,423.9M243.5,426.4L218.7,423.7M255.9,426.4L231.1,423.3M268.3,426.4L243.5,422.9M280.7,426.4L256,422.5M293.1,426.4L268.5,422M305.5,426.4L281,421.7M317.9,426.4L293.4,421.4M330.3,426.4L305.9,421.1M342.7,426.4L318.3,421M355.1,426.4L330.7,420.8M367.5,426.4L343.2,420.7M379.9,426.4L355.6,420.7M392.3,426.4L368,420.7M404.7,426.4L380.3,420.7M417.1,426.4L392.7,420.9M429.5,426.4L405.1,421M441.9,426.4L417.5,421.1M454.3,426.4L429.8,421.2M466.7,426.4L442.2,421.3M479.1,426.4L454.6,421.5M491.5,426.4L466.9,421.8M503.9,426.4L479.3,422M516.3,426.4L491.7,422.2M528.7,426.4L504,422.5M541.1,426.4L516.4,422.7M553.5,426.4L528.8,422.8M565.9,426.4L541.1,422.9M578.3,426.4L553.5,423M590.7,426.4L565.9,423.1M603.1,426.4L578.3,423.3M615.5,426.4L590.7,423.3M627.9,426.4L603.1,423.3M640.3,426.4L615.5,423.2M652.7,426.4L627.9,423.2M665.1,426.4L640.3,423.2M677.5,426.4L652.7,423.1M689.9,426.4L665.1,423.1M224.9,437.1L200,434.6M237.3,437.1L212.5,434.3M249.7,437.1L224.9,433.9M262.1,437.1L237.4,433.5M274.5,437.1L249.8,433M286.9,437.1L262.3,432.5M299.3,437.1L274.8,432.1M311.7,437.1L287.3,431.7M324.1,437.1L299.8,431.4M336.5,437.1L312.2,431.2M348.9,437.1L324.6,431.1M361.3,437.1L337.1,430.9M373.7,437.1L349.5,430.9M386.1,437.1L361.9,430.9M398.5,437.1L374.3,430.9M410.9,437.1L386.7,431M423.3,437.1L399,431.1M435.7,437.1L411.4,431.2M448.1,437.1L423.8,431.4M460.5,437.1L436.1,431.5M472.9,437.1L448.5,431.7M485.3,437.1L460.8,431.9M497.7,437.1L473.2,432.2M510.1,437.1L485.5,432.5M522.5,437.1L497.9,432.7M534.9,437.1L510.2,433M547.3,437.1L522.6,433.2M559.7,437.1L535,433.3M572.1,437.1L547.4,433.4M584.5,437.1L559.8,433.6M596.9,437.1L572.1,433.7M609.3,437.1L584.5,433.8M621.7,437.1L596.9,433.8M634.1,437.1L609.3,433.7M646.5,437.1L621.7,433.7M658.9,437.1L634.1,433.6M671.3,437.1L646.5,433.6M683.7,437.1L659,433.5M696.1,437.1L671.4,433.5M218.7,447.8L193.8,445.3M231.1,447.8L206.3,445M243.5,447.8L218.7,444.6M255.9,447.8L231.2,444.1M268.3,447.8L243.7,443.6M280.7,447.8L256.1,443.1M293.1,447.8L268.7,442.6M305.5,447.8L281.2,442.1M317.9,447.8L293.6,441.8M330.3,447.8L306.1,441.4M342.7,447.8L318.6,441.3M355.1,447.8L331,441.1M367.5,447.8L343.4,441M379.9,447.8L355.8,441M392.3,447.8L368.2,441M404.7,447.8L380.6,441.1M417.1,447.8L393,441.2M429.5,447.8L405.3,441.4M441.9,447.8L417.7,441.5M454.3,447.8L430.1,441.7M466.7,447.8L442.4,441.8M479.1,447.8L454.8,442.1M491.5,447.8L467.1,442.4M503.9,447.8L479.4,442.7M516.3,447.8L491.8,442.9M528.7,447.8L504.1,443.2M541.1,447.8L516.5,443.5M553.5,447.8L528.8,443.7M565.9,447.8L541.2,443.8M578.3,447.8L553.6,444M590.7,447.8L566,444.1M603.1,447.8L578.3,444.3M615.5,447.8L590.7,444.3M627.9,447.8L603.2,444.3M640.3,447.8L615.6,444.2M652.7,447.8L628,444.1M665.1,447.8L640.4,444.1M677.5,447.8L652.8,444M689.9,447.8L665.2,443.9M224.9,458.5L199.9,458.2M237.3,458.5L212.3,457.8M249.7,458.5L224.7,457.1M262.1,458.5L237.2,456.4M274.5,458.5L249.7,455.6M286.9,458.5L262.2,454.6M299.3,458.5L274.8,453.7M311.7,458.5L287.3,453.1M324.1,458.5L299.8,452.5M336.5,458.5L312.3,452.1M348.9,458.5L324.8,451.8M361.3,458.5L337.3,451.5M373.7,458.5L349.7,451.4M386.1,458.5L362.1,451.4M398.5,458.5L374.5,451.4M410.9,458.5L386.9,451.5M423.3,458.5L399.2,451.7M435.7,458.5L411.6,451.8M448.1,458.5L424,452M460.5,458.5L436.3,452.1M472.9,458.5L448.7,452.3M485.3,458.5L461,452.7M497.7,458.5L473.3,453.1M510.1,458.5L485.6,453.5M522.5,458.5L497.9,453.9M534.9,458.5L510.3,454.3M547.3,458.5L522.6,454.5M559.7,458.5L535,454.5M572.1,458.5L547.4,454.5M584.5,458.5L559.8,454.6M596.9,458.5L572.2,454.6M609.3,458.5L584.6,454.7M621.7,458.5L597,454.5M634.1,458.5L609.5,454.3M646.5,458.5L621.9,454.1M658.9,458.5L634.3,453.9M671.3,458.5L646.8,453.7M683.7,458.5L659.2,453.5M696.1,458.5L671.6,453.5M218.7,469.2L193.9,472.2M231.1,469.2L206.2,471.7M243.5,469.2L218.6,471M255.9,469.2L230.9,470M268.3,469.2L243.3,469M280.7,469.2L255.8,467.6M293.1,469.2L268.3,466.2M305.5,469.2L280.9,465M317.9,469.2L293.4,464.1M330.3,469.2L306,463.2M342.7,469.2L318.5,462.8M355.1,469.2L331.1,462.3M367.5,469.2L343.6,462M379.9,469.2L356,461.9M392.3,469.2L368.4,461.9M404.7,469.2L380.8,461.9M417.1,469.2L393.1,462M429.5,469.2L405.5,462.2M441.9,469.2L417.9,462.3M454.3,469.2L430.2,462.5M466.7,469.2L442.6,462.6M479.1,469.2L454.9,463M491.5,469.2L467.2,463.5M503.9,469.2L479.4,464M516.3,469.2L491.7,464.5M528.7,469.2L504,465.1M541.1,469.2L516.4,465.5M553.5,469.2L528.8,465.4M565.9,469.2L541.2,465.3M578.3,469.2L553.6,465.2M590.7,469.2L566,465.1M603.1,469.2L578.5,465M615.5,469.2L590.9,464.7M627.9,469.2L603.4,464.4M640.3,469.2L615.8,464.1M652.7,469.2L628.3,463.7M665.1,469.2L640.8,463.4M677.5,469.2L653.3,463M689.9,469.2L665.7,462.8M224.9,479.9L200.6,485.7M237.3,479.9L212.8,485.1M249.7,479.9L225,483.9M262.1,479.9L237.2,482.6M274.5,479.9L249.5,481.1M286.9,479.9L261.9,479.1M299.3,479.9L274.4,477.2M311.7,479.9L287,476M324.1,479.9L299.6,474.8M336.5,479.9L312.2,473.9M348.9,479.9L324.8,473.3M361.3,479.9L337.4,472.7M373.7,479.9L349.8,472.4M386.1,479.9L362.3,472.4M398.5,479.9L374.7,472.3M410.9,479.9L387.1,472.4M423.3,479.9L399.4,472.5M435.7,479.9L411.8,472.7M448.1,479.9L424.1,472.8M460.5,479.9L436.5,473M472.9,479.9L448.8,473.2M485.3,479.9L461,473.8M497.7,479.9L473.3,474.5M510.1,479.9L485.6,475.1M522.5,479.9L497.9,475.7M534.9,479.9L510.2,476.3M547.3,479.9L522.5,476.4M559.7,479.9L535,476.2M572.1,479.9L547.4,475.9M584.5,479.9L559.9,475.7M596.9,479.9L572.3,475.4M609.3,479.9L584.8,475.1M621.7,479.9L597.3,474.7M634.1,479.9L609.8,474.2M646.5,479.9L622.3,473.7M658.9,479.9L634.8,473.2M671.3,479.9L647.4,472.7M683.7,479.9L659.9,472.2M696.1,479.9L672.3,472.2M218.7,490.6L195.4,499.8M231.1,490.6L207.6,499M243.5,490.6L219.6,498M255.9,490.6L231.6,496.5M268.3,490.6L243.7,495M280.7,490.6L255.8,492.6M293.1,490.6L268.1,490.2M305.5,490.6L280.6,488.2M317.9,490.6L293.2,486.6M330.3,490.6L305.9,485.1M342.7,490.6L318.5,484.4M355.1,490.6L331.1,483.6M367.5,490.6L343.7,483M379.9,490.6L356.1,482.9M392.3,490.6L368.6,482.8M404.7,490.6L381,482.7M417.1,490.6L393.3,482.9M429.5,490.6L405.7,483M441.9,490.6L418,483.2M454.3,490.6L430.4,483.3M466.7,490.6L442.7,483.5M479.1,490.6L455,484.1M491.5,490.6L467.2,484.8M503.9,490.6L479.4,485.5M516.3,490.6L491.7,486.2M528.7,490.6L504,487M541.1,490.6L516.3,487.6M553.5,490.6L528.7,487.2M565.9,490.6L541.2,486.8M578.3,490.6L553.7,486.4M590.7,490.6L566.1,486M603.1,490.6L578.6,485.6M615.5,490.6L591.1,485.1M627.9,490.6L603.7,484.5M640.3,490.6L616.2,483.8M652.7,490.6L628.8,483.2M665.1,490.6L641.4,482.6M677.5,490.6L654.1,481.9M689.9,490.6L666.6,481.6M224.9,501.3L202.7,512.9M237.3,501.3L214.7,512M249.7,501.3L226.5,510.5M262.1,501.3L238.2,508.8M274.5,501.3L250.1,506.6M286.9,501.3L262,503.7M299.3,501.3L274.3,500.8M311.7,501.3L286.8,498.9M324.1,501.3L299.5,497.1M336.5,501.3L312.1,495.7M348.9,501.3L324.8,494.8M361.3,501.3L337.4,493.9M373.7,501.3L349.9,493.5M386.1,501.3L362.4,493.3M398.5,501.3L374.9,493.2M410.9,501.3L387.2,493.3M423.3,501.3L399.6,493.4M435.7,501.3L411.9,493.5M448.1,501.3L424.3,493.7M460.5,501.3L436.7,493.8M472.9,501.3L449,494.1M485.3,501.3L461.1,494.9M497.7,501.3L473.3,495.7M510.1,501.3L485.6,496.5M522.5,501.3L497.8,497.4M534.9,501.3L510.1,498.2M547.3,501.3L522.5,498.2M559.7,501.3L535,497.7M572.1,501.3L547.5,497.1M584.5,501.3L560,496.6M596.9,501.3L572.5,496M609.3,501.3L585,495.5M621.7,501.3L597.6,494.7M634.1,501.3L610.2,493.9M646.5,501.3L622.9,493.1M658.9,501.3L635.5,492.4M671.3,501.3L648.2,491.6M683.7,501.3L661,490.9M696.1,501.3L673.4,490.8M218.7,512L198.6,526.8M231.1,512L210.4,526M243.5,512L222.1,524.9M255.9,512L233.5,523.1M268.3,512L245.1,521.3M280.7,512L256.5,518.2M293.1,512L268.3,514.8M305.5,512L280.5,512M317.9,512L293,509.9M330.3,512L305.7,507.8M342.7,512L318.3,506.7M355.1,512L330.9,505.6M367.5,512L343.6,504.7M379.9,512L356.1,504.3M392.3,512L368.7,503.9M404.7,512L381.1,503.6M417.1,512L393.5,503.7M429.5,512L405.9,503.8M441.9,512L418.3,503.8M454.3,512L430.7,503.9M466.7,512L443,503.9M479.1,512L455.3,504.5M491.5,512L467.4,505.2M503.9,512L479.6,505.9M516.3,512L491.9,506.7M528.7,512L504.1,507.4M541.1,512L516.4,508M553.5,512L528.9,507.3M565.9,512L541.5,506.6M578.3,512L554.1,505.9M590.7,512L566.6,505.2M603.1,512L579.3,504.5M615.5,512L591.9,503.7M627.9,512L604.6,502.9M640.3,512L617.4,502M652.7,512L630.2,501.2M665.1,512L643,500.3M677.5,512L655.8,499.5M689.9,512L668.5,499M224.9,522.7L206.6,539.7M237.3,522.7L218.2,538.8M249.7,522.7L229.4,537.3M262.1,522.7L240.6,535.4M274.5,522.7L251.7,532.9M286.9,522.7L262.7,529.1M299.3,522.7L274.4,525.3M311.7,522.7L286.7,522.8M324.1,522.7L299.2,520.5M336.5,522.7L311.8,518.7M348.9,522.7L324.5,517.4M361.3,522.7L337.2,516.2M373.7,522.7L349.8,515.4M386.1,522.7L362.4,514.8M398.5,522.7L375,514.2M410.9,522.7L387.4,514.1M423.3,522.7L399.8,514.1M435.7,522.7L412.2,514M448.1,522.7L424.7,514M460.5,522.7L437.1,514M472.9,522.7L449.4,514.1M485.3,522.7L461.6,514.7M497.7,522.7L473.8,515.3M510.1,522.7L486,515.9M522.5,522.7L498.3,516.5M534.9,522.7L510.5,517.2M547.3,522.7L523,516.9M559.7,522.7L535.6,516M572.1,522.7L548.3,515.2M584.5,522.7L561,514.3M596.9,522.7L573.7,513.5M609.3,522.7L586.4,512.6M621.7,522.7L599.2,511.7M634.1,522.7L612.1,510.9M646.5,522.7L625,510M658.9,522.7L637.9,509.1M671.3,522.7L650.9,508.3M683.7,522.7L663.8,507.5M218.7,533.4L203.4,553.2M231.1,533.4L214.6,552.2M243.5,533.4L225.6,550.9M255.9,533.4L236.4,549M268.3,533.4L247.3,546.9M280.7,533.4L257.7,543.2M293.1,533.4L268.7,538.9M305.5,533.4L280.6,535.4M317.9,533.4L292.9,532.9M330.3,533.4L305.5,530.5M342.7,533.4L318.1,529.1M355.1,533.4L330.7,527.8M367.5,533.4L343.4,526.7M379.9,533.4L356,526M392.3,533.4L368.7,525.3M404.7,533.4L381.2,524.8M417.1,533.4L393.7,524.6M429.5,533.4L406.2,524.4M441.9,533.4L418.7,524.2M454.3,533.4L431.1,524M466.7,533.4L443.6,523.8M479.1,533.4L455.9,524.1M491.5,533.4L468.2,524.5M503.9,533.4L480.4,524.9M516.3,533.4L492.7,525.3M528.7,533.4L504.9,525.7M541.1,533.4L517.2,526M553.5,533.4L530,524.9M565.9,533.4L542.8,523.9M578.3,533.4L555.6,522.9M590.7,533.4L568.5,521.9M603.1,533.4L581.4,520.9M615.5,533.4L594.4,520M627.9,533.4L607.3,519.3M640.3,533.4L620.2,518.5M652.7,533.4L633.2,517.8M665.1,533.4L646.1,517.1M677.5,533.4L659.2,516.4M689.9,533.4L671.9,516M224.9,544.1L211,564.9M237.3,544.1L222,563.8M249.7,544.1L232.5,562.2M262.1,544.1L243,560.2M274.5,544.1L253.4,557.4M286.9,544.1L263.5,552.9M299.3,544.1L274.6,548.2M311.7,544.1L286.7,545.4M324.1,544.1L299.1,542.7M336.5,544.1L311.7,540.7M348.9,544.1L324.4,539.3M361.3,544.1L337.1,537.9M373.7,544.1L349.7,537M386.1,544.1L362.4,536.3M398.5,544.1L375,535.6M410.9,544.1L387.5,535.2M423.3,544.1L400.1,534.9M435.7,544.1L412.6,534.6M448.1,544.1L425.1,534.2M460.5,544.1L437.7,533.9M472.9,544.1L450.1,533.7M485.3,544.1L462.5,534M497.7,544.1L474.8,534.2M510.1,544.1L487.1,534.4M522.5,544.1L499.4,534.6M534.9,544.1L511.7,534.8M547.3,544.1L524.3,534.3M559.7,544.1L537.2,533.1M572.1,544.1L550.2,532.1M584.5,544.1L563.2,531M596.9,544.1L576.3,530M609.3,544.1L589.4,529M621.7,544.1L602.3,528.3M634.1,544.1L615.3,527.6M646.5,544.1L628.2,527M658.9,544.1L641.2,526.4M671.3,544.1L654.2,525.8M683.7,544.1L667.2,525.3M218.7,554.8L206.7,576.7M231.1,554.8L217.6,575.8M243.5,554.8L228.4,574.7M255.9,554.8L238.7,573M268.3,554.8L249.3,571.1M280.7,554.8L258.9,567.1M293.1,554.8L269.2,562.2M305.5,554.8L280.7,558M317.9,554.8L292.9,554.9M330.3,554.8L305.5,551.8M342.7,554.8L318.1,550.5M355.1,554.8L330.8,549.1M367.5,554.8L343.5,547.9M379.9,554.8L356.1,547.1M392.3,554.8L368.8,546.4M404.7,554.8L381.4,545.8M417.1,554.8L393.9,545.4M429.5,554.8L406.5,545M441.9,554.8L419.1,544.6M454.3,554.8L431.6,544.2M466.7,554.8L444.2,543.9M479.1,554.8L456.7,543.8M491.5,554.8L469,543.8M503.9,554.8L481.4,543.9M516.3,554.8L493.8,543.9M528.7,554.8L506.2,544M541.1,554.8L518.6,543.9M553.5,554.8L531.5,542.9M565.9,554.8L544.5,541.8M578.3,554.8L557.6,540.8M590.7,554.8L570.7,539.8M603.1,554.8L583.8,538.8M615.5,554.8L596.9,538.1M627.9,554.8L609.8,537.5M640.3,554.8L622.8,537M652.7,554.8L635.7,536.5M665.1,554.8L648.7,536M677.5,554.8L661.6,535.5M689.9,554.8L674.4,535.2M224.9,565.5L213.3,587.6M237.3,565.5L224.2,586.8M249.7,565.5L234.7,585.5M262.1,565.5L245.1,583.8M274.5,565.5L255,581.2M286.9,565.5L264.4,576.4M299.3,565.5L275,571.2M311.7,565.5L286.8,567.6M324.1,565.5L299.1,564M336.5,565.5L311.8,561.6M348.9,565.5L324.5,560.2M361.3,565.5L337.2,558.9M373.7,565.5L349.9,558M386.1,565.5L362.5,557.2M398.5,565.5L375.2,556.5M410.9,565.5L387.8,556M423.3,565.5L400.4,555.6M435.7,565.5L413,555.1M448.1,565.5L425.6,554.6M460.5,565.5L438.2,554.2M472.9,565.5L450.8,553.8M485.3,565.5L463.3,553.7M497.7,565.5L475.7,553.6M510.1,565.5L488.2,553.4M522.5,565.5L500.7,553.3M534.9,565.5L513.1,553.2M547.3,565.5L525.9,552.6M559.7,565.5L538.9,551.6M572.1,565.5L552,550.6M584.5,565.5L565.2,549.6M596.9,565.5L578.3,548.7M609.3,565.5L591.6,547.9M621.7,565.5L604.5,547.4M634.1,565.5L617.4,546.9M646.5,565.5L630.3,546.5M658.9,565.5L643.2,546M671.3,565.5L656.1,545.6M683.7,565.5L669.1,545.2M330.3,576.2L305.5,572.8M342.7,576.2L318.2,571.4M355.1,576.2L330.9,570M367.5,576.2L343.6,568.8M379.9,576.2L356.3,568.1M392.3,576.2L368.9,567.4M404.7,576.2L381.6,566.7M417.1,576.2L394.2,566.2M429.5,576.2L406.8,565.6M441.9,576.2L419.5,565.1M454.3,576.2L432.2,564.6M466.7,576.2L444.8,564.1M479.1,576.2L457.4,563.7M491.5,576.2L470,563.4M503.9,576.2L482.6,563.2M516.3,576.2L495.1,562.9M528.7,576.2L507.7,562.6M541.1,576.2L520.3,562.3M553.5,576.2L533.4,561.3M565.9,576.2L546.5,560.4M578.3,576.2L559.7,559.5M590.7,576.2L572.9,558.7M603.1,576.2L586.1,557.9M615.5,576.2L599.2,557.2M627.9,576.2L612.1,556.9M640.3,576.2L624.9,556.5M652.7,576.2L637.8,556.1M665.1,576.2L650.7,555.8M677.5,576.2L663.6,555.4M485.3,586.9L463.9,574M497.7,586.9L476.5,573.7M510.1,586.9L489.1,573.3M522.5,586.9L501.7,573M534.9,586.9L514.3,572.7M547.3,586.9L527.2,572M559.7,586.9L540.3,571.1M572.1,586.9L553.5,570.2M584.5,586.9L566.7,569.4M596.9,586.9L579.9,568.6M609.3,586.9L593.2,567.8M621.7,586.9L606.1,567.4M634.1,586.9L618.9,567M646.5,586.9L631.8,566.7M658.9,586.9L644.6,566.4M671.3,586.9L657.5,566M683.7,586.9L670.4,565.7" stroke="#000" stroke-width="0.45" fill="none"/>
<path d="M202.8,104.4l-0,-6.2M204.7,105.4l-0,-6.2M206.6,106.4l-0,-6.2M215.1,104.5l-0,-6.2M217,105.5l-0,-6.2M219,106.5l-0,-6.2M227.4,104.7l-0.1,-6.2M229.4,105.7l-0.1,-6.2M231.3,106.7l-0.1,-6.2M239.7,104.9l-0.2,-6.2M241.7,105.9l-0.2,-6.2M243.6,106.8l-0.2,-6.2M252,105.2l-0.2,-6.2M254,106.1l-0.2,-6.2M255.9,107l-0.2,-6.2M264.3,105.5l-0.3,-6.2M266.2,106.4l-0.3,-6.2M268.2,107.3l-0.3,-6.2M276.5,105.8l-0.4,-6.2M278.5,106.7l-0.4,-6.2M280.4,107.6l-0.4,-6.2M288.8,106.1l-0.5,-6.2M290.7,107l-0.5,-6.2M292.7,107.9l-0.5,-6.2M294.7,108.7l-0.2,-3.1M301,106.5l-0.6,-6.2M303,107.3l-0.6,-6.2M305,108.1l-0.6,-6.2M307,109l-0.3,-3.1M313.2,106.9l-0.7,-6.2M315.2,107.7l-0.7,-6.2M317.2,108.5l-0.7,-6.2M319.2,109.3l-0.3,-3.1M325.4,107.5l-0.9,-6.1M327.4,108.2l-0.9,-6.1M329.5,109l-0.9,-6.1M331.5,109.7l-0.9,-6.1M337.6,108.1l-1,-6.1M339.7,108.8l-1,-6.1M341.7,109.5l-1,-6.1M343.7,110.2l-1,-6.1M349.8,108.8l-1.2,-6.1M351.9,109.4l-1.2,-6.1M353.9,110l-1.2,-6.1M356,110.7l-1.2,-6.1M362,109.5l-1.4,-6.1M364.1,110l-1.4,-6.1M366.1,110.6l-1.4,-6.1M368.2,111.2l-1.4,-6.1M370.3,111.7l-0.7,-3M374.2,110.2l-1.5,-6M376.3,110.7l-1.5,-6M378.4,111.2l-1.5,-6M380.5,111.7l-1.5,-6M382.6,112.2l-0.8,-3M386.4,110.9l-1.7,-6M388.5,111.4l-1.7,-6M390.7,111.8l-1.7,-6M392.8,112.2l-1.7,-6M394.9,112.7l-0.9,-3M398.7,111.6l-1.9,-5.9M400.8,112l-1.9,-5.9M402.9,112.4l-1.9,-5.9M405,112.8l-1.9,-5.9M407.2,113.2l-0.9,-3M196.6,115.2l-0,-6.2M198.5,116.2l-0,-6.2M200.4,117.2l-0,-6.2M208.9,115.3l-0.1,-6.2M210.8,116.3l-0.1,-6.2M212.7,117.3l-0.1,-6.2M221.2,115.5l-0.1,-6.2M223.1,116.5l-0.1,-6.2M225,117.4l-0.1,-6.2M233.5,115.7l-0.2,-6.2M235.4,116.7l-0.2,-6.2M237.3,117.6l-0.2,-6.2M245.8,116l-0.3,-6.2M247.7,116.9l-0.3,-6.2M249.6,117.8l-0.3,-6.2M258,116.3l-0.3,-6.2M260,117.2l-0.3,-6.2M261.9,118.1l-0.3,-6.2M270.3,116.6l-0.4,-6.2M272.2,117.5l-0.4,-6.2M274.2,118.4l-0.4,-6.2M282.5,117l-0.5,-6.2M284.5,117.8l-0.5,-6.2M286.5,118.7l-0.5,-6.2M288.4,119.5l-0.3,-3.1M294.8,117.3l-0.6,-6.2M296.8,118.1l-0.6,-6.2M298.8,118.9l-0.6,-6.2M300.7,119.7l-0.3,-3.1M307,117.6l-0.7,-6.2M309,118.4l-0.7,-6.2M311,119.2l-0.7,-6.2M313,120l-0.4,-3.1M319.2,118.2l-0.9,-6.1M321.2,118.9l-0.9,-6.1M323.3,119.7l-0.9,-6.1M325.3,120.4l-0.4,-3.1M331.4,118.8l-1,-6.1M333.5,119.5l-1,-6.1M335.5,120.2l-1,-6.1M337.5,120.9l-1,-6.1M343.6,119.4l-1.2,-6.1M345.7,120l-1.2,-6.1M347.7,120.7l-1.2,-6.1M349.8,121.3l-1.2,-6.1M355.8,120.1l-1.3,-6.1M357.9,120.6l-1.3,-6.1M360,121.2l-1.3,-6.1M362,121.8l-1.3,-6.1M368,120.7l-1.5,-6M370.1,121.3l-1.5,-6M372.2,121.8l-1.5,-6M374.3,122.3l-1.5,-6M376.4,122.8l-0.7,-3M380.3,121.4l-1.7,-6M382.4,121.9l-1.7,-6M384.5,122.4l-1.7,-6M386.6,122.8l-1.7,-6M388.7,123.3l-0.8,-3M392.5,122.2l-1.8,-5.9M394.6,122.6l-1.8,-5.9M396.8,123l-1.8,-5.9M398.9,123.4l-1.8,-5.9M401,123.8l-0.9,-3M404.8,122.9l-2,-5.9M406.9,123.2l-2,-5.9M409.1,123.6l-2,-5.9M411.2,123.9l-2,-5.9M413.3,124.2l-1,-2.9M202.6,126.2l-0.1,-6.2M204.5,127.1l-0.1,-6.2M206.5,128.1l-0.1,-6.2M215,126.3l-0.1,-6.2M216.9,127.3l-0.1,-6.2M218.8,128.2l-0.1,-6.2M227.2,126.5l-0.2,-6.2M229.2,127.5l-0.2,-6.2M231.1,128.4l-0.2,-6.2M239.5,126.8l-0.3,-6.2M241.4,127.7l-0.3,-6.2M243.4,128.7l-0.3,-6.2M251.8,127.1l-0.4,-6.2M253.7,128l-0.4,-6.2M255.7,128.9l-0.4,-6.2M264,127.4l-0.5,-6.2M266,128.3l-0.5,-6.2M267.9,129.2l-0.5,-6.2M276.3,127.8l-0.6,-6.2M278.2,128.6l-0.6,-6.2M280.2,129.5l-0.6,-6.2M288.5,128.1l-0.6,-6.2M290.5,128.9l-0.6,-6.2M292.5,129.7l-0.6,-6.2M294.5,130.5l-0.3,-3.1M300.8,128.4l-0.7,-6.2M302.8,129.2l-0.7,-6.2M304.8,130l-0.7,-6.2M306.8,130.8l-0.4,-3.1M313,128.9l-0.9,-6.1M315,129.7l-0.9,-6.1M317.1,130.4l-0.9,-6.1M319.1,131.1l-0.4,-3.1M325.2,129.5l-1,-6.1M327.3,130.2l-1,-6.1M329.3,130.9l-1,-6.1M331.3,131.6l-1,-6.1M337.4,130.1l-1.2,-6.1M339.5,130.7l-1.2,-6.1M341.5,131.4l-1.2,-6.1M343.6,132l-1.2,-6.1M349.6,130.7l-1.3,-6.1M351.7,131.3l-1.3,-6.1M353.8,131.9l-1.3,-6.1M355.8,132.5l-1.3,-6.1M361.9,131.3l-1.5,-6M364,131.9l-1.5,-6M366,132.4l-1.5,-6M368.1,132.9l-1.5,-6M370.2,133.5l-0.7,-3M374.1,132l-1.6,-6M376.2,132.5l-1.6,-6M378.3,132.9l-1.6,-6M380.4,133.4l-1.6,-6M382.5,133.9l-0.8,-3M386.4,132.7l-1.8,-5.9M388.5,133.1l-1.8,-5.9M390.6,133.5l-1.8,-5.9M392.7,133.9l-1.8,-5.9M394.8,134.3l-0.9,-3M398.6,133.4l-2,-5.9M400.8,133.7l-2,-5.9M402.9,134.1l-2,-5.9M405,134.4l-2,-5.9M407.1,134.8l-1,-2.9M196.4,137l-0.1,-6.2M198.3,137.9l-0.1,-6.2M200.2,138.9l-0.1,-6.2M208.7,137.1l-0.2,-6.2M210.6,138.1l-0.2,-6.2M212.5,139l-0.2,-6.2M221,137.3l-0.2,-6.2M222.9,138.2l-0.2,-6.2M224.9,139.2l-0.2,-6.2M233.2,137.6l-0.3,-6.2M235.2,138.5l-0.3,-6.2M237.1,139.4l-0.3,-6.2M245.5,137.9l-0.4,-6.2M247.5,138.8l-0.4,-6.2M249.4,139.7l-0.4,-6.2M257.8,138.3l-0.5,-6.2M259.7,139.1l-0.5,-6.2M261.7,140l-0.5,-6.2M270,138.6l-0.6,-6.2M272,139.4l-0.6,-6.2M274,140.3l-0.6,-6.2M282.3,138.9l-0.7,-6.2M284.3,139.7l-0.7,-6.2M286.3,140.5l-0.7,-6.2M288.3,141.3l-0.3,-3.1M294.5,139.3l-0.8,-6.2M296.6,140l-0.8,-6.2M298.6,140.8l-0.8,-6.2M300.6,141.6l-0.4,-3.1M306.8,139.6l-0.9,-6.1M308.8,140.4l-0.9,-6.1M310.9,141.1l-0.9,-6.1M312.9,141.8l-0.4,-3.1M319,140.2l-1,-6.1M321.1,140.9l-1,-6.1M323.1,141.6l-1,-6.1M325.1,142.3l-0.5,-3.1M331.2,140.8l-1.2,-6.1M333.3,141.4l-1.2,-6.1M335.3,142.1l-1.2,-6.1M337.4,142.7l-1.2,-6.1M343.4,141.4l-1.3,-6.1M345.5,142l-1.3,-6.1M347.6,142.6l-1.3,-6.1M349.7,143.1l-1.3,-6.1M355.7,142l-1.5,-6M357.8,142.5l-1.5,-6M359.9,143.1l-1.5,-6M361.9,143.6l-1.5,-6M367.9,142.6l-1.6,-6M370,143.1l-1.6,-6M372.1,143.6l-1.6,-6M374.2,144l-1.6,-6M376.3,144.5l-0.8,-3M380.2,143.2l-1.8,-5.9M382.3,143.7l-1.8,-5.9M384.4,144.1l-1.8,-5.9M386.5,144.5l-1.8,-5.9M388.6,144.9l-0.9,-3M392.5,143.9l-1.9,-5.9M394.6,144.3l-1.9,-5.9M396.7,144.6l-1.9,-5.9M398.8,145l-1.9,-5.9M400.9,145.4l-1,-2.9M404.8,144.6l-2.1,-5.8M406.9,144.9l-2.1,-5.8M409,145.2l-2.1,-5.8M411.1,145.5l-2.1,-5.8M413.3,145.8l-1,-2.9M202.3,148.3l-0.3,-6.2M204.2,149.2l-0.3,-6.2M206.2,150.1l-0.3,-6.2M214.6,148.5l-0.4,-6.2M216.5,149.4l-0.4,-6.2M218.5,150.3l-0.4,-6.2M226.9,148.7l-0.4,-6.2M228.8,149.6l-0.4,-6.2M230.8,150.5l-0.4,-6.2M239.1,149l-0.5,-6.2M241.1,149.9l-0.5,-6.2M243.1,150.7l-0.5,-6.2M251.4,149.4l-0.6,-6.2M253.4,150.2l-0.6,-6.2M255.4,151l-0.6,-6.2M263.6,149.7l-0.7,-6.2M265.6,150.5l-0.7,-6.2M267.6,151.3l-0.7,-6.2M275.9,150.1l-0.8,-6.1M277.9,150.8l-0.8,-6.1M279.9,151.6l-0.8,-6.1M288.2,150.4l-0.9,-6.1M290.2,151.2l-0.9,-6.1M292.2,151.9l-0.9,-6.1M294.2,152.6l-0.4,-3.1M300.5,150.8l-1,-6.1M302.5,151.5l-1,-6.1M304.5,152.2l-1,-6.1M306.6,152.9l-0.5,-3.1M312.7,151.2l-1.1,-6.1M314.8,151.9l-1.1,-6.1M316.8,152.5l-1.1,-6.1M318.8,153.2l-0.5,-3.1M324.9,151.8l-1.2,-6.1M327,152.4l-1.2,-6.1M329.1,153l-1.2,-6.1M331.1,153.6l-1.2,-6.1M337.2,152.3l-1.4,-6M339.3,152.9l-1.4,-6M341.3,153.4l-1.4,-6M343.4,154l-1.4,-6M349.4,152.8l-1.5,-6M351.5,153.4l-1.5,-6M353.6,153.9l-1.5,-6M355.7,154.4l-1.5,-6M361.7,153.4l-1.6,-6M363.8,153.9l-1.6,-6M365.9,154.3l-1.6,-6M368,154.8l-1.6,-6M370.1,155.3l-0.8,-3M374,153.9l-1.8,-5.9M376.1,154.4l-1.8,-5.9M378.2,154.8l-1.8,-5.9M380.3,155.2l-1.8,-5.9M382.4,155.6l-0.9,-3M386.3,154.6l-1.9,-5.9M388.4,154.9l-1.9,-5.9M390.5,155.3l-1.9,-5.9M392.6,155.7l-1.9,-5.9M394.7,156.1l-1,-2.9M398.6,155.2l-2.1,-5.8M400.7,155.5l-2.1,-5.8M402.8,155.9l-2.1,-5.8M405,156.2l-2.1,-5.8M407.1,156.5l-1,-2.9M195.8,159.5l-0.5,-6.2M197.8,160.4l-0.5,-6.2M199.7,161.3l-0.5,-6.2M208.1,159.7l-0.5,-6.2M210.1,160.6l-0.5,-6.2M212.1,161.4l-0.5,-6.2M220.4,160l-0.6,-6.2M222.4,160.8l-0.6,-6.2M224.4,161.6l-0.6,-6.2M232.7,160.2l-0.6,-6.2M234.7,161l-0.6,-6.2M236.7,161.8l-0.6,-6.2M245,160.5l-0.7,-6.2M247,161.3l-0.7,-6.2M249,162.1l-0.7,-6.2M257.3,160.9l-0.8,-6.1M259.3,161.6l-0.8,-6.1M261.3,162.4l-0.8,-6.1M269.5,161.3l-0.9,-6.1M271.5,162l-0.9,-6.1M273.6,162.7l-0.9,-6.1M281.8,161.7l-1,-6.1M283.8,162.4l-1,-6.1M285.9,163l-1,-6.1M287.9,163.7l-0.5,-3.1M294.1,162l-1.1,-6.1M296.1,162.7l-1.1,-6.1M298.2,163.3l-1.1,-6.1M300.2,164l-0.6,-3M306.4,162.4l-1.2,-6.1M308.4,163l-1.2,-6.1M310.5,163.6l-1.2,-6.1M312.5,164.2l-0.6,-3M318.6,162.8l-1.3,-6.1M320.7,163.4l-1.3,-6.1M322.8,164l-1.3,-6.1M324.8,164.6l-0.7,-3M330.9,163.3l-1.4,-6M333,163.9l-1.4,-6M335.1,164.4l-1.4,-6M337.1,164.9l-1.4,-6M343.2,163.8l-1.6,-6M345.3,164.3l-1.6,-6M347.4,164.8l-1.6,-6M349.5,165.3l-1.6,-6M355.5,164.3l-1.7,-6M357.6,164.7l-1.7,-6M359.7,165.2l-1.7,-6M361.8,165.7l-1.7,-6M367.8,164.8l-1.8,-5.9M369.9,165.2l-1.8,-5.9M372,165.6l-1.8,-5.9M374.1,166l-1.8,-5.9M376.2,166.4l-0.9,-3M380.1,165.3l-1.9,-5.9M382.2,165.7l-1.9,-5.9M384.3,166l-1.9,-5.9M386.4,166.4l-1.9,-5.9M388.5,166.8l-1,-2.9M392.4,165.9l-2.1,-5.8M394.5,166.2l-2.1,-5.8M396.6,166.5l-2.1,-5.8M398.8,166.9l-2.1,-5.8M400.9,167.2l-1,-2.9M404.7,166.5l-2.2,-5.8M406.8,166.8l-2.2,-5.8M409,167l-2.2,-5.8M411.1,167.3l-2.2,-5.8M413.2,167.6l-1.1,-2.9M201.7,171l-0.7,-6.2M203.7,171.8l-0.7,-6.2M205.7,172.6l-0.7,-6.2M214,171.2l-0.7,-6.2M216,172l-0.7,-6.2M218,172.8l-0.7,-6.2M226.3,171.5l-0.8,-6.1M228.3,172.2l-0.8,-6.1M230.3,173l-0.8,-6.1M238.6,171.7l-0.8,-6.1M240.6,172.4l-0.8,-6.1M242.7,173.2l-0.8,-6.1M250.9,172l-0.9,-6.1M252.9,172.7l-0.9,-6.1M255,173.4l-0.9,-6.1M263.2,172.5l-1,-6.1M265.2,173.1l-1,-6.1M267.2,173.8l-1,-6.1M275.4,172.9l-1.2,-6.1M277.5,173.5l-1.2,-6.1M279.5,174.2l-1.2,-6.1M287.7,173.3l-1.2,-6.1M289.8,173.9l-1.2,-6.1M291.8,174.5l-1.2,-6.1M293.9,175.1l-0.6,-3M300,173.6l-1.3,-6.1M302.1,174.2l-1.3,-6.1M304.2,174.8l-1.3,-6.1M306.2,175.3l-0.7,-3M312.3,174l-1.4,-6M314.4,174.5l-1.4,-6M316.5,175.1l-1.4,-6M318.6,175.6l-0.7,-3M324.6,174.4l-1.5,-6M326.7,174.9l-1.5,-6M328.8,175.4l-1.5,-6M330.9,175.9l-1.5,-6M336.9,174.8l-1.6,-6M339,175.3l-1.6,-6M341.1,175.8l-1.6,-6M343.2,176.2l-1.6,-6M349.2,175.2l-1.7,-5.9M351.3,175.7l-1.7,-5.9M353.4,176.1l-1.7,-5.9M355.5,176.5l-1.7,-5.9M361.5,175.7l-1.8,-5.9M363.6,176.1l-1.8,-5.9M365.8,176.5l-1.8,-5.9M367.9,176.9l-1.8,-5.9M370,177.3l-0.9,-3M373.9,176.1l-1.9,-5.9M376,176.5l-1.9,-5.9M378.1,176.8l-1.9,-5.9M380.2,177.2l-1.9,-5.9M382.3,177.5l-1,-2.9M386.2,176.6l-2.1,-5.8M388.3,176.9l-2.1,-5.8M390.4,177.3l-2.1,-5.8M392.6,177.6l-2.1,-5.8M394.7,177.9l-1,-2.9M398.5,177.2l-2.2,-5.8M400.6,177.4l-2.2,-5.8M402.8,177.7l-2.2,-5.8M404.9,178l-2.2,-5.8M407,178.2l-1.1,-2.9M658.7,178.8l-2.6,-5.6M660.9,179l-2.6,-5.6M663,179.1l-2.6,-5.6M665.2,179.2l-2.6,-5.6M667.3,179.3l-1.3,-2.8M671.1,178.8l-2.6,-5.6M673.3,178.9l-2.6,-5.6M675.4,179.1l-2.6,-5.6M677.6,179.2l-2.6,-5.6M679.7,179.3l-1.3,-2.8M195.3,182.2l-0.8,-6.1M197.3,183l-0.8,-6.1M199.3,183.7l-0.8,-6.1M207.6,182.5l-0.9,-6.1M209.6,183.2l-0.9,-6.1M211.6,184l-0.9,-6.1M219.9,182.7l-0.9,-6.1M221.9,183.4l-0.9,-6.1M224,184.2l-0.9,-6.1M232.2,182.9l-1,-6.1M234.3,183.6l-1,-6.1M236.3,184.3l-1,-6.1M244.6,183.1l-1,-6.1M246.6,183.8l-1,-6.1M248.6,184.5l-1,-6.1M256.8,183.6l-1.2,-6.1M258.9,184.2l-1.2,-6.1M260.9,184.9l-1.2,-6.1M269.1,184.1l-1.3,-6.1M271.1,184.7l-1.3,-6.1M273.2,185.3l-1.3,-6.1M281.4,184.5l-1.4,-6M283.4,185.1l-1.4,-6M285.5,185.6l-1.4,-6M287.6,186.2l-0.7,-3M293.7,184.8l-1.5,-6M295.8,185.4l-1.5,-6M297.8,185.9l-1.5,-6M299.9,186.4l-0.7,-3M306,185.2l-1.6,-6M308.1,185.7l-1.6,-6M310.2,186.2l-1.6,-6M312.3,186.7l-0.8,-3M318.3,185.6l-1.6,-6M320.4,186l-1.6,-6M322.5,186.5l-1.6,-6M324.6,187l-0.8,-3M330.6,185.9l-1.7,-6M332.7,186.3l-1.7,-6M334.8,186.8l-1.7,-6M336.9,187.2l-1.7,-6M343,186.3l-1.8,-5.9M345.1,186.7l-1.8,-5.9M347.2,187.1l-1.8,-5.9M349.3,187.5l-1.8,-5.9M355.3,186.6l-1.9,-5.9M357.4,187l-1.9,-5.9M359.5,187.4l-1.9,-5.9M361.6,187.8l-1.9,-5.9M367.6,187l-2,-5.9M369.7,187.3l-2,-5.9M371.9,187.7l-2,-5.9M374,188l-2,-5.9M376.1,188.4l-1,-2.9M380,187.4l-2.1,-5.8M382.1,187.7l-2.1,-5.8M384.2,188l-2.1,-5.8M386.3,188.3l-2.1,-5.8M388.5,188.6l-1,-2.9M392.3,187.9l-2.2,-5.8M394.4,188.2l-2.2,-5.8M396.6,188.4l-2.2,-5.8M398.7,188.7l-2.2,-5.8M400.8,189l-1.1,-2.9M404.6,188.4l-2.3,-5.7M406.8,188.6l-2.3,-5.7M408.9,188.8l-2.3,-5.7M411.1,189.1l-2.3,-5.7M413.2,189.3l-1.2,-2.9M640.1,189.4l-2.6,-5.6M642.3,189.6l-2.6,-5.6M644.4,189.7l-2.6,-5.6M646.6,189.8l-2.6,-5.6M648.7,190l-1.3,-2.8M652.6,189.2l-2.5,-5.7M654.7,189.4l-2.5,-5.7M656.9,189.6l-2.5,-5.7M659,189.7l-2.5,-5.7M661.1,189.9l-1.3,-2.8M665,189.1l-2.5,-5.7M667.1,189.3l-2.5,-5.7M669.3,189.5l-2.5,-5.7M671.4,189.6l-2.5,-5.7M673.5,189.8l-1.2,-2.8M201.2,193.8l-1,-6.1M203.2,194.5l-1,-6.1M205.3,195.2l-1,-6.1M213.5,194.1l-1.1,-6.1M215.5,194.7l-1.1,-6.1M217.6,195.4l-1.1,-6.1M225.8,194.3l-1.2,-6.1M227.9,194.9l-1.2,-6.1M229.9,195.6l-1.2,-6.1M238.2,194.5l-1.2,-6.1M240.2,195.1l-1.2,-6.1M242.3,195.7l-1.2,-6.1M250.5,194.7l-1.3,-6.1M252.6,195.3l-1.3,-6.1M254.6,195.9l-1.3,-6.1M262.7,195.3l-1.4,-6M264.8,195.8l-1.4,-6M266.9,196.4l-1.4,-6M275,195.8l-1.5,-6M277.1,196.3l-1.5,-6M279.2,196.8l-1.5,-6M287.3,196.1l-1.6,-6M289.4,196.6l-1.6,-6M291.5,197.1l-1.6,-6M293.6,197.6l-0.8,-3M299.7,196.5l-1.7,-6M301.8,196.9l-1.7,-6M303.9,197.4l-1.7,-6M306,197.8l-0.8,-3M312,196.8l-1.8,-5.9M314.1,197.2l-1.8,-5.9M316.2,197.6l-1.8,-5.9M318.3,198l-0.9,-3M324.3,197.1l-1.8,-5.9M326.4,197.5l-1.8,-5.9M328.6,197.9l-1.8,-5.9M330.7,198.3l-1.8,-5.9M336.7,197.4l-1.9,-5.9M338.8,197.7l-1.9,-5.9M340.9,198.1l-1.9,-5.9M343,198.5l-1.9,-5.9M349,197.7l-2,-5.9M351.1,198l-2,-5.9M353.3,198.4l-2,-5.9M355.4,198.7l-2,-5.9M361.4,198l-2.1,-5.8M363.5,198.3l-2.1,-5.8M365.6,198.6l-2.1,-5.8M367.8,198.9l-2.1,-5.8M369.9,199.2l-1,-2.9M373.7,198.3l-2.1,-5.8M375.9,198.6l-2.1,-5.8M378,198.9l-2.1,-5.8M380.1,199.1l-2.1,-5.8M382.3,199.4l-1.1,-2.9M386.1,198.7l-2.2,-5.8M388.2,198.9l-2.2,-5.8M390.4,199.2l-2.2,-5.8M392.5,199.5l-2.2,-5.8M394.6,199.7l-1.1,-2.9M398.4,199.1l-2.3,-5.7M400.6,199.4l-2.3,-5.7M402.7,199.6l-2.3,-5.7M404.8,199.8l-2.3,-5.7M407,200l-1.2,-2.9M410.8,199.6l-2.4,-5.7M412.9,199.8l-2.4,-5.7M415.1,200l-2.4,-5.7M417.2,200.1l-2.4,-5.7M419.4,200.3l-1.2,-2.9M621.5,200.2l-2.6,-5.6M623.7,200.3l-2.6,-5.6M625.8,200.4l-2.6,-5.6M628,200.6l-2.6,-5.6M630.1,200.7l-1.3,-2.8M634,200l-2.5,-5.7M636.1,200.1l-2.5,-5.7M638.2,200.3l-2.5,-5.7M640.4,200.4l-2.5,-5.7M642.5,200.6l-1.3,-2.8M646.4,199.8l-2.5,-5.7M648.5,199.9l-2.5,-5.7M650.7,200.1l-2.5,-5.7M652.8,200.3l-2.5,-5.7M654.9,200.4l-1.2,-2.8M658.8,199.5l-2.4,-5.7M660.9,199.7l-2.4,-5.7M663.1,199.9l-2.4,-5.7M665.2,200.1l-2.4,-5.7M667.4,200.3l-1.2,-2.9M671.2,199.5l-2.4,-5.7M673.3,199.7l-2.4,-5.7M675.5,199.9l-2.4,-5.7M677.6,200.1l-2.4,-5.7M679.8,200.3l-1.2,-2.9M194.6,205.6l-1.3,-6.1M196.7,206.2l-1.3,-6.1M198.8,206.8l-1.3,-6.1M207,205.9l-1.4,-6M209,206.4l-1.4,-6M211.1,207l-1.4,-6M219.3,206.1l-1.4,-6M221.4,206.6l-1.4,-6M223.5,207.1l-1.4,-6M231.7,206.2l-1.5,-6M233.8,206.7l-1.5,-6M235.8,207.3l-1.5,-6M244.1,206.3l-1.5,-6M246.1,206.8l-1.5,-6M248.2,207.4l-1.5,-6M256.4,206.7l-1.6,-6M258.4,207.2l-1.6,-6M260.5,207.7l-1.6,-6M268.7,207.2l-1.7,-6M270.8,207.6l-1.7,-6M272.9,208.1l-1.7,-6M281,207.5l-1.8,-5.9M283.1,207.9l-1.8,-5.9M285.2,208.4l-1.8,-5.9M287.3,208.8l-0.9,-3M293.3,207.8l-1.9,-5.9M295.4,208.2l-1.9,-5.9M297.6,208.6l-1.9,-5.9M299.7,209l-0.9,-3M305.7,208.1l-1.9,-5.9M307.8,208.4l-1.9,-5.9M309.9,208.8l-1.9,-5.9M312,209.2l-1,-2.9M318,208.3l-2,-5.9M320.2,208.7l-2,-5.9M322.3,209l-2,-5.9M324.4,209.4l-1,-2.9M330.4,208.6l-2,-5.9M332.5,208.9l-2,-5.9M334.6,209.2l-2,-5.9M336.8,209.6l-2,-5.9M342.8,208.9l-2.1,-5.8M344.9,209.2l-2.1,-5.8M347,209.5l-2.1,-5.8M349.1,209.8l-2.1,-5.8M355.1,209.1l-2.2,-5.8M357.3,209.4l-2.2,-5.8M359.4,209.7l-2.2,-5.8M361.5,209.9l-2.2,-5.8M367.5,209.3l-2.2,-5.8M369.6,209.6l-2.2,-5.8M371.8,209.8l-2.2,-5.8M373.9,210.1l-2.2,-5.8M376,210.4l-1.1,-2.9M379.9,209.6l-2.3,-5.8M382,209.8l-2.3,-5.8M384.1,210.1l-2.3,-5.8M386.3,210.3l-2.3,-5.8M388.4,210.6l-1.1,-2.9M392.2,210l-2.4,-5.7M394.4,210.2l-2.4,-5.7M396.5,210.4l-2.4,-5.7M398.6,210.6l-2.4,-5.7M400.8,210.8l-1.2,-2.9M404.6,210.4l-2.5,-5.7M406.7,210.5l-2.5,-5.7M408.9,210.7l-2.5,-5.7M411,210.9l-2.5,-5.7M413.2,211.1l-1.2,-2.8M417,210.8l-2.5,-5.7M419.1,210.9l-2.5,-5.7M421.2,211l-2.5,-5.7M423.4,211.2l-2.5,-5.7M425.5,211.3l-1.3,-2.8M615.3,210.9l-2.6,-5.6M617.5,211.1l-2.6,-5.6M619.6,211.2l-2.6,-5.6M621.8,211.3l-2.6,-5.6M623.9,211.4l-1.3,-2.8M627.8,210.7l-2.5,-5.7M629.9,210.9l-2.5,-5.7M632,211l-2.5,-5.7M634.2,211.2l-2.5,-5.7M636.3,211.3l-1.3,-2.8M640.2,210.5l-2.5,-5.7M642.3,210.7l-2.5,-5.7M644.5,210.9l-2.5,-5.7M646.6,211l-2.5,-5.7M648.7,211.2l-1.2,-2.8M652.6,210.3l-2.4,-5.7M654.7,210.5l-2.4,-5.7M656.9,210.7l-2.4,-5.7M659,210.9l-2.4,-5.7M661.2,211l-1.2,-2.8M665,210.2l-2.4,-5.7M667.1,210.4l-2.4,-5.7M669.3,210.6l-2.4,-5.7M671.4,210.8l-2.4,-5.7M673.6,211l-1.2,-2.9M200.5,217.7l-1.7,-6M202.6,218.2l-1.7,-6M204.7,218.6l-1.7,-6M212.9,217.9l-1.7,-6M215,218.3l-1.7,-6M217.1,218.8l-1.7,-6M225.2,218l-1.7,-6M227.3,218.4l-1.7,-6M229.4,218.9l-1.7,-6M237.6,218.1l-1.8,-5.9M239.7,218.5l-1.8,-5.9M241.8,218.9l-1.8,-5.9M250,218.3l-1.8,-5.9M252.1,218.7l-1.8,-5.9M254.2,219.1l-1.8,-5.9M262.3,218.6l-1.9,-5.9M264.4,219l-1.9,-5.9M266.5,219.4l-1.9,-5.9M268.6,219.8l-0.9,-3M274.6,219l-2,-5.9M276.8,219.4l-2,-5.9M278.9,219.7l-2,-5.9M281,220.1l-1,-2.9M287,219.2l-2,-5.9M289.1,219.5l-2,-5.9M291.3,219.9l-2,-5.9M293.4,220.2l-1,-2.9M299.4,219.4l-2.1,-5.8M301.5,219.7l-2.1,-5.8M303.6,220l-2.1,-5.8M305.8,220.4l-1,-2.9M311.7,219.6l-2.1,-5.8M313.9,219.9l-2.1,-5.8M316,220.2l-2.1,-5.8M318.1,220.5l-1.1,-2.9M324.1,219.8l-2.2,-5.8M326.2,220.1l-2.2,-5.8M328.4,220.4l-2.2,-5.8M330.5,220.7l-1.1,-2.9M336.5,220.1l-2.2,-5.8M338.6,220.3l-2.2,-5.8M340.8,220.6l-2.2,-5.8M342.9,220.9l-2.2,-5.8M348.9,220.3l-2.3,-5.8M351,220.5l-2.3,-5.8M353.1,220.8l-2.3,-5.8M355.3,221l-2.3,-5.8M361.2,220.4l-2.3,-5.8M363.4,220.7l-2.3,-5.8M365.5,220.9l-2.3,-5.8M367.7,221.1l-2.3,-5.8M373.6,220.6l-2.3,-5.7M375.8,220.8l-2.3,-5.7M377.9,221l-2.3,-5.7M380,221.2l-2.3,-5.7M382.2,221.5l-1.2,-2.9M386,220.9l-2.4,-5.7M388.1,221.1l-2.4,-5.7M390.3,221.3l-2.4,-5.7M392.4,221.5l-2.4,-5.7M394.6,221.7l-1.2,-2.9M398.4,221.2l-2.5,-5.7M400.5,221.4l-2.5,-5.7M402.7,221.5l-2.5,-5.7M404.8,221.7l-2.5,-5.7M406.9,221.9l-1.2,-2.8M410.7,221.5l-2.6,-5.6M412.9,221.7l-2.6,-5.6M415,221.8l-2.6,-5.6M417.2,221.9l-2.6,-5.6M419.3,222.1l-1.3,-2.8M423.1,221.9l-2.6,-5.6M425.3,222l-2.6,-5.6M427.4,222.1l-2.6,-5.6M429.6,222.2l-2.6,-5.6M431.7,222.3l-1.3,-2.8M435.5,222.2l-2.7,-5.6M437.7,222.3l-2.7,-5.6M439.8,222.3l-2.7,-5.6M442,222.4l-2.7,-5.6M444.1,222.5l-1.4,-2.8M596.7,221.9l-2.6,-5.6M598.9,222l-2.6,-5.6M601,222.1l-2.6,-5.6M603.2,222.2l-2.6,-5.6M605.3,222.3l-1.3,-2.8M609.1,221.7l-2.6,-5.6M611.3,221.8l-2.6,-5.6M613.4,221.9l-2.6,-5.6M615.6,222l-2.6,-5.6M617.7,222.2l-1.3,-2.8M621.6,221.5l-2.6,-5.7M623.7,221.6l-2.6,-5.7M625.8,221.8l-2.6,-5.7M628,221.9l-2.6,-5.7M630.1,222l-1.3,-2.8M634,221.3l-2.5,-5.7M636.1,221.5l-2.5,-5.7M638.3,221.6l-2.5,-5.7M640.4,221.8l-2.5,-5.7M642.5,221.9l-1.3,-2.8M646.4,221.1l-2.5,-5.7M648.5,221.3l-2.5,-5.7M650.7,221.5l-2.5,-5.7M652.8,221.6l-2.5,-5.7M655,221.8l-1.2,-2.8M658.8,220.9l-2.4,-5.7M660.9,221.1l-2.4,-5.7M663.1,221.3l-2.4,-5.7M665.2,221.5l-2.4,-5.7M667.4,221.7l-1.2,-2.9M671.2,220.9l-2.4,-5.7M673.3,221.1l-2.4,-5.7M675.5,221.3l-2.4,-5.7M677.6,221.5l-2.4,-5.7M679.8,221.7l-1.2,-2.9M194,229.6l-2,-5.9M196.2,230l-2,-5.9M198.3,230.3l-2,-5.9M200.4,230.7l-1,-2.9M206.4,229.7l-2,-5.9M208.6,230.1l-2,-5.9M210.7,230.4l-2,-5.9M212.8,230.8l-1,-2.9M218.8,229.8l-2,-5.9M220.9,230.2l-2,-5.9M223.1,230.5l-2,-5.9M225.2,230.8l-1,-2.9M231.2,229.9l-2,-5.9M233.3,230.2l-2,-5.9M235.5,230.6l-2,-5.9M237.6,230.9l-1,-2.9M243.6,229.9l-2,-5.9M245.7,230.3l-2,-5.9M247.8,230.6l-2,-5.9M250,230.9l-1,-2.9M256,230.2l-2.1,-5.8M258.1,230.5l-2.1,-5.8M260.2,230.8l-2.1,-5.8M262.3,231.1l-1,-2.9M268.3,230.5l-2.2,-5.8M270.5,230.8l-2.2,-5.8M272.6,231.1l-2.2,-5.8M274.7,231.3l-1.1,-2.9M280.7,230.7l-2.2,-5.8M282.8,231l-2.2,-5.8M285,231.2l-2.2,-5.8M287.1,231.5l-1.1,-2.9M293.1,230.8l-2.2,-5.8M295.2,231.1l-2.2,-5.8M297.3,231.3l-2.2,-5.8M299.5,231.6l-1.1,-2.9M305.5,230.9l-2.3,-5.8M307.6,231.2l-2.3,-5.8M309.7,231.4l-2.3,-5.8M311.9,231.7l-1.1,-2.9M317.8,231.1l-2.3,-5.8M320,231.4l-2.3,-5.8M322.1,231.6l-2.3,-5.8M324.3,231.8l-1.2,-2.9M330.2,231.3l-2.4,-5.7M332.4,231.6l-2.4,-5.7M334.5,231.8l-2.4,-5.7M336.6,232l-2.4,-5.7M342.6,231.5l-2.4,-5.7M344.7,231.7l-2.4,-5.7M346.9,231.9l-2.4,-5.7M349,232.1l-2.4,-5.7M355,231.6l-2.4,-5.7M357.1,231.8l-2.4,-5.7M359.3,232l-2.4,-5.7M361.4,232.2l-2.4,-5.7M367.4,231.7l-2.4,-5.7M369.5,231.9l-2.4,-5.7M371.7,232.1l-2.4,-5.7M373.8,232.3l-2.4,-5.7M379.8,231.9l-2.5,-5.7M381.9,232l-2.5,-5.7M384.1,232.2l-2.5,-5.7M386.2,232.4l-2.5,-5.7M392.2,232.1l-2.5,-5.7M394.3,232.3l-2.5,-5.7M396.4,232.4l-2.5,-5.7M398.6,232.6l-2.5,-5.7M400.7,232.7l-1.3,-2.8M404.5,232.4l-2.6,-5.6M406.7,232.5l-2.6,-5.6M408.8,232.6l-2.6,-5.6M411,232.8l-2.6,-5.6M413.1,232.9l-1.3,-2.8M416.9,232.6l-2.7,-5.6M419.1,232.7l-2.7,-5.6M421.2,232.8l-2.7,-5.6M423.4,232.9l-2.7,-5.6M425.5,233l-1.3,-2.8M429.3,232.9l-2.7,-5.6M431.5,233l-2.7,-5.6M433.6,233.1l-2.7,-5.6M435.8,233.1l-2.7,-5.6M437.9,233.2l-1.4,-2.8M441.7,233.2l-2.8,-5.5M443.9,233.2l-2.8,-5.5M446,233.3l-2.8,-5.5M448.2,233.3l-2.8,-5.5M450.3,233.4l-1.4,-2.8M454.1,233.3l-2.8,-5.5M456.3,233.3l-2.8,-5.5M458.4,233.4l-2.8,-5.5M460.6,233.4l-2.8,-5.5M462.7,233.4l-1.4,-2.8M578.1,232.7l-2.7,-5.6M580.3,232.8l-2.7,-5.6M582.4,232.9l-2.7,-5.6M584.6,233l-2.7,-5.6M586.7,233.1l-1.3,-2.8M590.5,232.6l-2.6,-5.6M592.7,232.7l-2.6,-5.6M594.8,232.8l-2.6,-5.6M597,232.9l-2.6,-5.6M599.1,233l-1.3,-2.8M602.9,232.4l-2.6,-5.6M605.1,232.5l-2.6,-5.6M607.2,232.6l-2.6,-5.6M609.4,232.8l-2.6,-5.6M611.5,232.9l-1.3,-2.8M615.3,232.2l-2.6,-5.6M617.5,232.4l-2.6,-5.6M619.6,232.5l-2.6,-5.6M621.8,232.6l-2.6,-5.6M623.9,232.8l-1.3,-2.8M627.8,232.1l-2.5,-5.7M629.9,232.2l-2.5,-5.7M632.1,232.4l-2.5,-5.7M634.2,232.5l-2.5,-5.7M636.3,232.7l-1.3,-2.8M640.2,231.9l-2.5,-5.7M642.3,232.1l-2.5,-5.7M644.5,232.2l-2.5,-5.7M646.6,232.4l-2.5,-5.7M648.7,232.5l-1.2,-2.8M652.6,231.7l-2.4,-5.7M654.7,231.9l-2.4,-5.7M656.9,232.1l-2.4,-5.7M659,232.3l-2.4,-5.7M661.2,232.4l-1.2,-2.8M665,231.6l-2.4,-5.7M667.1,231.8l-2.4,-5.7M669.3,232l-2.4,-5.7M671.4,232.2l-2.4,-5.7M673.6,232.4l-1.2,-2.9M200.1,241.7l-2.3,-5.8M202.2,241.9l-2.3,-5.8M204.3,242.2l-2.3,-5.8M206.5,242.4l-1.1,-2.9M212.5,241.7l-2.3,-5.8M214.6,241.9l-2.3,-5.8M216.7,242.2l-2.3,-5.8M218.9,242.4l-1.1,-2.9M224.9,241.7l-2.3,-5.8M227,242l-2.3,-5.8M229.1,242.2l-2.3,-5.8M231.3,242.4l-1.1,-2.9M237.3,241.7l-2.3,-5.8M239.4,242l-2.3,-5.8M241.5,242.2l-2.3,-5.8M243.7,242.5l-1.1,-2.9M249.6,241.8l-2.3,-5.8M251.8,242.1l-2.3,-5.8M253.9,242.3l-2.3,-5.8M256.1,242.5l-1.2,-2.9M262,242l-2.4,-5.7M264.2,242.3l-2.4,-5.7M266.3,242.5l-2.4,-5.7M268.4,242.7l-1.2,-2.9M274.4,242.3l-2.4,-5.7M276.5,242.5l-2.4,-5.7M278.7,242.7l-2.4,-5.7M280.8,242.8l-1.2,-2.9M286.8,242.3l-2.4,-5.7M288.9,242.5l-2.4,-5.7M291.1,242.7l-2.4,-5.7M293.2,242.9l-1.2,-2.9M299.2,242.4l-2.4,-5.7M301.3,242.5l-2.4,-5.7M303.5,242.7l-2.4,-5.7M305.6,242.9l-1.2,-2.9M311.6,242.5l-2.5,-5.7M313.7,242.6l-2.5,-5.7M315.9,242.8l-2.5,-5.7M318,243l-1.2,-2.8M324,242.6l-2.5,-5.7M326.1,242.8l-2.5,-5.7M328.3,243l-2.5,-5.7M330.4,243.1l-1.2,-2.8M336.4,242.8l-2.5,-5.7M338.5,243l-2.5,-5.7M340.6,243.1l-2.5,-5.7M342.8,243.2l-2.5,-5.7M348.8,242.9l-2.5,-5.7M350.9,243l-2.5,-5.7M353,243.2l-2.5,-5.7M355.2,243.3l-2.5,-5.7M361.2,242.9l-2.6,-5.6M363.3,243.1l-2.6,-5.6M365.4,243.2l-2.6,-5.6M367.6,243.3l-2.6,-5.6M373.5,242.9l-2.6,-5.6M375.7,243.1l-2.6,-5.6M377.8,243.2l-2.6,-5.6M380,243.3l-2.6,-5.6M385.9,243.1l-2.6,-5.6M388.1,243.2l-2.6,-5.6M390.2,243.4l-2.6,-5.6M392.4,243.5l-2.6,-5.6M398.3,243.3l-2.6,-5.6M400.5,243.4l-2.6,-5.6M402.6,243.5l-2.6,-5.6M404.8,243.6l-2.6,-5.6M410.7,243.5l-2.7,-5.6M412.9,243.6l-2.7,-5.6M415,243.7l-2.7,-5.6M417.2,243.8l-2.7,-5.6M419.3,243.8l-1.3,-2.8M423.1,243.7l-2.7,-5.6M425.3,243.8l-2.7,-5.6M427.4,243.8l-2.7,-5.6M429.6,243.9l-2.7,-5.6M431.7,244l-1.4,-2.8M435.5,243.9l-2.8,-5.5M437.7,243.9l-2.8,-5.5M439.8,244l-2.8,-5.5M442,244l-2.8,-5.5M444.1,244.1l-1.4,-2.8M447.9,244l-2.8,-5.5M450.1,244.1l-2.8,-5.5M452.2,244.1l-2.8,-5.5M454.4,244.1l-2.8,-5.5M456.5,244.2l-1.4,-2.8M460.3,244l-2.8,-5.5M462.5,244.1l-2.8,-5.5M464.6,244.1l-2.8,-5.5M466.8,244.2l-2.8,-5.5M468.9,244.2l-1.4,-2.8M472.7,244.1l-2.8,-5.5M474.9,244.1l-2.8,-5.5M477,244.1l-2.8,-5.5M479.2,244.2l-2.8,-5.5M481.3,244.2l-1.4,-2.8M559.5,243.6l-2.7,-5.6M561.7,243.6l-2.7,-5.6M563.8,243.7l-2.7,-5.6M566,243.8l-2.7,-5.6M568.1,243.9l-1.4,-2.8M571.9,243.4l-2.7,-5.6M574.1,243.5l-2.7,-5.6M576.2,243.6l-2.7,-5.6M578.4,243.7l-2.7,-5.6M580.5,243.8l-1.3,-2.8M584.3,243.2l-2.6,-5.6M586.5,243.4l-2.6,-5.6M588.6,243.5l-2.6,-5.6M590.8,243.6l-2.6,-5.6M592.9,243.7l-1.3,-2.8M596.7,243.1l-2.6,-5.6M598.9,243.2l-2.6,-5.6M601,243.3l-2.6,-5.6M603.2,243.5l-2.6,-5.6M605.3,243.6l-1.3,-2.8M609.1,242.9l-2.6,-5.6M611.3,243.1l-2.6,-5.6M613.4,243.2l-2.6,-5.6M615.6,243.3l-2.6,-5.6M617.7,243.5l-1.3,-2.8M621.6,242.8l-2.5,-5.7M623.7,242.9l-2.5,-5.7M625.8,243.1l-2.5,-5.7M628,243.2l-2.5,-5.7M630.1,243.4l-1.3,-2.8M634,242.6l-2.5,-5.7M636.1,242.8l-2.5,-5.7M638.3,243l-2.5,-5.7M640.4,243.1l-2.5,-5.7M642.5,243.3l-1.2,-2.8M646.4,242.5l-2.5,-5.7M648.5,242.7l-2.5,-5.7M650.7,242.8l-2.5,-5.7M652.8,243l-2.5,-5.7M655,243.2l-1.2,-2.8M658.8,242.3l-2.4,-5.7M660.9,242.5l-2.4,-5.7M663.1,242.7l-2.4,-5.7M665.2,242.9l-2.4,-5.7M667.4,243.1l-1.2,-2.9M671.2,242.3l-2.4,-5.7M673.3,242.5l-2.4,-5.7M675.5,242.7l-2.4,-5.7M677.6,242.9l-2.4,-5.7M679.8,243.1l-1.2,-2.9M193.8,253.2l-2.5,-5.7M195.9,253.3l-2.5,-5.7M198.1,253.5l-2.5,-5.7M200.2,253.7l-1.2,-2.8M206.2,253.2l-2.5,-5.7M208.3,253.3l-2.5,-5.7M210.5,253.5l-2.5,-5.7M212.6,253.7l-1.2,-2.8M218.6,253.2l-2.5,-5.7M220.7,253.3l-2.5,-5.7M222.9,253.5l-2.5,-5.7M225,253.7l-1.2,-2.8M231,253.2l-2.5,-5.7M233.1,253.3l-2.5,-5.7M235.3,253.5l-2.5,-5.7M237.4,253.7l-1.2,-2.8M243.4,253.2l-2.5,-5.7M245.5,253.3l-2.5,-5.7M247.7,253.5l-2.5,-5.7M249.8,253.7l-1.2,-2.8M255.8,253.3l-2.5,-5.7M257.9,253.5l-2.5,-5.7M260.1,253.6l-2.5,-5.7M262.2,253.8l-1.2,-2.8M268.2,253.5l-2.5,-5.7M270.3,253.6l-2.5,-5.7M272.5,253.8l-2.5,-5.7M274.6,253.9l-1.3,-2.8M280.6,253.5l-2.5,-5.7M282.7,253.7l-2.5,-5.7M284.8,253.8l-2.5,-5.7M287,254l-1.3,-2.8M293,253.5l-2.5,-5.7M295.1,253.7l-2.5,-5.7M297.2,253.8l-2.5,-5.7M299.4,254l-1.3,-2.8M305.4,253.5l-2.5,-5.7M307.5,253.7l-2.5,-5.7M309.6,253.8l-2.5,-5.7M311.8,254l-1.3,-2.8M317.7,253.7l-2.6,-5.6M319.9,253.8l-2.6,-5.6M322,253.9l-2.6,-5.6M324.2,254.1l-1.3,-2.8M330.1,253.8l-2.6,-5.6M332.3,253.9l-2.6,-5.6M334.4,254.1l-2.6,-5.6M336.6,254.2l-1.3,-2.8M342.5,253.9l-2.6,-5.6M344.7,254l-2.6,-5.6M346.8,254.2l-2.6,-5.6M349,254.3l-2.6,-5.6M354.9,253.9l-2.6,-5.6M357.1,254l-2.6,-5.6M359.2,254.2l-2.6,-5.6M361.4,254.3l-2.6,-5.6M367.3,253.9l-2.6,-5.6M369.5,254l-2.6,-5.6M371.6,254.2l-2.6,-5.6M373.8,254.3l-2.6,-5.6M379.7,254l-2.6,-5.6M381.9,254.1l-2.6,-5.6M384,254.2l-2.6,-5.6M386.2,254.3l-2.6,-5.6M392.1,254.1l-2.7,-5.6M394.3,254.2l-2.7,-5.6M396.4,254.3l-2.7,-5.6M398.6,254.4l-2.7,-5.6M404.5,254.3l-2.7,-5.6M406.7,254.3l-2.7,-5.6M408.8,254.4l-2.7,-5.6M411,254.5l-2.7,-5.6M416.9,254.4l-2.7,-5.6M419.1,254.5l-2.7,-5.6M421.2,254.5l-2.7,-5.6M423.4,254.6l-2.7,-5.6M429.3,254.5l-2.8,-5.5M431.5,254.6l-2.8,-5.5M433.6,254.7l-2.8,-5.5M435.8,254.7l-2.8,-5.5M437.9,254.8l-1.4,-2.8M441.7,254.7l-2.8,-5.5M443.9,254.7l-2.8,-5.5M446,254.8l-2.8,-5.5M448.2,254.8l-2.8,-5.5M450.3,254.9l-1.4,-2.8M454.1,254.7l-2.8,-5.5M456.3,254.8l-2.8,-5.5M458.4,254.8l-2.8,-5.5M460.6,254.8l-2.8,-5.5M462.7,254.9l-1.4,-2.8M466.5,254.7l-2.8,-5.5M468.7,254.7l-2.8,-5.5M470.8,254.8l-2.8,-5.5M473,254.8l-2.8,-5.5M475.1,254.9l-1.4,-2.8M478.9,254.7l-2.8,-5.5M481.1,254.7l-2.8,-5.5M483.2,254.8l-2.8,-5.5M485.4,254.8l-2.8,-5.5M487.5,254.9l-1.4,-2.8M491.3,254.7l-2.8,-5.5M493.5,254.7l-2.8,-5.5M495.6,254.8l-2.8,-5.5M497.8,254.8l-2.8,-5.5M499.9,254.9l-1.4,-2.8M540.9,254.4l-2.7,-5.6M543.1,254.4l-2.7,-5.6M545.2,254.5l-2.7,-5.6M547.4,254.6l-2.7,-5.6M549.5,254.7l-1.4,-2.8M553.3,254.2l-2.7,-5.6M555.5,254.3l-2.7,-5.6M557.6,254.4l-2.7,-5.6M559.8,254.5l-2.7,-5.6M561.9,254.6l-1.3,-2.8M565.7,254.1l-2.7,-5.6M567.9,254.2l-2.7,-5.6M570,254.3l-2.7,-5.6M572.2,254.4l-2.7,-5.6M574.3,254.5l-1.3,-2.8M578.1,253.9l-2.6,-5.6M580.3,254l-2.6,-5.6M582.4,254.1l-2.6,-5.6M584.6,254.3l-2.6,-5.6M586.7,254.4l-1.3,-2.8M590.5,253.8l-2.6,-5.6M592.7,253.9l-2.6,-5.6M594.8,254l-2.6,-5.6M597,254.2l-2.6,-5.6M599.1,254.3l-1.3,-2.8M602.9,253.6l-2.6,-5.6M605.1,253.8l-2.6,-5.6M607.2,253.9l-2.6,-5.6M609.4,254l-2.6,-5.6M611.5,254.2l-1.3,-2.8M615.4,253.5l-2.5,-5.7M617.5,253.7l-2.5,-5.7M619.6,253.8l-2.5,-5.7M621.8,253.9l-2.5,-5.7M623.9,254.1l-1.3,-2.8M627.8,253.4l-2.5,-5.7M629.9,253.5l-2.5,-5.7M632.1,253.7l-2.5,-5.7M634.2,253.8l-2.5,-5.7M636.3,254l-1.3,-2.8M640.2,253.2l-2.5,-5.7M642.3,253.4l-2.5,-5.7M644.5,253.6l-2.5,-5.7M646.6,253.7l-2.5,-5.7M648.8,253.9l-1.2,-2.8M652.6,253.1l-2.4,-5.7M654.7,253.3l-2.4,-5.7M656.9,253.5l-2.4,-5.7M659,253.6l-2.4,-5.7M661.2,253.8l-1.2,-2.8M665,253l-2.4,-5.7M667.1,253.2l-2.4,-5.7M669.3,253.4l-2.4,-5.7M671.4,253.6l-2.4,-5.7M673.6,253.8l-1.2,-2.9M200,264.1l-2.5,-5.7M202.1,264.3l-2.5,-5.7M204.3,264.4l-2.5,-5.7M206.4,264.6l-1.3,-2.8M212.4,264.1l-2.5,-5.7M214.5,264.3l-2.5,-5.7M216.7,264.4l-2.5,-5.7M218.8,264.6l-1.3,-2.8M224.8,264.1l-2.5,-5.7M226.9,264.3l-2.5,-5.7M229.1,264.4l-2.5,-5.7M231.2,264.6l-1.3,-2.8M237.2,264.1l-2.5,-5.7M239.3,264.3l-2.5,-5.7M241.5,264.4l-2.5,-5.7M243.6,264.6l-1.3,-2.8M249.6,264.2l-2.5,-5.7M251.7,264.3l-2.5,-5.7M253.8,264.5l-2.5,-5.7M256,264.6l-1.3,-2.8M262,264.3l-2.6,-5.6M264.1,264.4l-2.6,-5.6M266.2,264.6l-2.6,-5.6M268.4,264.7l-1.3,-2.8M274.3,264.4l-2.6,-5.6M276.5,264.6l-2.6,-5.6M278.6,264.7l-2.6,-5.6M280.8,264.8l-1.3,-2.8M286.7,264.4l-2.6,-5.6M288.9,264.6l-2.6,-5.6M291,264.7l-2.6,-5.6M293.2,264.8l-1.3,-2.8M299.1,264.4l-2.6,-5.6M301.3,264.6l-2.6,-5.6M303.4,264.7l-2.6,-5.6M305.6,264.8l-1.3,-2.8M311.5,264.5l-2.6,-5.6M313.7,264.6l-2.6,-5.6M315.8,264.7l-2.6,-5.6M318,264.9l-1.3,-2.8M323.9,264.6l-2.6,-5.6M326.1,264.7l-2.6,-5.6M328.2,264.8l-2.6,-5.6M330.4,264.9l-1.3,-2.8M336.3,264.7l-2.6,-5.6M338.5,264.8l-2.6,-5.6M340.6,264.9l-2.6,-5.6M342.8,265l-1.3,-2.8M348.7,264.7l-2.7,-5.6M350.9,264.8l-2.7,-5.6M353,264.9l-2.7,-5.6M355.2,265l-1.3,-2.8M361.1,264.7l-2.7,-5.6M363.3,264.8l-2.7,-5.6M365.4,264.9l-2.7,-5.6M367.6,265l-1.3,-2.8M373.5,264.7l-2.7,-5.6M375.7,264.8l-2.7,-5.6M377.8,264.9l-2.7,-5.6M380,265l-2.7,-5.6M385.9,264.8l-2.7,-5.6M388.1,264.9l-2.7,-5.6M390.2,265l-2.7,-5.6M392.4,265.1l-2.7,-5.6M398.3,264.9l-2.7,-5.6M400.5,265l-2.7,-5.6M402.6,265.1l-2.7,-5.6M404.8,265.2l-2.7,-5.6M410.7,265l-2.7,-5.6M412.9,265.1l-2.7,-5.6M415,265.2l-2.7,-5.6M417.2,265.3l-2.7,-5.6M423.1,265.1l-2.7,-5.6M425.3,265.2l-2.7,-5.6M427.4,265.3l-2.7,-5.6M429.6,265.3l-2.7,-5.6M435.5,265.2l-2.8,-5.5M437.7,265.3l-2.8,-5.5M439.8,265.4l-2.8,-5.5M442,265.4l-2.8,-5.5M447.9,265.3l-2.8,-5.5M450.1,265.4l-2.8,-5.5M452.2,265.4l-2.8,-5.5M454.4,265.5l-2.8,-5.5M460.3,265.3l-2.8,-5.5M462.5,265.3l-2.8,-5.5M464.6,265.4l-2.8,-5.5M466.8,265.5l-2.8,-5.5M468.9,265.5l-1.4,-2.8M472.7,265.3l-2.8,-5.5M474.9,265.3l-2.8,-5.5M477,265.4l-2.8,-5.5M479.2,265.4l-2.8,-5.5M481.3,265.5l-1.4,-2.8M485.1,265.2l-2.8,-5.5M487.3,265.3l-2.8,-5.5M489.4,265.4l-2.8,-5.5M491.6,265.4l-2.8,-5.5M493.7,265.5l-1.4,-2.8M497.5,265.2l-2.8,-5.6M499.7,265.3l-2.8,-5.6M501.8,265.3l-2.8,-5.6M504,265.4l-2.8,-5.6M506.1,265.5l-1.4,-2.8M509.9,265.2l-2.8,-5.6M512.1,265.3l-2.8,-5.6M514.2,265.3l-2.8,-5.6M516.4,265.4l-2.8,-5.6M518.5,265.4l-1.4,-2.8M522.3,265.1l-2.7,-5.6M524.5,265.2l-2.7,-5.6M526.6,265.2l-2.7,-5.6M528.8,265.3l-2.7,-5.6M530.9,265.4l-1.4,-2.8M534.7,265l-2.7,-5.6M536.9,265.1l-2.7,-5.6M539,265.1l-2.7,-5.6M541.2,265.2l-2.7,-5.6M543.3,265.3l-1.4,-2.8M547.1,264.8l-2.7,-5.6M549.3,264.9l-2.7,-5.6M551.4,265l-2.7,-5.6M553.6,265.1l-2.7,-5.6M555.7,265.2l-1.3,-2.8M559.5,264.7l-2.6,-5.6M561.7,264.8l-2.6,-5.6M563.8,264.9l-2.6,-5.6M566,265l-2.6,-5.6M568.1,265.1l-1.3,-2.8M571.9,264.6l-2.6,-5.6M574.1,264.7l-2.6,-5.6M576.2,264.8l-2.6,-5.6M578.4,264.9l-2.6,-5.6M580.5,265l-1.3,-2.8M584.3,264.5l-2.6,-5.6M586.5,264.6l-2.6,-5.6M588.6,264.7l-2.6,-5.6M590.8,264.8l-2.6,-5.6M592.9,265l-1.3,-2.8M596.7,264.3l-2.6,-5.6M598.9,264.5l-2.6,-5.6M601,264.6l-2.6,-5.6M603.2,264.7l-2.6,-5.6M605.3,264.9l-1.3,-2.8M609.2,264.2l-2.5,-5.7M611.3,264.4l-2.5,-5.7M613.4,264.5l-2.5,-5.7M615.6,264.7l-2.5,-5.7M617.7,264.8l-1.3,-2.8M621.6,264.1l-2.5,-5.7M623.7,264.3l-2.5,-5.7M625.9,264.4l-2.5,-5.7M628,264.6l-2.5,-5.7M630.1,264.7l-1.3,-2.8M634,264l-2.5,-5.7M636.1,264.1l-2.5,-5.7M638.3,264.3l-2.5,-5.7M640.4,264.5l-2.5,-5.7M642.5,264.6l-1.2,-2.8M646.4,263.9l-2.5,-5.7M648.5,264l-2.5,-5.7M650.7,264.2l-2.5,-5.7M652.8,264.4l-2.5,-5.7M655,264.6l-1.2,-2.8M658.8,263.7l-2.4,-5.7M660.9,263.9l-2.4,-5.7M663.1,264.1l-2.4,-5.7M665.2,264.3l-2.4,-5.7M667.4,264.5l-1.2,-2.9M671.2,263.7l-2.4,-5.7M673.3,263.9l-2.4,-5.7M675.5,264.1l-2.4,-5.7M677.6,264.3l-2.4,-5.7M679.8,264.5l-1.2,-2.9M193.7,275.1l-2.6,-5.6M195.9,275.2l-2.6,-5.6M198,275.4l-2.6,-5.6M206.1,275.1l-2.6,-5.6M208.3,275.2l-2.6,-5.6M210.4,275.4l-2.6,-5.6M218.5,275.1l-2.6,-5.6M220.7,275.2l-2.6,-5.6M222.8,275.4l-2.6,-5.6M230.9,275.1l-2.6,-5.6M233.1,275.2l-2.6,-5.6M235.2,275.4l-2.6,-5.6M243.3,275.1l-2.6,-5.6M245.5,275.2l-2.6,-5.6M247.6,275.4l-2.6,-5.6M255.7,275.2l-2.6,-5.6M257.9,275.3l-2.6,-5.6M260,275.4l-2.6,-5.6M268.1,275.3l-2.6,-5.6M270.3,275.4l-2.6,-5.6M272.4,275.5l-2.6,-5.6M280.5,275.3l-2.6,-5.6M282.7,275.4l-2.6,-5.6M284.8,275.5l-2.6,-5.6M292.9,275.3l-2.6,-5.6M295.1,275.4l-2.6,-5.6M297.2,275.5l-2.6,-5.6M305.3,275.3l-2.6,-5.6M307.5,275.4l-2.6,-5.6M309.6,275.5l-2.6,-5.6M317.7,275.4l-2.6,-5.6M319.9,275.5l-2.6,-5.6M322,275.6l-2.6,-5.6M324.2,275.7l-1.3,-2.8M330.1,275.5l-2.7,-5.6M332.3,275.6l-2.7,-5.6M334.4,275.7l-2.7,-5.6M336.6,275.8l-1.3,-2.8M342.5,275.5l-2.7,-5.6M344.7,275.6l-2.7,-5.6M346.8,275.7l-2.7,-5.6M349,275.8l-1.3,-2.8M354.9,275.5l-2.7,-5.6M357.1,275.6l-2.7,-5.6M359.2,275.7l-2.7,-5.6M361.4,275.8l-1.3,-2.8M367.3,275.5l-2.7,-5.6M369.5,275.6l-2.7,-5.6M371.6,275.7l-2.7,-5.6M373.8,275.8l-1.3,-2.8M379.7,275.6l-2.7,-5.6M381.9,275.6l-2.7,-5.6M384,275.7l-2.7,-5.6M386.2,275.8l-1.3,-2.8M392.1,275.6l-2.7,-5.6M394.3,275.7l-2.7,-5.6M396.4,275.8l-2.7,-5.6M398.6,275.9l-2.7,-5.6M404.5,275.7l-2.7,-5.6M406.7,275.8l-2.7,-5.6M408.8,275.9l-2.7,-5.6M411,275.9l-2.7,-5.6M416.9,275.8l-2.7,-5.6M419.1,275.8l-2.7,-5.6M421.2,275.9l-2.7,-5.6M423.4,276l-2.7,-5.6M429.3,275.8l-2.7,-5.6M431.5,275.9l-2.7,-5.6M433.6,276l-2.7,-5.6M435.8,276l-2.7,-5.6M441.7,275.9l-2.8,-5.6M443.9,276l-2.8,-5.6M446,276l-2.8,-5.6M448.2,276.1l-2.8,-5.6M454.1,275.9l-2.8,-5.6M456.3,276l-2.8,-5.6M458.4,276l-2.8,-5.6M460.6,276.1l-2.8,-5.6M466.5,275.9l-2.7,-5.6M468.7,275.9l-2.7,-5.6M470.8,276l-2.7,-5.6M473,276.1l-2.7,-5.6M478.9,275.8l-2.7,-5.6M481.1,275.9l-2.7,-5.6M483.2,276l-2.7,-5.6M485.4,276l-2.7,-5.6M491.3,275.8l-2.7,-5.6M493.5,275.8l-2.7,-5.6M495.6,275.9l-2.7,-5.6M497.8,276l-2.7,-5.6M499.9,276.1l-1.4,-2.8M503.7,275.7l-2.7,-5.6M505.9,275.8l-2.7,-5.6M508,275.9l-2.7,-5.6M510.2,276l-2.7,-5.6M512.3,276l-1.4,-2.8M516.1,275.7l-2.7,-5.6M518.3,275.8l-2.7,-5.6M520.4,275.8l-2.7,-5.6M522.6,275.9l-2.7,-5.6M524.7,276l-1.4,-2.8M528.5,275.6l-2.7,-5.6M530.7,275.7l-2.7,-5.6M532.8,275.8l-2.7,-5.6M535,275.8l-2.7,-5.6M537.1,275.9l-1.3,-2.8M540.9,275.5l-2.7,-5.6M543.1,275.6l-2.7,-5.6M545.2,275.7l-2.7,-5.6M547.4,275.8l-2.7,-5.6M549.5,275.9l-1.3,-2.8M553.3,275.3l-2.6,-5.6M555.5,275.5l-2.6,-5.6M557.6,275.6l-2.6,-5.6M559.8,275.7l-2.6,-5.6M561.9,275.8l-1.3,-2.8M565.7,275.2l-2.6,-5.6M567.9,275.4l-2.6,-5.6M570,275.5l-2.6,-5.6M572.2,275.6l-2.6,-5.6M574.3,275.7l-1.3,-2.8M578.1,275.1l-2.6,-5.6M580.3,275.2l-2.6,-5.6M582.4,275.4l-2.6,-5.6M584.6,275.5l-2.6,-5.6M586.7,275.6l-1.3,-2.8M590.6,275l-2.6,-5.6M592.7,275.1l-2.6,-5.6M594.8,275.3l-2.6,-5.6M597,275.4l-2.6,-5.6M603,274.9l-2.5,-5.7M605.1,275.1l-2.5,-5.7M607.2,275.2l-2.5,-5.7M609.4,275.3l-2.5,-5.7M615.4,274.8l-2.5,-5.7M617.5,275l-2.5,-5.7M619.7,275.1l-2.5,-5.7M621.8,275.3l-2.5,-5.7M627.8,274.7l-2.5,-5.7M629.9,274.9l-2.5,-5.7M632.1,275l-2.5,-5.7M634.2,275.2l-2.5,-5.7M640.2,274.6l-2.5,-5.7M642.3,274.8l-2.5,-5.7M644.5,274.9l-2.5,-5.7M646.6,275.1l-2.5,-5.7M652.6,274.5l-2.4,-5.7M654.7,274.7l-2.4,-5.7M656.9,274.8l-2.4,-5.7M659,275l-2.4,-5.7M665,274.4l-2.4,-5.7M667.1,274.6l-2.4,-5.7M669.3,274.8l-2.4,-5.7M671.4,275l-2.4,-5.7M199.9,286.1l-2.6,-5.6M202.1,286.2l-2.6,-5.6M204.2,286.3l-2.6,-5.6M212.3,286.1l-2.6,-5.6M214.5,286.2l-2.6,-5.6M216.6,286.3l-2.6,-5.6M224.7,286.1l-2.6,-5.6M226.9,286.2l-2.6,-5.6M229,286.3l-2.6,-5.6M237.1,286.1l-2.6,-5.6M239.3,286.2l-2.6,-5.6M241.4,286.3l-2.6,-5.6M249.5,286.1l-2.6,-5.6M251.7,286.2l-2.6,-5.6M253.8,286.3l-2.6,-5.6M261.9,286.2l-2.7,-5.6M264.1,286.3l-2.7,-5.6M266.2,286.4l-2.7,-5.6M274.3,286.2l-2.7,-5.6M276.5,286.3l-2.7,-5.6M278.6,286.4l-2.7,-5.6M286.7,286.2l-2.7,-5.6M288.9,286.3l-2.7,-5.6M291,286.4l-2.7,-5.6M299.1,286.2l-2.7,-5.6M301.3,286.3l-2.7,-5.6M303.4,286.4l-2.7,-5.6M311.5,286.2l-2.7,-5.6M313.7,286.3l-2.7,-5.6M315.8,286.4l-2.7,-5.6M323.9,286.3l-2.7,-5.6M326.1,286.4l-2.7,-5.6M328.2,286.4l-2.7,-5.6M336.3,286.3l-2.7,-5.6M338.5,286.4l-2.7,-5.6M340.6,286.5l-2.7,-5.6M342.8,286.6l-1.3,-2.8M348.7,286.3l-2.7,-5.6M350.9,286.4l-2.7,-5.6M353,286.5l-2.7,-5.6M355.2,286.6l-1.3,-2.8M361.1,286.3l-2.7,-5.6M363.3,286.4l-2.7,-5.6M365.4,286.5l-2.7,-5.6M367.6,286.6l-1.3,-2.8M373.5,286.3l-2.7,-5.6M375.7,286.4l-2.7,-5.6M377.8,286.5l-2.7,-5.6M380,286.6l-1.3,-2.8M385.9,286.4l-2.7,-5.6M388.1,286.4l-2.7,-5.6M390.2,286.5l-2.7,-5.6M392.4,286.6l-1.4,-2.8M398.3,286.4l-2.7,-5.6M400.5,286.5l-2.7,-5.6M402.6,286.5l-2.7,-5.6M404.8,286.6l-1.4,-2.8M410.7,286.4l-2.7,-5.6M412.9,286.5l-2.7,-5.6M415,286.6l-2.7,-5.6M417.2,286.7l-1.4,-2.8M423.1,286.5l-2.7,-5.6M425.3,286.5l-2.7,-5.6M427.4,286.6l-2.7,-5.6M429.6,286.7l-1.4,-2.8M435.5,286.5l-2.7,-5.6M437.7,286.6l-2.7,-5.6M439.8,286.6l-2.7,-5.6M442,286.7l-1.4,-2.8M447.9,286.5l-2.7,-5.6M450.1,286.6l-2.7,-5.6M452.2,286.7l-2.7,-5.6M454.4,286.7l-2.7,-5.6M460.3,286.5l-2.7,-5.6M462.5,286.5l-2.7,-5.6M464.6,286.6l-2.7,-5.6M466.8,286.7l-2.7,-5.6M472.7,286.4l-2.7,-5.6M474.9,286.5l-2.7,-5.6M477,286.6l-2.7,-5.6M479.2,286.6l-2.7,-5.6M485.1,286.4l-2.7,-5.6M487.3,286.4l-2.7,-5.6M489.4,286.5l-2.7,-5.6M491.6,286.6l-2.7,-5.6M497.5,286.3l-2.7,-5.6M499.7,286.4l-2.7,-5.6M501.8,286.5l-2.7,-5.6M504,286.6l-2.7,-5.6M509.9,286.2l-2.7,-5.6M512.1,286.3l-2.7,-5.6M514.2,286.4l-2.7,-5.6M516.4,286.5l-2.7,-5.6M522.3,286.2l-2.7,-5.6M524.5,286.3l-2.7,-5.6M526.6,286.4l-2.7,-5.6M528.8,286.5l-2.7,-5.6M534.7,286.1l-2.6,-5.6M536.9,286.2l-2.6,-5.6M539,286.3l-2.6,-5.6M541.2,286.4l-2.6,-5.6M547.1,286l-2.6,-5.6M549.3,286.1l-2.6,-5.6M551.4,286.2l-2.6,-5.6M553.6,286.3l-2.6,-5.6M559.5,285.9l-2.6,-5.6M561.7,286l-2.6,-5.6M563.8,286.1l-2.6,-5.6M566,286.2l-2.6,-5.6M571.9,285.8l-2.6,-5.6M574.1,285.9l-2.6,-5.6M576.2,286l-2.6,-5.6M578.4,286.2l-2.6,-5.6M584.4,285.7l-2.5,-5.7M586.5,285.8l-2.5,-5.7M588.6,286l-2.5,-5.7M590.8,286.1l-2.5,-5.7M596.8,285.6l-2.5,-5.7M598.9,285.7l-2.5,-5.7M601,285.9l-2.5,-5.7M603.2,286l-2.5,-5.7M609.2,285.5l-2.5,-5.7M611.3,285.6l-2.5,-5.7M613.5,285.8l-2.5,-5.7M615.6,286l-2.5,-5.7M621.6,285.4l-2.5,-5.7M623.7,285.6l-2.5,-5.7M625.9,285.7l-2.5,-5.7M628,285.9l-2.5,-5.7M634,285.3l-2.5,-5.7M636.1,285.5l-2.5,-5.7M638.3,285.7l-2.5,-5.7M640.4,285.8l-2.5,-5.7M646.4,285.2l-2.4,-5.7M648.5,285.4l-2.4,-5.7M650.7,285.6l-2.4,-5.7M652.8,285.8l-2.4,-5.7M658.8,285.1l-2.4,-5.7M660.9,285.3l-2.4,-5.7M663.1,285.5l-2.4,-5.7M665.2,285.7l-2.4,-5.7M671.2,285.1l-2.4,-5.7M673.3,285.3l-2.4,-5.7M675.5,285.5l-2.4,-5.7M677.6,285.7l-2.4,-5.7M193.7,297.1l-2.7,-5.6M195.9,297.2l-2.7,-5.6M198,297.2l-2.7,-5.6M206.1,297.1l-2.7,-5.6M208.3,297.2l-2.7,-5.6M210.4,297.2l-2.7,-5.6M218.5,297.1l-2.7,-5.6M220.7,297.2l-2.7,-5.6M222.8,297.2l-2.7,-5.6M230.9,297.1l-2.7,-5.6M233.1,297.2l-2.7,-5.6M235.2,297.2l-2.7,-5.6M243.3,297.1l-2.7,-5.6M245.5,297.2l-2.7,-5.6M247.6,297.2l-2.7,-5.6M255.7,297.1l-2.7,-5.6M257.9,297.2l-2.7,-5.6M260,297.2l-2.7,-5.6M268.1,297.1l-2.7,-5.6M270.3,297.2l-2.7,-5.6M272.4,297.2l-2.7,-5.6M280.5,297.1l-2.7,-5.6M282.7,297.2l-2.7,-5.6M284.8,297.2l-2.7,-5.6M292.9,297.1l-2.7,-5.6M295.1,297.2l-2.7,-5.6M297.2,297.2l-2.7,-5.6M305.3,297.1l-2.7,-5.6M307.5,297.2l-2.7,-5.6M309.6,297.2l-2.7,-5.6M317.7,297.1l-2.7,-5.6M319.9,297.2l-2.7,-5.6M322,297.3l-2.7,-5.6M330.1,297.1l-2.7,-5.6M332.3,297.2l-2.7,-5.6M334.4,297.3l-2.7,-5.6M342.5,297.1l-2.7,-5.6M344.7,297.2l-2.7,-5.6M346.8,297.3l-2.7,-5.6M354.9,297.1l-2.7,-5.6M357.1,297.2l-2.7,-5.6M359.2,297.3l-2.7,-5.6M361.4,297.3l-1.4,-2.8M367.3,297.1l-2.7,-5.6M369.5,297.2l-2.7,-5.6M371.6,297.3l-2.7,-5.6M373.8,297.3l-1.4,-2.8M379.7,297.1l-2.7,-5.6M381.9,297.2l-2.7,-5.6M384,297.3l-2.7,-5.6M386.2,297.3l-1.4,-2.8M392.1,297.1l-2.7,-5.6M394.3,297.2l-2.7,-5.6M396.4,297.3l-2.7,-5.6M398.6,297.3l-1.4,-2.8M404.5,297.1l-2.7,-5.6M406.7,297.2l-2.7,-5.6M408.8,297.3l-2.7,-5.6M411,297.4l-1.4,-2.8M416.9,297.1l-2.7,-5.6M419.1,297.2l-2.7,-5.6M421.2,297.3l-2.7,-5.6M423.4,297.4l-1.4,-2.8M429.3,297.1l-2.7,-5.6M431.5,297.2l-2.7,-5.6M433.6,297.3l-2.7,-5.6M435.8,297.4l-1.4,-2.8M441.7,297.1l-2.7,-5.6M443.9,297.2l-2.7,-5.6M446,297.3l-2.7,-5.6M448.2,297.4l-1.4,-2.8M454.1,297.1l-2.7,-5.6M456.3,297.2l-2.7,-5.6M458.4,297.2l-2.7,-5.6M460.6,297.3l-1.4,-2.8M466.5,297l-2.7,-5.6M468.7,297.1l-2.7,-5.6M470.8,297.2l-2.7,-5.6M473,297.3l-1.3,-2.8M478.9,296.9l-2.7,-5.6M481.1,297l-2.7,-5.6M483.2,297.1l-2.7,-5.6M485.4,297.2l-2.7,-5.6M491.3,296.9l-2.7,-5.6M493.5,297l-2.7,-5.6M495.6,297.1l-2.7,-5.6M497.8,297.2l-2.7,-5.6M503.7,296.8l-2.6,-5.6M505.9,296.9l-2.6,-5.6M508,297l-2.6,-5.6M510.2,297.1l-2.6,-5.6M516.1,296.7l-2.6,-5.6M518.3,296.8l-2.6,-5.6M520.4,296.9l-2.6,-5.6M522.6,297l-2.6,-5.6M528.5,296.6l-2.6,-5.6M530.7,296.8l-2.6,-5.6M532.8,296.9l-2.6,-5.6M535,297l-2.6,-5.6M540.9,296.6l-2.6,-5.6M543.1,296.7l-2.6,-5.6M545.2,296.8l-2.6,-5.6M547.4,296.9l-2.6,-5.6M553.3,296.5l-2.6,-5.6M555.5,296.6l-2.6,-5.6M557.6,296.7l-2.6,-5.6M559.8,296.9l-2.6,-5.6M565.8,296.4l-2.6,-5.6M567.9,296.5l-2.6,-5.6M570,296.7l-2.6,-5.6M572.2,296.8l-2.6,-5.6M578.2,296.3l-2.5,-5.7M580.3,296.5l-2.5,-5.7M582.4,296.6l-2.5,-5.7M584.6,296.8l-2.5,-5.7M590.6,296.2l-2.5,-5.7M592.7,296.4l-2.5,-5.7M594.9,296.5l-2.5,-5.7M597,296.7l-2.5,-5.7M603,296.2l-2.5,-5.7M605.1,296.3l-2.5,-5.7M607.3,296.5l-2.5,-5.7M609.4,296.6l-2.5,-5.7M615.4,296.1l-2.5,-5.7M617.5,296.3l-2.5,-5.7M619.7,296.4l-2.5,-5.7M621.8,296.6l-2.5,-5.7M627.8,296l-2.5,-5.7M629.9,296.2l-2.5,-5.7M632.1,296.4l-2.5,-5.7M634.2,296.5l-2.5,-5.7M640.2,295.9l-2.4,-5.7M642.3,296.1l-2.4,-5.7M644.5,296.3l-2.4,-5.7M646.6,296.5l-2.4,-5.7M652.6,295.9l-2.4,-5.7M654.7,296l-2.4,-5.7M656.9,296.2l-2.4,-5.7M659,296.4l-2.4,-5.7M665,295.8l-2.4,-5.7M667.1,296l-2.4,-5.7M669.3,296.2l-2.4,-5.7M671.4,296.4l-2.4,-5.7M199.9,307.8l-2.7,-5.6M202.1,307.8l-2.7,-5.6M204.2,307.9l-2.7,-5.6M212.3,307.8l-2.7,-5.6M214.5,307.8l-2.7,-5.6M216.6,307.9l-2.7,-5.6M224.7,307.8l-2.7,-5.6M226.9,307.8l-2.7,-5.6M229,307.9l-2.7,-5.6M237.1,307.8l-2.7,-5.6M239.3,307.8l-2.7,-5.6M241.4,307.9l-2.7,-5.6M249.5,307.8l-2.7,-5.6M251.7,307.8l-2.7,-5.6M253.8,307.9l-2.7,-5.6M261.9,307.8l-2.7,-5.6M264.1,307.8l-2.7,-5.6M266.2,307.9l-2.7,-5.6M274.3,307.8l-2.7,-5.6M276.5,307.8l-2.7,-5.6M278.6,307.9l-2.7,-5.6M286.7,307.8l-2.7,-5.6M288.9,307.8l-2.7,-5.6M291,307.9l-2.7,-5.6M299.1,307.8l-2.7,-5.6M301.3,307.8l-2.7,-5.6M303.4,307.9l-2.7,-5.6M311.5,307.8l-2.7,-5.6M313.7,307.8l-2.7,-5.6M315.8,307.9l-2.7,-5.6M323.9,307.8l-2.7,-5.6M326.1,307.8l-2.7,-5.6M328.2,307.9l-2.7,-5.6M336.3,307.8l-2.7,-5.6M338.5,307.8l-2.7,-5.6M340.6,307.9l-2.7,-5.6M348.7,307.7l-2.7,-5.6M350.9,307.8l-2.7,-5.6M353,307.9l-2.7,-5.6M361.1,307.7l-2.7,-5.6M363.3,307.8l-2.7,-5.6M365.4,307.9l-2.7,-5.6M367.6,308l-1.3,-2.8M373.5,307.7l-2.7,-5.6M375.7,307.8l-2.7,-5.6M377.8,307.9l-2.7,-5.6M380,307.9l-1.3,-2.8M385.9,307.7l-2.7,-5.6M388.1,307.8l-2.7,-5.6M390.2,307.9l-2.7,-5.6M392.4,307.9l-1.3,-2.8M398.3,307.7l-2.7,-5.6M400.5,307.8l-2.7,-5.6M402.6,307.9l-2.7,-5.6M404.8,307.9l-1.3,-2.8M410.7,307.7l-2.7,-5.6M412.9,307.8l-2.7,-5.6M415,307.9l-2.7,-5.6M417.2,307.9l-1.3,-2.8M423.1,307.7l-2.7,-5.6M425.3,307.8l-2.7,-5.6M427.4,307.9l-2.7,-5.6M429.6,307.9l-1.3,-2.8M435.5,307.7l-2.7,-5.6M437.7,307.8l-2.7,-5.6M439.8,307.9l-2.7,-5.6M442,307.9l-1.3,-2.8M447.9,307.7l-2.7,-5.6M450.1,307.8l-2.7,-5.6M452.2,307.8l-2.7,-5.6M454.4,307.9l-1.3,-2.8M460.3,307.6l-2.7,-5.6M462.5,307.7l-2.7,-5.6M464.6,307.8l-2.7,-5.6M466.8,307.9l-1.3,-2.8M472.7,307.5l-2.7,-5.6M474.9,307.6l-2.7,-5.6M477,307.7l-2.7,-5.6M479.2,307.8l-1.3,-2.8M485.1,307.5l-2.6,-5.6M487.3,307.6l-2.6,-5.6M489.4,307.7l-2.6,-5.6M491.6,307.8l-1.3,-2.8M497.5,307.4l-2.6,-5.6M499.7,307.5l-2.6,-5.6M501.8,307.6l-2.6,-5.6M504,307.7l-1.3,-2.8M509.9,307.3l-2.6,-5.6M512.1,307.5l-2.6,-5.6M514.2,307.6l-2.6,-5.6M516.4,307.7l-2.6,-5.6M522.3,307.3l-2.6,-5.6M524.5,307.4l-2.6,-5.6M526.6,307.5l-2.6,-5.6M528.8,307.6l-2.6,-5.6M534.7,307.2l-2.6,-5.6M536.9,307.3l-2.6,-5.6M539,307.5l-2.6,-5.6M541.2,307.6l-2.6,-5.6M547.1,307.2l-2.6,-5.6M549.3,307.3l-2.6,-5.6M551.4,307.4l-2.6,-5.6M553.6,307.6l-2.6,-5.6M559.6,307.1l-2.6,-5.7M561.7,307.2l-2.6,-5.7M563.8,307.4l-2.6,-5.7M566,307.5l-2.6,-5.7M572,307l-2.5,-5.7M574.1,307.2l-2.5,-5.7M576.2,307.3l-2.5,-5.7M578.4,307.5l-2.5,-5.7M584.4,307l-2.5,-5.7M586.5,307.1l-2.5,-5.7M588.7,307.3l-2.5,-5.7M590.8,307.4l-2.5,-5.7M596.8,306.9l-2.5,-5.7M598.9,307.1l-2.5,-5.7M601.1,307.2l-2.5,-5.7M603.2,307.4l-2.5,-5.7M609.2,306.8l-2.5,-5.7M611.3,307l-2.5,-5.7M613.5,307.2l-2.5,-5.7M615.6,307.3l-2.5,-5.7M621.6,306.8l-2.5,-5.7M623.7,306.9l-2.5,-5.7M625.9,307.1l-2.5,-5.7M628,307.3l-2.5,-5.7M634,306.7l-2.5,-5.7M636.1,306.9l-2.5,-5.7M638.3,307.1l-2.5,-5.7M640.4,307.2l-2.5,-5.7M646.4,306.7l-2.5,-5.7M648.5,306.8l-2.5,-5.7M650.7,307l-2.5,-5.7M652.8,307.2l-2.5,-5.7M658.8,306.6l-2.4,-5.7M660.9,306.8l-2.4,-5.7M663.1,307l-2.4,-5.7M665.2,307.1l-2.4,-5.7M671.2,306.6l-2.4,-5.7M673.3,306.8l-2.4,-5.7M675.5,307l-2.4,-5.7M677.6,307.1l-2.4,-5.7M193.7,318.4l-2.7,-5.6M195.9,318.4l-2.7,-5.6M198,318.5l-2.7,-5.6M206.1,318.4l-2.7,-5.6M208.3,318.4l-2.7,-5.6M210.4,318.5l-2.7,-5.6M218.5,318.4l-2.7,-5.6M220.7,318.4l-2.7,-5.6M222.8,318.5l-2.7,-5.6M230.9,318.4l-2.7,-5.6M233.1,318.4l-2.7,-5.6M235.2,318.5l-2.7,-5.6M243.3,318.4l-2.7,-5.6M245.5,318.4l-2.7,-5.6M247.6,318.5l-2.7,-5.6M255.7,318.4l-2.7,-5.6M257.9,318.4l-2.7,-5.6M260,318.5l-2.7,-5.6M268.1,318.4l-2.7,-5.6M270.3,318.4l-2.7,-5.6M272.4,318.5l-2.7,-5.6M280.5,318.4l-2.7,-5.6M282.7,318.4l-2.7,-5.6M284.8,318.5l-2.7,-5.6M292.9,318.4l-2.7,-5.6M295.1,318.4l-2.7,-5.6M297.2,318.5l-2.7,-5.6M305.3,318.4l-2.7,-5.6M307.5,318.4l-2.7,-5.6M309.6,318.5l-2.7,-5.6M317.7,318.4l-2.7,-5.6M319.9,318.4l-2.7,-5.6M322,318.5l-2.7,-5.6M330.1,318.4l-2.7,-5.6M332.3,318.4l-2.7,-5.6M334.4,318.5l-2.7,-5.6M342.5,318.3l-2.7,-5.6M344.7,318.4l-2.7,-5.6M346.8,318.5l-2.7,-5.6M354.9,318.3l-2.7,-5.6M357.1,318.4l-2.7,-5.6M359.2,318.5l-2.7,-5.6M367.3,318.2l-2.7,-5.6M369.5,318.3l-2.7,-5.6M371.6,318.4l-2.7,-5.6M373.8,318.5l-1.3,-2.8M379.7,318.2l-2.6,-5.6M381.9,318.3l-2.6,-5.6M384,318.4l-2.6,-5.6M386.2,318.5l-1.3,-2.8M392.1,318.2l-2.6,-5.6M394.3,318.3l-2.6,-5.6M396.4,318.4l-2.6,-5.6M398.6,318.5l-1.3,-2.8M404.5,318.2l-2.6,-5.6M406.7,318.3l-2.6,-5.6M408.8,318.4l-2.6,-5.6M411,318.5l-1.3,-2.8M416.9,318.2l-2.6,-5.6M419.1,318.3l-2.6,-5.6M421.2,318.4l-2.6,-5.6M423.4,318.5l-1.3,-2.8M429.3,318.2l-2.6,-5.6M431.5,318.3l-2.6,-5.6M433.6,318.4l-2.6,-5.6M435.8,318.5l-1.3,-2.8M441.7,318.2l-2.6,-5.6M443.9,318.3l-2.6,-5.6M446,318.4l-2.6,-5.6M448.2,318.5l-1.3,-2.8M454.1,318.2l-2.6,-5.6M456.3,318.3l-2.6,-5.6M458.4,318.4l-2.6,-5.6M460.6,318.5l-1.3,-2.8M466.5,318.1l-2.6,-5.6M468.7,318.2l-2.6,-5.6M470.8,318.3l-2.6,-5.6M473,318.4l-1.3,-2.8M478.9,318.1l-2.6,-5.6M481.1,318.2l-2.6,-5.6M483.2,318.3l-2.6,-5.6M485.4,318.4l-1.3,-2.8M491.3,318l-2.6,-5.6M493.5,318.1l-2.6,-5.6M495.6,318.3l-2.6,-5.6M497.8,318.4l-1.3,-2.8M503.7,318l-2.6,-5.6M505.9,318.1l-2.6,-5.6M508,318.2l-2.6,-5.6M510.2,318.3l-1.3,-2.8M516.1,317.9l-2.6,-5.6M518.3,318l-2.6,-5.6M520.4,318.2l-2.6,-5.6M522.6,318.3l-1.3,-2.8M528.5,317.9l-2.6,-5.6M530.7,318l-2.6,-5.6M532.8,318.1l-2.6,-5.6M535,318.3l-1.3,-2.8M540.9,317.8l-2.6,-5.6M543.1,318l-2.6,-5.6M545.2,318.1l-2.6,-5.6M547.4,318.2l-1.3,-2.8M553.4,317.8l-2.5,-5.7M555.5,317.9l-2.5,-5.7M557.6,318.1l-2.5,-5.7M559.8,318.2l-1.3,-2.8M565.8,317.7l-2.5,-5.7M567.9,317.9l-2.5,-5.7M570,318l-2.5,-5.7M572.2,318.2l-1.3,-2.8M578.2,317.7l-2.5,-5.7M580.3,317.8l-2.5,-5.7M582.4,318l-2.5,-5.7M584.6,318.1l-1.3,-2.8M590.6,317.6l-2.5,-5.7M592.7,317.8l-2.5,-5.7M594.9,317.9l-2.5,-5.7M597,318.1l-1.3,-2.8M603,317.6l-2.5,-5.7M605.1,317.7l-2.5,-5.7M607.3,317.9l-2.5,-5.7M609.4,318.1l-1.3,-2.8M615.4,317.5l-2.5,-5.7M617.5,317.7l-2.5,-5.7M619.7,317.9l-2.5,-5.7M621.8,318l-1.2,-2.8M627.8,317.5l-2.5,-5.7M629.9,317.7l-2.5,-5.7M632.1,317.8l-2.5,-5.7M634.2,318l-1.2,-2.8M640.2,317.5l-2.5,-5.7M642.3,317.6l-2.5,-5.7M644.5,317.8l-2.5,-5.7M646.6,318l-1.2,-2.8M652.6,317.4l-2.5,-5.7M654.7,317.6l-2.5,-5.7M656.9,317.8l-2.5,-5.7M659,317.9l-1.2,-2.8M665,317.4l-2.5,-5.7M667.1,317.6l-2.5,-5.7M669.3,317.7l-2.5,-5.7M671.4,317.9l-1.2,-2.8M199.9,329l-2.7,-5.6M202.1,329.1l-2.7,-5.6M204.2,329.2l-2.7,-5.6M212.3,329l-2.7,-5.6M214.5,329.1l-2.7,-5.6M216.6,329.2l-2.7,-5.6M224.7,329l-2.7,-5.6M226.9,329.1l-2.7,-5.6M229,329.2l-2.7,-5.6M237.1,329l-2.7,-5.6M239.3,329.1l-2.7,-5.6M241.4,329.2l-2.7,-5.6M249.5,329l-2.7,-5.6M251.7,329.1l-2.7,-5.6M253.8,329.2l-2.7,-5.6M261.9,329l-2.7,-5.6M264.1,329.1l-2.7,-5.6M266.2,329.2l-2.7,-5.6M274.3,329l-2.7,-5.6M276.5,329.1l-2.7,-5.6M278.6,329.2l-2.7,-5.6M286.7,329l-2.7,-5.6M288.9,329.1l-2.7,-5.6M291,329.2l-2.7,-5.6M299.1,329l-2.7,-5.6M301.3,329.1l-2.7,-5.6M303.4,329.2l-2.7,-5.6M311.5,329l-2.7,-5.6M313.7,329.1l-2.7,-5.6M315.8,329.2l-2.7,-5.6M323.9,329l-2.7,-5.6M326.1,329.1l-2.7,-5.6M328.2,329.2l-2.7,-5.6M336.3,329l-2.7,-5.6M338.5,329.1l-2.7,-5.6M340.6,329.2l-2.7,-5.6M348.7,328.9l-2.6,-5.6M350.9,329l-2.6,-5.6M353,329.1l-2.6,-5.6M361.1,328.8l-2.6,-5.6M363.3,328.9l-2.6,-5.6M365.4,329l-2.6,-5.6M373.5,328.7l-2.6,-5.6M375.7,328.8l-2.6,-5.6M377.8,329l-2.6,-5.6M385.9,328.7l-2.6,-5.6M388.1,328.8l-2.6,-5.6M390.2,328.9l-2.6,-5.6M398.3,328.7l-2.6,-5.6M400.5,328.8l-2.6,-5.6M402.6,328.9l-2.6,-5.6M410.7,328.7l-2.6,-5.6M412.9,328.8l-2.6,-5.6M415,328.9l-2.6,-5.6M423.1,328.7l-2.6,-5.6M425.3,328.8l-2.6,-5.6M427.4,328.9l-2.6,-5.6M435.5,328.7l-2.6,-5.6M437.7,328.8l-2.6,-5.6M439.8,328.9l-2.6,-5.6M447.9,328.7l-2.6,-5.6M450.1,328.8l-2.6,-5.6M452.2,328.9l-2.6,-5.6M460.3,328.7l-2.6,-5.6M462.5,328.8l-2.6,-5.6M464.6,328.9l-2.6,-5.6M472.7,328.6l-2.6,-5.6M474.9,328.8l-2.6,-5.6M477,328.9l-2.6,-5.6M479.2,329l-1.3,-2.8M485.1,328.6l-2.6,-5.6M487.3,328.7l-2.6,-5.6M489.4,328.9l-2.6,-5.6M491.6,329l-1.3,-2.8M497.5,328.6l-2.6,-5.6M499.7,328.7l-2.6,-5.6M501.8,328.8l-2.6,-5.6M504,329l-1.3,-2.8M509.9,328.5l-2.6,-5.6M512.1,328.7l-2.6,-5.6M514.2,328.8l-2.6,-5.6M516.4,328.9l-1.3,-2.8M522.4,328.5l-2.6,-5.6M524.5,328.6l-2.6,-5.6M526.6,328.8l-2.6,-5.6M528.8,328.9l-1.3,-2.8M534.8,328.5l-2.6,-5.7M536.9,328.6l-2.6,-5.7M539,328.8l-2.6,-5.7M541.2,328.9l-1.3,-2.8M547.2,328.4l-2.5,-5.7M549.3,328.6l-2.5,-5.7M551.4,328.7l-2.5,-5.7M553.6,328.9l-1.3,-2.8M559.6,328.4l-2.5,-5.7M561.7,328.6l-2.5,-5.7M563.8,328.7l-2.5,-5.7M566,328.9l-1.3,-2.8M572,328.4l-2.5,-5.7M574.1,328.5l-2.5,-5.7M576.2,328.7l-2.5,-5.7M578.4,328.8l-1.3,-2.8M584.4,328.4l-2.5,-5.7M586.5,328.5l-2.5,-5.7M588.7,328.7l-2.5,-5.7M590.8,328.8l-1.3,-2.8M596.8,328.3l-2.5,-5.7M598.9,328.5l-2.5,-5.7M601.1,328.6l-2.5,-5.7M603.2,328.8l-1.3,-2.8M609.2,328.3l-2.5,-5.7M611.3,328.5l-2.5,-5.7M613.5,328.6l-2.5,-5.7M615.6,328.8l-1.3,-2.8M621.6,328.3l-2.5,-5.7M623.7,328.4l-2.5,-5.7M625.9,328.6l-2.5,-5.7M628,328.7l-1.3,-2.8M634,328.2l-2.5,-5.7M636.1,328.4l-2.5,-5.7M638.3,328.6l-2.5,-5.7M640.4,328.7l-1.2,-2.8M646.4,328.2l-2.5,-5.7M648.5,328.4l-2.5,-5.7M650.7,328.5l-2.5,-5.7M652.8,328.7l-1.2,-2.8M658.8,328.2l-2.5,-5.7M660.9,328.4l-2.5,-5.7M663.1,328.5l-2.5,-5.7M665.2,328.7l-1.2,-2.8M671.2,328.2l-2.5,-5.7M673.3,328.3l-2.5,-5.7M675.5,328.5l-2.5,-5.7M677.6,328.7l-1.2,-2.8M193.7,339.6l-2.6,-5.6M195.9,339.7l-2.6,-5.6M198,339.8l-2.6,-5.6M206.1,339.6l-2.6,-5.6M208.3,339.7l-2.6,-5.6M210.4,339.8l-2.6,-5.6M218.5,339.6l-2.6,-5.6M220.7,339.7l-2.6,-5.6M222.8,339.8l-2.6,-5.6M230.9,339.6l-2.6,-5.6M233.1,339.7l-2.6,-5.6M235.2,339.8l-2.6,-5.6M243.3,339.6l-2.6,-5.6M245.5,339.7l-2.6,-5.6M247.6,339.8l-2.6,-5.6M255.7,339.6l-2.6,-5.6M257.9,339.7l-2.6,-5.6M260,339.8l-2.6,-5.6M268.1,339.6l-2.6,-5.6M270.3,339.7l-2.6,-5.6M272.4,339.8l-2.6,-5.6M280.5,339.6l-2.6,-5.6M282.7,339.7l-2.6,-5.6M284.8,339.8l-2.6,-5.6M292.9,339.6l-2.6,-5.6M295.1,339.7l-2.6,-5.6M297.2,339.8l-2.6,-5.6M305.3,339.6l-2.6,-5.6M307.5,339.7l-2.6,-5.6M309.6,339.8l-2.6,-5.6M317.7,339.6l-2.6,-5.6M319.9,339.7l-2.6,-5.6M322,339.8l-2.6,-5.6M330.1,339.6l-2.6,-5.6M332.3,339.7l-2.6,-5.6M334.4,339.8l-2.6,-5.6M342.5,339.5l-2.6,-5.6M344.7,339.7l-2.6,-5.6M346.8,339.8l-2.6,-5.6M354.9,339.4l-2.6,-5.6M357.1,339.5l-2.6,-5.6M359.2,339.7l-2.6,-5.6M367.3,339.3l-2.6,-5.6M369.5,339.4l-2.6,-5.6M371.6,339.6l-2.6,-5.6M379.8,339.2l-2.6,-5.6M381.9,339.4l-2.6,-5.6M384,339.5l-2.6,-5.6M392.2,339.2l-2.6,-5.6M394.3,339.4l-2.6,-5.6M396.4,339.5l-2.6,-5.6M404.6,339.2l-2.6,-5.6M406.7,339.4l-2.6,-5.6M408.8,339.5l-2.6,-5.6M417,339.2l-2.6,-5.6M419.1,339.4l-2.6,-5.6M421.2,339.5l-2.6,-5.6M429.4,339.2l-2.6,-5.6M431.5,339.4l-2.6,-5.6M433.6,339.5l-2.6,-5.6M441.8,339.2l-2.6,-5.6M443.9,339.4l-2.6,-5.6M446,339.5l-2.6,-5.6M454.2,339.2l-2.6,-5.6M456.3,339.3l-2.6,-5.6M458.4,339.5l-2.6,-5.6M466.6,339.2l-2.6,-5.7M468.7,339.3l-2.6,-5.7M470.8,339.5l-2.6,-5.7M479,339.2l-2.5,-5.7M481.1,339.3l-2.5,-5.7M483.2,339.5l-2.5,-5.7M491.4,339.2l-2.5,-5.7M493.5,339.3l-2.5,-5.7M495.6,339.4l-2.5,-5.7M503.8,339.1l-2.5,-5.7M505.9,339.3l-2.5,-5.7M508,339.4l-2.5,-5.7M516.2,339.1l-2.5,-5.7M518.3,339.3l-2.5,-5.7M520.4,339.4l-2.5,-5.7M528.6,339.1l-2.5,-5.7M530.7,339.3l-2.5,-5.7M532.8,339.4l-2.5,-5.7M541,339.1l-2.5,-5.7M543.1,339.3l-2.5,-5.7M545.2,339.4l-2.5,-5.7M553.4,339.1l-2.5,-5.7M555.5,339.2l-2.5,-5.7M557.6,339.4l-2.5,-5.7M565.8,339.1l-2.5,-5.7M567.9,339.2l-2.5,-5.7M570,339.4l-2.5,-5.7M578.2,339.1l-2.5,-5.7M580.3,339.2l-2.5,-5.7M582.4,339.4l-2.5,-5.7M590.6,339.1l-2.5,-5.7M592.7,339.2l-2.5,-5.7M594.9,339.4l-2.5,-5.7M603,339l-2.5,-5.7M605.1,339.2l-2.5,-5.7M607.3,339.3l-2.5,-5.7M615.4,339l-2.5,-5.7M617.5,339.2l-2.5,-5.7M619.7,339.3l-2.5,-5.7M627.8,339l-2.5,-5.7M629.9,339.2l-2.5,-5.7M632.1,339.3l-2.5,-5.7M640.2,339l-2.5,-5.7M642.3,339.2l-2.5,-5.7M644.5,339.3l-2.5,-5.7M652.6,339l-2.5,-5.7M654.7,339.1l-2.5,-5.7M656.9,339.3l-2.5,-5.7M665,339l-2.5,-5.7M667.1,339.1l-2.5,-5.7M669.3,339.3l-2.5,-5.7M199.9,350.2l-2.6,-5.6M202.1,350.3l-2.6,-5.6M204.2,350.4l-2.6,-5.6M212.3,350.2l-2.6,-5.6M214.5,350.3l-2.6,-5.6M216.6,350.4l-2.6,-5.6M224.7,350.2l-2.6,-5.6M226.9,350.3l-2.6,-5.6M229,350.4l-2.6,-5.6M237.1,350.2l-2.6,-5.6M239.3,350.3l-2.6,-5.6M241.4,350.4l-2.6,-5.6M249.5,350.1l-2.6,-5.6M251.7,350.3l-2.6,-5.6M253.8,350.4l-2.6,-5.6M261.9,350.1l-2.6,-5.6M264.1,350.3l-2.6,-5.6M266.2,350.4l-2.6,-5.6M274.3,350.1l-2.6,-5.6M276.5,350.2l-2.6,-5.6M278.6,350.4l-2.6,-5.6M286.7,350.1l-2.6,-5.6M288.9,350.2l-2.6,-5.6M291,350.4l-2.6,-5.6M299.1,350.1l-2.6,-5.6M301.3,350.2l-2.6,-5.6M303.4,350.4l-2.6,-5.6M311.5,350.1l-2.6,-5.6M313.7,350.2l-2.6,-5.6M315.8,350.3l-2.6,-5.6M323.9,350.1l-2.6,-5.6M326.1,350.2l-2.6,-5.6M328.2,350.3l-2.6,-5.6M336.3,350.1l-2.6,-5.6M338.5,350.2l-2.6,-5.6M340.6,350.3l-2.6,-5.6M348.7,350l-2.6,-5.6M350.9,350.1l-2.6,-5.6M353,350.3l-2.6,-5.6M361.2,349.8l-2.5,-5.7M363.3,350l-2.5,-5.7M365.4,350.1l-2.5,-5.7M373.6,349.7l-2.5,-5.7M375.7,349.9l-2.5,-5.7M377.9,350l-2.5,-5.7M386,349.7l-2.5,-5.7M388.1,349.8l-2.5,-5.7M390.3,350l-2.5,-5.7M398.4,349.7l-2.5,-5.7M400.5,349.8l-2.5,-5.7M402.7,350l-2.5,-5.7M410.8,349.7l-2.5,-5.7M412.9,349.8l-2.5,-5.7M415.1,350l-2.5,-5.7M423.2,349.7l-2.5,-5.7M425.3,349.8l-2.5,-5.7M427.5,350l-2.5,-5.7M435.6,349.7l-2.5,-5.7M437.7,349.8l-2.5,-5.7M439.9,350l-2.5,-5.7M448,349.7l-2.5,-5.7M450.1,349.8l-2.5,-5.7M452.3,350l-2.5,-5.7M460.4,349.7l-2.5,-5.7M462.5,349.9l-2.5,-5.7M464.7,350l-2.5,-5.7M472.8,349.7l-2.5,-5.7M474.9,349.9l-2.5,-5.7M477.1,350l-2.5,-5.7M485.2,349.7l-2.5,-5.7M487.3,349.9l-2.5,-5.7M489.5,350l-2.5,-5.7M497.6,349.7l-2.5,-5.7M499.7,349.9l-2.5,-5.7M501.9,350l-2.5,-5.7M510,349.7l-2.5,-5.7M512.1,349.9l-2.5,-5.7M514.3,350l-2.5,-5.7M522.4,349.7l-2.5,-5.7M524.5,349.9l-2.5,-5.7M526.7,350l-2.5,-5.7M534.8,349.7l-2.5,-5.7M536.9,349.9l-2.5,-5.7M539.1,350l-2.5,-5.7M547.2,349.7l-2.5,-5.7M549.3,349.9l-2.5,-5.7M551.5,350l-2.5,-5.7M559.6,349.7l-2.5,-5.7M561.7,349.9l-2.5,-5.7M563.9,350l-2.5,-5.7M572,349.7l-2.5,-5.7M574.1,349.9l-2.5,-5.7M576.3,350l-2.5,-5.7M584.4,349.7l-2.5,-5.7M586.5,349.9l-2.5,-5.7M588.7,350l-2.5,-5.7M596.8,349.7l-2.5,-5.7M598.9,349.9l-2.5,-5.7M601.1,350l-2.5,-5.7M609.2,349.7l-2.5,-5.7M611.3,349.9l-2.5,-5.7M613.5,350l-2.5,-5.7M621.6,349.7l-2.5,-5.7M623.7,349.9l-2.5,-5.7M625.9,350l-2.5,-5.7M634,349.7l-2.5,-5.7M636.1,349.9l-2.5,-5.7M638.3,350l-2.5,-5.7M646.4,349.7l-2.5,-5.7M648.5,349.9l-2.5,-5.7M650.7,350l-2.5,-5.7M658.8,349.7l-2.5,-5.7M660.9,349.9l-2.5,-5.7M663.1,350l-2.5,-5.7M671.2,349.7l-2.5,-5.7M673.3,349.9l-2.5,-5.7M675.5,350l-2.5,-5.7M193.7,360.7l-2.6,-5.6M195.9,360.8l-2.6,-5.6M198,360.9l-2.6,-5.6M206.1,360.7l-2.6,-5.6M208.3,360.8l-2.6,-5.6M210.4,360.9l-2.6,-5.6M218.5,360.7l-2.6,-5.6M220.7,360.8l-2.6,-5.6M222.8,360.9l-2.6,-5.6M230.9,360.6l-2.6,-5.6M233.1,360.8l-2.6,-5.6M235.2,360.9l-2.6,-5.6M243.4,360.6l-2.5,-5.7M245.5,360.7l-2.5,-5.7M247.6,360.9l-2.5,-5.7M255.8,360.5l-2.5,-5.7M257.9,360.6l-2.5,-5.7M260,360.8l-2.5,-5.7M268.2,360.4l-2.5,-5.7M270.3,360.6l-2.5,-5.7M272.5,360.7l-2.5,-5.7M280.6,360.3l-2.5,-5.7M282.7,360.5l-2.5,-5.7M284.9,360.7l-2.5,-5.7M293,360.3l-2.5,-5.7M295.1,360.5l-2.5,-5.7M297.3,360.6l-2.5,-5.7M305.4,360.3l-2.5,-5.7M307.5,360.4l-2.5,-5.7M309.7,360.6l-2.5,-5.7M317.8,360.2l-2.5,-5.7M319.9,360.4l-2.5,-5.7M322.1,360.6l-2.5,-5.7M330.2,360.2l-2.5,-5.7M332.3,360.4l-2.5,-5.7M334.5,360.5l-2.5,-5.7M342.6,360.1l-2.4,-5.7M344.7,360.3l-2.4,-5.7M346.9,360.5l-2.4,-5.7M355,360l-2.4,-5.7M357.1,360.2l-2.4,-5.7M359.3,360.4l-2.4,-5.7M367.4,359.9l-2.4,-5.7M369.5,360.1l-2.4,-5.7M371.7,360.3l-2.4,-5.7M379.8,359.8l-2.4,-5.7M382,360l-2.4,-5.7M384.1,360.2l-2.4,-5.7M392.2,359.8l-2.4,-5.7M394.4,360l-2.4,-5.7M396.5,360.3l-2.4,-5.7M404.6,359.9l-2.4,-5.7M406.7,360.1l-2.4,-5.7M408.9,360.3l-2.4,-5.7M417,359.9l-2.4,-5.7M419.1,360.1l-2.4,-5.7M421.3,360.3l-2.4,-5.7M429.4,359.9l-2.4,-5.7M431.5,360.1l-2.4,-5.7M433.7,360.3l-2.4,-5.7M441.8,359.9l-2.4,-5.7M443.9,360.1l-2.4,-5.7M446.1,360.3l-2.4,-5.7M454.2,360l-2.4,-5.7M456.3,360.1l-2.4,-5.7M458.5,360.3l-2.4,-5.7M466.6,360l-2.4,-5.7M468.7,360.2l-2.4,-5.7M470.9,360.4l-2.4,-5.7M479,360l-2.4,-5.7M481.1,360.2l-2.4,-5.7M483.3,360.4l-2.4,-5.7M491.4,360.1l-2.4,-5.7M493.5,360.2l-2.4,-5.7M495.7,360.4l-2.4,-5.7M503.8,360.1l-2.4,-5.7M505.9,360.3l-2.4,-5.7M508.1,360.5l-2.4,-5.7M516.2,360.1l-2.4,-5.7M518.3,360.3l-2.4,-5.7M520.5,360.5l-2.4,-5.7M528.6,360.2l-2.5,-5.7M530.7,360.3l-2.5,-5.7M532.9,360.5l-2.5,-5.7M541,360.2l-2.5,-5.7M543.1,360.4l-2.5,-5.7M545.3,360.5l-2.5,-5.7M553.4,360.2l-2.5,-5.7M555.5,360.4l-2.5,-5.7M557.7,360.5l-2.5,-5.7M565.8,360.2l-2.5,-5.7M567.9,360.4l-2.5,-5.7M570.1,360.6l-2.5,-5.7M578.2,360.2l-2.5,-5.7M580.3,360.4l-2.5,-5.7M582.5,360.6l-2.5,-5.7M590.6,360.2l-2.5,-5.7M592.7,360.4l-2.5,-5.7M594.9,360.6l-2.5,-5.7M603,360.2l-2.5,-5.7M605.1,360.4l-2.5,-5.7M607.3,360.6l-2.5,-5.7M615.4,360.2l-2.5,-5.7M617.5,360.4l-2.5,-5.7M619.7,360.6l-2.5,-5.7M627.8,360.2l-2.5,-5.7M629.9,360.4l-2.5,-5.7M632.1,360.6l-2.5,-5.7M640.2,360.2l-2.5,-5.7M642.3,360.4l-2.5,-5.7M644.5,360.6l-2.5,-5.7M652.6,360.2l-2.5,-5.7M654.7,360.4l-2.5,-5.7M656.9,360.6l-2.5,-5.7M665,360.2l-2.5,-5.7M667.1,360.4l-2.5,-5.7M669.3,360.6l-2.5,-5.7M200,371.2l-2.5,-5.7M202.1,371.3l-2.5,-5.7M204.2,371.5l-2.5,-5.7M212.4,371.2l-2.5,-5.7M214.5,371.3l-2.5,-5.7M216.6,371.5l-2.5,-5.7M224.8,371.1l-2.5,-5.7M226.9,371.3l-2.5,-5.7M229.1,371.4l-2.5,-5.7M237.2,371l-2.5,-5.7M239.3,371.2l-2.5,-5.7M241.5,371.4l-2.5,-5.7M249.6,370.9l-2.5,-5.7M251.7,371.1l-2.5,-5.7M253.9,371.3l-2.5,-5.7M262,370.8l-2.4,-5.7M264.1,371l-2.4,-5.7M266.3,371.1l-2.4,-5.7M274.4,370.6l-2.4,-5.7M276.5,370.8l-2.4,-5.7M278.7,371l-2.4,-5.7M286.8,370.5l-2.4,-5.7M289,370.7l-2.4,-5.7M291.1,370.9l-2.4,-5.7M299.2,370.4l-2.4,-5.7M301.4,370.6l-2.4,-5.7M303.5,370.9l-2.4,-5.7M311.6,370.4l-2.3,-5.7M313.8,370.6l-2.3,-5.7M315.9,370.8l-2.3,-5.7M324,370.3l-2.3,-5.7M326.2,370.5l-2.3,-5.7M328.3,370.7l-2.3,-5.7M336.4,370.2l-2.3,-5.8M338.6,370.4l-2.3,-5.8M340.7,370.7l-2.3,-5.8M348.9,370.1l-2.3,-5.8M351,370.4l-2.3,-5.8M353.1,370.6l-2.3,-5.8M361.3,370.1l-2.3,-5.8M363.4,370.3l-2.3,-5.8M365.5,370.5l-2.3,-5.8M373.7,370l-2.2,-5.8M375.8,370.2l-2.2,-5.8M377.9,370.5l-2.2,-5.8M386.1,370l-2.3,-5.8M388.2,370.2l-2.3,-5.8M390.3,370.5l-2.3,-5.8M398.5,370l-2.3,-5.8M400.6,370.3l-2.3,-5.8M402.7,370.5l-2.3,-5.8M410.9,370.1l-2.3,-5.8M413,370.3l-2.3,-5.8M415.1,370.6l-2.3,-5.8M423.3,370.1l-2.3,-5.8M425.4,370.3l-2.3,-5.8M427.5,370.6l-2.3,-5.8M435.7,370.1l-2.3,-5.8M437.8,370.4l-2.3,-5.8M439.9,370.6l-2.3,-5.8M448,370.2l-2.3,-5.8M450.2,370.4l-2.3,-5.8M452.3,370.6l-2.3,-5.8M460.4,370.2l-2.3,-5.8M462.6,370.5l-2.3,-5.8M464.7,370.7l-2.3,-5.8M472.8,370.3l-2.3,-5.7M475,370.5l-2.3,-5.7M477.1,370.8l-2.3,-5.7M485.2,370.4l-2.3,-5.7M487.4,370.6l-2.3,-5.7M489.5,370.8l-2.3,-5.7M497.6,370.5l-2.4,-5.7M499.8,370.7l-2.4,-5.7M501.9,370.9l-2.4,-5.7M510,370.5l-2.4,-5.7M512.2,370.7l-2.4,-5.7M514.3,370.9l-2.4,-5.7M522.4,370.6l-2.4,-5.7M524.5,370.8l-2.4,-5.7M526.7,371l-2.4,-5.7M534.8,370.6l-2.4,-5.7M536.9,370.8l-2.4,-5.7M539.1,371l-2.4,-5.7M547.2,370.6l-2.4,-5.7M549.3,370.8l-2.4,-5.7M551.5,371l-2.4,-5.7M559.6,370.7l-2.4,-5.7M561.7,370.9l-2.4,-5.7M563.9,371.1l-2.4,-5.7M572,370.7l-2.4,-5.7M574.1,370.9l-2.4,-5.7M576.3,371.1l-2.4,-5.7M584.4,370.8l-2.4,-5.7M586.5,370.9l-2.4,-5.7M588.7,371.1l-2.4,-5.7M596.8,370.8l-2.4,-5.7M598.9,370.9l-2.4,-5.7M601.1,371.1l-2.4,-5.7M609.2,370.8l-2.4,-5.7M611.3,370.9l-2.4,-5.7M613.5,371.1l-2.4,-5.7M621.6,370.8l-2.4,-5.7M623.7,370.9l-2.4,-5.7M625.9,371.1l-2.4,-5.7M634,370.8l-2.4,-5.7M636.1,370.9l-2.4,-5.7M638.3,371.1l-2.4,-5.7M646.4,370.8l-2.4,-5.7M648.5,370.9l-2.4,-5.7M650.7,371.1l-2.4,-5.7M658.8,370.8l-2.4,-5.7M660.9,370.9l-2.4,-5.7M663.1,371.1l-2.4,-5.7M671.2,370.8l-2.4,-5.7M673.3,370.9l-2.4,-5.7M675.5,371.1l-2.4,-5.7M193.8,381.7l-2.5,-5.7M195.9,381.9l-2.5,-5.7M198.1,382l-1.2,-2.8M206.2,381.7l-2.5,-5.7M208.3,381.9l-2.5,-5.7M210.5,382l-1.2,-2.8M218.6,381.7l-2.5,-5.7M220.7,381.8l-2.5,-5.7M222.9,382l-1.2,-2.8M231,381.6l-2.5,-5.7M233.1,381.7l-2.5,-5.7M235.3,381.9l-1.2,-2.8M243.4,381.4l-2.4,-5.7M245.5,381.6l-2.4,-5.7M247.7,381.8l-1.2,-2.9M255.8,381.2l-2.4,-5.7M258,381.4l-2.4,-5.7M260.1,381.6l-1.2,-2.9M268.2,381l-2.3,-5.8M270.4,381.2l-2.3,-5.8M272.5,381.4l-1.2,-2.9M280.7,380.8l-2.3,-5.8M282.8,381l-2.3,-5.8M284.9,381.3l-1.1,-2.9M293.1,380.7l-2.2,-5.8M295.2,380.9l-2.2,-5.8M297.3,381.2l-1.1,-2.9M305.5,380.5l-2.2,-5.8M307.6,380.8l-2.2,-5.8M309.8,381.1l-1.1,-2.9M317.9,380.4l-2.2,-5.8M320,380.7l-2.2,-5.8M322.2,381l-1.1,-2.9M330.3,380.3l-2.2,-5.8M332.4,380.6l-2.2,-5.8M334.6,380.9l-1.1,-2.9M342.7,380.2l-2.1,-5.8M344.9,380.5l-2.1,-5.8M347,380.8l-1.1,-2.9M355.1,380.2l-2.1,-5.8M357.3,380.5l-2.1,-5.8M359.4,380.8l-1.1,-2.9M367.5,380.1l-2.1,-5.8M369.7,380.4l-2.1,-5.8M371.8,380.7l-1.1,-2.9M379.9,380.1l-2.1,-5.8M382.1,380.4l-2.1,-5.8M384.2,380.7l-1.1,-2.9M392.3,380.2l-2.1,-5.8M394.5,380.5l-2.1,-5.8M396.6,380.8l-1.1,-2.9M404.7,380.2l-2.1,-5.8M406.9,380.5l-2.1,-5.8M409,380.8l-2.1,-5.8M417.1,380.3l-2.2,-5.8M419.3,380.6l-2.2,-5.8M421.4,380.9l-2.2,-5.8M429.5,380.3l-2.2,-5.8M431.6,380.6l-2.2,-5.8M433.8,380.9l-2.2,-5.8M441.9,380.4l-2.2,-5.8M444,380.7l-2.2,-5.8M446.2,380.9l-2.2,-5.8M454.3,380.5l-2.2,-5.8M456.4,380.7l-2.2,-5.8M458.6,381l-2.2,-5.8M466.7,380.6l-2.2,-5.8M468.8,380.8l-2.2,-5.8M471,381.1l-2.2,-5.8M479.1,380.7l-2.3,-5.8M481.2,380.9l-2.3,-5.8M483.3,381.2l-2.3,-5.8M491.5,380.8l-2.3,-5.8M493.6,381l-2.3,-5.8M495.7,381.3l-2.3,-5.8M503.8,380.9l-2.3,-5.8M506,381.1l-2.3,-5.8M508.1,381.4l-2.3,-5.8M516.2,381l-2.3,-5.7M518.4,381.2l-2.3,-5.7M520.5,381.4l-2.3,-5.7M528.6,381l-2.3,-5.7M530.8,381.3l-2.3,-5.7M532.9,381.5l-2.3,-5.7M541,381.1l-2.3,-5.7M543.2,381.3l-2.3,-5.7M545.3,381.5l-2.3,-5.7M553.4,381.1l-2.4,-5.7M555.6,381.4l-2.4,-5.7M557.7,381.6l-2.4,-5.7M565.8,381.2l-2.4,-5.7M568,381.4l-2.4,-5.7M570.1,381.6l-2.4,-5.7M578.2,381.2l-2.4,-5.7M580.4,381.4l-2.4,-5.7M582.5,381.6l-2.4,-5.7M590.6,381.3l-2.4,-5.7M592.7,381.5l-2.4,-5.7M594.9,381.7l-2.4,-5.7M603,381.3l-2.4,-5.7M605.1,381.5l-2.4,-5.7M607.3,381.7l-2.4,-5.7M615.4,381.3l-2.4,-5.7M617.5,381.5l-2.4,-5.7M619.7,381.7l-2.4,-5.7M627.8,381.3l-2.4,-5.7M629.9,381.5l-2.4,-5.7M632.1,381.7l-2.4,-5.7M640.2,381.3l-2.4,-5.7M642.3,381.5l-2.4,-5.7M644.5,381.7l-2.4,-5.7M652.6,381.3l-2.4,-5.7M654.7,381.5l-2.4,-5.7M656.9,381.7l-2.4,-5.7M665,381.3l-2.4,-5.7M667.1,381.5l-2.4,-5.7M669.3,381.7l-2.4,-5.7M200,392.2l-2.4,-5.7M202.1,392.4l-2.4,-5.7M204.3,392.6l-1.2,-2.8M212.4,392.2l-2.4,-5.7M214.5,392.4l-2.4,-5.7M216.7,392.6l-1.2,-2.8M224.8,392.1l-2.4,-5.7M226.9,392.3l-2.4,-5.7M229.1,392.5l-1.2,-2.9M237.2,391.9l-2.4,-5.7M239.4,392.1l-2.4,-5.7M241.5,392.3l-1.2,-2.9M249.6,391.7l-2.3,-5.7M251.8,391.9l-2.3,-5.7M253.9,392.2l-1.2,-2.9M262.1,391.4l-2.3,-5.8M264.2,391.7l-2.3,-5.8M266.3,391.9l-1.1,-2.9M274.5,391.1l-2.2,-5.8M276.6,391.4l-2.2,-5.8M278.8,391.6l-1.1,-2.9M286.9,390.9l-2.1,-5.8M289.1,391.2l-2.1,-5.8M291.2,391.5l-1.1,-2.9M299.4,390.8l-2.1,-5.8M301.5,391.1l-2.1,-5.8M303.6,391.4l-1.1,-2.9M311.8,390.6l-2.1,-5.8M313.9,390.9l-2.1,-5.8M316,391.2l-1,-2.9M324.2,390.5l-2,-5.9M326.3,390.8l-2,-5.9M328.4,391.1l-1,-2.9M336.6,390.3l-2,-5.9M338.7,390.7l-2,-5.9M340.9,391l-1,-2.9M349,390.3l-2,-5.9M351.1,390.6l-2,-5.9M353.3,391l-1,-2.9M361.4,390.3l-2,-5.9M363.5,390.6l-2,-5.9M365.7,391l-1,-2.9M373.8,390.3l-2,-5.9M376,390.6l-2,-5.9M378.1,391l-1,-2.9M386.2,390.3l-2,-5.9M388.3,390.7l-2,-5.9M390.5,391l-1,-2.9M398.6,390.4l-2,-5.9M400.7,390.7l-2,-5.9M402.9,391.1l-1,-2.9M411,390.4l-2,-5.9M413.1,390.8l-2,-5.9M415.2,391.1l-2,-5.9M423.4,390.5l-2,-5.9M425.5,390.8l-2,-5.9M427.6,391.2l-2,-5.9M435.8,390.6l-2.1,-5.8M437.9,390.9l-2.1,-5.8M440,391.2l-2.1,-5.8M448.2,390.7l-2.1,-5.8M450.3,391l-2.1,-5.8M452.4,391.3l-2.1,-5.8M460.5,390.8l-2.1,-5.8M462.7,391.1l-2.1,-5.8M464.8,391.4l-2.1,-5.8M472.9,390.9l-2.1,-5.8M475.1,391.2l-2.1,-5.8M477.2,391.5l-2.1,-5.8M485.3,391.1l-2.2,-5.8M487.4,391.4l-2.2,-5.8M489.6,391.6l-2.2,-5.8M497.7,391.2l-2.2,-5.8M499.8,391.5l-2.2,-5.8M502,391.7l-2.2,-5.8M510.1,391.3l-2.2,-5.8M512.2,391.6l-2.2,-5.8M514.3,391.9l-2.2,-5.8M522.5,391.4l-2.3,-5.8M524.6,391.7l-2.3,-5.8M526.7,391.9l-2.3,-5.8M534.9,391.5l-2.3,-5.8M537,391.7l-2.3,-5.8M539.1,392l-2.3,-5.8M547.2,391.6l-2.3,-5.8M549.4,391.8l-2.3,-5.8M551.5,392l-2.3,-5.8M559.6,391.6l-2.3,-5.8M561.8,391.9l-2.3,-5.8M563.9,392.1l-2.3,-5.8M572,391.7l-2.3,-5.7M574.2,391.9l-2.3,-5.7M576.3,392.2l-2.3,-5.7M584.4,391.8l-2.3,-5.7M586.6,392l-2.3,-5.7M588.7,392.2l-2.3,-5.7M596.8,391.8l-2.3,-5.7M599,392l-2.3,-5.7M601.1,392.2l-2.3,-5.7M609.2,391.8l-2.3,-5.7M611.4,392l-2.3,-5.7M613.5,392.2l-2.3,-5.7M621.6,391.8l-2.3,-5.7M623.8,392l-2.3,-5.7M625.9,392.2l-2.3,-5.7M634,391.8l-2.3,-5.7M636.2,392l-2.3,-5.7M638.3,392.2l-2.3,-5.7M646.4,391.8l-2.3,-5.7M648.6,392l-2.3,-5.7M650.7,392.2l-2.3,-5.7M658.8,391.8l-2.3,-5.7M661,392l-2.3,-5.7M663.1,392.2l-2.3,-5.7M671.2,391.8l-2.3,-5.7M673.4,392l-2.3,-5.7M675.5,392.2l-2.3,-5.7M193.8,402.8l-2.4,-5.7M195.9,403l-2.4,-5.7M198.1,403.2l-1.2,-2.9M206.2,402.8l-2.4,-5.7M208.3,402.9l-2.4,-5.7M210.5,403.1l-1.2,-2.9M218.6,402.7l-2.4,-5.7M220.7,402.9l-2.4,-5.7M222.9,403.1l-1.2,-2.9M231,402.5l-2.3,-5.7M233.2,402.7l-2.3,-5.7M235.3,402.9l-1.2,-2.9M243.5,402.2l-2.3,-5.8M245.6,402.5l-2.3,-5.8M247.7,402.7l-1.1,-2.9M255.9,401.9l-2.2,-5.8M258,402.2l-2.2,-5.8M260.2,402.4l-1.1,-2.9M268.3,401.5l-2.1,-5.8M270.5,401.8l-2.1,-5.8M272.6,402.1l-1.1,-2.9M280.8,401.2l-2,-5.9M282.9,401.5l-2,-5.9M285,401.9l-1,-2.9M293.2,401l-2,-5.9M295.3,401.4l-2,-5.9M297.5,401.7l-1,-2.9M305.7,400.8l-2,-5.9M307.8,401.2l-2,-5.9M309.9,401.5l-1,-2.9M318.1,400.7l-1.9,-5.9M320.2,401l-1.9,-5.9M322.3,401.4l-1,-2.9M330.5,400.5l-1.9,-5.9M332.6,400.9l-1.9,-5.9M334.7,401.3l-0.9,-3M342.9,400.4l-1.9,-5.9M345,400.8l-1.9,-5.9M347.2,401.2l-0.9,-3M355.3,400.4l-1.9,-5.9M357.4,400.8l-1.9,-5.9M359.6,401.2l-0.9,-3M367.7,400.4l-1.9,-5.9M369.8,400.8l-1.9,-5.9M372,401.2l-0.9,-3M380.1,400.4l-1.9,-5.9M382.2,400.8l-1.9,-5.9M384.3,401.2l-0.9,-3M392.5,400.5l-1.9,-5.9M394.6,400.9l-1.9,-5.9M396.7,401.3l-0.9,-3M404.9,400.6l-1.9,-5.9M407,401l-1.9,-5.9M409.1,401.4l-1,-3M417.3,400.7l-1.9,-5.9M419.4,401.1l-1.9,-5.9M421.5,401.4l-1,-2.9M429.7,400.8l-1.9,-5.9M431.8,401.1l-1.9,-5.9M433.9,401.5l-1.9,-5.9M442,400.9l-2,-5.9M444.2,401.2l-2,-5.9M446.3,401.6l-2,-5.9M454.4,401l-2,-5.9M456.5,401.3l-2,-5.9M458.7,401.7l-2,-5.9M466.8,401.2l-2,-5.9M468.9,401.5l-2,-5.9M471,401.8l-2,-5.9M479.2,401.3l-2.1,-5.8M481.3,401.6l-2.1,-5.8M483.4,402l-2.1,-5.8M491.5,401.5l-2.1,-5.8M493.7,401.8l-2.1,-5.8M495.8,402.1l-2.1,-5.8M503.9,401.7l-2.2,-5.8M506.1,402l-2.2,-5.8M508.2,402.2l-2.2,-5.8M516.3,401.8l-2.2,-5.8M518.4,402.1l-2.2,-5.8M520.6,402.4l-2.2,-5.8M528.7,401.9l-2.2,-5.8M530.8,402.2l-2.2,-5.8M533,402.4l-2.2,-5.8M541.1,402l-2.2,-5.8M543.2,402.3l-2.2,-5.8M545.3,402.5l-2.2,-5.8M553.5,402.1l-2.3,-5.8M555.6,402.3l-2.3,-5.8M557.7,402.6l-2.3,-5.8M565.9,402.2l-2.3,-5.8M568,402.4l-2.3,-5.8M570.1,402.7l-2.3,-5.8M578.3,402.3l-2.3,-5.8M580.4,402.5l-2.3,-5.8M582.5,402.7l-2.3,-5.8M590.6,402.3l-2.3,-5.8M592.8,402.5l-2.3,-5.8M594.9,402.8l-2.3,-5.8M603,402.3l-2.3,-5.8M605.2,402.5l-2.3,-5.8M607.3,402.8l-2.3,-5.8M615.4,402.3l-2.3,-5.8M617.6,402.5l-2.3,-5.8M619.7,402.7l-2.3,-5.8M627.8,402.3l-2.3,-5.8M630,402.5l-2.3,-5.8M632.1,402.7l-2.3,-5.8M640.2,402.3l-2.3,-5.8M642.4,402.5l-2.3,-5.8M644.5,402.7l-2.3,-5.8M652.7,402.3l-2.3,-5.8M654.8,402.5l-2.3,-5.8M656.9,402.7l-2.3,-5.8M665.1,402.3l-2.3,-5.8M667.2,402.5l-2.3,-5.8M669.3,402.7l-2.3,-5.8M200,413.4l-2.4,-5.7M202.1,413.6l-2.4,-5.7M212.4,413.3l-2.4,-5.7M214.6,413.5l-2.4,-5.7M216.7,413.7l-1.2,-2.9M224.8,413l-2.3,-5.8M227,413.3l-2.3,-5.8M229.1,413.5l-1.2,-2.9M237.3,412.7l-2.2,-5.8M239.4,413l-2.2,-5.8M241.5,413.2l-1.1,-2.9M249.7,412.4l-2.2,-5.8M251.9,412.7l-2.2,-5.8M254,413l-1.1,-2.9M262.2,412l-2.1,-5.8M264.3,412.3l-2.1,-5.8M266.4,412.6l-1,-2.9M274.6,411.6l-2,-5.9M276.8,411.9l-2,-5.9M278.9,412.3l-1,-2.9M287.1,411.3l-1.9,-5.9M289.2,411.7l-1.9,-5.9M291.3,412.1l-1,-2.9M299.5,411.1l-1.9,-5.9M301.6,411.5l-1.9,-5.9M303.8,411.9l-0.9,-3M312,410.9l-1.8,-5.9M314.1,411.3l-1.8,-5.9M316.2,411.7l-0.9,-3M324.4,410.7l-1.8,-5.9M326.5,411.2l-1.8,-5.9M328.6,411.6l-0.9,-3M336.8,410.6l-1.7,-6M338.9,411l-1.7,-6M341,411.5l-0.9,-3M349.2,410.6l-1.7,-6M351.3,411l-1.7,-6M353.4,411.4l-0.9,-3M361.6,410.6l-1.7,-6M363.7,411l-1.7,-6M365.8,411.4l-0.9,-3M374,410.6l-1.7,-6M376.1,411l-1.7,-6M378.2,411.4l-0.9,-3M386.4,410.6l-1.7,-6M388.5,411.1l-1.7,-6M390.6,411.5l-0.9,-3M398.8,410.7l-1.8,-5.9M400.9,411.2l-1.8,-5.9M403,411.6l-0.9,-3M411.2,410.8l-1.8,-5.9M413.3,411.3l-1.8,-5.9M415.4,411.7l-0.9,-3M423.6,410.9l-1.8,-5.9M425.7,411.3l-1.8,-5.9M427.8,411.8l-0.9,-3M435.9,411l-1.8,-5.9M438.1,411.4l-1.8,-5.9M440.2,411.8l-1.8,-5.9M448.3,411.2l-1.9,-5.9M450.4,411.6l-1.9,-5.9M452.5,411.9l-1.9,-5.9M460.7,411.4l-1.9,-5.9M462.8,411.7l-1.9,-5.9M464.9,412.1l-1.9,-5.9M473,411.6l-2,-5.9M475.2,411.9l-2,-5.9M477.3,412.3l-2,-5.9M485.4,411.8l-2,-5.9M487.5,412.1l-2,-5.9M489.7,412.4l-2,-5.9M497.8,412l-2.1,-5.8M499.9,412.3l-2.1,-5.8M502,412.6l-2.1,-5.8M510.2,412.2l-2.1,-5.8M512.3,412.5l-2.1,-5.8M514.4,412.8l-2.1,-5.8M522.5,412.3l-2.1,-5.8M524.7,412.6l-2.1,-5.8M526.8,412.9l-2.1,-5.8M534.9,412.4l-2.2,-5.8M537,412.7l-2.2,-5.8M539.2,413l-2.2,-5.8M547.3,412.5l-2.2,-5.8M549.4,412.8l-2.2,-5.8M551.6,413.1l-2.2,-5.8M559.7,412.6l-2.2,-5.8M561.8,412.9l-2.2,-5.8M564,413.1l-2.2,-5.8M572.1,412.7l-2.2,-5.8M574.2,413l-2.2,-5.8M576.3,413.2l-2.2,-5.8M584.5,412.8l-2.3,-5.8M586.6,413.1l-2.3,-5.8M588.7,413.3l-2.3,-5.8M596.9,412.8l-2.3,-5.8M599,413l-2.3,-5.8M601.1,413.3l-2.3,-5.8M609.3,412.8l-2.2,-5.8M611.4,413l-2.2,-5.8M613.5,413.3l-2.2,-5.8M621.7,412.7l-2.2,-5.8M623.8,413l-2.2,-5.8M625.9,413.3l-2.2,-5.8M634.1,412.7l-2.2,-5.8M636.2,413l-2.2,-5.8M638.3,413.2l-2.2,-5.8M646.5,412.7l-2.2,-5.8M648.6,413l-2.2,-5.8M650.7,413.2l-2.2,-5.8M658.9,412.7l-2.2,-5.8M661,412.9l-2.2,-5.8M663.2,413.2l-2.2,-5.8M671.3,412.7l-2.2,-5.8M673.4,412.9l-2.2,-5.8M675.6,413.2l-2.2,-5.8M193.8,424l-2.4,-5.7M196,424.2l-2.4,-5.7M206.2,423.9l-2.3,-5.7M208.4,424.1l-2.3,-5.7M218.7,423.7l-2.3,-5.8M220.8,423.9l-2.3,-5.8M231.1,423.3l-2.2,-5.8M233.2,423.6l-2.2,-5.8M243.5,422.9l-2.1,-5.8M245.7,423.2l-2.1,-5.8M256,422.5l-2,-5.9M258.1,422.8l-2,-5.9M268.5,422l-1.9,-5.9M270.6,422.4l-1.9,-5.9M281,421.7l-1.8,-5.9M283.1,422.1l-1.8,-5.9M293.4,421.4l-1.8,-5.9M295.5,421.8l-1.8,-5.9M305.9,421.1l-1.7,-6M308,421.6l-1.7,-6M318.3,421l-1.7,-6M320.4,421.4l-1.7,-6M330.7,420.8l-1.6,-6M332.8,421.3l-1.6,-6M343.2,420.7l-1.6,-6M345.3,421.2l-1.6,-6M355.6,420.7l-1.6,-6M357.7,421.2l-1.6,-6M368,420.7l-1.6,-6M370.1,421.2l-1.6,-6M380.3,420.7l-1.6,-6M382.4,421.2l-1.6,-6M384.5,421.7l-0.8,-3M392.7,420.9l-1.6,-6M394.8,421.3l-1.6,-6M396.9,421.8l-0.8,-3M405.1,421l-1.7,-6M407.2,421.4l-1.7,-6M409.3,421.9l-0.8,-3M417.5,421.1l-1.7,-6M419.6,421.6l-1.7,-6M421.7,422l-0.8,-3M429.8,421.2l-1.7,-6M431.9,421.7l-1.7,-6M434.1,422.1l-0.9,-3M442.2,421.3l-1.7,-6M444.3,421.8l-1.7,-6M446.4,422.2l-0.9,-3M454.6,421.5l-1.8,-5.9M456.7,421.9l-1.8,-5.9M458.8,422.4l-0.9,-3M466.9,421.8l-1.8,-5.9M469,422.2l-1.8,-5.9M471.2,422.6l-0.9,-3M479.3,422l-1.9,-5.9M481.4,422.4l-1.9,-5.9M483.5,422.7l-0.9,-3M491.7,422.2l-2,-5.9M493.8,422.6l-2,-5.9M495.9,422.9l-1,-2.9M504,422.5l-2,-5.9M506.1,422.8l-2,-5.9M508.3,423.1l-1,-2.9M516.4,422.7l-2.1,-5.8M518.5,423l-2.1,-5.8M520.6,423.3l-1,-2.9M528.8,422.8l-2.1,-5.8M530.9,423.1l-2.1,-5.8M533,423.4l-1,-2.9M541.1,422.9l-2.1,-5.8M543.3,423.2l-2.1,-5.8M545.4,423.5l-1.1,-2.9M553.5,423l-2.1,-5.8M555.7,423.3l-2.1,-5.8M557.8,423.6l-1.1,-2.9M565.9,423.1l-2.2,-5.8M568,423.4l-2.2,-5.8M570.2,423.7l-1.1,-2.9M578.3,423.3l-2.2,-5.8M580.4,423.5l-2.2,-5.8M582.6,423.8l-1.1,-2.9M590.7,423.3l-2.2,-5.8M592.8,423.6l-2.2,-5.8M595,423.8l-1.1,-2.9M603.1,423.3l-2.2,-5.8M605.2,423.5l-2.2,-5.8M607.4,423.8l-1.1,-2.9M615.5,423.2l-2.2,-5.8M617.6,423.5l-2.2,-5.8M619.8,423.8l-1.1,-2.9M627.9,423.2l-2.2,-5.8M630,423.5l-2.2,-5.8M632.2,423.7l-1.1,-2.9M640.3,423.2l-2.2,-5.8M642.4,423.4l-2.2,-5.8M644.6,423.7l-1.1,-2.9M652.7,423.1l-2.2,-5.8M654.8,423.4l-2.2,-5.8M657,423.7l-1.1,-2.9M665.1,423.1l-2.2,-5.8M667.2,423.4l-2.2,-5.8M669.4,423.7l-1.1,-2.9M200,434.6l-2.3,-5.7M202.2,434.8l-2.3,-5.7M212.5,434.3l-2.3,-5.8M214.6,434.6l-2.3,-5.8M224.9,433.9l-2.2,-5.8M227,434.2l-2.2,-5.8M237.4,433.5l-2.1,-5.8M239.5,433.8l-2.1,-5.8M249.8,433l-2,-5.9M252,433.4l-2,-5.9M262.3,432.5l-1.9,-5.9M264.4,432.9l-1.9,-5.9M274.8,432.1l-1.7,-5.9M276.9,432.5l-1.7,-5.9M287.3,431.7l-1.7,-6M289.4,432.2l-1.7,-6M299.8,431.4l-1.6,-6M301.8,431.9l-1.6,-6M312.2,431.2l-1.5,-6M314.3,431.7l-1.5,-6M324.6,431.1l-1.5,-6M326.7,431.6l-1.5,-6M337.1,430.9l-1.5,-6M339.2,431.4l-1.5,-6M349.5,430.9l-1.5,-6M351.6,431.4l-1.5,-6M361.9,430.9l-1.5,-6M364,431.4l-1.5,-6M374.3,430.9l-1.5,-6M376.4,431.4l-1.5,-6M386.7,431l-1.5,-6M388.7,431.5l-1.5,-6M399,431.1l-1.5,-6M401.1,431.6l-1.5,-6M403.2,432.1l-0.8,-3M411.4,431.2l-1.5,-6M413.5,431.7l-1.5,-6M415.6,432.2l-0.8,-3M423.8,431.4l-1.6,-6M425.9,431.9l-1.6,-6M428,432.4l-0.8,-3M436.1,431.5l-1.6,-6M438.2,432l-1.6,-6M440.3,432.5l-0.8,-3M448.5,431.7l-1.6,-6M450.6,432.1l-1.6,-6M452.7,432.6l-0.8,-3M460.8,431.9l-1.7,-6M462.9,432.4l-1.7,-6M465,432.8l-0.9,-3M473.2,432.2l-1.8,-5.9M475.3,432.6l-1.8,-5.9M477.4,433l-0.9,-3M485.5,432.5l-1.8,-5.9M487.6,432.9l-1.8,-5.9M489.8,433.3l-0.9,-3M497.9,432.7l-1.9,-5.9M500,433.1l-1.9,-5.9M502.1,433.5l-1,-2.9M510.2,433l-2,-5.9M512.4,433.3l-2,-5.9M514.5,433.7l-1,-2.9M522.6,433.2l-2,-5.9M524.7,433.5l-2,-5.9M526.9,433.8l-1,-2.9M535,433.3l-2,-5.9M537.1,433.6l-2,-5.9M539.2,434l-1,-2.9M547.4,433.4l-2.1,-5.8M549.5,433.8l-2.1,-5.8M551.6,434.1l-1,-2.9M559.8,433.6l-2.1,-5.8M561.9,433.9l-2.1,-5.8M564,434.2l-1.1,-2.9M572.1,433.7l-2.1,-5.8M574.3,434l-2.1,-5.8M576.4,434.3l-1.1,-2.9M584.5,433.8l-2.2,-5.8M586.6,434.1l-2.2,-5.8M588.8,434.4l-1.1,-2.9M596.9,433.8l-2.2,-5.8M599.1,434.1l-2.2,-5.8M601.2,434.4l-1.1,-2.9M609.3,433.7l-2.1,-5.8M611.5,434l-2.1,-5.8M613.6,434.3l-1.1,-2.9M621.7,433.7l-2.1,-5.8M623.9,434l-2.1,-5.8M626,434.3l-1.1,-2.9M634.1,433.6l-2.1,-5.8M636.3,433.9l-2.1,-5.8M638.4,434.2l-1.1,-2.9M646.5,433.6l-2.1,-5.8M648.7,433.9l-2.1,-5.8M650.8,434.2l-1.1,-2.9M659,433.5l-2.1,-5.8M661.1,433.8l-2.1,-5.8M663.2,434.1l-1,-2.9M671.4,433.5l-2.1,-5.8M673.5,433.8l-2.1,-5.8M675.6,434.1l-1,-2.9M193.8,445.3l-2.3,-5.7M196,445.5l-1.2,-2.9M206.3,445l-2.3,-5.8M208.4,445.2l-2.3,-5.8M218.7,444.6l-2.2,-5.8M220.8,444.9l-2.2,-5.8M231.2,444.1l-2.1,-5.8M233.3,444.4l-2.1,-5.8M243.7,443.6l-2,-5.9M245.8,444l-2,-5.9M256.1,443.1l-1.8,-5.9M258.3,443.5l-1.8,-5.9M268.7,442.6l-1.7,-6M270.8,443l-1.7,-6M281.2,442.1l-1.6,-6M283.2,442.6l-1.6,-6M293.6,441.8l-1.5,-6M295.7,442.3l-1.5,-6M306.1,441.4l-1.4,-6M308.2,442l-1.4,-6M318.6,441.3l-1.4,-6M320.6,441.8l-1.4,-6M331,441.1l-1.3,-6.1M333.1,441.7l-1.3,-6.1M343.4,441l-1.3,-6.1M345.5,441.6l-1.3,-6.1M355.8,441l-1.3,-6.1M357.9,441.6l-1.3,-6.1M368.2,441l-1.3,-6.1M370.3,441.6l-1.3,-6.1M380.6,441.1l-1.3,-6.1M382.7,441.7l-1.3,-6.1M393,441.2l-1.4,-6M395.1,441.8l-1.4,-6M405.3,441.4l-1.4,-6M407.4,441.9l-1.4,-6M417.7,441.5l-1.4,-6M419.8,442.1l-1.4,-6M421.9,442.6l-0.7,-3M430.1,441.7l-1.5,-6M432.2,442.2l-1.5,-6M434.2,442.7l-0.7,-3M442.4,441.8l-1.5,-6M444.5,442.3l-1.5,-6M446.6,442.8l-0.8,-3M454.8,442.1l-1.6,-6M456.9,442.6l-1.6,-6M459,443l-0.8,-3M467.1,442.4l-1.6,-6M469.2,442.8l-1.6,-6M471.3,443.3l-0.8,-3M479.4,442.7l-1.7,-6M481.5,443.1l-1.7,-6M483.6,443.5l-0.9,-3M491.8,442.9l-1.8,-5.9M493.9,443.4l-1.8,-5.9M496,443.8l-0.9,-3M504.1,443.2l-1.9,-5.9M506.2,443.6l-1.9,-5.9M508.3,444l-0.9,-3M516.5,443.5l-1.9,-5.9M518.6,443.9l-1.9,-5.9M520.7,444.3l-1,-2.9M528.8,443.7l-2,-5.9M531,444l-2,-5.9M533.1,444.4l-1,-2.9M541.2,443.8l-2,-5.9M543.3,444.2l-2,-5.9M545.5,444.5l-1,-2.9M553.6,444l-2,-5.9M555.7,444.3l-2,-5.9M557.8,444.6l-1,-2.9M566,444.1l-2.1,-5.8M568.1,444.4l-2.1,-5.8M570.2,444.8l-1,-2.9M578.3,444.3l-2.1,-5.8M580.5,444.6l-2.1,-5.8M582.6,444.9l-1.1,-2.9M590.7,444.3l-2.1,-5.8M592.9,444.6l-2.1,-5.8M595,444.9l-1.1,-2.9M603.2,444.3l-2.1,-5.8M605.3,444.6l-2.1,-5.8M607.4,444.9l-1.1,-2.9M615.6,444.2l-2.1,-5.8M617.7,444.5l-2.1,-5.8M619.8,444.8l-1,-2.9M628,444.1l-2.1,-5.8M630.1,444.4l-2.1,-5.8M632.2,444.8l-1,-2.9M640.4,444.1l-2.1,-5.8M642.5,444.4l-2.1,-5.8M644.6,444.7l-1,-2.9M652.8,444l-2,-5.9M654.9,444.3l-2,-5.9M657,444.6l-1,-2.9M665.2,443.9l-2,-5.9M667.3,444.3l-2,-5.9M669.4,444.6l-1,-2.9M199.9,458.2l-2.8,-5.5M202.1,458.2l-1.4,-2.8M212.3,457.8l-2.7,-5.6M214.5,457.8l-1.4,-2.8M224.7,457.1l-2.6,-5.6M226.9,457.2l-1.3,-2.8M237.2,456.4l-2.4,-5.7M239.3,456.5l-2.4,-5.7M249.7,455.6l-2.2,-5.8M251.8,455.8l-2.2,-5.8M262.2,454.6l-2,-5.9M264.3,455l-2,-5.9M274.8,453.7l-1.8,-5.9M276.9,454.1l-1.8,-5.9M287.3,453.1l-1.7,-6M289.4,453.6l-1.7,-6M299.8,452.5l-1.5,-6M301.9,453l-1.5,-6M312.3,452.1l-1.4,-6M314.4,452.7l-1.4,-6M324.8,451.8l-1.3,-6.1M326.9,452.4l-1.3,-6.1M337.3,451.5l-1.3,-6.1M339.4,452.1l-1.3,-6.1M349.7,451.4l-1.2,-6.1M351.8,452.1l-1.2,-6.1M362.1,451.4l-1.2,-6.1M364.2,452l-1.2,-6.1M374.5,451.4l-1.2,-6.1M376.6,452l-1.2,-6.1M386.9,451.5l-1.3,-6.1M389,452.1l-1.3,-6.1M399.2,451.7l-1.3,-6.1M401.3,452.3l-1.3,-6.1M411.6,451.8l-1.3,-6.1M413.7,452.4l-1.3,-6.1M424,452l-1.4,-6M426,452.5l-1.4,-6M436.3,452.1l-1.4,-6M438.4,452.7l-1.4,-6M440.5,453.2l-0.7,-3M448.7,452.3l-1.5,-6M450.8,452.9l-1.5,-6M452.8,453.4l-0.7,-3M461,452.7l-1.6,-6M463.1,453.2l-1.6,-6M465.2,453.7l-0.8,-3M473.3,453.1l-1.7,-6M475.4,453.6l-1.7,-6M477.5,454l-0.8,-3M485.6,453.5l-1.8,-5.9M487.7,453.9l-1.8,-5.9M489.8,454.4l-0.9,-3M497.9,453.9l-1.9,-5.9M500,454.3l-1.9,-5.9M502.2,454.7l-0.9,-3M510.3,454.3l-1.9,-5.9M512.4,454.7l-1.9,-5.9M514.5,455l-1,-2.9M522.6,454.5l-2,-5.9M524.7,454.8l-2,-5.9M526.9,455.2l-1,-2.9M535,454.5l-2,-5.9M537.1,454.9l-2,-5.9M539.3,455.2l-1,-2.9M547.4,454.5l-2,-5.9M549.5,454.9l-2,-5.9M551.7,455.2l-1,-2.9M559.8,454.6l-2,-5.9M561.9,454.9l-2,-5.9M564.1,455.3l-1,-2.9M572.2,454.6l-2,-5.9M574.3,455l-2,-5.9M576.5,455.3l-1,-2.9M584.6,454.7l-2,-5.9M586.7,455l-2,-5.9M588.8,455.3l-1,-2.9M597,454.5l-2,-5.9M599.1,454.8l-2,-5.9M601.3,455.2l-1,-2.9M609.5,454.3l-1.9,-5.9M611.6,454.6l-1.9,-5.9M613.7,455l-1,-2.9M621.9,454.1l-1.9,-5.9M624,454.5l-1.9,-5.9M626.1,454.9l-1,-3M634.3,453.9l-1.9,-5.9M636.4,454.3l-1.9,-5.9M638.6,454.7l-0.9,-3M646.8,453.7l-1.8,-5.9M648.9,454.1l-1.8,-5.9M651,454.5l-0.9,-3M659.2,453.5l-1.8,-5.9M661.3,453.9l-1.8,-5.9M663.4,454.4l-0.9,-3M671.6,453.5l-1.8,-5.9M673.7,453.9l-1.8,-5.9M675.8,454.4l-0.9,-3M193.9,472.2l-3.6,-5.1M196,472l-1.8,-2.5M206.2,471.7l-3.4,-5.2M208.4,471.5l-1.7,-2.6M218.6,471l-3.3,-5.2M220.7,470.9l-1.6,-2.6M230.9,470l-3.1,-5.4M233.1,469.9l-1.5,-2.7M243.3,469l-2.9,-5.5M245.5,469l-1.4,-2.7M255.8,467.6l-2.6,-5.7M257.9,467.7l-1.3,-2.8M268.3,466.2l-2.2,-5.8M270.4,466.4l-1.1,-2.9M280.9,465l-1.9,-5.9M283,465.3l-1,-2.9M293.4,464.1l-1.7,-6M295.5,464.5l-0.9,-3M306,463.2l-1.5,-6M308.1,463.7l-0.8,-3M318.5,462.8l-1.4,-6M320.6,463.3l-0.7,-3M331.1,462.3l-1.3,-6.1M333.1,462.9l-0.6,-3M343.6,462l-1.2,-6.1M345.6,462.6l-0.6,-3M356,461.9l-1.2,-6.1M358,462.5l-0.6,-3M368.4,461.9l-1.2,-6.1M370.5,462.5l-1.2,-6.1M380.8,461.9l-1.2,-6.1M382.9,462.5l-1.2,-6.1M393.1,462l-1.2,-6.1M395.2,462.6l-1.2,-6.1M405.5,462.2l-1.3,-6.1M407.6,462.8l-1.3,-6.1M417.9,462.3l-1.3,-6.1M419.9,462.9l-1.3,-6.1M430.2,462.5l-1.3,-6.1M432.3,463.1l-1.3,-6.1M442.6,462.6l-1.4,-6M444.7,463.2l-1.4,-6M454.9,463l-1.5,-6M457,463.6l-1.5,-6M467.2,463.5l-1.6,-6M469.2,464l-1.6,-6M479.4,464l-1.7,-6M481.5,464.5l-1.7,-6M491.7,464.5l-1.8,-5.9M493.8,464.9l-1.8,-5.9M504,465.1l-2,-5.9M506.2,465.4l-2,-5.9M516.4,465.5l-2.1,-5.8M518.5,465.8l-2.1,-5.8M528.8,465.4l-2,-5.9M530.9,465.7l-2,-5.9M541.2,465.3l-2,-5.9M543.3,465.6l-2,-5.9M553.6,465.2l-2,-5.9M555.7,465.5l-2,-5.9M566,465.1l-2,-5.9M568.2,465.4l-2,-5.9M578.5,465l-1.9,-5.9M580.6,465.3l-1.9,-5.9M590.9,464.7l-1.9,-5.9M593,465.1l-1.9,-5.9M603.4,464.4l-1.8,-5.9M605.5,464.8l-1.8,-5.9M615.8,464.1l-1.7,-6M617.9,464.5l-1.7,-6M620,464.9l-0.9,-3M628.3,463.7l-1.6,-6M630.4,464.2l-1.6,-6M632.5,464.7l-0.8,-3M640.8,463.4l-1.6,-6M642.9,463.9l-1.6,-6M645,464.4l-0.8,-3M653.3,463l-1.5,-6M655.4,463.6l-1.5,-6M657.4,464.1l-0.7,-3M665.7,462.8l-1.4,-6M667.8,463.4l-1.4,-6M669.9,463.9l-0.7,-3M200.6,485.7l-4.1,-4.6M202.7,485.2l-2.1,-2.3M212.8,485.1l-4,-4.8M214.9,484.6l-2,-2.4M225,483.9l-3.8,-4.9M227.1,483.6l-1.9,-2.5M237.2,482.6l-3.5,-5.1M239.4,482.4l-1.7,-2.6M249.5,481.1l-3.2,-5.3M251.7,481l-1.6,-2.7M261.9,479.1l-2.7,-5.6M264.1,479.2l-1.4,-2.8M274.4,477.2l-2.3,-5.8M276.6,477.4l-1.2,-2.9M287,476l-2,-5.9M289.1,476.3l-1,-2.9M299.6,474.8l-1.7,-6M301.7,475.2l-0.9,-3M312.2,473.9l-1.5,-6M314.3,474.4l-0.8,-3M324.8,473.3l-1.4,-6M326.9,473.8l-0.7,-3M337.4,472.7l-1.2,-6.1M339.4,473.3l-0.6,-3M349.8,472.4l-1.1,-6.1M351.9,473.1l-0.6,-3M362.3,472.4l-1.1,-6.1M364.3,473l-0.6,-3M374.7,472.3l-1.1,-6.1M376.7,472.9l-0.6,-3.1M387.1,472.4l-1.1,-6.1M389.1,473l-0.6,-3M399.4,472.5l-1.2,-6.1M401.5,473.2l-1.2,-6.1M411.8,472.7l-1.2,-6.1M413.8,473.3l-1.2,-6.1M424.1,472.8l-1.2,-6.1M426.2,473.4l-1.2,-6.1M436.5,473l-1.3,-6.1M438.5,473.6l-1.3,-6.1M448.8,473.2l-1.3,-6.1M450.9,473.8l-1.3,-6.1M461,473.8l-1.5,-6M463.1,474.4l-1.5,-6M473.3,474.5l-1.7,-6M475.4,474.9l-1.7,-6M485.6,475.1l-1.8,-5.9M487.7,475.5l-1.8,-5.9M497.9,475.7l-2,-5.9M500,476.1l-2,-5.9M510.2,476.3l-2.1,-5.8M512.3,476.6l-2.1,-5.8M522.5,476.4l-2.1,-5.8M524.7,476.7l-2.1,-5.8M535,476.2l-2.1,-5.8M537.1,476.5l-2.1,-5.8M547.4,475.9l-2,-5.9M549.5,476.3l-2,-5.9M559.9,475.7l-1.9,-5.9M562,476l-1.9,-5.9M572.3,475.4l-1.9,-5.9M574.4,475.8l-1.9,-5.9M584.8,475.1l-1.8,-5.9M586.9,475.6l-1.8,-5.9M597.3,474.7l-1.7,-6M599.4,475.1l-1.7,-6M609.8,474.2l-1.6,-6M611.9,474.7l-1.6,-6M622.3,473.7l-1.5,-6M624.4,474.2l-1.5,-6M634.8,473.2l-1.3,-6.1M636.9,473.8l-1.3,-6.1M647.4,472.7l-1.2,-6.1M649.4,473.3l-1.2,-6.1M659.9,472.2l-1.1,-6.1M662,472.9l-1.1,-6.1M672.3,472.2l-1.1,-6.1M674.4,472.8l-1.1,-6.1M195.4,499.8l-4.7,-4M207.6,499l-4.6,-4.2M219.6,498l-4.4,-4.4M231.6,496.5l-4.1,-4.6M243.7,495l-3.8,-4.9M255.8,492.6l-3.3,-5.2M268.1,490.2l-2.8,-5.5M280.6,488.2l-2.4,-5.7M293.2,486.6l-2,-5.9M305.9,485.1l-1.6,-6M318.5,484.4l-1.5,-6M331.1,483.6l-1.3,-6.1M333.2,484.2l-0.6,-3M343.7,483l-1.1,-6.1M345.7,483.7l-0.6,-3M356.1,482.9l-1.1,-6.1M358.2,483.6l-0.5,-3.1M368.6,482.8l-1,-6.1M370.6,483.4l-0.5,-3.1M381,482.7l-1,-6.1M383,483.4l-0.5,-3.1M393.3,482.9l-1.1,-6.1M395.4,483.6l-0.5,-3.1M405.7,483l-1.1,-6.1M407.7,483.7l-0.6,-3M418,483.2l-1.2,-6.1M420.1,483.8l-0.6,-3M430.4,483.3l-1.2,-6.1M432.4,484l-0.6,-3M442.7,483.5l-1.2,-6.1M444.8,484.1l-0.6,-3M455,484.1l-1.4,-6M457,484.6l-0.7,-3M467.2,484.8l-1.6,-6M469.3,485.3l-0.8,-3M479.4,485.5l-1.7,-6M481.5,485.9l-0.9,-3M491.7,486.2l-1.9,-5.9M493.8,486.6l-1,-2.9M504,487l-2.1,-5.8M506.1,487.3l-1,-2.9M516.3,487.6l-2.2,-5.8M518.4,487.9l-1.1,-2.9M528.7,487.2l-2.1,-5.8M530.9,487.5l-1.1,-2.9M541.2,486.8l-2,-5.9M543.3,487.1l-2,-5.9M553.7,486.4l-2,-5.9M555.8,486.8l-2,-5.9M566.1,486l-1.9,-5.9M568.2,486.4l-1.9,-5.9M578.6,485.6l-1.8,-5.9M580.7,486l-1.8,-5.9M591.1,485.1l-1.6,-6M593.2,485.6l-1.6,-6M603.7,484.5l-1.5,-6M605.8,485l-1.5,-6M616.2,483.8l-1.3,-6.1M618.3,484.4l-1.3,-6.1M628.8,483.2l-1.2,-6.1M630.9,483.8l-1.2,-6.1M641.4,482.6l-1,-6.1M643.5,483.2l-1,-6.1M654.1,481.9l-0.8,-6.1M656.1,482.7l-0.8,-6.1M666.6,481.6l-0.7,-6.2M668.6,482.3l-0.7,-6.2M202.7,512.9l-5.1,-3.5M214.7,512l-5,-3.7M226.5,510.5l-4.7,-4M238.2,508.8l-4.4,-4.4M250.1,506.6l-4,-4.7M262,503.7l-3.4,-5.2M274.3,500.8l-2.8,-5.5M286.8,498.9l-2.4,-5.7M299.5,497.1l-1.9,-5.9M312.1,495.7l-1.6,-6M324.8,494.8l-1.4,-6M337.4,493.9l-1.2,-6.1M349.9,493.5l-1.1,-6.1M352,494.2l-0.5,-3.1M362.4,493.3l-1,-6.1M364.4,494l-0.5,-3.1M374.9,493.2l-1,-6.1M376.9,493.9l-0.5,-3.1M387.2,493.3l-1,-6.1M389.3,493.9l-0.5,-3.1M399.6,493.4l-1,-6.1M401.6,494.1l-0.5,-3.1M411.9,493.5l-1.1,-6.1M414,494.2l-0.5,-3.1M424.3,493.7l-1.1,-6.1M426.3,494.3l-0.6,-3.1M436.7,493.8l-1.1,-6.1M438.7,494.4l-0.6,-3M449,494.1l-1.2,-6.1M451,494.7l-0.6,-3M461.1,494.9l-1.4,-6M463.2,495.5l-0.7,-3M473.3,495.7l-1.6,-6M475.4,496.2l-0.8,-3M485.6,496.5l-1.8,-5.9M487.7,497l-0.9,-3M497.8,497.4l-2,-5.9M499.9,497.7l-1,-2.9M510.1,498.2l-2.2,-5.8M512.2,498.5l-1.1,-2.9M522.5,498.2l-2.2,-5.8M524.6,498.5l-1.1,-2.9M535,497.7l-2.1,-5.8M537.1,498l-1,-2.9M547.5,497.1l-2,-5.9M549.6,497.5l-1,-2.9M560,496.6l-1.8,-5.9M562.1,497l-0.9,-3M572.5,496l-1.7,-6M574.6,496.5l-0.8,-3M585,495.5l-1.6,-6M587.1,496l-1.6,-6M597.6,494.7l-1.4,-6M599.7,495.3l-1.4,-6M610.2,493.9l-1.2,-6.1M612.3,494.6l-1.2,-6.1M622.9,493.1l-1,-6.1M624.9,493.9l-1,-6.1M635.5,492.4l-0.8,-6.2M637.6,493.2l-0.8,-6.2M648.2,491.6l-0.6,-6.2M650.2,492.5l-0.6,-6.2M661,490.9l-0.4,-6.2M662.9,491.8l-0.4,-6.2M673.4,490.8l-0.3,-6.2M675.4,491.7l-0.3,-6.2M198.6,526.8l-5.6,-2.7M210.4,526l-5.5,-2.9M222.1,524.9l-5.3,-3.2M233.5,523.1l-5,-3.6M245.1,521.3l-4.7,-4M256.5,518.2l-4.2,-4.6M268.3,514.8l-3.5,-5.1M280.5,512l-2.9,-5.5M293,509.9l-2.4,-5.7M305.7,507.8l-2,-5.9M318.3,506.7l-1.7,-6M330.9,505.6l-1.4,-6M333,506.2l-0.7,-3M343.6,504.7l-1.2,-6.1M345.6,505.3l-0.6,-3M356.1,504.3l-1.1,-6.1M358.2,504.9l-0.5,-3.1M368.7,503.9l-1,-6.1M370.7,504.6l-0.5,-3.1M381.1,503.6l-0.9,-6.1M383.2,504.4l-0.5,-3.1M393.5,503.7l-0.9,-6.1M395.5,504.4l-0.5,-3.1M405.9,503.8l-0.9,-6.1M407.9,504.5l-0.5,-3.1M418.3,503.8l-1,-6.1M420.3,504.5l-0.5,-3.1M430.7,503.9l-1,-6.1M432.7,504.6l-0.5,-3.1M443,503.9l-1,-6.1M445.1,504.6l-0.5,-3.1M455.3,504.5l-1.1,-6.1M457.3,505.1l-0.6,-3M467.4,505.2l-1.3,-6.1M469.5,505.8l-0.7,-3M479.6,505.9l-1.5,-6M481.7,506.5l-0.7,-3M491.9,506.7l-1.7,-6M494,507.1l-0.8,-3M504.1,507.4l-1.9,-5.9M506.2,507.8l-0.9,-3M516.4,508l-2,-5.9M518.5,508.4l-1,-2.9M528.9,507.3l-1.8,-5.9M531.1,507.7l-0.9,-3M541.5,506.6l-1.7,-6M543.6,507.1l-0.8,-3M554.1,505.9l-1.5,-6M556.1,506.4l-0.7,-3M566.6,505.2l-1.3,-6.1M568.7,505.8l-0.7,-3M579.3,504.5l-1.1,-6.1M581.3,505.1l-0.6,-3M591.9,503.7l-0.9,-6.1M593.9,504.4l-0.5,-3.1M604.6,502.9l-0.7,-6.2M606.6,503.6l-0.4,-3.1M617.4,502l-0.5,-6.2M619.4,502.9l-0.2,-3.1M630.2,501.2l-0.3,-6.2M632.1,502.1l-0.1,-3.1M643,500.3l-0,-6.2M644.9,501.3l-0,-3.1M655.8,499.5l0.2,-6.2M657.7,500.6l0.1,-3.1M668.5,499l0.3,-6.2M670.4,500.2l0.2,-3.1M206.6,539.7l-5.9,-2M218.2,538.8l-5.8,-2.3M229.4,537.3l-5.6,-2.8M240.6,535.4l-5.3,-3.2M251.7,532.9l-4.9,-3.8M262.7,529.1l-4.2,-4.5M274.4,525.3l-3.5,-5.1M286.7,522.8l-2.9,-5.5M299.2,520.5l-2.4,-5.7M311.8,518.7l-2,-5.9M324.5,517.4l-1.7,-6M337.2,516.2l-1.4,-6M339.2,516.8l-0.7,-3M349.8,515.4l-1.2,-6.1M351.8,516.1l-0.6,-3M362.4,514.8l-1,-6.1M364.4,515.5l-0.5,-3.1M375,514.2l-0.9,-6.1M377,515l-0.4,-3.1M387.4,514.1l-0.9,-6.1M389.4,514.9l-0.4,-3.1M399.8,514.1l-0.8,-6.1M401.9,514.8l-0.4,-3.1M412.2,514l-0.8,-6.1M414.3,514.8l-0.4,-3.1M424.7,514l-0.8,-6.1M426.7,514.7l-0.4,-3.1M437.1,514l-0.8,-6.1M439.1,514.7l-0.4,-3.1M449.4,514.1l-0.8,-6.1M451.5,514.8l-0.4,-3.1M461.6,514.7l-1,-6.1M463.7,515.4l-0.5,-3.1M473.8,515.3l-1.2,-6.1M475.9,515.9l-0.6,-3M486,515.9l-1.3,-6.1M488.1,516.5l-0.7,-3M498.3,516.5l-1.5,-6M500.4,517.1l-0.7,-3M510.5,517.2l-1.6,-6M512.6,517.6l-0.8,-3M523,516.9l-1.6,-6M525.1,517.4l-0.8,-3M535.6,516l-1.3,-6.1M537.7,516.6l-0.7,-3M548.3,515.2l-1.1,-6.1M550.3,515.8l-0.6,-3M561,514.3l-0.9,-6.1M563,515l-0.5,-3.1M573.7,513.5l-0.7,-6.2M575.7,514.3l-0.3,-3.1M586.4,512.6l-0.5,-6.2M588.4,513.5l-0.2,-3.1M599.2,511.7l-0.2,-6.2M601.2,512.7l-0.1,-3.1M612.1,510.9l0,-6.2M614,511.9l0,-3.1M625,510l0.3,-6.2M626.8,511.1l0.1,-3.1M637.9,509.1l0.5,-6.2M639.7,510.3l0.3,-3.1M650.9,508.3l0.8,-6.2M652.6,509.6l0.4,-3.1M663.8,507.5l1,-6.1M665.5,508.8l0.5,-3.1M203.4,553.2l-6.1,-1M214.6,552.2l-6,-1.4M225.6,550.9l-5.9,-1.9M236.4,549l-5.7,-2.5M249.1,545.8l-2.7,-1.5M259.7,542.4l-2.4,-1.9M270.8,538.4l-2,-2.4M282.7,535.2l-1.7,-2.6M295.1,532.9l-1.4,-2.8M307.6,530.7l-1.1,-2.9M318.1,529.1l-1.9,-5.9M330.7,527.8l-1.6,-6M343.4,526.7l-1.3,-6.1M356,526l-1.1,-6.1M368.7,525.3l-1,-6.1M381.2,524.8l-0.8,-6.1M393.7,524.6l-0.8,-6.1M406.2,524.4l-0.7,-6.2M418.7,524.2l-0.7,-6.2M431.1,524l-0.6,-6.2M443.6,523.8l-0.6,-6.2M455.9,524.1l-0.7,-6.2M468.2,524.5l-0.8,-6.2M470.2,525.2l-0.4,-3.1M480.4,524.9l-0.9,-6.1M482.4,525.6l-0.4,-3.1M492.7,525.3l-1,-6.1M494.7,526l-0.5,-3.1M504.9,525.7l-1.1,-6.1M507,526.4l-0.5,-3.1M517.2,526l-1.2,-6.1M519.3,526.6l-0.6,-3M530,524.9l-0.9,-6.1M532,525.7l-0.4,-3.1M542.8,523.9l-0.6,-6.2M544.8,524.7l-0.3,-3.1M555.6,522.9l-0.3,-6.2M557.6,523.8l-0.2,-3.1M568.5,521.9l-0.1,-6.2M570.4,522.9l-0,-3.1M581.4,520.9l0.2,-6.2M583.3,522l0.1,-3.1M594.4,520l0.5,-6.2M596.2,521.2l0.2,-3.1M607.3,519.3l0.7,-6.2M609,520.5l0.3,-3.1M620.2,518.5l0.9,-6.1M621.9,519.8l0.5,-3.1M633.2,517.8l1.1,-6.1M634.8,519.1l0.6,-3M646.1,517.1l1.4,-6M647.8,518.5l0.7,-3M659.2,516.4l1.6,-6M660.7,517.9l0.8,-3M671.9,516l1.7,-6M673.5,517.5l0.9,-3M211,564.9l-6.2,-0.6M222,563.8l-6.1,-1.1M232.5,562.2l-6,-1.7M244.7,558.9l-2.9,-1.1M255.2,556.3l-2.7,-1.5M265.5,552.2l-2.3,-2M276.8,547.8l-1.9,-2.5M288.9,545.3l-1.6,-2.7M301.3,542.8l-1.3,-2.8M313.9,541l-1.1,-2.9M324.4,539.3l-1.8,-5.9M337.1,537.9l-1.5,-6M349.7,537l-1.2,-6.1M362.4,536.3l-1.1,-6.1M375,535.6l-0.9,-6.1M387.5,535.2l-0.8,-6.2M400.1,534.9l-0.7,-6.2M412.6,534.6l-0.6,-6.2M425.1,534.2l-0.5,-6.2M437.7,533.9l-0.4,-6.2M450.1,533.7l-0.4,-6.2M462.5,534l-0.4,-6.2M474.8,534.2l-0.5,-6.2M487.1,534.4l-0.6,-6.2M489,535.2l-0.3,-3.1M499.4,534.6l-0.6,-6.2M501.4,535.4l-0.3,-3.1M511.7,534.8l-0.7,-6.2M513.7,535.6l-0.3,-3.1M524.3,534.3l-0.5,-6.2M526.3,535.1l-0.3,-3.1M537.2,533.1l-0.2,-6.2M539.2,534.1l-0.1,-3.1M550.2,532.1l0.1,-6.2M552.1,533.1l0,-3.1M563.2,531l0.4,-6.2M565,532.1l0.2,-3.1M576.3,530l0.7,-6.2M578.1,531.2l0.3,-3.1M589.4,529l1,-6.1M591.1,530.3l0.5,-3.1M602.3,528.3l1.2,-6.1M604,529.6l0.6,-3M615.3,527.6l1.4,-6M616.9,529.1l0.7,-3M628.2,527l1.6,-6M629.8,528.5l0.8,-3M641.2,526.4l1.8,-5.9M642.7,527.9l0.9,-3M654.2,525.8l2,-5.9M655.7,527.4l1,-2.9M667.2,525.3l2.2,-5.8M668.7,526.9l1.1,-2.9M206.7,576.7l-6.2,-0.1M217.6,575.8l-6.2,-0.5M228.4,574.7l-6.1,-1M240.2,571.4l-3,-0.8M251,569.7l-2.9,-1.1M260.8,566l-2.6,-1.7M271.3,561.5l-2.2,-2.2M282.8,557.8l-1.8,-2.5M295.1,554.9l-1.5,-2.7M307.6,552.1l-1.1,-2.9M320.2,550.8l-1,-2.9M330.8,549.1l-1.6,-6M343.5,547.9l-1.3,-6.1M356.1,547.1l-1.1,-6.1M368.8,546.4l-0.9,-6.1M381.4,545.8l-0.7,-6.2M393.9,545.4l-0.6,-6.2M406.5,545l-0.5,-6.2M419.1,544.6l-0.4,-6.2M431.6,544.2l-0.3,-6.2M444.2,543.9l-0.2,-6.2M456.7,543.8l-0.2,-6.2M469,543.8l-0.2,-6.2M481.4,543.9l-0.2,-6.2M493.8,543.9l-0.2,-6.2M506.2,544l-0.3,-6.2M508.1,544.9l-0.1,-3.1M518.6,543.9l-0.2,-6.2M520.5,544.9l-0.1,-3.1M531.5,542.9l0.1,-6.2M533.4,543.9l0,-3.1M544.5,541.8l0.4,-6.2M546.4,542.9l0.2,-3.1M557.6,540.8l0.7,-6.2M559.4,542l0.3,-3.1M570.7,539.8l1,-6.1M572.4,541.1l0.5,-3.1M583.8,538.8l1.3,-6.1M585.5,540.2l0.6,-3M596.9,538.1l1.5,-6M598.5,539.5l0.7,-3M609.8,537.5l1.7,-6M611.4,539l0.8,-3M622.8,537l1.9,-5.9M624.3,538.5l0.9,-3M635.7,536.5l2,-5.9M637.2,538l1,-2.9M648.7,536l2.2,-5.8M650.1,537.6l1.1,-2.9M661.6,535.5l2.4,-5.7M663,537.1l1.2,-2.9M674.4,535.2l2.5,-5.7M675.7,536.9l1.2,-2.8M213.3,587.6l-6.2,0M224.2,586.8l-6.2,-0.4M234.7,585.5l-6.1,-1M246.5,582.2l-3,-0.8M256.7,579.8l-2.8,-1.2M266.3,575.5l-2.5,-1.8M277,570.7l-2,-2.3M288.9,567.4l-1.7,-2.6M301.3,564.1l-1.3,-2.8M313.9,561.9l-1,-2.9M324.5,560.2l-1.7,-6M337.2,558.9l-1.4,-6M349.9,558l-1.1,-6.1M362.5,557.2l-0.9,-6.1M375.2,556.5l-0.7,-6.2M387.8,556l-0.6,-6.2M400.4,555.6l-0.5,-6.2M413,555.1l-0.4,-6.2M425.6,554.6l-0.2,-6.2M438.2,554.2l-0.1,-6.2M450.8,553.8l-0,-6.2M463.3,553.7l0,-6.2M475.7,553.6l0.1,-6.2M488.2,553.4l0.1,-6.2M500.7,553.3l0.1,-6.2M513.1,553.2l0.2,-6.2M525.9,552.6l0.3,-6.2M538.9,551.6l0.6,-6.2M552,550.6l0.9,-6.1M565.2,549.6l1.2,-6.1M578.3,548.7l1.5,-6M591.6,547.9l1.8,-5.9M604.5,547.4l2,-5.9M617.4,546.9l2.1,-5.8M630.3,546.5l2.3,-5.8M643.2,546l2.4,-5.7M656.1,545.6l2.6,-5.6M669.1,545.2l2.7,-5.6M307.7,573.1l-1.1,-2.9M320.3,571.8l-0.9,-3M330.9,570l-1.5,-6M343.6,568.8l-1.2,-6.1M356.3,568.1l-1,-6.1M368.9,567.4l-0.8,-6.1M381.6,566.7l-0.6,-6.2M394.2,566.2l-0.5,-6.2M406.8,565.6l-0.3,-6.2M419.5,565.1l-0.2,-6.2M432.2,564.6l-0,-6.2M444.8,564.1l0.1,-6.2M457.4,563.7l0.2,-6.2M470,563.4l0.3,-6.2M482.6,563.2l0.4,-6.2M495.1,562.9l0.5,-6.2M507.7,562.6l0.5,-6.2M520.3,562.3l0.6,-6.2M533.4,561.3l0.9,-6.1M546.5,560.4l1.2,-6.1M559.7,559.5l1.5,-6M572.9,558.7l1.8,-5.9M586.1,557.9l2,-5.9M599.2,557.2l2.3,-5.8M612.1,556.9l2.4,-5.7M624.9,556.5l2.5,-5.7M637.8,556.1l2.7,-5.6M650.7,555.8l2.8,-5.5M663.6,555.4l2.9,-5.5M463.9,574l0.3,-6.2M476.5,573.7l0.4,-6.2M489.1,573.3l0.5,-6.2M501.7,573l0.6,-6.2M514.3,572.7l0.7,-6.2M527.2,572l0.9,-6.1M540.3,571.1l1.2,-6.1M553.5,570.2l1.5,-6M566.7,569.4l1.8,-5.9M579.9,568.6l2,-5.9M593.2,567.8l2.3,-5.8M606.1,567.4l2.4,-5.7M618.9,567l2.6,-5.6M631.8,566.7l2.7,-5.6M644.6,566.4l2.8,-5.5M657.5,566l3,-5.4M670.4,565.7l3.1,-5.4" stroke="#000" stroke-width="0.52" fill="none"/>
<path d="M411,112.4L411.2,108.2L413.1,112.7ZM423.3,113.1L423.4,108.9L425.4,113.4ZM435.6,113.9L435.6,109.7L437.7,114.1ZM447.9,114.5L447.8,110.3L450,114.7ZM460.3,114.8L460.1,110.6L462.4,114.9ZM472.7,115.1L472.5,110.9L474.8,115.2ZM485.1,115.4L484.8,111.2L487.2,115.5ZM497.5,115.7L497.2,111.5L499.6,115.7ZM509.9,116L509.5,111.8L512,116ZM522.3,116.1L521.9,111.9L524.4,116.1ZM534.7,116.1L534.3,111.9L536.8,116.1ZM547.1,116.1L546.7,111.9L549.2,116.1ZM559.5,116.1L559.1,111.9L561.6,116.1ZM571.9,116.1L571.5,111.9L574,116.1ZM584.3,116.1L583.9,111.9L586.4,116.1ZM596.7,116.1L596.3,111.9L598.8,116.1ZM609.1,116.1L608.7,111.9L611.2,116.1ZM621.5,116L621.1,111.8L623.6,116.1ZM633.9,116L633.5,111.8L636,116ZM646.3,116L645.9,111.8L648.4,116ZM658.7,116L658.3,111.8L660.8,116ZM671.1,116L670.7,111.8L673.2,116ZM417.1,123.6L417.2,119.4L419.2,123.9ZM429.4,124.3L429.4,120.1L431.5,124.5ZM441.8,125.1L441.7,120.9L443.9,125.2ZM454.1,125.5L454,121.3L456.2,125.6ZM466.5,125.7L466.3,121.5L468.6,125.8ZM478.9,126L478.6,121.8L481,126.1ZM491.3,126.3L491,122.1L493.4,126.3ZM503.7,126.6L503.3,122.3L505.8,126.6ZM516.1,126.8L515.7,122.6L518.2,126.8ZM528.5,126.8L528.1,122.6L530.6,126.8ZM540.9,126.8L540.5,122.6L543,126.8ZM553.3,126.8L552.9,122.6L555.4,126.8ZM565.7,126.8L565.3,122.6L567.8,126.8ZM578.1,126.8L577.7,122.6L580.2,126.8ZM590.5,126.8L590.1,122.6L592.6,126.8ZM602.9,126.7L602.5,122.5L605,126.8ZM615.3,126.7L614.9,122.5L617.4,126.7ZM627.7,126.7L627.3,122.5L629.8,126.7ZM640.1,126.6L639.7,122.4L642.2,126.7ZM652.5,126.6L652.1,122.4L654.6,126.6ZM664.9,126.6L664.5,122.4L667,126.6ZM410.9,134.1L411.1,129.9L413,134.4ZM423.2,134.8L423.3,130.6L425.3,135ZM435.6,135.5L435.5,131.3L437.7,135.7ZM447.9,136.1L447.8,131.9L450,136.2ZM460.3,136.4L460.1,132.2L462.4,136.5ZM472.7,136.6L472.5,132.4L474.8,136.7ZM485.1,136.9L484.8,132.7L487.2,136.9ZM497.5,137.1L497.2,132.9L499.6,137.2ZM509.9,137.4L509.5,133.2L512,137.4ZM522.3,137.5L521.9,133.3L524.4,137.5ZM534.7,137.5L534.3,133.3L536.8,137.5ZM547.1,137.5L546.7,133.3L549.2,137.5ZM559.5,137.5L559.1,133.3L561.6,137.5ZM571.9,137.5L571.5,133.3L574,137.5ZM584.3,137.5L583.9,133.3L586.4,137.5ZM596.7,137.5L596.3,133.3L598.8,137.5ZM609.1,137.4L608.7,133.2L611.2,137.4ZM621.5,137.3L621.1,133.1L623.6,137.4ZM633.9,137.3L633.5,133.1L636,137.3ZM646.3,137.2L645.9,133L648.4,137.3ZM658.7,137.2L658.4,133L660.8,137.2ZM671.1,137.2L670.8,133L673.2,137.2ZM417.1,145.3L417.2,141.1L419.2,145.5ZM429.4,146L429.4,141.8L431.5,146.2ZM441.7,146.7L441.6,142.5L443.8,146.8ZM454.1,147L453.9,142.8L456.2,147.1ZM466.5,147.3L466.3,143.1L468.6,147.4ZM478.9,147.5L478.6,143.3L481,147.6ZM491.3,147.8L491,143.5L493.4,147.8ZM503.7,148L503.3,143.8L505.8,148ZM516.1,148.2L515.7,144L518.2,148.2ZM528.5,148.2L528.1,144L530.6,148.2ZM540.9,148.2L540.5,144L543,148.2ZM553.3,148.2L552.9,144L555.4,148.2ZM565.7,148.2L565.3,144L567.8,148.2ZM578.1,148.2L577.7,144L580.2,148.2ZM590.5,148.2L590.1,144L592.6,148.2ZM602.9,148.1L602.5,143.9L605,148.1ZM615.3,148L614.9,143.8L617.4,148ZM627.7,148L627.3,143.8L629.8,148ZM640.1,147.9L639.8,143.7L642.2,147.9ZM652.5,147.8L652.2,143.6L654.6,147.9ZM664.9,147.8L664.6,143.6L667,147.8ZM410.9,155.9L411,151.6L413,156.1ZM423.2,156.5L423.2,152.3L425.3,156.7ZM435.6,157.2L435.5,153L437.7,157.3ZM447.9,157.7L447.7,153.5L450,157.8ZM460.3,157.9L460.1,153.7L462.4,158ZM472.7,158.2L472.4,153.9L474.8,158.2ZM485.1,158.4L484.8,154.2L487.2,158.4ZM497.5,158.6L497.2,154.4L499.6,158.6ZM509.9,158.8L509.5,154.6L512,158.8ZM522.3,158.9L521.9,154.7L524.4,158.9ZM534.7,158.9L534.3,154.7L536.8,158.9ZM547.1,158.8L546.7,154.6L549.2,158.8ZM559.5,158.8L559.1,154.6L561.6,158.8ZM571.9,158.8L571.5,154.6L574,158.8ZM584.3,158.7L583.9,154.5L586.4,158.8ZM596.7,158.7L596.3,154.4L598.8,158.7ZM609.1,158.6L608.8,154.3L611.2,158.6ZM621.5,158.5L621.2,154.3L623.6,158.5ZM633.9,158.4L633.6,154.2L636,158.4ZM646.3,158.3L646,154.1L648.4,158.3ZM658.7,158.2L658.4,154L660.8,158.2ZM671.1,158.2L670.8,153.9L673.2,158.2ZM417,167.1L417,162.9L419.1,167.3ZM429.4,167.7L429.3,163.5L431.5,167.9ZM441.7,168.3L441.6,164.1L443.8,168.4ZM454.1,168.6L453.9,164.4L456.2,168.7ZM466.5,168.8L466.2,164.6L468.6,168.9ZM478.9,169L478.6,164.8L481,169.1ZM491.3,169.2L491,165L493.4,169.2ZM503.7,169.4L503.3,165.2L505.8,169.4ZM516.1,169.6L515.7,165.4L518.2,169.6ZM528.5,169.5L528.1,165.3L530.6,169.5ZM540.9,169.5L540.5,165.3L543,169.5ZM553.3,169.4L552.9,165.2L555.4,169.4ZM565.7,169.4L565.3,165.1L567.8,169.4ZM578.1,169.3L577.8,165.1L580.2,169.3ZM590.5,169.2L590.2,165L592.6,169.2ZM602.9,169.1L602.6,164.9L605,169.1ZM615.3,168.9L615,164.7L617.4,169ZM627.7,168.8L627.4,164.6L629.8,168.9ZM640.1,168.7L639.9,164.5L642.2,168.8ZM652.5,168.6L652.3,164.3L654.6,168.6ZM664.9,168.5L664.7,164.3L667,168.6ZM410.8,177.7L410.9,173.5L412.9,177.9ZM423.2,178.3L423.1,174.1L425.3,178.4ZM435.5,178.8L435.4,174.6L437.6,179ZM447.9,179.3L447.7,175.1L450,179.4ZM460.3,179.5L460.1,175.3L462.4,179.6ZM472.7,179.7L472.4,175.5L474.8,179.7ZM485.1,179.9L484.8,175.6L487.2,179.9ZM497.5,180L497.1,175.8L499.6,180.1ZM509.9,180.2L509.5,176L512,180.2ZM522.3,180.2L521.9,176L524.4,180.2ZM534.7,180.2L534.3,175.9L536.8,180.2ZM547.1,180.1L546.7,175.9L549.2,180.1ZM559.5,180L559.2,175.8L561.6,180ZM571.9,179.9L571.6,175.7L574,179.9ZM584.3,179.8L584,175.6L586.4,179.8ZM596.7,179.6L596.4,175.4L598.8,179.7ZM609.1,179.5L608.9,175.3L611.2,179.5ZM621.5,179.3L621.3,175.1L623.6,179.4ZM633.9,179.1L633.7,174.9L636,179.2ZM646.3,179L646.2,174.8L648.4,179.1ZM417,188.9L416.9,184.7L419.1,189.1ZM429.4,189.4L429.2,185.2L431.4,189.5ZM441.7,189.9L441.5,185.7L443.8,190ZM454.1,190.2L453.9,186L456.2,190.2ZM466.5,190.3L466.2,186.1L468.6,190.4ZM478.9,190.5L478.6,186.3L481,190.6ZM491.3,190.7L491,186.5L493.4,190.7ZM503.7,190.8L503.3,186.6L505.8,190.9ZM516.1,191L515.7,186.8L518.2,191ZM528.5,190.9L528.1,186.7L530.6,190.9ZM540.9,190.7L540.5,186.5L543,190.8ZM553.3,190.6L553,186.4L555.4,190.6ZM565.7,190.5L565.4,186.3L567.8,190.5ZM578.1,190.4L577.8,186.1L580.2,190.4ZM590.5,190.2L590.2,186L592.6,190.3ZM602.9,190L602.7,185.8L605,190.1ZM615.3,189.8L615.1,185.6L617.4,189.9ZM627.7,189.6L627.6,185.4L629.8,189.7ZM423.2,200L423,195.8L425.3,200.2ZM435.5,200.5L435.3,196.3L437.6,200.6ZM447.9,200.9L447.7,196.7L450,200.9ZM460.3,201L460,196.8L462.4,201.1ZM472.7,201.2L472.4,197L474.8,201.2ZM485.1,201.3L484.8,197.1L487.2,201.4ZM497.5,201.5L497.1,197.3L499.6,201.5ZM509.9,201.6L509.5,197.4L512,201.6ZM522.3,201.6L521.9,197.4L524.4,201.6ZM534.7,201.4L534.3,197.2L536.8,201.5ZM547.1,201.3L546.8,197.1L549.2,201.3ZM559.5,201.1L559.2,196.9L561.6,201.2ZM571.9,201L571.6,196.8L574,201ZM584.3,200.8L584.1,196.6L586.4,200.9ZM596.7,200.6L596.5,196.4L598.8,200.7ZM609.1,200.4L609,196.2L611.2,200.5ZM429.3,211.1L429.1,206.9L431.4,211.3ZM441.7,211.5L441.5,207.3L443.8,211.6ZM454.1,211.7L453.8,207.5L456.2,211.8ZM466.5,211.8L466.2,207.6L468.6,211.9ZM478.9,212L478.6,207.7L481,212ZM491.3,212.1L491,207.9L493.4,212.1ZM503.7,212.2L503.3,208L505.8,212.2ZM516.1,212.3L515.7,208.1L518.2,212.3ZM528.5,212.1L528.1,207.9L530.6,212.1ZM540.9,212L540.6,207.8L543,212ZM553.3,211.8L553,207.6L555.4,211.9ZM565.7,211.7L565.4,207.4L567.8,211.7ZM578.1,211.5L577.9,207.3L580.2,211.6ZM590.5,211.3L590.3,207.1L592.6,211.4ZM602.9,211.1L602.7,206.9L605,211.2ZM447.9,222.4L447.6,218.2L450,222.5ZM460.3,222.5L460,218.3L462.4,222.6ZM472.7,222.6L472.4,218.4L474.8,222.7ZM485.1,222.7L484.8,218.5L487.2,222.7ZM497.5,222.8L497.2,218.6L499.6,222.8ZM509.9,222.9L509.5,218.7L512,222.9ZM522.3,222.8L522,218.6L524.4,222.8ZM534.7,222.7L534.4,218.4L536.8,222.7ZM547.1,222.5L546.8,218.3L549.2,222.5ZM559.5,222.3L559.2,218.1L561.6,222.4ZM571.9,222.2L571.7,218L574,222.3ZM584.3,222L584.1,217.8L586.4,222.1ZM466.5,233.3L466.2,229.1L468.6,233.4ZM478.9,233.4L478.6,229.2L481,233.4ZM491.3,233.4L491,229.2L493.4,233.4ZM503.7,233.5L503.4,229.3L505.8,233.5ZM516.1,233.5L515.8,229.3L518.2,233.5ZM528.5,233.3L528.2,229.1L530.6,233.4ZM540.9,233.2L540.6,229L543,233.2ZM553.3,233L553,228.8L555.4,233.1ZM565.7,232.9L565.5,228.7L567.8,233ZM485.1,244.1L484.8,239.9L487.2,244.1ZM497.5,244.1L497.2,239.9L499.6,244.1ZM509.9,244.1L509.6,239.9L512,244.1ZM522.3,244L522,239.8L524.4,244.1ZM534.7,243.9L534.4,239.7L536.8,243.9ZM547.1,243.7L546.8,239.5L549.2,243.8ZM503.7,254.7L503.4,250.5L505.8,254.7ZM516.1,254.7L515.8,250.5L518.2,254.7ZM528.5,254.5L528.2,250.3L530.6,254.6Z" stroke="#000" stroke-width="0.25" fill="#000"/>
</g>
<rect x="218.4" y="116.6" width="454" height="453.4" fill="none" stroke="#000" stroke-width="1.1"/>
<path d="M207.2,147.3H218.4M207.2,216.2H218.4M207.2,284H218.4M207.2,351.5H218.4M207.2,419H218.4M207.2,486.5H218.4M207.2,554H218.4M265.2,570V580.8M325.1,570V580.8M385,570V580.8M445,570V580.8M505,570V580.8M564.9,570V580.8M624.8,570V580.8" stroke="#000" stroke-width="1.1" fill="none"/>
<g mask="url(#tm)">
<text x="217.6" y="24.4" font-size="17.57" text-anchor="start" fill="#000" textLength="304.2" lengthAdjust="spacingAndGlyphs">IWFAQRP Eastern US Real Time WRF</text>
<text x="672.4" y="23.6" font-size="11.65" text-anchor="end" fill="#000" textLength="133" lengthAdjust="spacingAndGlyphs" stroke="#000" stroke-width="0.3">Init: 2026-02-10_00:00:00</text>
<text x="672.4" y="37.4" font-size="11.65" text-anchor="end" fill="#000" textLength="142.7" lengthAdjust="spacingAndGlyphs">Valid: 2026-02-11_02:00:00</text>
<text x="220.6" y="74.4" font-size="11.6" text-anchor="start" fill="#000" textLength="92" lengthAdjust="spacingAndGlyphs">Temperature&#160;&#160; (C)</text>
<text x="220.6" y="87.3" font-size="11.6" text-anchor="start" fill="#000" textLength="60.3" lengthAdjust="spacingAndGlyphs">Height&#160;&#160; (m)</text>
<text x="220.6" y="100.1" font-size="11.6" text-anchor="start" fill="#000" textLength="64.1" lengthAdjust="spacingAndGlyphs">Winds&#160;&#160; (kts)</text>
<text x="670.4" y="616" font-size="11.05" text-anchor="end" fill="#00008b" textLength="179.9" lengthAdjust="spacingAndGlyphs">Height Contours: 2900 to 3260 by 60</text>
<text x="670.4" y="639.2" font-size="11.05" text-anchor="end" fill="#ff0000" textLength="184.1" lengthAdjust="spacingAndGlyphs">Temperature Contours: -15 to 15 by 5</text>
<text x="219.9" y="827.6" font-size="10.47" text-anchor="start" fill="#000" textLength="176.5" lengthAdjust="spacingAndGlyphs">OUTPUT FROM WRF V4.6.1 MODEL</text>
<text x="219.9" y="839.8" font-size="10.47" text-anchor="start" fill="#000" textLength="432.5" lengthAdjust="spacingAndGlyphs">WE = 1000 ; SN = 1000 ; Levels = 38 ; Dis = 1.5km ; Phys Opt = 8 ; PBL Opt = 1 ; Cu Opt = 3</text>
<text x="201" y="151.1" font-size="10.5" text-anchor="end" fill="#000">40°N</text>
<text x="201" y="220" font-size="10.5" text-anchor="end" fill="#000">38°N</text>
<text x="201" y="287.8" font-size="10.5" text-anchor="end" fill="#000">36°N</text>
<text x="201" y="355.3" font-size="10.5" text-anchor="end" fill="#000">34°N</text>
<text x="201" y="422.8" font-size="10.5" text-anchor="end" fill="#000">32°N</text>
<text x="201" y="490.3" font-size="10.5" text-anchor="end" fill="#000">30°N</text>
<text x="201" y="557.8" font-size="10.5" text-anchor="end" fill="#000">28°N</text>
<text x="265.5" y="596" font-size="10.5" text-anchor="middle" fill="#000">90°W</text>
<text x="325.4" y="596" font-size="10.5" text-anchor="middle" fill="#000">88°W</text>
<text x="385.3" y="596" font-size="10.5" text-anchor="middle" fill="#000">86°W</text>
<text x="445.3" y="596" font-size="10.5" text-anchor="middle" fill="#000">84°W</text>
<text x="505.3" y="596" font-size="10.5" text-anchor="middle" fill="#000">82°W</text>
<text x="565.2" y="596" font-size="10.5" text-anchor="middle" fill="#000">80°W</text>
<text x="625.1" y="596" font-size="10.5" text-anchor="middle" fill="#000">78°W</text>
</g>
</svg>
</body></html>
